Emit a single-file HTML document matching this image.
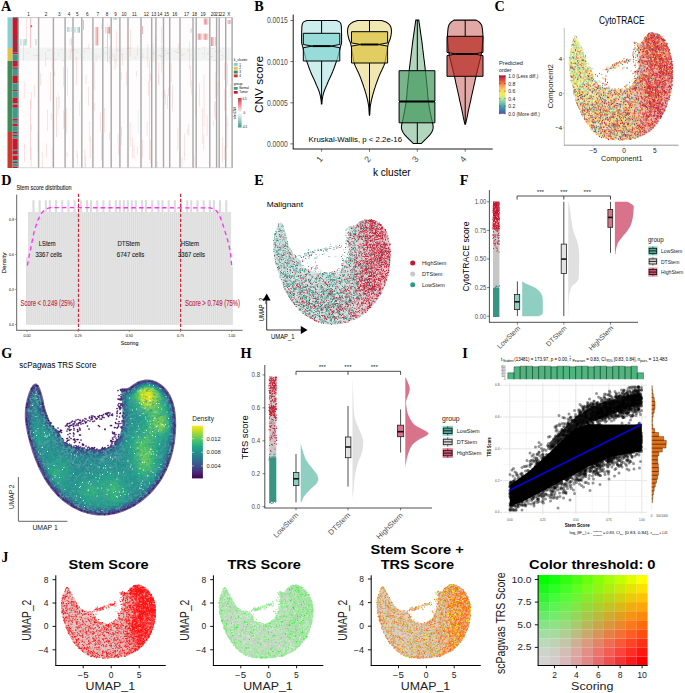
<!DOCTYPE html><html><head><meta charset="utf-8"><style>html,body{margin:0;padding:0;background:#fff;}svg{display:block;}</style></head><body><svg width="685" height="693" viewBox="0 0 685 693" font-family="'Liberation Sans', sans-serif"><text x="1" y="11.3" font-size="14.2" font-weight="bold" font-family="'Liberation Serif', serif">A</text><rect x="7.5" y="17.3" width="5" height="30.7" fill="#86d1d0"/><rect x="7.5" y="48" width="5" height="13" fill="#dcc24e"/><rect x="7.5" y="61" width="5" height="71" fill="#3f8b57"/><rect x="7.5" y="132" width="5" height="36" fill="#c93a2e"/><rect x="12.6" y="17.3" width="5.6" height="1.7" fill="#7a3a5a"/><rect x="12.6" y="19" width="5.6" height="21" fill="#c8182c"/><rect x="12.6" y="40" width="5.6" height="3" fill="#7a3a5a"/><rect x="12.6" y="43" width="5.6" height="4" fill="#c8182c"/><rect x="12.6" y="47" width="5.6" height="2" fill="#7a3a5a"/><rect x="12.6" y="49" width="5.6" height="2" fill="#c8182c"/><rect x="12.6" y="51" width="5.6" height="1.5" fill="#7a3a5a"/><rect x="12.6" y="52.5" width="5.6" height="1.9" fill="#c8182c"/><rect x="12.6" y="54.4" width="5.6" height="6.5" fill="#3a9a8c"/><rect x="12.6" y="60.9" width="5.6" height="2.1" fill="#c8182c"/><rect x="12.6" y="63" width="5.6" height="1" fill="#7a3a5a"/><rect x="12.6" y="64" width="5.6" height="2.5" fill="#c8182c"/><rect x="12.6" y="66.5" width="5.6" height="1" fill="#7a3a5a"/><rect x="12.6" y="67.5" width="5.6" height="1.4" fill="#c8182c"/><rect x="12.6" y="68.9" width="5.6" height="6.5" fill="#3a9a8c"/><rect x="12.6" y="75.4" width="5.6" height="7.9" fill="#c8182c"/><rect x="12.6" y="83.3" width="5.6" height="6.5" fill="#3a9a8c"/><rect x="12.6" y="89.8" width="5.6" height="1.4" fill="#c8182c"/><rect x="12.6" y="91.2" width="5.6" height="6.5" fill="#3a9a8c"/><rect x="12.6" y="97.7" width="5.6" height="5.8" fill="#c8182c"/><rect x="12.6" y="103.5" width="5.6" height="1.1" fill="#3a9a8c"/><rect x="12.6" y="104.6" width="5.6" height="3.2" fill="#c8182c"/><rect x="12.6" y="107.8" width="5.6" height="10.8" fill="#3a9a8c"/><rect x="12.6" y="118.6" width="5.6" height="2.2" fill="#c8182c"/><rect x="12.6" y="120.8" width="5.6" height="2.9" fill="#3a9a8c"/><rect x="12.6" y="123.7" width="5.6" height="2.9" fill="#c8182c"/><rect x="12.6" y="126.6" width="5.6" height="5.1" fill="#3a9a8c"/><rect x="12.6" y="131.7" width="5.6" height="1.3" fill="#c8182c"/><rect x="12.6" y="133" width="5.6" height="1.5" fill="#3a9a8c"/><rect x="12.6" y="134.5" width="5.6" height="1.5" fill="#7a3a5a"/><rect x="12.6" y="136" width="5.6" height="2.7" fill="#3a9a8c"/><rect x="12.6" y="138.7" width="5.6" height="11.1" fill="#c8182c"/><rect x="12.6" y="149.8" width="5.6" height="1.2" fill="#3a9a8c"/><rect x="12.6" y="151" width="5.6" height="3.5" fill="#c8182c"/><rect x="12.6" y="154.5" width="5.6" height="1.2" fill="#3a9a8c"/><rect x="12.6" y="155.7" width="5.6" height="4.6" fill="#c8182c"/><rect x="12.6" y="160.3" width="5.6" height="1.7" fill="#3a9a8c"/><rect x="12.6" y="162" width="5.6" height="1.5" fill="#7a3a5a"/><rect x="12.6" y="163.5" width="5.6" height="3.2" fill="#3a9a8c"/><rect x="12.6" y="166.7" width="5.6" height="1.3" fill="#c8182c"/><rect x="18.2" y="17.3" width="213.8" height="150.7" fill="#fefcfc"/><rect x="18.2" y="47.6" width="213.8" height="13.2" fill="#f1f4f3"/><defs><clipPath id="cA"><rect x="18.2" y="17.3" width="213.8" height="150.7"/></clipPath><pattern id="pR" width="1.2" height="2" patternUnits="userSpaceOnUse"><rect width="0.7" height="2" fill="#e47e7e"/></pattern><pattern id="pT" width="1.2" height="2" patternUnits="userSpaceOnUse"><rect width="0.7" height="2" fill="#7cc4b8"/></pattern></defs><g clip-path="url(#cA)"><rect x="30.8" y="147.1" width="0.5" height="24.2" fill="#f4caca"/><rect x="24.7" y="143.7" width="0.5" height="4.1" fill="#f4caca"/><rect x="34" y="85" width="0.5" height="11.9" fill="#f4caca"/><rect x="23.9" y="81.7" width="0.5" height="17.1" fill="#f4caca"/><rect x="37.7" y="132" width="0.5" height="20.2" fill="#cde8e4"/><rect x="23.1" y="40.5" width="0.5" height="19.9" fill="#f4caca"/><rect x="19.8" y="91.8" width="0.5" height="16.1" fill="#cde8e4"/><rect x="30.9" y="91.7" width="0.5" height="16.9" fill="#f4caca"/><rect x="19.3" y="45.1" width="0.5" height="22" fill="#f4caca"/><rect x="26" y="17.8" width="0.5" height="25.6" fill="#f4caca"/><rect x="24.1" y="144.7" width="0.5" height="17.3" fill="#f4caca"/><rect x="31.1" y="124.6" width="0.5" height="6.4" fill="#f4caca"/><rect x="46.1" y="143.4" width="0.5" height="13.4" fill="#f4caca"/><rect x="40.2" y="73.4" width="0.5" height="12.4" fill="#f4caca"/><rect x="50.2" y="72.2" width="0.5" height="29.4" fill="#f4caca"/><rect x="47.4" y="109.6" width="0.5" height="21.6" fill="#f4caca"/><rect x="45.2" y="52" width="0.5" height="14.5" fill="#f4caca"/><rect x="52.2" y="48.4" width="0.5" height="21.5" fill="#f4caca"/><rect x="50.9" y="113.1" width="0.5" height="7.4" fill="#f4caca"/><rect x="51.9" y="148.1" width="0.5" height="18.8" fill="#f4caca"/><rect x="41.9" y="151.6" width="0.5" height="18.4" fill="#f4caca"/><rect x="63.1" y="110.1" width="0.5" height="18.8" fill="#f4caca"/><rect x="58.4" y="52" width="0.5" height="5" fill="#cde8e4"/><rect x="58.9" y="96.5" width="0.5" height="12.4" fill="#f4caca"/><rect x="54.5" y="71.2" width="0.5" height="4.8" fill="#f4caca"/><rect x="64" y="112.5" width="0.5" height="15.1" fill="#f4caca"/><rect x="63" y="67.1" width="0.5" height="19.3" fill="#f4caca"/><rect x="57.8" y="92.4" width="0.5" height="23.9" fill="#cde8e4"/><rect x="66.9" y="152.4" width="0.5" height="4.1" fill="#f4caca"/><rect x="71" y="37.1" width="0.5" height="14.9" fill="#f4caca"/><rect x="66" y="108.2" width="0.5" height="24.6" fill="#f4caca"/><rect x="70.5" y="50.1" width="0.5" height="9.2" fill="#f4caca"/><rect x="67" y="67.4" width="0.5" height="28.7" fill="#f4caca"/><rect x="76.2" y="56.6" width="0.5" height="28.8" fill="#f4caca"/><rect x="80.9" y="91.9" width="0.5" height="17.6" fill="#cde8e4"/><rect x="79.1" y="101.3" width="0.5" height="15.1" fill="#cde8e4"/><rect x="76.8" y="150.8" width="0.5" height="5.8" fill="#f4caca"/><rect x="77.5" y="154.9" width="0.5" height="10.5" fill="#f4caca"/><rect x="89" y="121.1" width="0.5" height="20.4" fill="#cde8e4"/><rect x="85.8" y="74.9" width="0.5" height="9.3" fill="#f4caca"/><rect x="84.6" y="149.8" width="0.5" height="25.8" fill="#f4caca"/><rect x="88.3" y="86.6" width="0.5" height="19.5" fill="#f4caca"/><rect x="85.5" y="156.4" width="0.5" height="16.1" fill="#f4caca"/><rect x="88.6" y="43.9" width="0.5" height="5.6" fill="#f4caca"/><rect x="89.9" y="135.3" width="0.5" height="23" fill="#f4caca"/><rect x="101.3" y="133.4" width="0.5" height="26.8" fill="#f4caca"/><rect x="101.3" y="24.1" width="0.5" height="4.8" fill="#f4caca"/><rect x="95.8" y="53.3" width="0.5" height="8.9" fill="#f4caca"/><rect x="94" y="102.7" width="0.5" height="8.3" fill="#f4caca"/><rect x="93.9" y="62.2" width="0.5" height="28.4" fill="#f4caca"/><rect x="100.4" y="112.5" width="0.5" height="19.9" fill="#f4caca"/><rect x="107.5" y="23" width="0.5" height="24.8" fill="#cde8e4"/><rect x="109.4" y="24.6" width="0.5" height="12.8" fill="#f4caca"/><rect x="104.4" y="108" width="0.5" height="24.7" fill="#f4caca"/><rect x="109.5" y="132.6" width="0.5" height="7.4" fill="#f4caca"/><rect x="109.6" y="45.8" width="0.5" height="18.9" fill="#f4caca"/><rect x="116.3" y="31.2" width="0.5" height="21.2" fill="#f4caca"/><rect x="117.8" y="133.6" width="0.5" height="12.5" fill="#f4caca"/><rect x="118.2" y="146.5" width="0.5" height="8.2" fill="#f4caca"/><rect x="116.6" y="48.4" width="0.5" height="18.7" fill="#cde8e4"/><rect x="114.7" y="53.9" width="0.5" height="15.9" fill="#f4caca"/><rect x="121.4" y="72.4" width="0.5" height="7.5" fill="#f4caca"/><rect x="126.1" y="71.8" width="0.5" height="13.7" fill="#f4caca"/><rect x="122.1" y="53.1" width="0.5" height="12.6" fill="#f4caca"/><rect x="121.2" y="126.2" width="0.5" height="19.1" fill="#f4caca"/><rect x="121.2" y="127.7" width="0.5" height="7.4" fill="#f4caca"/><rect x="130.3" y="29.1" width="0.5" height="27.6" fill="#f4caca"/><rect x="132.3" y="137.8" width="0.5" height="20.1" fill="#f4caca"/><rect x="133.8" y="145.2" width="0.5" height="13.8" fill="#f4caca"/><rect x="129.9" y="122.5" width="0.5" height="24.2" fill="#f4caca"/><rect x="136.5" y="70.9" width="0.5" height="5.7" fill="#f4caca"/><rect x="137.4" y="44.9" width="0.5" height="10.9" fill="#f4caca"/><rect x="137.3" y="147" width="0.5" height="7.3" fill="#f4caca"/><rect x="137.9" y="110.6" width="0.5" height="22.7" fill="#cde8e4"/><rect x="150.3" y="139.3" width="0.5" height="24.2" fill="#f4caca"/><rect x="147.6" y="44" width="0.5" height="23.7" fill="#f4caca"/><rect x="148.4" y="81.7" width="0.5" height="13.8" fill="#f4caca"/><rect x="142.1" y="139.5" width="0.5" height="18.1" fill="#f4caca"/><rect x="146.8" y="121.7" width="0.5" height="13.9" fill="#f4caca"/><rect x="150.2" y="73.4" width="0.5" height="7.6" fill="#f4caca"/><rect x="155.1" y="38.7" width="0.5" height="22.5" fill="#f4caca"/><rect x="154.9" y="35.2" width="0.5" height="6.4" fill="#cde8e4"/><rect x="152.8" y="42.9" width="0.5" height="18.9" fill="#f4caca"/><rect x="161.2" y="44.9" width="0.5" height="27.8" fill="#f4caca"/><rect x="161.3" y="27.1" width="0.5" height="16.3" fill="#f4caca"/><rect x="158.6" y="62.5" width="0.5" height="22.7" fill="#f4caca"/><rect x="157" y="161.3" width="0.5" height="27.1" fill="#cde8e4"/><rect x="158.2" y="74.3" width="0.5" height="9.9" fill="#f4caca"/><rect x="164.5" y="90.1" width="0.5" height="7.2" fill="#f4caca"/><rect x="168.3" y="87.4" width="0.5" height="8.8" fill="#f4caca"/><rect x="165.5" y="93.5" width="0.5" height="11.4" fill="#f4caca"/><rect x="167.2" y="94.9" width="0.5" height="14.3" fill="#f4caca"/><rect x="178.1" y="43.3" width="0.5" height="7.5" fill="#f4caca"/><rect x="179" y="153.5" width="0.5" height="10" fill="#cde8e4"/><rect x="172.3" y="90.6" width="0.5" height="16.9" fill="#cde8e4"/><rect x="170.9" y="62.9" width="0.5" height="19.6" fill="#f4caca"/><rect x="172.6" y="84.6" width="0.5" height="26.9" fill="#f4caca"/><rect x="177.7" y="127.4" width="0.5" height="22.4" fill="#f4caca"/><rect x="188.6" y="123.8" width="0.5" height="11.8" fill="#f4caca"/><rect x="189.4" y="41.3" width="0.5" height="27.9" fill="#f4caca"/><rect x="184.6" y="152.8" width="0.5" height="8" fill="#f4caca"/><rect x="181.8" y="157" width="0.5" height="19" fill="#f4caca"/><rect x="184" y="133.3" width="0.5" height="22.3" fill="#f4caca"/><rect x="191.6" y="80" width="0.5" height="14.8" fill="#f4caca"/><rect x="190.3" y="65.8" width="0.5" height="21.4" fill="#f4caca"/><rect x="187.1" y="128.6" width="0.5" height="5.7" fill="#f4caca"/><rect x="193.8" y="156" width="0.5" height="16.2" fill="#f4caca"/><rect x="195" y="93" width="0.5" height="23" fill="#f4caca"/><rect x="203.8" y="98.1" width="0.5" height="28.2" fill="#f4caca"/><rect x="202.4" y="108.6" width="0.5" height="18.3" fill="#f4caca"/><rect x="204.1" y="49.5" width="0.5" height="9.1" fill="#cde8e4"/><rect x="199.4" y="83" width="0.5" height="23.5" fill="#f4caca"/><rect x="203.6" y="134.1" width="0.5" height="16.1" fill="#f4caca"/><rect x="206.8" y="115.4" width="0.5" height="20.7" fill="#f4caca"/><rect x="203.7" y="74.6" width="0.5" height="23.4" fill="#f4caca"/><rect x="202.6" y="126.6" width="0.5" height="17.1" fill="#f4caca"/><rect x="214.9" y="72.4" width="0.5" height="26" fill="#f4caca"/><rect x="212.9" y="120.5" width="0.5" height="4.9" fill="#f4caca"/><rect x="215.1" y="101.2" width="0.5" height="18.5" fill="#f4caca"/><rect x="214.1" y="101.7" width="0.5" height="14.9" fill="#f4caca"/><rect x="217.7" y="59.7" width="0.5" height="15.2" fill="#cde8e4"/><rect x="217.8" y="82" width="0.5" height="13.7" fill="#f4caca"/><rect x="224.6" y="145.9" width="0.5" height="13.8" fill="#f4caca"/><rect x="224.3" y="88.8" width="0.5" height="21.8" fill="#f4caca"/><rect x="224.2" y="62.6" width="0.5" height="16.9" fill="#f4caca"/><rect x="222.1" y="137.1" width="0.5" height="25.5" fill="#f4caca"/><rect x="230.2" y="83.6" width="0.5" height="13.7" fill="#f4caca"/><rect x="227.5" y="63.1" width="0.5" height="22.4" fill="#f4caca"/><rect x="226.8" y="123.3" width="0.5" height="25.3" fill="#f4caca"/><rect x="226.8" y="116.1" width="0.5" height="10.4" fill="#f4caca"/><rect x="98.8" y="55.8" width="1.8" height="0.5" fill="#f2c4c4"/><rect x="120" y="54.3" width="2.9" height="0.5" fill="#f2c4c4"/><rect x="62.1" y="60" width="1.9" height="0.5" fill="#f2c4c4"/><rect x="83.9" y="50.8" width="1.2" height="0.5" fill="#f2c4c4"/><rect x="108.7" y="57.5" width="3.1" height="0.5" fill="#f2c4c4"/><rect x="60.5" y="49.3" width="2" height="0.5" fill="#f2c4c4"/><rect x="181.9" y="53.8" width="3.8" height="0.5" fill="#f2c4c4"/><rect x="158.2" y="55.6" width="3.3" height="0.5" fill="#f2c4c4"/><rect x="178.1" y="52" width="1.8" height="0.5" fill="#f2c4c4"/><rect x="111.8" y="53.9" width="1.4" height="0.5" fill="#f2c4c4"/><rect x="112.6" y="55.8" width="1.4" height="0.5" fill="#f2c4c4"/><rect x="48.3" y="49.8" width="1.8" height="0.5" fill="#f2c4c4"/><rect x="222.9" y="47.8" width="1.6" height="0.5" fill="#f2c4c4"/><rect x="54" y="53.7" width="1" height="0.5" fill="#f2c4c4"/><rect x="116.1" y="49.6" width="1.8" height="0.5" fill="#f2c4c4"/><rect x="187" y="49.9" width="2.9" height="0.5" fill="#f2c4c4"/><rect x="105.1" y="52.9" width="3.5" height="0.5" fill="#f2c4c4"/><rect x="53.1" y="59.5" width="3.7" height="0.5" fill="#f2c4c4"/><rect x="160.7" y="48.1" width="3" height="0.5" fill="#f2c4c4"/><rect x="146.3" y="57.5" width="1.6" height="0.5" fill="#f2c4c4"/><rect x="221.1" y="59" width="1.3" height="0.5" fill="#f2c4c4"/><rect x="85.8" y="47.9" width="3.5" height="0.5" fill="#f2c4c4"/><rect x="213" y="60.4" width="2.8" height="0.5" fill="#f2c4c4"/><rect x="160.2" y="56.3" width="2.7" height="0.5" fill="#f2c4c4"/><rect x="220.9" y="55.4" width="2" height="0.5" fill="#f2c4c4"/><rect x="127.7" y="47.7" width="3.2" height="0.5" fill="#f2c4c4"/><rect x="166.1" y="53" width="3.6" height="0.5" fill="#f2c4c4"/><rect x="179.2" y="51.9" width="1.2" height="0.5" fill="#f2c4c4"/><rect x="47" y="49.9" width="1.9" height="0.5" fill="#f2c4c4"/><rect x="113.9" y="59.6" width="1.8" height="0.5" fill="#f2c4c4"/><rect x="209.5" y="56.3" width="3.6" height="0.5" fill="#f2c4c4"/><rect x="104.5" y="47.5" width="3.4" height="0.5" fill="#f2c4c4"/><rect x="71" y="49.4" width="3.4" height="0.5" fill="#f2c4c4"/><rect x="164.5" y="50.3" width="1.8" height="0.5" fill="#f2c4c4"/><rect x="218.1" y="51" width="3.1" height="0.5" fill="#f2c4c4"/><rect x="46.5" y="58.1" width="1.4" height="0.5" fill="#f2c4c4"/><rect x="128.4" y="48" width="2.7" height="0.5" fill="#f2c4c4"/><rect x="198.5" y="48.6" width="1.8" height="0.5" fill="#f2c4c4"/><rect x="181.1" y="55.4" width="1.9" height="0.5" fill="#f2c4c4"/><rect x="152.3" y="53.4" width="3.6" height="0.5" fill="#f2c4c4"/><rect x="81.1" y="57.4" width="2.9" height="0.5" fill="#f2c4c4"/><rect x="176" y="52.4" width="3.2" height="0.5" fill="#f2c4c4"/><rect x="167.1" y="52.5" width="1.1" height="0.5" fill="#f2c4c4"/><rect x="223.1" y="56.8" width="1.6" height="0.5" fill="#f2c4c4"/><rect x="173.9" y="51.1" width="2.4" height="0.5" fill="#f2c4c4"/><rect x="201.3" y="53.3" width="1.9" height="0.5" fill="#f2c4c4"/><rect x="83.8" y="48.5" width="1.7" height="0.5" fill="#f2c4c4"/><rect x="76.5" y="49.7" width="1.2" height="0.5" fill="#f2c4c4"/><rect x="117.7" y="50.3" width="3.2" height="0.5" fill="#f2c4c4"/><rect x="214.6" y="51" width="2.7" height="0.5" fill="#f2c4c4"/><rect x="126.4" y="48.5" width="1.4" height="0.5" fill="#f2c4c4"/><rect x="206.6" y="53.7" width="3.4" height="0.5" fill="#f2c4c4"/><rect x="33.1" y="55.2" width="3.6" height="0.5" fill="#f2c4c4"/><rect x="202.8" y="47.6" width="2.6" height="0.5" fill="#f2c4c4"/><rect x="97.2" y="57.4" width="1.2" height="0.5" fill="#f2c4c4"/><rect x="75.2" y="58.1" width="2.4" height="0.5" fill="#f2c4c4"/><rect x="115.1" y="60.1" width="2" height="0.5" fill="#f2c4c4"/><rect x="27.8" y="52.6" width="1.5" height="0.5" fill="#f2c4c4"/><rect x="36.4" y="54.9" width="3.9" height="0.5" fill="#f2c4c4"/><rect x="141.8" y="55.9" width="2" height="0.5" fill="#f2c4c4"/><rect x="140.1" y="57.3" width="2.8" height="0.5" fill="#f2c4c4"/><rect x="189.2" y="54.7" width="1.6" height="0.5" fill="#f2c4c4"/><rect x="142.5" y="53.9" width="1.5" height="0.5" fill="#f2c4c4"/><rect x="150.3" y="58.1" width="1.4" height="0.5" fill="#f2c4c4"/><rect x="134.5" y="57" width="2.2" height="0.5" fill="#f2c4c4"/><rect x="76.2" y="52.3" width="2.6" height="0.5" fill="#f2c4c4"/><rect x="164.6" y="54.8" width="1.3" height="0.5" fill="#f2c4c4"/><rect x="192.4" y="59.5" width="1.3" height="0.5" fill="#f2c4c4"/><rect x="71.9" y="49.8" width="3.5" height="0.5" fill="#f2c4c4"/><rect x="212" y="48.1" width="2" height="0.5" fill="#f2c4c4"/></g><rect x="30.2" y="25.3" width="1.9" height="1.9" fill="#d83a3a"/><rect x="30.3" y="18" width="0.8" height="30" fill="#f0b4b4"/><rect x="19.8" y="39" width="7" height="6.5" fill="url(#pT)" opacity="0.6"/><rect x="34.3" y="39" width="2.4" height="6.5" fill="url(#pT)" opacity="0.6"/><rect x="67.2" y="27" width="4.8" height="5" fill="url(#pT)" opacity="0.7"/><rect x="69.6" y="39" width="2.4" height="6.5" fill="url(#pT)" opacity="0.6"/><rect x="74.4" y="27" width="5.6" height="5.7" fill="url(#pT)" opacity="0.8"/><rect x="94.5" y="27" width="4" height="18.5" fill="url(#pR)" opacity="0.7"/><rect x="105" y="27" width="5.5" height="6.5" fill="url(#pR)" opacity="0.8"/><rect x="107" y="27" width="0.8" height="35" fill="#f0c0c0"/><rect x="203.5" y="18.4" width="5.7" height="6.2" fill="url(#pR)" opacity="0.8"/><rect x="197.3" y="33.6" width="11.9" height="6.2" fill="url(#pR)" opacity="0.75"/><rect x="211" y="37" width="5.7" height="9" fill="url(#pR)" opacity="0.8"/><rect x="227" y="20" width="4.5" height="4" fill="url(#pR)" opacity="0.6"/><rect x="189.8" y="28.5" width="2.2" height="4.3" fill="url(#pT)" opacity="0.8"/><rect x="142" y="26" width="1" height="8" fill="#f0b8b8"/><rect x="149" y="60" width="0.9" height="100" fill="#f5d4d4"/><rect x="56" y="97" width="0.8" height="40" fill="#f5d4d4"/><rect x="30" y="100" width="0.8" height="60" fill="#f4cccc"/><rect x="83" y="20" width="1" height="10" fill="#f0b8b8"/><rect x="112.5" y="18" width="5" height="1.8" fill="url(#pT)" opacity="0.7"/><rect x="17.6" y="17.3" width="1.4" height="150.7" fill="#a9a9a9"/><rect x="37.9" y="17.3" width="1.4" height="150.7" fill="#a9a9a9"/><rect x="52.7" y="17.3" width="1.4" height="150.7" fill="#a9a9a9"/><rect x="64.4" y="17.3" width="1.4" height="150.7" fill="#a9a9a9"/><rect x="72.3" y="17.3" width="1.4" height="150.7" fill="#a9a9a9"/><rect x="81.1" y="17.3" width="1.4" height="150.7" fill="#a9a9a9"/><rect x="92.2" y="17.3" width="1.4" height="150.7" fill="#a9a9a9"/><rect x="102.1" y="17.3" width="1.4" height="150.7" fill="#a9a9a9"/><rect x="110.5" y="17.3" width="1.4" height="150.7" fill="#a9a9a9"/><rect x="119.2" y="17.3" width="1.4" height="150.7" fill="#a9a9a9"/><rect x="127.3" y="17.3" width="1.4" height="150.7" fill="#a9a9a9"/><rect x="140.3" y="17.3" width="1.4" height="150.7" fill="#a9a9a9"/><rect x="151" y="17.3" width="1.4" height="150.7" fill="#a9a9a9"/><rect x="155.2" y="17.3" width="1.4" height="150.7" fill="#a9a9a9"/><rect x="162.8" y="17.3" width="1.4" height="150.7" fill="#a9a9a9"/><rect x="169" y="17.3" width="1.4" height="150.7" fill="#a9a9a9"/><rect x="179.3" y="17.3" width="1.4" height="150.7" fill="#a9a9a9"/><rect x="192.3" y="17.3" width="1.4" height="150.7" fill="#a9a9a9"/><rect x="195.5" y="17.3" width="1.4" height="150.7" fill="#a9a9a9"/><rect x="209.1" y="17.3" width="1.4" height="150.7" fill="#a9a9a9"/><rect x="215.9" y="17.3" width="1.4" height="150.7" fill="#a9a9a9"/><rect x="218.5" y="17.3" width="1.4" height="150.7" fill="#a9a9a9"/><rect x="225" y="17.3" width="1.4" height="150.7" fill="#a9a9a9"/><rect x="231.4" y="17.3" width="1.4" height="150.7" fill="#a9a9a9"/><line x1="18.2" y1="17.6" x2="232" y2="17.6" stroke="#b0b0b0" stroke-width="0.7"/><line x1="18.2" y1="167.7" x2="232" y2="167.7" stroke="#c8c8c8" stroke-width="0.7"/><text x="28.5" y="15.8" font-size="4.6" text-anchor="middle" fill="#222">1</text><text x="46" y="15.8" font-size="4.6" text-anchor="middle" fill="#222">2</text><text x="59.2" y="15.8" font-size="4.6" text-anchor="middle" fill="#222">3</text><text x="69" y="15.8" font-size="4.6" text-anchor="middle" fill="#222">4</text><text x="77.4" y="15.8" font-size="4.6" text-anchor="middle" fill="#222">5</text><text x="87.3" y="15.8" font-size="4.6" text-anchor="middle" fill="#222">6</text><text x="97.8" y="15.8" font-size="4.6" text-anchor="middle" fill="#222">7</text><text x="107" y="15.8" font-size="4.6" text-anchor="middle" fill="#222">8</text><text x="115.6" y="15.8" font-size="4.6" text-anchor="middle" fill="#222">9</text><text x="124" y="15.8" font-size="4.6" text-anchor="middle" fill="#222">10</text><text x="134.5" y="15.8" font-size="4.6" text-anchor="middle" fill="#222">11</text><text x="146.3" y="15.8" font-size="4.6" text-anchor="middle" fill="#222">12</text><text x="153.8" y="15.8" font-size="4.6" text-anchor="middle" fill="#222">13</text><text x="159.7" y="15.8" font-size="4.6" text-anchor="middle" fill="#222">14</text><text x="166.6" y="15.8" font-size="4.6" text-anchor="middle" fill="#222">15</text><text x="174.8" y="15.8" font-size="4.6" text-anchor="middle" fill="#222">16</text><text x="186.5" y="15.8" font-size="4.6" text-anchor="middle" fill="#222">17</text><text x="194.6" y="15.8" font-size="4.6" text-anchor="middle" fill="#222">18</text><text x="203" y="15.8" font-size="4.6" text-anchor="middle" fill="#222">19</text><text x="213.2" y="15.8" font-size="4.6" text-anchor="middle" fill="#222">20</text><text x="217.9" y="15.8" font-size="4.6" text-anchor="middle" fill="#222">21</text><text x="222.4" y="15.8" font-size="4.6" text-anchor="middle" fill="#222">22</text><text x="228.9" y="15.8" font-size="4.6" text-anchor="middle" fill="#222">X</text><text x="233.8" y="61.2" font-size="3.4">k_cluster</text><rect x="233.8" y="63" width="3.9" height="2.9" fill="#86d1d0"/><text x="239.2" y="65.6" font-size="3.0">1</text><rect x="233.8" y="66.8" width="3.9" height="2.9" fill="#dcc24e"/><text x="239.2" y="69.4" font-size="3.0">2</text><rect x="233.8" y="70.6" width="3.9" height="2.9" fill="#3f8b57"/><text x="239.2" y="73.2" font-size="3.0">3</text><rect x="233.8" y="74.4" width="3.9" height="2.9" fill="#c93a2e"/><text x="239.2" y="77" font-size="3.0">4</text><text x="233.8" y="85" font-size="3.4">group</text><rect x="233.8" y="87" width="3.9" height="2.7" fill="#3a9a8c"/><text x="239.2" y="89.4" font-size="3.0">Normal</text><rect x="233.8" y="91" width="3.9" height="2.7" fill="#c8182c"/><text x="239.2" y="93.4" font-size="3.0">Tumor</text><defs><linearGradient id="gA" x1="0" y1="0" x2="0" y2="1"><stop offset="0" stop-color="#d1343c"/><stop offset="0.5" stop-color="#ffffff"/><stop offset="1" stop-color="#3f9c8c"/></linearGradient></defs><rect x="238" y="98" width="3.6" height="29.5" fill="url(#gA)"/><text x="242.5" y="100.2" font-size="3.0">0.5</text><text x="243.5" y="113.8" font-size="3.0">0</text><text x="242" y="127.6" font-size="3.0">-0.5</text><text x="236.2" y="113" font-size="3.0" text-anchor="middle" transform="rotate(-90 236.2 113)">inferCNV</text><text x="254.2" y="11.3" font-size="14.2" font-weight="bold" font-family="'Liberation Serif', serif">B</text><path d="M336.5 20.4 L339.5 21.8 L340.6 23.2 L341 24.7 L341.3 26.1 L341.4 27.5 L341.4 28.9 L341.5 30.3 L341.5 31.7 L341.5 33.2 L341.6 34.6 L341.6 36 L341.6 37.4 L341.6 38.8 L341.6 40.2 L341.6 41.7 L341.5 43.1 L341.2 44.5 L340.7 45.9 L340.3 47.3 L340 48.7 L339.6 50.2 L339.2 51.6 L338.9 53 L338.5 54.4 L338.1 55.8 L337.7 57.2 L337.3 58.7 L336.8 60.1 L336.4 61.5 L335.9 62.9 L335.4 64.3 L334.9 65.7 L334.4 67.2 L333.9 68.6 L333.3 70 L332.8 71.4 L332.2 72.8 L331.6 74.2 L330.9 75.7 L330.3 77.1 L329.6 78.5 L328.9 79.9 L328.3 81.3 L327.7 82.7 L327.1 84.2 L326.5 85.6 L325.9 87 L325.3 88.4 L324.7 89.8 L324.2 91.2 L323.7 92.7 L323.3 94.1 L322.9 95.5 L322.7 96.9 L322.4 98.3 L322.2 99.7 L322 101.2 L321.9 102.6 L321.8 104 L321.4 104 L321.3 102.6 L321.2 101.2 L321 99.7 L320.8 98.3 L320.5 96.9 L320.3 95.5 L319.9 94.1 L319.5 92.7 L319 91.2 L318.5 89.8 L317.9 88.4 L317.3 87 L316.7 85.6 L316.1 84.2 L315.5 82.7 L314.9 81.3 L314.3 79.9 L313.6 78.5 L312.9 77.1 L312.3 75.7 L311.6 74.2 L311 72.8 L310.4 71.4 L309.9 70 L309.3 68.6 L308.8 67.2 L308.3 65.7 L307.8 64.3 L307.3 62.9 L306.8 61.5 L306.4 60.1 L305.9 58.7 L305.5 57.2 L305.1 55.8 L304.7 54.4 L304.3 53 L304 51.6 L303.6 50.2 L303.2 48.7 L302.9 47.3 L302.5 45.9 L302 44.5 L301.7 43.1 L301.6 41.7 L301.6 40.2 L301.6 38.8 L301.6 37.4 L301.6 36 L301.6 34.6 L301.7 33.2 L301.7 31.7 L301.7 30.3 L301.8 28.9 L301.8 27.5 L301.9 26.1 L302.2 24.7 L302.6 23.2 L303.7 21.8 L306.7 20.4Z" fill="#82d4d2" fill-opacity="0.4" stroke="#000" stroke-width="1.05"/><line x1="321.6" y1="20.4" x2="321.6" y2="33.3" stroke="#000" stroke-width="1.0"/><line x1="321.6" y1="61" x2="321.6" y2="104" stroke="#000" stroke-width="1.0"/><path d="M303.3 33.3 H339.8 V44.5 L330.8 46.1 L339.8 47.7 V61 H303.3 V47.7 L312.3 46.1 L303.3 44.5 Z" fill="#82d4d2" fill-opacity="0.7" stroke="#000" stroke-width="1.0"/><line x1="312.3" y1="46.1" x2="330.8" y2="46.1" stroke="#000" stroke-width="2.0"/><path d="M381.5 20.4 L386 22 L388.4 23.6 L390 25.2 L390.7 26.8 L391.2 28.4 L391.4 30 L391.5 31.6 L391.3 33.3 L391.1 34.9 L390.8 36.5 L390.4 38.1 L389.8 39.7 L389.2 41.3 L388.6 42.9 L388.1 44.5 L387.8 46.1 L387.5 47.7 L387.2 49.3 L387 50.9 L386.7 52.5 L386.5 54.1 L386.2 55.7 L385.9 57.4 L385.7 59 L385.4 60.6 L385 62.2 L384.6 63.8 L384 65.4 L383.3 67 L382.5 68.6 L381.8 70.2 L381 71.8 L380.2 73.4 L379.6 75 L378.9 76.6 L378.3 78.2 L377.7 79.9 L377.1 81.5 L376.5 83.1 L375.9 84.7 L375.4 86.3 L374.9 87.9 L374.3 89.5 L373.9 91.1 L373.4 92.7 L372.9 94.3 L372.5 95.9 L372.1 97.5 L371.7 99.1 L371.3 100.7 L371 102.3 L370.7 104 L370.4 105.6 L370.2 107.2 L370.1 108.8 L370 110.4 L369.9 112 L369.8 113.6 L369.6 115.2 L369.4 115.2 L369.2 113.6 L369.1 112 L369 110.4 L368.9 108.8 L368.8 107.2 L368.6 105.6 L368.3 104 L368 102.3 L367.7 100.7 L367.3 99.1 L366.9 97.5 L366.5 95.9 L366.1 94.3 L365.6 92.7 L365.1 91.1 L364.7 89.5 L364.1 87.9 L363.6 86.3 L363.1 84.7 L362.5 83.1 L361.9 81.5 L361.3 79.9 L360.7 78.2 L360.1 76.6 L359.4 75 L358.8 73.4 L358 71.8 L357.2 70.2 L356.5 68.6 L355.7 67 L355 65.4 L354.4 63.8 L354 62.2 L353.6 60.6 L353.3 59 L353.1 57.4 L352.8 55.7 L352.5 54.1 L352.3 52.5 L352 50.9 L351.8 49.3 L351.5 47.7 L351.2 46.1 L350.9 44.5 L350.4 42.9 L349.8 41.3 L349.2 39.7 L348.6 38.1 L348.2 36.5 L347.9 34.9 L347.7 33.3 L347.5 31.6 L347.6 30 L347.8 28.4 L348.3 26.8 L349 25.2 L350.6 23.6 L353 22 L357.5 20.4Z" fill="#dac240" fill-opacity="0.4" stroke="#000" stroke-width="1.05"/><line x1="369.5" y1="20.4" x2="369.5" y2="31.7" stroke="#000" stroke-width="1.0"/><line x1="369.5" y1="63" x2="369.5" y2="115.2" stroke="#000" stroke-width="1.0"/><path d="M351.5 31.7 H387.6 V42.9 L378.6 44.5 L387.6 46.1 V63 H351.5 V46.1 L360.5 44.5 L351.5 42.9 Z" fill="#dac240" fill-opacity="0.7" stroke="#000" stroke-width="1.0"/><line x1="360.5" y1="44.5" x2="378.6" y2="44.5" stroke="#000" stroke-width="2.0"/><path d="M418.8 20.1 L419.1 22.2 L419.4 24.3 L419.7 26.4 L420 28.5 L420.3 30.6 L420.6 32.6 L420.9 34.7 L421.2 36.8 L421.5 38.9 L421.8 41 L422.1 43.1 L422.3 45.2 L422.6 47.3 L422.8 49.4 L423.1 51.5 L423.3 53.6 L423.6 55.7 L423.8 57.7 L424.1 59.8 L424.4 61.9 L424.6 64 L424.9 66.1 L425.1 68.2 L425.4 70.3 L425.6 72.4 L425.8 74.5 L426 76.6 L426.3 78.7 L426.5 80.8 L426.7 82.8 L426.9 84.9 L427.1 87 L427.3 89.1 L427.5 91.2 L427.6 93.3 L427.8 95.4 L428 97.5 L428.2 99.6 L428.5 101.7 L428.8 103.8 L429.1 105.9 L429.5 107.9 L429.8 110 L430.2 112.1 L430.6 114.2 L431.1 116.3 L431.5 118.4 L432 120.5 L432.5 122.6 L432.9 124.7 L433.2 126.8 L433 128.9 L432.3 131 L431.2 133 L429.6 135.1 L427.7 137.2 L425.5 139.3 L423.4 141.4 L421.3 143.5 L413.3 143.5 L411.2 141.4 L409.1 139.3 L406.9 137.2 L405 135.1 L403.4 133 L402.3 131 L401.6 128.9 L401.4 126.8 L401.7 124.7 L402.1 122.6 L402.6 120.5 L403.1 118.4 L403.5 116.3 L404 114.2 L404.4 112.1 L404.8 110 L405.1 107.9 L405.5 105.9 L405.8 103.8 L406.1 101.7 L406.4 99.6 L406.6 97.5 L406.8 95.4 L407 93.3 L407.1 91.2 L407.3 89.1 L407.5 87 L407.7 84.9 L407.9 82.8 L408.1 80.8 L408.3 78.7 L408.6 76.6 L408.8 74.5 L409 72.4 L409.2 70.3 L409.5 68.2 L409.7 66.1 L410 64 L410.2 61.9 L410.5 59.8 L410.8 57.7 L411 55.7 L411.3 53.6 L411.5 51.5 L411.8 49.4 L412 47.3 L412.3 45.2 L412.5 43.1 L412.8 41 L413.1 38.9 L413.4 36.8 L413.7 34.7 L414 32.6 L414.3 30.6 L414.6 28.5 L414.9 26.4 L415.2 24.3 L415.5 22.2 L415.8 20.1Z" fill="#3e965a" fill-opacity="0.4" stroke="#000" stroke-width="1.05"/><line x1="417.3" y1="20.1" x2="417.3" y2="70.7" stroke="#000" stroke-width="1.0"/><line x1="417.3" y1="122.8" x2="417.3" y2="143.5" stroke="#000" stroke-width="1.0"/><path d="M399.1 70.7 H434.9 V100.8 L434.4 101.4 L434.9 102 V122.8 H399.1 V102 L399.6 101.4 L399.1 100.8 Z" fill="#3e965a" fill-opacity="0.7" stroke="#000" stroke-width="1.0"/><line x1="399.1" y1="101.4" x2="434.9" y2="101.4" stroke="#000" stroke-width="2.0"/><path d="M476.2 20.1 L479.1 21.9 L480.6 23.6 L481.7 25.4 L482.1 27.2 L482.4 28.9 L482.6 30.7 L482.7 32.5 L482.9 34.2 L482.9 36 L482.9 37.8 L482.8 39.5 L482.7 41.3 L482.6 43.1 L482.4 44.8 L482.3 46.6 L482.1 48.4 L481.9 50.1 L481.6 51.9 L481.3 53.7 L481 55.4 L480.7 57.2 L480.2 59 L479.8 60.7 L479.3 62.5 L478.9 64.3 L478.5 66 L478 67.8 L477.6 69.6 L477.2 71.3 L476.8 73.1 L476.3 74.8 L475.9 76.6 L475.5 78.4 L475.1 80.1 L474.8 81.9 L474.4 83.7 L474 85.4 L473.6 87.2 L473.2 89 L472.8 90.7 L472.4 92.5 L472 94.3 L471.6 96 L471.2 97.8 L470.9 99.6 L470.5 101.3 L470.1 103.1 L469.7 104.9 L469.3 106.6 L468.9 108.4 L468.5 110.2 L468.1 111.9 L467.8 113.7 L467.4 115.5 L467.1 117.2 L466.7 119 L466.3 120.8 L465.9 122.5 L465.4 124.3 L465 124.3 L464.5 122.5 L464.1 120.8 L463.7 119 L463.3 117.2 L463 115.5 L462.6 113.7 L462.3 111.9 L461.9 110.2 L461.5 108.4 L461.1 106.6 L460.7 104.9 L460.3 103.1 L459.9 101.3 L459.5 99.6 L459.2 97.8 L458.8 96 L458.4 94.3 L458 92.5 L457.6 90.7 L457.2 89 L456.8 87.2 L456.4 85.4 L456 83.7 L455.6 81.9 L455.3 80.1 L454.9 78.4 L454.5 76.6 L454.1 74.8 L453.6 73.1 L453.2 71.3 L452.8 69.6 L452.4 67.8 L451.9 66 L451.5 64.3 L451.1 62.5 L450.6 60.7 L450.2 59 L449.7 57.2 L449.4 55.4 L449.1 53.7 L448.8 51.9 L448.5 50.1 L448.3 48.4 L448.1 46.6 L448 44.8 L447.8 43.1 L447.7 41.3 L447.6 39.5 L447.5 37.8 L447.5 36 L447.5 34.2 L447.7 32.5 L447.8 30.7 L448 28.9 L448.3 27.2 L448.7 25.4 L449.8 23.6 L451.3 21.9 L454.2 20.1Z" fill="#b62620" fill-opacity="0.4" stroke="#000" stroke-width="1.05"/><line x1="465.2" y1="20.1" x2="465.2" y2="36.3" stroke="#000" stroke-width="1.0"/><line x1="465.2" y1="76.3" x2="465.2" y2="124.3" stroke="#000" stroke-width="1.0"/><path d="M447 36.3 H483 V52.4 L474 54 L483 55.6 V76.3 H447 V55.6 L456 54 L447 52.4 Z" fill="#b62620" fill-opacity="0.7" stroke="#000" stroke-width="1.0"/><line x1="456" y1="54" x2="474" y2="54" stroke="#000" stroke-width="2.0"/><line x1="293.2" y1="14.6" x2="293.2" y2="149" stroke="#000" stroke-width="0.9"/><line x1="292.8" y1="149" x2="492.7" y2="149" stroke="#000" stroke-width="0.9"/><line x1="290.4" y1="20.5" x2="293.2" y2="20.5" stroke="#333" stroke-width="0.7"/><text x="287.7" y="23.4" font-size="8.2" text-anchor="end" fill="#4d4d4d" textLength="20.8" lengthAdjust="spacingAndGlyphs">0.0015</text><line x1="290.4" y1="61.6" x2="293.2" y2="61.6" stroke="#333" stroke-width="0.7"/><text x="287.7" y="64.5" font-size="8.2" text-anchor="end" fill="#4d4d4d" textLength="20.8" lengthAdjust="spacingAndGlyphs">0.0010</text><line x1="290.4" y1="102.8" x2="293.2" y2="102.8" stroke="#333" stroke-width="0.7"/><text x="287.7" y="105.7" font-size="8.2" text-anchor="end" fill="#4d4d4d" textLength="20.8" lengthAdjust="spacingAndGlyphs">0.0005</text><line x1="290.4" y1="143.9" x2="293.2" y2="143.9" stroke="#333" stroke-width="0.7"/><text x="287.7" y="146.8" font-size="8.2" text-anchor="end" fill="#4d4d4d" textLength="20.8" lengthAdjust="spacingAndGlyphs">0.0000</text><line x1="321.6" y1="149" x2="321.6" y2="151.7" stroke="#333" stroke-width="0.7"/><text x="323.4" y="159.2" font-size="8.8" text-anchor="end" fill="#4d4d4d" transform="rotate(-50 323.4 159.2)">1</text><line x1="369.5" y1="149" x2="369.5" y2="151.7" stroke="#333" stroke-width="0.7"/><text x="371.3" y="159.2" font-size="8.8" text-anchor="end" fill="#4d4d4d" transform="rotate(-50 371.3 159.2)">2</text><line x1="417.3" y1="149" x2="417.3" y2="151.7" stroke="#333" stroke-width="0.7"/><text x="419.1" y="159.2" font-size="8.8" text-anchor="end" fill="#4d4d4d" transform="rotate(-50 419.1 159.2)">3</text><line x1="465.2" y1="149" x2="465.2" y2="151.7" stroke="#333" stroke-width="0.7"/><text x="467" y="159.2" font-size="8.8" text-anchor="end" fill="#4d4d4d" transform="rotate(-50 467 159.2)">4</text><text x="263.2" y="84.5" font-size="10.3" text-anchor="middle" transform="rotate(-90 263.2 84.5)" textLength="57.2" lengthAdjust="spacingAndGlyphs">CNV score</text><text x="391.8" y="176.1" font-size="11.2" text-anchor="middle" textLength="37.8" lengthAdjust="spacingAndGlyphs">k cluster</text><text x="308.6" y="142.3" font-size="7.5" textLength="93.5" lengthAdjust="spacingAndGlyphs">Kruskal-Wallis, p &lt; 2.2e-16</text><text x="494.6" y="11.3" font-size="14.2" font-weight="bold" font-family="'Liberation Serif', serif">C</text><defs><linearGradient id="gb1" gradientUnits="userSpaceOnUse" x1="569.3" y1="0" x2="673.2" y2="0"><stop offset="0" stop-color="#e8dc50"/><stop offset="0.2" stop-color="#eac860"/><stop offset="0.5" stop-color="#e6a060"/><stop offset="0.7" stop-color="#c8343e"/><stop offset="1" stop-color="#ae1840"/></linearGradient></defs><path d="M575.5 35.8 L577 37.2 L578.7 40.6 L580.2 44.5 L581.7 48 L583.2 51 L584.5 54 L585.9 57.3 L587.2 60.7 L588.8 63.9 L590.6 66.5 L592.8 68.1 L595.4 68.9 L598.1 69.2 L600.9 69.2 L603.7 69.2 L606 69.9 L607.3 72.3 L607.6 76 L607.8 79.9 L608.5 83.2 L610 85.8 L612.3 87.7 L615.1 88.9 L618.2 89.3 L621.3 89 L624.1 88 L626.3 86.3 L628 83.9 L629.3 81.1 L630.4 77.9 L631.3 74.5 L632.2 71.1 L633.2 67.7 L634.4 64.4 L635.3 61 L635.8 57.5 L635.7 53.7 L634.9 49.7 L634 45.7 L633.7 42.8 L634.9 42.3 L637.3 43.3 L639.9 43.5 L642.2 41.6 L644.1 38.5 L646.2 35.6 L648.4 33.7 L650.8 32.7 L653.4 32.5 L655.9 33.1 L658.4 34.3 L660.8 36.1 L663.1 38.3 L665.1 40.9 L666.9 43.7 L668.4 46.7 L669.7 49.9 L670.7 53.3 L671.5 56.8 L672.1 60.4 L672.6 64.1 L672.9 67.8 L673 71.6 L672.9 75.3 L672.7 79.1 L672.4 82.8 L671.9 86.5 L671.3 90.2 L670.5 93.8 L669.6 97.3 L668.6 100.8 L667.5 104.2 L666.2 107.5 L664.8 110.7 L663.3 113.8 L661.7 116.8 L660 119.6 L658.1 122.2 L656.2 124.8 L654.2 127.1 L652.1 129.2 L649.9 131.2 L647.6 132.9 L645.2 134.4 L642.7 135.7 L640.2 136.9 L637.6 137.8 L635 138.5 L632.4 139.1 L629.7 139.6 L626.9 139.9 L624.2 140.1 L621.4 140.2 L618.7 140.2 L616 140.2 L613.2 140.1 L610.6 139.8 L607.9 139.5 L605.3 138.9 L602.8 138.1 L600.3 137 L597.9 135.6 L595.6 133.8 L593.4 131.8 L591.3 129.6 L589.3 127.1 L587.3 124.4 L585.5 121.6 L583.8 118.7 L582.1 115.6 L580.6 112.5 L579.2 109.3 L577.9 106.1 L576.6 102.8 L575.5 99.5 L574.5 96.1 L573.5 92.6 L572.7 89.1 L571.9 85.6 L571.2 82 L570.6 78.3 L570 74.6 L569.6 70.9 L569.3 67.1 L569.1 63.4 L569.1 59.8 L569.4 56.3 L569.9 52.9 L570.7 49.3 L571.6 45.4 L572.7 41.2 L574 37.5 L575.5 35.8Z" fill="url(#gb1)" fill-opacity="0.35"/><path d="M583.4 52.3 L587.1 64.3 L593.2 72 L595.7 81.5 L601.9 86.2 L611.7 88.8 L620.9 89.2 L629.5 87.1 L635.7 79.8 L638.1 67.8 L638.1 54.9 L636.3 36.9 L627.1 29.2 L590.2 29.2Z" fill="#fff" stroke="#fff" stroke-width="1.0"/><path transform="scale(0.5)" d="M1292 80zm-150 24zm125 15zm17 4zm-30 13zm23 2zm1 4zm11 7zm-14-1zm-101 10zm103 1zm-110 9zm106 0zm-22 8zm3 8zm-29 8zm-56 5zm-13 1zm22 1zm-11 3zm-11 3zm103-1zm-101 7zm37-1zm50 3zm-19 1zm-24 0zm-33 1zm2 3zm50-2zm-49 4zm34 4zm36-2zm14 0zm23 2zm-59 2zm34 2zm-3 3zm-29 3zm23 3zm13 5zm13-1zm-79 2zm-6 2zm2 2zm76-1zm18 0zm-99 4zm56 4zm10 0zm22-2zm-6 3zm-76 3zm85 1zm-15 2zm-14 2zm-22 1zm33 5zm-37-2zm-23 0zm34 3zm-1 6z" stroke="#448db5" stroke-width="2.6" stroke-linecap="round"/><path transform="scale(0.5)" d="M1298 67zm5-1zm3 2zm1 1zm0 2zm-1-1zm-11 0zm3 3zm3-1zm12 2zm2 0zm9 0zm-5 2zm-172 4zm156-2zm9 0zm3 2zm8-1zm3 2zm-7 1zm-1 1zm-3-1zm-5-1zm-27 4zm12-1zm2 1zm9 0zm12 1zm14 2zm-2 0zm-1-1zm-21 2zm-5-1zm-5 1zm-22-2zm-6 0zm12 4zm18 1zm19-2zm5 2zm6 3zm-16-1zm0 0zm-8 0zm-7 1zm-2-1zm-19 3zm24 1zm4 0zm14-2zm16 2zm1 0zm1 1zm-1 0zm-4 2zm-7-2zm-2 1zm-6 1zm-2 0zm-9-1zm-5-1zm-4 0zm-12 2zm-1-2zm-4 2zm5 1zm4 2zm7-2zm4 0zm8 1zm2 0zm8-1zm20 4zm-3 1zm-6 0zm-7 0zm0 0zm-1-2zm-18 0zm-7 1zm-5 0zm-6 2zm12 2zm6-1zm4 1zm14 0zm3-1zm13 1zm-17 1zm-3 0zm-1 2zm-19 0zm-31 1zm4 1zm16-1zm6 2zm10 0zm6-1zm5 0zm4-1zm2 0zm3 0zm7 0zm0 0zm11 0zm1 0zm-11 5zm-17-2zm-5 1zm-8-1zm-17 3zm4 1zm24 0zm1 0zm6-1zm16 2zm-4 3zm-2-2zm-3 2zm-3-1zm-3-1zm-10 2zm-9 0zm-3-2zm-10 1zm-21 0zm-9-1zm-107 3zm144 0zm34 2zm6 0zm8 0zm1 2zm-11 0zm-9-1zm-3 2zm-8 0zm-5-1zm-3 1zm-160 2zm169 1zm22-1zm5 2zm-3 0zm0 2zm-3 0zm-14-2zm-10 1zm-3 0zm0-1zm-3 2zm-2-1zm-8-1zm-16 1zm-53 0zm70 4zm9 0zm10-2zm8 1zm6 0zm6-1zm2 1zm5 3zm-11-1zm-8 2zm-4 0zm-15-1zm-8-1zm-140 0zm140 5zm16-2zm0 0zm5 0zm13 1zm8 0zm7 0zm0 4zm-14 0zm-7-1zm-5-1zm-8 0zm-21 2zm-6 0zm-1 0zm-17-2zm-96 2zm-16-2zm58 5zm82-1zm11 0zm4 1zm19-1zm-1 2zm-6 2zm-6-1zm-4 1zm-8-2zm-2 2zm-3-1zm-18 0zm-100-1zm118 5zm1-2zm8 1zm15 0zm15 1zm6 1zm-8 2zm-3-1zm-5 1zm-54-1zm-119 4zm132-2zm7 1zm25 1zm7 0zm11-2zm3 0zm-38 5zm-8-1zm-103 2zm106 0zm9 1zm6-1zm2 2zm2-2zm12 1zm13 4zm-4 0zm-22-2zm-17 2zm-45-1zm-55-1zm-5 4zm74-1zm5 1zm25 0zm10 1zm3-2zm3 2zm16 0zm13-2zm-1 5zm-15 0zm-16-1zm-7 0zm-3-1zm-9 2zm-17-2zm-19 2zm-2-2zm-46 1zm-57 3zm71 1zm8 0zm22-1zm20-1zm14 0zm7 0zm31 1zm3 1zm3 0zm0-1zm7 4zm-14-2zm-1 2zm-8-1zm-10-1zm-1 0zm-10 0zm-1 2zm-24-1zm-19 0zm-6 0zm-18 1zm-31-1zm-21 0zm75 3zm29 0zm12 1zm2 0zm6-1zm2 0zm0-1zm4 1zm0 0zm7 0zm1 1zm7-2zm1 1zm0 0zm4 0zm1 0zm7 2zm-10 2zm0-2zm-1 0zm-3 0zm-16 2zm-1-1zm-14 0zm-29 0zm-86 2zm30 0zm17 1zm40 1zm19-2zm19 2zm2 0zm4-2zm4 0zm0 0zm1 2zm24 1zm-12 2zm-1 0zm-8 0zm-3-1zm-48-1zm-53 4zm44-1zm41 1zm10 1zm23-2zm7 2zm4 1zm-39 1zm-4-1zm-42 2zm-56 0zm2 3zm23 0zm1-1zm87 1zm9-1zm17 0zm-7 3zm-11-1zm-5 1zm-3 1zm-6-2zm-4 0zm-2 1zm-8 1zm0-1zm-86 0zm-9 0zm-16 1zm-7 1zm1 2zm33 0zm51-2zm13 0zm27 1zm18 0zm2 0zm13-1zm-1 3zm-1 2zm-12-1zm-3 1zm-2-2zm-8 0zm-1 0zm-9 0zm-59 0zm-42 1zm0-1zm-13 0zm-9 1zm42 3zm16 1zm10-2zm20 0zm33 2zm42 2zm-7 0zm-19 0zm-3-1zm-18 1zm-20 0zm-68-1zm-15 1zm-14 1zm6 2zm49 0zm19 1zm87 0zm-7 3zm-21-2zm-7 2zm-12-1zm-9-1zm-5 1zm-21 1zm-4 0zm-33-2zm-35 2zm0 2zm22-1zm24 0zm12 1zm13 0zm6 0zm27 0zm28 1zm19-2zm-5 4zm-9 1zm-27 0zm-27-2zm-5 2zm-44-1zm-20 3zm11-1zm16 1zm9 1zm2 0zm2 0zm15-1zm17 0zm8 1zm11 0zm2 0zm2-1zm7-1zm10 0zm15 4zm-9 0zm-12-1zm-10 2zm-35-1zm-24 0zm-15 1zm-6-2zm-18 5zm5-1zm28 0zm53-1zm1 2zm24-2zm7 0zm-17 4zm-32 1zm-74-2zm-5 1zm3 3zm54 1zm63-2zm6 1zm7 0zm-22 4zm-30-2zm-17 0zm-6 0zm-37 4zm51-1zm30 0zm4 1zm2 1zm15-1zm10 1zm-7 3zm-14 0zm-9 0zm-23-1zm-23 1zm-38 0zm-7 1zm62 2zm1 0zm5-1zm11 0zm39 0zm-11 2zm-37 0zm-6 1zm-11-1zm-14 0zm-19 2zm-8-1zm-5 3zm11 1zm5-2zm27 2zm46 2zm-12 0zm-26 0zm-10 1zm-24 3zm26-2zm19 0zm26 1zm-37 2zm-21 0zm2 4zm13 1zm15-1z" stroke="#e5513e" stroke-width="2.6" stroke-linecap="round"/><path transform="scale(0.5)" d="M1153 74zm146 10zm-152 7zm-4 7zm151 15zm-141-1zm15 10zm135 0zm-60 5zm43 4zm-132-1zm26 5zm-40 3zm0 2zm143-2zm-122 19zm1-1zm103 12zm20 0zm-80 3zm-35 5zm6-1zm141-1zm-20 5zm-30-1zm-66 1zm30 2zm-1 4zm-45 1zm103 4zm-78 4zm34 1zm-43 2zm-6 0zm10 2zm2 7zm0-1zm64 0zm15 3zm-58 7zm-35 1zm55 5zm-65 1zm4 1zm2 0zm71 3zm-13-1zm-11 1zm-8 1zm-23 0zm-9-1zm-19 0zm77 4zm-42 3zm40 5zm-47 0zm-33 1zm84 1zm6 2zm6 1zm-33 0zm33 5zm-44 3zm-31 0zm36 1zm8 5zm-14 0zm-25 1zm3 0zm70 4zm-16-1zm-1 2zm0 6zm-40-2zm52 8zm-1 0zm-32 1z" stroke="#5bafad" stroke-width="2.6" stroke-linecap="round"/><path transform="scale(0.5)" d="M1149 77zm0 5zm119 2zm-124 6zm149 2zm-138 2zm6 7zm6 5zm-13 4zm2 0zm4-1zm151 1zm-171 6zm21 0zm2-2zm1 0zm6 1zm-14 2zm-7 1zm-9 2zm110 2zm8-1zm34 0zm2 1zm-135 1zm-6 2zm-2 3zm5-2zm11 2zm104 0zm-124 6zm5-1zm19 0zm51 2zm-75 5zm8-1zm8 0zm3 1zm-17 3zm11 1zm16 3zm-30 5zm22 0zm3-2zm8 1zm-8 2zm-3 2zm-23-1zm10 3zm-9 6zm52-1zm-23 4zm-10 1zm11 3zm20 6zm8 0zm64 2zm-31-1zm-70 0zm41 6zm-18 0zm7 6zm-37 2zm-5-1zm2 3zm27 0zm34 0zm6 0zm15 0zm28 2zm-93 1zm30 2zm23 1zm39-1zm17 5zm-62-2zm42 6zm-3 1zm-86 1zm0 1zm100 0zm-67 5zm-4-1zm-12 0zm-1 0zm-30-1zm43 5zm14-2zm8 0zm40 4zm-32-1zm-14 0zm-19 2zm-21 3zm7 0zm23 1zm-5 0zm-16 0zm-23 0zm9 5zm97 3zm-14-1zm-74 2zm22 0zm15 0zm61 4zm-87-1zm-21 0zm48 5zm33 0zm2-2zm-15 4zm-6 0zm-39 2zm73 3zm-12 0zm-8 2zm-12-1zm-17 0zm-1 4zm25 0zm26 1zm-88 3zm11 1zm41-1zm22 1zm36 2zm-5 2zm-85-2zm-1 5zm38-1z" stroke="#88cda2" stroke-width="2.6" stroke-linecap="round"/><path transform="scale(0.5)" d="M1305 66zm4 4zm-12-1zm5 4zm0-1zm2 0zm5 1zm0-1zm6 0zm3 0zm5 5zm-7-2zm-12 1zm-5 1zm-2 0zm-4 1zm1 2zm3-1zm1 0zm1 1zm7-2zm6 0zm5 2zm8-1zm3 0zm-9 3zm-2-1zm-21 3zm11 2zm0-1zm6 1zm1-1zm2 1zm2-2zm9 0zm7 4zm-1-1zm-8 0zm-3 2zm-10 0zm-4-2zm-33 5zm20-2zm10 1zm4 1zm2 0zm4-1zm11 1zm2-1zm2 1zm1-1zm4 3zm-15 0zm-5-1zm-5 0zm-1 2zm-7-1zm-7-1zm-9 0zm-4 2zm-5 1zm18 0zm0 1zm4 1zm0 0zm9-2zm2 0zm4 0zm5 2zm15-1zm5 3zm-13 1zm-8 0zm-20-2zm0 2zm-1-1zm-11 1zm-135-1zm142 4zm1-2zm5 0zm1 0zm7 0zm1 2zm21 3zm-1 0zm-30-2zm-1 1zm0 0zm-1 1zm-18-2zm11 5zm17-2zm4 0zm0 0zm11 1zm10 1zm8-2zm-22 5zm-4-2zm0 0zm-1 2zm-21-2zm-16 2zm12 2zm5-1zm9 1zm3-1zm2 0zm7 2zm19-1zm11 3zm-5 0zm-9 0zm-15-1zm-33 1zm-139 0zm14 3zm128 0zm7 1zm0 0zm7-1zm8 1zm19-1zm2 1zm10 1zm0 1zm-20 0zm-3 0zm-1-1zm-4 0zm-16 0zm-43 2zm-104 2zm9 0zm2-1zm138 0zm6 2zm14-1zm18-1zm4 1zm4 0zm-9 3zm-1-1zm-9 1zm-4 1zm-13 0zm-13-2zm-55 3zm45 0zm31 0zm1 0zm5 2zm1-1zm5-1zm4 1zm4 1zm8-1zm4 2zm-10 2zm-6-2zm-8 2zm-161 0zm-17-2zm6 5zm65-2zm2 1zm72 1zm30-1zm5 1zm12-1zm8 0zm0 1zm-4 2zm-5 1zm-41-1zm-121 3zm119 1zm10 0zm16-1zm5-1zm3 1zm2-1zm3 2zm10 0zm0 1zm-4 1zm-3 1zm-21-2zm-133 0zm-32 3zm3 2zm34-2zm11 2zm114-1zm2 0zm0 0zm0 0zm15-1zm11 0zm8 4zm-18 0zm-5-1zm0 0zm-2 0zm-26 0zm-132 1zm-11 1zm5 1zm55 2zm59-1zm11-1zm4 0zm2 0zm8 1zm35 0zm8 1zm1-1zm1-1zm5 1zm-22 3zm-13 0zm-6 1zm-33 0zm-101-1zm14 2zm27 0zm72 0zm15 1zm40 0zm4 1zm-5 2zm-23 0zm-4 1zm0-1zm-15 0zm-15-1zm-10 0zm-2 0zm-2 5zm17-2zm11 1zm3 1zm4 0zm15 0zm13 0zm15-1zm-29 4zm-8 0zm-7 0zm-16 0zm-10-2zm-3 0zm-93 0zm40 5zm42-2zm19 1zm10 0zm3 0zm5 1zm2 0zm5-2zm20 2zm17-1zm-29 2zm-7 0zm-1 1zm-4-1zm-1 1zm0-1zm-2 2zm-1-1zm-6 1zm0 0zm-9-1zm-86-1zm-2 1zm-4 1zm-39 0zm29 1zm3 0zm10 1zm102 1zm17-2zm3 1zm20 3zm-2 0zm-3-1zm-9 1zm-6 1zm-2-2zm-7 2zm-2 0zm-2-2zm-7 1zm-5 1zm-15-1zm-54 0zm-13 1zm-44-2zm-11 0zm48 5zm100-2zm7 0zm1 1zm13-1zm1 0zm7 0zm6 2zm4 3zm-6-2zm-14 1zm-1-1zm-1 2zm-1 0zm-5 0zm-3 0zm-125 0zm-13-1zm-5-1zm3 4zm13-1zm73 0zm1 2zm22 0zm6 0zm8 0zm9-2zm5 0zm6 1zm2-1zm5 0zm17 5zm-2 0zm-43 0zm-31 0zm-44-2zm-43 3zm23 2zm7 0zm8 0zm11-1zm53 0zm12-1zm4 1zm20-1zm7 1zm-10 2zm-2 2zm-53 0zm-22-2zm-25 2zm-3-2zm-2 0zm-22 2zm69 3zm17-2zm18 2zm3 0zm17-2zm4 2zm14-2zm14 4zm-43 1zm-40 0zm0 0zm-16-2zm-4 2zm-4-2zm-25 0zm-5 5zm20-2zm82 2zm2-2zm8 1zm9 1zm14 0zm-9 1zm-13 0zm-2 1zm-2 0zm-15-1zm-3 0zm-7 1zm-18 1zm-70 0zm-5 0zm45 2zm14 0zm67 1zm2-2zm4 4zm-5 1zm-4-2zm-13 2zm-45 0zm-35-1zm-5 0zm-4 0zm-36-1zm-5 1zm46 4zm27-1zm50 0zm9-1zm9 1zm2 0zm1 0zm7 1zm-1 2zm-3 1zm-25 0zm-122 1zm1 2zm35 0zm11 0zm38 0zm46-1zm10-1zm12 4zm-7-1zm-6 1zm-16 1zm-5-1zm-30 0zm-19-1zm-46 1zm-9-1zm45 5zm18-2zm17 2zm20-2zm29 0zm9 1zm-8 4zm-26-2zm-15 1zm-39 1zm-46 0zm-8 0zm49 3zm14 0zm67 1zm-27 0zm-15 0zm-63 1zm-17 0zm23 3zm15 0zm19-1zm12 0zm21 0zm28 4zm-3-1zm-4 2zm-33-1zm-8-1zm-45 0zm-24 3zm84 2zm30 1zm-18 1zm-7-1zm-49 1zm-14-1zm-28 0zm29 3zm44 2zm19 0zm2-2zm16 2zm-29 1zm-18 3zm22 1zm7 0zm4-1zm6 5zm-12 0zm-75-2zm17 5zm3-2zm26 0zm6 1zm18-1zm4 3zm-67 1zm-5 1zm42 2zm3 1zm-31 1z" stroke="#bd2742" stroke-width="2.6" stroke-linecap="round"/><path transform="scale(0.5)" d="M1305 73zm-154 7zm1 3zm0 3zm4 3zm-9-1zm5 3zm0 2zm-5 4zm3-1zm9 1zm120 3zm-137-1zm16 4zm-3 4zm-12 3zm18 2zm-9 1zm-1-2zm-3 0zm16 5zm0 2zm-25 1zm21 3zm114-1zm-118 2zm-8 0zm-4 0zm-1 1zm-3-1zm-2 4zm25 1zm14 0zm58-1zm-8 3zm44 5zm-100 2zm-22 0zm-3 0zm-2-1zm-5 1zm3 1zm0 2zm24 0zm14-2zm36 1zm83 4zm-16-2zm-102 2zm-11-1zm-12-1zm-10 0zm-6 4zm2-1zm1 2zm21 3zm-17-2zm31 7zm-19 1zm-1-1zm-16 3zm17 0zm12 0zm9 0zm0 3zm-3 0zm-1 1zm-16-1zm-15-1zm-4 4zm1 0zm13 0zm11 0zm4-1zm14 0zm83 0zm-86 3zm102 7zm-90-1zm-17 2zm-11 0zm8 2zm2 0zm85 2zm-6 1zm-100 1zm2 3zm19-2zm23 1zm9 0zm64-1zm-105 4zm-7 4zm5 0zm5-2zm100 3zm-66 0zm-24 1zm-29 1zm0 0zm56 1zm9 1zm35 1zm7-2zm26 0zm-113 3zm-12 2zm12 3zm47 0zm47 0zm28 3zm-59 0zm-44-2zm-6 1zm16 3zm-24 4zm-21 2zm92-1zm-28 4zm-12 0zm-16 1zm-13-2zm61 3zm40 3zm-43 2zm-55 0zm3 2zm73 0zm-30 2zm-62 5zm40-1zm5 1zm-9 5zm43 4zm-42 3zm41 0zm11-1zm19 4zm-98-2zm0 5zm85 0zm23 1zm-67 2zm-41-2zm66 3zm34 2zm-15 1zm-24 2zm-43 0zm28 3zm9-2zm19 2zm3 0zm17-1zm11-1zm1 4zm-1-1zm-4 0zm-66 2zm-25-2zm39 3zm4 2zm19-2zm10 5zm-19 0zm-9-2zm-9 0zm30 4zm20 4zm-58-1z" stroke="#f2ec5a" stroke-width="2.6" stroke-linecap="round"/><path transform="scale(0.5)" d="M1318 71zm-14-1zm-10 5zm0 10zm18 0zm0 4zm-37 0zm55 6zm-25 0zm-142 2zm134 0zm9 1zm23 3zm-55-1zm3 10zm-108 6zm136 1zm12 8zm-39 3zm49-2zm-184 5zm-2-1zm81 3zm-7 10zm-48-2zm166 7zm-51 9zm60 15zm-123 2zm58 5zm-89-1zm-30 1zm88 5zm-8 0zm-17 4zm1-2zm65 2zm44 0zm-158 4zm137 3zm-42 2zm-33 0zm-17 0zm82 1zm-8 3zm-36 1zm-13 1zm-45-2zm10 5zm32 0zm-4 3zm-43-2zm-37 0zm19 3zm32 0zm21 1zm4 1zm39-1zm35 2zm-27 2zm-29-2zm-41 1zm-10-1zm3 5zm79 2zm-13-1zm-34 2zm-34 3zm29 0zm5-1zm46 1zm10-2zm-86 6zm14 0zm41 0zm52 4zm-37 0zm-89 1zm51 2zm15 1zm11-2zm14 0zm18 1zm-84 6zm59 0zm-3 2zm-45 1zm70 3zm-29 3zm-25 0zm-4-1zm-52 5zm49-2zm19 0zm15 0zm21 3zm-32 3zm34 0zm-91 4zm34 3zm44 1zm-28 5zm2 4zm-6-1zm-10-1zm-20 1zm-1 2zm19 4z" stroke="#fcd95e" stroke-width="2.6" stroke-linecap="round"/><path transform="scale(0.5)" d="M1308 76zm-12 4zm4 0zm5-1zm14 1zm-30 3zm29 1zm1 1zm-36 2zm-14 4zm17-1zm10 3zm18 5zm-27 6zm13 0zm36 2zm-26 0zm-27 0zm49 6zm-19 0zm-10 2zm21 2zm19-1zm-18 3zm-162 4zm6 0zm142 0zm20 0zm-20 2zm-66-1zm-82 2zm141 1zm5 2zm19 3zm-1-2zm-90 1zm81 3zm11 2zm-47 3zm6 0zm6 1zm42 1zm7 1zm-11 2zm9 2zm-13 2zm-28 5zm26-2zm2 3zm-21 1zm-27-1zm-135 1zm36 2zm96 2zm53 0zm-147 1zm102 3zm9 2zm12 0zm14 0zm9 2zm-17 0zm-102 1zm-33 1zm94 0zm9 0zm10 2zm5 2zm-16 3zm-66 2zm-21 6zm-20 4zm80-1zm13 2zm22-1zm12 0zm22 1zm17 0zm0 3zm-121-1zm-58-1zm59 4zm61-1zm41 0zm1 3zm-16 2zm-69 0zm-18-2zm-32 1zm-30-1zm-2 1zm21 3zm4 0zm52 0zm52 0zm48 3zm-56-1zm-95 5zm-24 5zm88-1zm17 0zm4 2zm21-1zm9-1zm6 1zm-80 3zm-19-1zm-27 1zm71 4zm1 0zm55-1zm-124 2zm75 3zm34 4zm-62 0zm-24 1zm-2-1zm-32-1zm-4 3zm21 2zm81-1zm3 3zm-70-1zm-13 1zm126 3zm-65 2zm-58 1zm-1 3zm1 1zm28-2zm38 1zm46-1zm-58 3zm-29 2zm5 2zm69 1zm-40 6zm35-2zm-38 7zm-8 3zm19 4zm2 1zm-28 0zm29 12z" stroke="#fbb55e" stroke-width="2.6" stroke-linecap="round"/><path transform="scale(0.5)" d="M1292 74zm2 0zm2 43zm-148 22zm133 3zm-106 4zm106 17zm-47 23zm-53 6zm91 3zm-60 6zm62 3zm15 5zm-51-1zm-56 2zm37 3zm20 7zm-53 2zm86 1zm-36 4zm51 10zm-53 2zm8 2zm34-1zm-30 3zm-49 2zm-6 1zm22 3zm17 5zm5 3zm18 1zm39 5zm-32-1zm-2 0zm-16 2zm50 1zm-53 9z" stroke="#4f65ac" stroke-width="2.6" stroke-linecap="round"/><path transform="scale(0.5)" d="M1315 68zm0 3zm6 4zm-7 4zm8 1zm-33 6zm32 8zm-22-1zm-6 2zm8 6zm-12 1zm22 0zm-8 5zm9 1zm18 0zm3 0zm-19 5zm-27-1zm38 4zm-17 3zm-54 0zm0 2zm26 1zm60 2zm-102 1zm65 2zm33 0zm2-1zm-5 4zm-51 0zm-58 3zm5-1zm50 0zm31 3zm-23 1zm-64 0zm92 3zm14 2zm-31 2zm-27 3zm35-1zm17 4zm-154-1zm131 5zm-134 4zm131-1zm8 1zm17 3zm-142 0zm-3-1zm-24 2zm8 1zm130 1zm14 4zm-15 1zm-3 5zm-18-2zm-20 2zm-85 2zm33-1zm75 1zm56 4zm-117 0zm-2-2zm-61 4zm62 0zm68 1zm7 1zm-85 1zm-43 4zm65-2zm12 2zm12-2zm61 3zm-156 1zm10 2zm129 0zm38 4zm-33 1zm-64 0zm0 0zm-38-2zm-14 1zm11 2zm73 0zm36 1zm1 0zm11 0zm-102 3zm77 4zm18 3zm-21-1zm-105 4zm68 0zm34 0zm-9 3zm-10-1zm-13 0zm1 4zm79 1zm-11 2zm-26 0zm-7-1zm-94 1zm-3 2zm10 1zm10 0zm6-1zm70 0zm17 0zm-23 2zm-27 2zm-13 0zm-24-2zm-23 0zm-7 2zm-6 0zm118 6zm-17-1zm-77 0zm21 4zm28-2zm44 4zm-53-1zm-44 3zm47 1zm35 0zm34 2zm-5 2zm-32-1zm-5-1zm-48 2zm-14-1zm67 3zm1 1zm25 0zm-84 1zm-38 3zm4 2zm4 0zm10-1zm8-1zm22 1zm19-1zm30 5zm-30 0zm-9-1zm-31 3zm3 1zm48-2zm-41 5zm-12-2zm8 3zm10 2zm25 1zm-21 2zm-34 0zm38 1zm14 0zm6 0zm0 3zm-8 0zm-22 0zm-9 1zm-6-1zm7 3z" stroke="#f68447" stroke-width="2.6" stroke-linecap="round"/><path transform="scale(0.5)" d="M1145 84zm4 2zm174 6zm-35 1zm-2 3zm8 5zm-17 0zm-136 3zm15-2zm1 2zm115-2zm5 4zm-111 0zm-3 1zm137 2zm-26 3zm-124-1zm6 5zm133-1zm-125 4zm-11-1zm-1-1zm125 7zm-107-1zm-2 2zm-19-2zm-6 3zm126 4zm-110-1zm-20 0zm7 5zm10-2zm73 2zm2-2zm62 0zm-61 3zm-54 1zm-24 1zm-14-2zm5 3zm23 0zm132 0zm-141 5zm-19-2zm7 4zm4 0zm4-1zm141 2zm-136 2zm-4-1zm0 1zm-15-1zm34 5zm-21 1zm-7 3zm11 1zm9 1zm19-1zm116 1zm-19 1zm-130 4zm39 0zm8 1zm64-2zm44 1zm-158 3zm13 3zm24-1zm101 2zm3 0zm-116 2zm-10-1zm-5 2zm21 1zm115 1zm-17 4zm-40 0zm-24-2zm-12 2zm-27-1zm-18 3zm10-1zm15 1zm22 1zm23 0zm58 2zm-23 0zm-114 0zm18 2zm63 4zm-20 1zm-42-1zm9 4zm101 1zm-3 1zm-29 1zm-59 2zm20-1zm31 0zm-21 5zm-33 0zm-17 1zm88 4zm-55 1zm-4-2zm-4 1zm-4 0zm-4-1zm-16 2zm75 2zm9 0zm9-1zm-56 3zm-33 1zm-14 2zm17 0zm64 3zm-33 2zm-20-2zm-5 1zm-9 4zm85-1zm3-1zm-33 4zm-52-1zm59 4zm38 0zm4 0zm-103 4zm11 3zm88-1zm-8 2zm-59 2zm-22 1zm79 3zm-18 2zm-59 0zm60 1zm10 2zm15 2zm-12-1zm-16 0zm-52 3zm67 0zm-62 3zm12 3zm5 0zm16 2zm32 0zm-29 2zm-16 1zm21 3zm13 0zm35 3zm-27-2zm-25 0zm-1 2zm-16 0zm1 1zm21 0zm37 2zm8-1zm-15 2zm-58 2zm51 3z" stroke="#c4e694" stroke-width="2.6" stroke-linecap="round"/><path transform="scale(0.5)" d="M1274 98zm0 2zm-126 14zm132 0zm-4 11zm-37-2zm-6 5zm12 1zm-18 5zm57 4zm-140 5zm131 1zm-76 3zm-38 17zm7-2zm86 8zm18-2zm4 4zm-75 4zm61-1zm52 0zm-44 2zm-88 17zm69 1zm-2 0zm-53 2zm-29 0zm44 5zm4 3zm9 2zm-22 2zm-47-2zm-1 0zm142 4zm-9 6zm-12 2zm-35 1zm-1-1zm-41 0zm9 3zm48 1zm1 0zm-64 3zm35 7zm1 1zm26 3zm-77 0zm16 6zm56 4zm8 1zm-56 4zm44 5zm43 4zm-24 2zm-37-2zm-16 0zm-22 2zm39 2zm20 0zm1 3zm-44 3zm70 2z" stroke="#448db5" stroke-width="2.6" stroke-linecap="round"/><path transform="scale(0.5)" d="M1307 68zm-3 2zm-7 1zm-2 0zm7 1zm13 1zm0-1zm1 0zm3 0zm1 3zm-18 0zm-1 1zm-7 1zm-4-2zm-1 2zm19 1zm2 1zm7 0zm10-1zm-3 3zm-5 2zm-2-2zm-10 0zm-6 0zm-7 1zm-7 2zm4 0zm21 0zm6 0zm8 0zm5 3zm-22 0zm-10 0zm0 1zm-147 3zm123 0zm19-1zm1 2zm6-2zm20 2zm7 0zm2-2zm1 2zm5 3zm-3-2zm-14 1zm-9-1zm-8 1zm-5 1zm0-1zm-3 0zm-2 1zm-15 2zm11 0zm16 0zm1 1zm1 0zm6-2zm5 1zm12 0zm3 1zm1-1zm-6 2zm-22 0zm-2 1zm-29 0zm18 4zm14 0zm8 0zm1 0zm17-1zm1-1zm7 5zm-17-2zm-3 0zm-5 0zm-1 2zm-1-2zm-5 2zm-11-1zm-18-1zm-2 1zm-11 0zm29 3zm9 0zm3 1zm10 0zm6-1zm1 1zm14 0zm3 2zm-24 1zm-3 0zm0-1zm-6 1zm0-2zm-11 0zm-11 0zm-2 0zm-131 3zm144 0zm11 0zm1 1zm4-1zm5 1zm5 1zm1-1zm10 3zm-7 0zm-1-1zm-9 0zm-7 1zm-50 1zm-97 2zm82 1zm12-1zm15 0zm23 1zm13-2zm25 2zm-9 3zm-1-2zm0 0zm-6 2zm-2-2zm-22 1zm-44-1zm-19 4zm60 1zm12-2zm11 0zm10 2zm2-1zm1-1zm2 0zm16 2zm1 2zm-1 1zm-24-1zm-15-1zm-24 1zm-49 0zm-88 4zm144-1zm29-1zm4 1zm23 3zm-4-1zm-13 2zm-10-2zm-17 0zm-5 2zm-2 0zm-13-1zm-50 0zm-71 0zm145 4zm15-2zm8 2zm0-1zm3 1zm10 3zm-15 0zm-4-1zm-4 0zm-27 0zm-16-1zm-93 0zm-6 1zm94 2zm36 1zm3 1zm14-1zm2-1zm2 1zm6 0zm1 1zm4-1zm2 0zm-11 2zm-13 2zm-40-2zm-84 2zm-12 0zm115 3zm0-1zm4 1zm21-1zm10 0zm8 0zm2-1zm4 2zm1 1zm-31 2zm-1 0zm-11 0zm-11-1zm-119 0zm-23 4zm35-2zm125 2zm21-2zm7 0zm6 1zm-4 4zm-4 0zm-4 0zm-13-1zm-2 1zm-26-1zm-9 0zm-11 3zm15-1zm41 1zm1 0zm1 0zm10-1zm0 0zm-7 3zm-8 0zm-8 2zm-4-1zm-16 0zm-1 1zm0-2zm-13 2zm-2-2zm-86 0zm21 4zm78-1zm13 2zm16 3zm-1-1zm-22-1zm-99 1zm-2 0zm-6 1zm-35-1zm123 4zm7-2zm12 0zm4 2zm1 0zm17-1zm0 0zm3 1zm1-2zm-9 3zm-11 0zm-6 0zm-1 0zm-5 2zm-5 0zm-12 0zm-11-1zm-65-1zm-22 1zm78 4zm36-2zm18 1zm9 0zm25 3zm-6 1zm-12 0zm-23-1zm-7 1zm-62-1zm-67 1zm-5-1zm6 2zm28 0zm67 0zm27 0zm4 0zm8 2zm6-2zm3 1zm8-1zm9 0zm14 0zm0 5zm-6 0zm-20-2zm-5 0zm-3 0zm-8 0zm0 2zm-58-2zm-4 2zm-66 0zm10 1zm7 1zm11 1zm89 0zm10 0zm0 0zm15 0zm12-2zm15 2zm-29 1zm-47 1zm-86 1zm-14-1zm-1 1zm109 2zm6 0zm13 1zm4 0zm9-2zm1 0zm13 2zm15 2zm-10 0zm-1 1zm-3 0zm-12 0zm-5-1zm-6-1zm-63 1zm-8 0zm-2-1zm-39 4zm14 1zm20-2zm3 2zm36-1zm0-1zm21 0zm2 2zm6 0zm15-1zm1 0zm9 0zm2 1zm6 1zm-11 2zm-15 0zm-4-1zm-4 1zm-22-2zm-2 1zm-3 0zm-15 0zm-9-1zm-13 1zm-46 1zm-13 0zm4 3zm63-2zm3 1zm28 1zm0-1zm30 0zm2 0zm9 1zm2 0zm2 0zm7-2zm7 2zm4 0zm2 2zm-4-1zm-11 0zm-58 2zm-16 0zm-45 0zm-11-1zm-10 0zm-12 0zm16 2zm12 0zm106 2zm8-1zm8 0zm5-1zm5 1zm0-1zm10 2zm3 3zm-12 0zm0-1zm-7 0zm-1-1zm-5 0zm-4 0zm-7 0zm-20 1zm-5 1zm-30-2zm-34 1zm-35 0zm43 2zm1 0zm2 1zm32-1zm22 0zm23 4zm-23 1zm-2 0zm-67 3zm41-2zm5 1zm5-1zm24 0zm18 2zm29 2zm-7 1zm-2-2zm-10 1zm-3 1zm-1-1zm-1 0zm-29 1zm-1-1zm0 1zm-24-1zm-7-1zm-54 1zm6 3zm4 0zm2 1zm37 0zm5-2zm9 2zm19-1zm29-1zm20 1zm-56 2zm-25 1zm2 3zm56 1zm6 0zm13 0zm-1 3zm-7 0zm-13 0zm-3 0zm-3-2zm-37 1zm-21-1zm-23 1zm1 4zm1-2zm5 2zm12 0zm7 0zm34 0zm0-2zm12 0zm15 0zm5 0zm10 4zm-11 0zm-3-1zm-3 2zm-1-2zm-2 0zm-50 0zm-46 3zm63 1zm6-1zm7 2zm12 0zm27 1zm-15 1zm-52 1zm-38-1zm27 4zm5 0zm21 0zm36 0zm1 0zm6 0zm3 1zm0 2zm-20 0zm-12 0zm-24-2zm-30 2zm0-2zm49 3zm7 0zm8 0zm0 1zm4-1zm5 5zm-8 0zm-63-2zm-6 1zm6 3zm5 1zm53-2zm-31 4zm-25 3zm9 0zm0 0zm45 0zm1-1z" stroke="#e5513e" stroke-width="2.6" stroke-linecap="round"/><path transform="scale(0.5)" d="M1299 80zm-11 1zm14 5zm18-2zm9 5zm-51 2zm13 1zm-8 6zm6 0zm35-2zm-29 5zm32 3zm3-2zm7 1zm-21 4zm-1-1zm-1 1zm-28 2zm40 1zm12-1zm-53 5zm44 2zm2 0zm-17 2zm9 4zm12-1zm4 3zm-43-1zm-5 0zm-5 2zm0 1zm41 2zm-29 5zm37 2zm-80 1zm-41 3zm127-1zm-14 5zm-1 1zm-39 4zm-145 3zm175 4zm-23-1zm-88 2zm74 0zm4 1zm13 2zm-22 0zm-94 1zm-35 1zm38 1zm90 1zm11 1zm-108 2zm102 2zm23 1zm6 1zm-110 5zm85 1zm37 2zm-30 1zm-9-1zm-97-1zm-34 5zm111-2zm75 1zm6-1zm-144 5zm-5 0zm-9-2zm19 5zm87 0zm30 0zm14 1zm-2 0zm-60 2zm-110 2zm38-1zm93 0zm6 5zm-76-2zm-68 1zm40 4zm92-2zm4 0zm35 2zm-52 2zm-14 1zm-105 3zm37-1zm70-1zm34 1zm-49 4zm-71-2zm-16 1zm7 4zm12 0zm86 0zm40-1zm17 4zm-7-2zm-55 2zm-25 0zm-5 0zm-11 0zm-4-2zm-49 5zm50-2zm42 2zm38 0zm23 3zm-18-1zm-2-1zm-38 0zm-1 2zm-71-2zm3 3zm30 2zm32-1zm-3 2zm-13 1zm-7 0zm-41 4zm1 0zm11 0zm56-2zm53 0zm-16 3zm-6 1zm-66 4zm12-1zm6-1zm49 1zm-110 2zm51 5zm12-2zm-49 3zm-4 4zm10 0zm29-1zm4 1zm8-1zm24 2zm12-1zm25-1zm-23 4zm-93 3zm48-1zm52 5zm-36-1zm-6 1zm-3-2zm-9 1zm-49 0zm8 3zm25 1zm52-2zm32 4zm-95-1zm6 5zm-2 1zm24 3zm28 5zm-37 3zm21 2z" stroke="#f68447" stroke-width="2.6" stroke-linecap="round"/><path transform="scale(0.5)" d="M1286 88zm21 8zm-50 25zm-101 14zm-10 19zm126 3zm-95 12zm-18 17zm16 1zm16 16zm57 1zm36 4zm-80 1zm-49 1zm46 9zm33 3zm3 3zm-73 4zm51 1zm32-1zm19 4zm-86-1zm8 2zm63 1zm-24 12zm-3 7zm-17 1zm15 5zm7-1zm28 4zm-17-1zm-15 6zm21 4zm9 2zm-24 1zm30 3z" stroke="#4f65ac" stroke-width="2.6" stroke-linecap="round"/><path transform="scale(0.5)" d="M1290 78zm12 9zm0 38zm-148 3zm140 12zm-18 2zm-120 8zm146 11zm-43 4zm-65 1zm-22 2zm88 10zm-16 0zm-52 3zm67 1zm21-2zm-29 5zm-67 0zm5 3zm85 2zm-38-1zm-25 2zm-50 1zm4 2zm49-2zm51 4zm-13-1zm-53 5zm0 0zm1 0zm89 3zm-80 0zm3 2zm60 0zm18 3zm-128-1zm28 4zm5 1zm93 1zm-30 1zm-74 1zm-13 2zm79 4zm-51-1zm0 0zm-20 3zm56 1zm6-1zm11 2zm-12 2zm-70 0zm30 1zm49 4zm-70 3zm35 0zm42-1zm7 4zm-62 10zm25-1zm1 1zm19-2zm9 1zm10 0zm4 1zm-53 3zm-4-1zm-26 0zm-2 2zm33 0zm30 7zm3-1zm-9 5zm-19 1zm6 3zm-8 2zm-14 2zm61 4z" stroke="#5bafad" stroke-width="2.6" stroke-linecap="round"/><path transform="scale(0.5)" d="M1297 92zm-134 3zm-6 0zm-9 0zm2 1zm8 0zm120 4zm-126 2zm145 0zm-3 4zm-24 1zm-105-1zm-6 1zm-17 2zm6-1zm19 2zm105 0zm-105 3zm-23 2zm111 3zm-89 0zm-2 1zm152 3zm-37 3zm-36-1zm-73 5zm-7 0zm108 6zm-96 1zm-11-1zm-16 2zm-9 3zm16 0zm3-2zm119 0zm-116 5zm-12 3zm0-1zm16-1zm6 0zm103 5zm-122 3zm26 0zm-27 4zm16 0zm6 0zm2 2zm5 0zm105 1zm-105 2zm-7 2zm4-1zm6 4zm-16 7zm-7-2zm-6 0zm-8 1zm10 4zm4-1zm3 0zm1-1zm4 1zm29 0zm63 3zm-103-1zm-2 2zm37 2zm-20 2zm-9 1zm-15 3zm8 1zm32-2zm79 1zm21-1zm-42 4zm-26-1zm-10 0zm-44 3zm39 2zm40 1zm-17 2zm-48-2zm-5 2zm-17 3zm11-2zm1 1zm108 0zm-105 2zm-14 2zm9 2zm7-1zm0 6zm22 1zm4-1zm0 1zm16 4zm-9-1zm-11-1zm-31 4zm18 1zm45 0zm3 0zm69 0zm-135 1zm-5 5zm50-1zm10 2zm-54 2zm77 1zm-23 5zm-36 1zm52 0zm3 1zm-28 3zm-2 1zm-26-1zm-9 2zm25 2zm4 3zm27 1zm34 3zm-34 2zm-11 1zm85 3zm-51 0zm-38 2zm25 9zm34 2zm-14-1zm-37 2zm46 4z" stroke="#88cda2" stroke-width="2.6" stroke-linecap="round"/><path transform="scale(0.5)" d="M1150 72zm152 0zm12 0zm-11 3zm26 6zm-12 0zm-30 2zm13 3zm8 6zm10-2zm3 2zm-18 3zm-13 0zm0-1zm-4 7zm48 8zm-46 2zm11 4zm22 0zm6 1zm-6 3zm-18 3zm10-1zm-2 4zm-19-1zm15 3zm9 2zm-4 4zm14 4zm-50 2zm40-1zm8 3zm-6 5zm-7 3zm27 4zm-159 0zm148 7zm-53 3zm35 0zm28 3zm-32-1zm-36 2zm33 2zm16 2zm-7 2zm-10-2zm-127 2zm134 2zm26-1zm-31 4zm-38 1zm-31 1zm52 0zm11 0zm18 2zm14-2zm6 4zm-49 0zm-11 0zm-26 2zm5 1zm71 4zm-15-2zm-18 2zm-5-2zm-28 0zm-78 3zm54 2zm69-1zm1 0zm9 1zm-145 2zm-3 0zm-10 3zm4-1zm56 1zm73 1zm17-2zm-147 5zm16 1zm19 2zm6-2zm61 1zm5-1zm10 2zm14 3zm-44 0zm-25 3zm-24 3zm8 1zm8 2zm90 2zm-3 0zm-40-1zm-45 2zm-26 2zm125 2zm-50 2zm-16-2zm-23 2zm34 3zm13-2zm5 3zm-39 0zm-32 0zm-14 0zm-11 0zm45 4zm61 2zm-7 2zm-10-2zm-100 0zm15 3zm96 0zm-22 3zm-5 0zm-13 1zm-4 1zm50 3zm19 2zm-51 1zm-53 3zm1-1zm19 1zm40 0zm34 0zm9 2zm-38 0zm-63-1zm30 4zm7 1zm36 3zm-14-2zm-2 0zm-64 1zm37 6zm-35 2zm25 2zm1-1zm9 0zm4 0zm35 3zm-56 2z" stroke="#fbb55e" stroke-width="2.6" stroke-linecap="round"/><path transform="scale(0.5)" d="M1148 84zm3 1zm4 1zm2 0zm1 4zm4 4zm-5 0zm-1-1zm138 5zm-21 2zm-123-1zm-3 4zm12 1zm140-2zm-20 5zm0 0zm-126-2zm11 4zm0-1zm-1 7zm8 1zm111-2zm-136 5zm-4 0zm0-1zm6 2zm14 2zm1 0zm5-2zm2 2zm90-1zm-16 3zm-71-1zm-5 1zm-4-1zm-4 0zm-19 1zm0 4zm21 0zm2 0zm65 0zm6-2zm-89 7zm18-1zm3 0zm50 2zm17-2zm60 2zm-139 3zm-13-2zm20 5zm20-2zm-12 4zm-19 2zm7 2zm12-2zm9 5zm-11 0zm-12-2zm-10 0zm10 3zm5 1zm9 3zm-12 0zm-5 0zm-3-1zm25 4zm0 0zm5 3zm-26 0zm-7 3zm2 0zm7-1zm5 1zm1 0zm-16 3zm15 3zm8-1zm117 1zm-27 3zm-76 1zm79 1zm-50 3zm-6 2zm-19-2zm-3 2zm14 3zm40-1zm26-1zm-96 4zm-4 0zm-3 4zm9 0zm7-1zm117 3zm-29 0zm-72 0zm-20 1zm-21 1zm60 5zm-5 0zm-4-2zm-52 3zm4 0zm3 0zm91 2zm12 0zm1-1zm8-1zm20 2zm-8 1zm-11 0zm-25 0zm-3 0zm-62 0zm-25 3zm0 0zm1 1zm58 0zm34 4zm-24-2zm-16 0zm70 3zm-107 7zm2 1zm40-2zm27 1zm-4 4zm-71 1zm110 1zm-29 5zm10 5zm-26-1zm-9 0zm0 1zm39 2zm3 0zm4 0zm11-1zm-6 4zm-36 0zm-16-1zm-46 0zm46 11zm38 0zm29 1zm-4 1zm-6-1zm-34 0zm28 4zm-65 5zm29 0zm59 2zm4-2zm-70 5zm-27-1zm30 4zm44-2zm-5 3zm-35 9zm8 1zm13 0zm6-1zm8 0z" stroke="#c4e694" stroke-width="2.6" stroke-linecap="round"/><path transform="scale(0.5)" d="M1293 73zm-141 7zm-3 2zm10 9zm-5 3zm-11-1zm14 5zm136-1zm-128 2zm-8 2zm-14 0zm0 1zm5 1zm0 1zm0 0zm5 0zm-12 1zm1 3zm21 4zm-19 4zm15-1zm88 4zm-89-2zm0 5zm95 2zm-99 1zm-12 3zm94 1zm-78 2zm10 3zm68-1zm-12 2zm-84 4zm7 0zm5 0zm9 0zm19 0zm26 0zm40-1zm-74 3zm-21 0zm-7 5zm23-2zm8 0zm120 5zm-4-2zm-114 0zm-3 0zm-2 0zm-12 1zm-10 0zm3 4zm14 0zm19-1zm89 0zm-84 2zm-13 2zm-5 0zm5 1zm-27 8zm20 0zm10-1zm15 1zm86 3zm-98-2zm-3 0zm-19 0zm-6 4zm3 0zm12 0zm130 1zm-9 3zm-122-2zm-12 2zm11 2zm4 0zm7 1zm31 0zm42-2zm10 0zm-2 3zm-9 1zm-96 1zm-2-2zm8 5zm36-1zm11 0zm16-1zm12 0zm-10 4zm-34 0zm-36-1zm19 4zm11-1zm3 1zm79 0zm-86 3zm-9-1zm-10 0zm-5 2zm1 2zm74 0zm59 3zm-102 0zm-25-1zm1 4zm11 1zm135-1zm-23 3zm-16-1zm-102 2zm-4-1zm-4 3zm1 1zm3 0zm15-1zm94-1zm-56 5zm-18-1zm35 3zm55 1zm-49 1zm-54 1zm-1 1zm-29 1zm19 1zm11-1zm91 2zm-24 2zm-27 0zm-43-1zm-22 5zm11-2zm0 2zm21-2zm43 2zm9 2zm-26 1zm-15 0zm1 2zm9-1zm30 2zm35 1zm-104 3zm4 0zm38 1zm75 2zm-111 2zm16 3zm75 2zm-59 4zm58 3zm-8-1zm-43 3zm29-1zm41 3zm-52 2zm-3-1zm-57 1zm46 2zm0-1zm40 3zm-45 1zm17 2zm-30 4zm-16 0zm32 3zm42 1zm-25 2zm2 4z" stroke="#f2ec5a" stroke-width="2.6" stroke-linecap="round"/><path transform="scale(0.5)" d="M1297 71zm4 9zm6-1zm-156 2zm175 4zm0 2zm-19 9zm-26 7zm17 0zm23 4zm-22-2zm7 7zm23 7zm-50-1zm17 4zm21 1zm-157 3zm111 0zm67 4zm-191 3zm167 0zm-84 2zm-7 2zm-8 0zm72 2zm46 0zm-54 4zm-97 0zm2 3zm152 4zm-152 4zm82 4zm14 2zm-66-1zm71 8zm-133 2zm113 0zm27 0zm-29 4zm-62-2zm43 8zm-41 1zm94 0zm4 1zm5 2zm-103 0zm16 4zm47 0zm53 1zm21-2zm-44 5zm-61-1zm-28-1zm-17 2zm0-2zm96 5zm0-1zm-76 4zm-14-2zm-18 4zm48 0zm-25 2zm67 7zm-49 0zm-60-1zm125 4zm-76 3zm-27 3zm53 1zm53 2zm-8 0zm-45-1zm30 5zm60 0zm-129 3zm-28 2zm108 0zm27 4zm-47-1zm-82 0zm3 4zm62-1zm0 0zm-31 2zm-24 0zm-4 3zm12 1zm5 1zm36-2zm29 2zm-23 1zm52 5zm-7 1zm-93 2zm47 3zm-12 2zm-33-1zm5 5zm5 0zm14-2zm29 1zm50 2zm-33 8zm-1-1zm-2 3zm-22 4zm21 3zm-16 2z" stroke="#fcd95e" stroke-width="2.6" stroke-linecap="round"/><path transform="scale(0.5)" d="M1298 67zm3 0zm15 2zm-19 5zm0-2zm8 2zm8-2zm1 2zm8 3zm-11-1zm-9-1zm-9 1zm5 3zm4 1zm6-2zm19 2zm0 0zm3 1zm-25 2zm-2 0zm-11-1zm-23 4zm26 0zm2-2zm5 2zm8-1zm24 2zm-11 0zm-8 0zm-4 0zm-165 2zm142 3zm10 0zm1-2zm6 2zm3-2zm3 2zm4-1zm3 1zm11-2zm-7 3zm-1 1zm-5-1zm-4 2zm-6 0zm-6 0zm-11 2zm7 0zm8 0zm8 0zm4 1zm1-1zm6-1zm-2 4zm-8-1zm-2 2zm-7-1zm-3 0zm-8 1zm-12-2zm-130 1zm141 3zm3-1zm18 0zm1 1zm13 3zm-21 0zm-10 1zm-150-2zm120 5zm9 0zm34-1zm5 0zm0 0zm1 1zm4 3zm-12-2zm-2 2zm-18 0zm-116-1zm-24 4zm153-1zm2-1zm9 1zm1 0zm11 1zm14 0zm1-2zm4 4zm-8 1zm-1-1zm-9 0zm-3 0zm0-1zm-3 0zm-1 0zm-7 0zm-9 2zm-135 1zm5 2zm82-2zm45 0zm5 2zm2 0zm15-2zm2 0zm13 2zm9 1zm-1 0zm-11 1zm-12 0zm-8 1zm-9-2zm-10 0zm-1 0zm3 5zm17 0zm7-1zm4 0zm20 1zm1 3zm-1 0zm-9-1zm0 1zm-23-2zm-21 0zm-61 1zm-4 0zm-65-1zm-4 2zm-6 3zm147-2zm2 0zm2 1zm1 1zm7-2zm8 0zm1 1zm6-1zm3 0zm6 2zm9 3zm0-2zm-9 2zm-2 0zm-6 0zm-3-2zm-27 1zm-150 0zm-3 0zm5 2zm131 0zm11 2zm7-1zm7 0zm11-1zm8 1zm6 1zm0 0zm6-2zm11 5zm-9-2zm0 0zm-4 0zm-9 1zm-6 1zm-13-1zm-3-1zm-13 1zm-17 1zm-99-1zm-11 4zm121 0zm2-2zm23 0zm14 0zm22 0zm-1 3zm-5 0zm-1 1zm-3 0zm-6 1zm-1-1zm0 0zm-1 0zm-4-1zm-162 3zm17 1zm108 0zm14 1zm16-2zm1 0zm7 1zm8 1zm8-1zm4-1zm-23 5zm-26-2zm-150 1zm136 3zm10 0zm8 1zm6-1zm40-1zm-18 4zm-28 0zm-12 0zm12 4zm1-1zm3 1zm9 0zm4-2zm6 1zm4 1zm2-1zm17-1zm-13 4zm-5 1zm-4-2zm-2 1zm-19 0zm-16 1zm-9-1zm-106 4zm5-2zm108 2zm36-1zm2-1zm4 1zm7 1zm1-2zm8 5zm-1-2zm-15 2zm-20-1zm-5 1zm-1-2zm0 2zm-117-1zm-17 1zm32 1zm81 2zm18-2zm2 2zm1-2zm3 0zm3 1zm3 1zm4-2zm4 1zm28 2zm-4 2zm-14-1zm-14 1zm-17 0zm-10-1zm-13 0zm-5-1zm0 2zm-7 1zm33 1zm9-1zm3 2zm1-2zm12 2zm9-1zm1 1zm11 0zm-7 2zm-32-1zm-38 0zm-27 2zm-1 0zm-48-1zm-25 2zm95 2zm26-2zm0 1zm14-1zm1 1zm2 1zm2-1zm0-1zm5 1zm7 0zm19-1zm1 0zm-8 3zm-18 0zm-4 0zm-5 2zm-53-2zm-13 0zm-5 0zm-19 2zm-44-2zm137 3zm21 2zm2 0zm15 0zm-6 3zm-48 0zm-7 0zm-4 0zm-40 0zm-32-2zm-17 2zm-27 2zm51 0zm29 0zm11 0zm20 1zm19 0zm2-2zm16 1zm2 0zm16 0zm-8 2zm-8 2zm-7-1zm-18 0zm-85 1zm-28-1zm24 4zm4-2zm96 0zm15 0zm18 2zm0 2zm-2 1zm-3-1zm-4-1zm-2 0zm-3 1zm-10-1zm-62 2zm-17 0zm-14-2zm-47 3zm9 0zm13 0zm86 0zm14 1zm4 0zm9 0zm5-1zm0 2zm6 0zm15-2zm5 1zm4 2zm-16 0zm-14 1zm0 0zm-2 0zm-6 1zm-1-1zm-19 1zm-34-2zm-13 2zm-16-1zm-31 4zm17-2zm63 0zm10 2zm25-2zm7 2zm2-2zm10 0zm3 1zm12 3zm-5-1zm-3 0zm-36 1zm-28 1zm0 0zm-56-1zm-7 0zm-6-1zm-12 2zm-3-2zm-7 2zm35 3zm10-2zm83 2zm6-1zm2 1zm0-2zm15 0zm3 1zm2 1zm4 2zm-2 0zm-19-1zm-4 1zm-10-1zm-5 1zm-26 0zm0 1zm-3-1zm-2 0zm-5-1zm-52 1zm-6 0zm3 3zm14 1zm4-2zm13 2zm14-2zm15 0zm3 1zm27-1zm8 0zm32 0zm-4 4zm-6 0zm-5-1zm-12 2zm-2-2zm-3 2zm-94 3zm7-2zm9 1zm7 1zm2-2zm3 0zm41 2zm28-2zm18 2zm8-2zm-11 3zm-46 2zm0 0zm-25-1zm-18-1zm-4 1zm-4 0zm-3 0zm-25 1zm-17-1zm30 4zm6-1zm11-1zm0 0zm23 1zm12 0zm10-1zm32 0zm23 3zm-11 0zm-39 0zm-25 4zm5 0zm3-1zm8 2zm40-1zm8 1zm-4 2zm-11 1zm-21-2zm-9 2zm-5-2zm-27 2zm-42 0zm22 3zm20-1zm20 0zm24 0zm7-1zm4 0zm2 3zm-67 4zm12 0zm32-1zm38 0zm-11 3zm-4 2zm-49-1zm-8 1zm17 2zm9 0zm10 0zm25 0zm-59 4zm-12-1zm-11 3zm44-1zm10 1zm3-1zm-4 8z" stroke="#bd2742" stroke-width="2.6" stroke-linecap="round"/><path transform="scale(0.5)" d="M1312 68zm7 3zm-1 0zm-4 0zm-11 0zm-8 3zm11-2zm14 2zm1-1zm-4 2zm-2 2zm-8-2zm-3 0zm-2 2zm-11 3zm26-1zm1 0zm8 1zm3 1zm-20 2zm-3-2zm-5 4zm7 0zm2 1zm1-1zm4 0zm-6 4zm-2 0zm-6-1zm-5 3zm9 1zm4-2zm5 2zm9 0zm10-1zm-9 4zm-5 0zm-3 0zm-4-1zm-7 1zm-10-1zm-1 0zm-16 1zm14 2zm8 0zm6 1zm18-1zm3-1zm4 3zm-14 0zm-5 1zm-3 1zm-1-2zm-3 0zm0 1zm-37-1zm-108 5zm125-1zm2 0zm8-1zm11 2zm5-1zm1 1zm25-2zm1 4zm-12-1zm-31 1zm-1 1zm-15-2zm13 4zm8 0zm1 0zm5 1zm14-1zm11 3zm-2 1zm-8 0zm-11 0zm-4-1zm-13 1zm-132 2zm106-1zm15 0zm14 2zm11-2zm7 1zm18 0zm0 1zm4-1zm1-1zm4 1zm-1 4zm-8-2zm-7 1zm-1 0zm-5 0zm-7 1zm-9-1zm-137 3zm113-1zm17 2zm13-2zm10 1zm0-1zm9 0zm-3 4zm-13-1zm-12 1zm-16 1zm-1-1zm-4 0zm-2-1zm0 0zm-127 4zm14 0zm72-1zm50 1zm10 1zm4 0zm19-2zm1 1zm4 0zm10 1zm8-1zm1-1zm-8 4zm-4 1zm-1-2zm-1 2zm-8 0zm-11-1zm-40 1zm20 3zm13-2zm7 0zm29 2zm6 2zm-12 0zm-4-1zm-4 1zm-2 0zm-22 0zm-135-1zm46 4zm81 0zm7 1zm18-2zm2 0zm17 0zm8 4zm-11 1zm-1-1zm-1-1zm-6 2zm-27 0zm-16-2zm-6 2zm-3 1zm11 2zm21-2zm13 1zm3-1zm5 1zm2 1zm3-2zm4 1zm7 1zm-10 3zm-7-1zm-2 1zm-9-1zm-1-1zm-1 1zm-5-1zm-1 2zm-2 0zm-7-1zm-16 2zm2 2zm3-2zm4 2zm2-1zm9 0zm3-1zm9 1zm0 1zm4-2zm1 1zm12 0zm5 1zm5 0zm-49 3zm-14-2zm-101 0zm-16 1zm18 4zm8 0zm97-1zm12-1zm15 2zm14-1zm1 1zm9-1zm-4 4zm-13 0zm-7 0zm-13-2zm-1 1zm-3-1zm-6 0zm-7 5zm12-1zm19 0zm14 0zm3-1zm15 0zm-18 5zm-8 0zm-4-2zm-15 2zm-84-2zm-9 2zm-54 1zm36 1zm89-1zm7 1zm10 1zm8-1zm1 1zm41 1zm-3 2zm-1 0zm-12 0zm-3 0zm-9-1zm-17-1zm-11 1zm-115 1zm97 2zm3 0zm24-1zm5 1zm6 1zm1 0zm0 0zm3-2zm11 0zm5 2zm9-2zm-3 5zm-28 0zm0 0zm-5-1zm-6-1zm-26 0zm-59 0zm-24 0zm-26 2zm-2 0zm0 3zm28 0zm37-1zm18 1zm30-1zm41 0zm1-1zm2 0zm14 1zm10 4zm-23-1zm-1 1zm-4-1zm-8 0zm-6 0zm-68 1zm-68 0zm-13-1zm68 3zm14 1zm8-1zm13 0zm40-1zm8 1zm12 0zm6 1zm6-1zm5 4zm-11-1zm-13 1zm-101-1zm-10-1zm-18 0zm-13 1zm-3 1zm-3 2zm69-1zm34 0zm23 1zm31 0zm0-1zm4 0zm5 2zm12 2zm-16-1zm-5 0zm-15 2zm-14-2zm-67 0zm-37 2zm-15 1zm112 2zm28-1zm4 1zm11-1zm3 1zm15-1zm-8 3zm-1-1zm-19 1zm0-1zm-1 1zm-8 0zm-2 0zm-9-1zm-1 1zm-47 1zm-80 3zm47 0zm19-1zm28-1zm29 2zm14-1zm20 1zm1 0zm11 0zm-11 2zm-2 0zm-16 0zm-1-1zm-2 1zm-18 0zm-56-1zm-6 2zm-24-2zm-25 0zm15 3zm20 2zm4 0zm19 0zm6 0zm27-2zm3 2zm21-1zm2-1zm3 1zm19-1zm5 1zm11-1zm-5 4zm-7 1zm-3 0zm-3-2zm-1 0zm-13 0zm-68 2zm-35 0zm-11 1zm23 0zm18 0zm82 0zm10 1zm4-1zm2 1zm7 1zm-9 1zm-21 0zm-44 1zm-15 0zm-60-1zm-2 1zm-5 1zm-4 3zm104-2zm13 0zm1 0zm19 2zm7-2zm0 1zm10 0zm2 4zm-12-1zm-63-1zm-36 2zm-36-2zm38 5zm14-2zm4 1zm21 1zm37-1zm14 0zm16-1zm5 5zm-1-1zm-6 0zm0 1zm-9-2zm-14 0zm-15 1zm-12 1zm-31-2zm-33 1zm-21 0zm-12 2zm12 0zm14 0zm24 1zm20-1zm59 1zm-4 2zm-36 0zm-4 1zm-21-1zm-42 0zm43 3zm9 1zm32-1zm6 0zm7 0zm15 0zm9 4zm-67 1zm-11-1zm-25 1zm-19 0zm-5-1zm88 3zm11 0zm5 0zm15 1zm10-1zm-6 4zm0 0zm-22-2zm-6 1zm-3 0zm-2 1zm-27-2zm-13 1zm-2 0zm-5-1zm-2 1zm-7 3zm19 0zm13 0zm36 1zm3-2zm9 0zm7 3zm0 0zm0 1zm-25-1zm-7 2zm-72-2zm-13 0zm76 3zm3 0zm16 0zm-3 4zm-7 1zm-9-2zm-32 1zm-13 0zm-2 1zm-9 0zm12 3zm3-2zm51 5zm-5-2zm-5 2zm-15 0zm-41 1zm41 2zm2-1zm7 1zm18-1zm-37 3zm-18 0zm-23-1zm42 4zm3 2z" stroke="#bd2742" stroke-width="2.6" stroke-linecap="round"/><path transform="scale(0.5)" d="M1300 66zm-155 48zm151 1zm-14 7zm-30 1zm34 8zm0 0zm-145 2zm81 4zm-2 0zm-44 1zm39 6zm85 13zm-115 4zm-30-2zm35 3zm94 5zm-79 8zm63-1zm10 5zm-48-1zm-80 1zm22 1zm9 0zm8 0zm-39 5zm70 2zm24 3zm-46 2zm97 1zm-90 4zm-9 1zm78 1zm3 3zm-19 6zm-18 1zm-52 0zm-17 7zm12 2zm7 0zm37 0zm51 3zm-85-1zm-12 0zm-6 3zm76 7zm-67 1zm38 3zm36 6zm-69 4zm66 3zm-23 6zm7 0zm-18 2zm-38 0zm26 6zm79 4zm-11 2zm-24 5zm9-1zm-20 3z" stroke="#448db5" stroke-width="2.6" stroke-linecap="round"/><path transform="scale(0.5)" d="M1311 76zm-12 11zm-146 9zm149 2zm-25 4zm-138 13zm114 7zm25-2zm2 13zm-134 3zm70 6zm-64 7zm8 1zm109 3zm-113 0zm22 3zm127 2zm-163 3zm158 5zm-22 4zm5 3zm-1-2zm-122 2zm-13 2zm109 3zm31 4zm-67 1zm-3 0zm16 14zm-48 3zm25 0zm34-2zm16 0zm-96 7zm46-1zm49 2zm-92 2zm-6-1zm37 6zm-33 0zm-6 5zm15-1zm31 3zm-16-1zm36 5zm42 3zm-28 0zm-28-1zm-17 2zm20 0zm12 2zm43-2zm-58 5zm-8 0zm-28 9zm58-2zm33 2zm-17 1zm-50 4zm60 3zm-62 3zm30 1zm3-2zm1 4zm-41-1zm24 4zm78-1zm-65 3zm-35 4zm51-1zm19 4zm-29 3zm31 1zm2 0zm10 3zm-32-1z" stroke="#5bafad" stroke-width="2.6" stroke-linecap="round"/><path transform="scale(0.5)" d="M1301 67zm12 4zm-161 18zm-1-2zm-7 3zm4 0zm2 1zm130 4zm-125 4zm112 4zm-118 3zm132 9zm-5 2zm-118 4zm-16 4zm14 2zm16 0zm-5 3zm-4 1zm-21-1zm1 2zm19 2zm86 1zm-64 2zm-25 2zm2-1zm5 0zm8 1zm88 3zm-108 3zm2-1zm8 2zm4 0zm-4 1zm-18 1zm134 3zm-95 3zm-12 1zm-16 4zm111 7zm-78 1zm-14-1zm-9-1zm-3 3zm1 0zm15 1zm15 0zm77 2zm-126 0zm113 5zm-41 1zm-33 2zm-24-1zm-14 4zm13-2zm64 0zm8 5zm-18 2zm16 1zm5-1zm8-1zm7 0zm42 5zm-3-1zm-116-1zm-25 0zm84 5zm31-1zm16-1zm-33 5zm14 6zm-1-1zm-92-1zm-1 4zm18 1zm0-2zm37 0zm3 1zm35 1zm17 1zm-31 2zm-14-1zm-34-1zm-19 2zm0 1zm41 0zm49 4zm-29-1zm-19 1zm-50-1zm25 5zm26 0zm56 0zm-21 1zm-9 2zm-21-1zm-53-1zm23 4zm18 1zm28 0zm36 0zm-44 9zm-19-1zm-46 0zm-4 0zm18 2zm19 0zm61 5zm-42 0zm-1 0zm8 1zm41 0zm-5 4zm-15 0zm-55-1zm29 5zm39 1zm-25 3zm-53 8zm19-2zm16 1zm30 0zm-26 2zm-32 4zm11 0zm25-1zm45 5zm-30 2zm35 0zm-31 5z" stroke="#88cda2" stroke-width="2.6" stroke-linecap="round"/><path transform="scale(0.5)" d="M1321 72zm-1 3zm-4 5zm-44 5zm30-1zm10 1zm-9 4zm-16-2zm18 4zm14 1zm3 2zm-4 0zm-9-1zm-13 1zm-3 1zm1 1zm31 0zm-18 7zm19-1zm-36 8zm7 0zm3 0zm-52 7zm58 5zm4 0zm22-2zm4 5zm-1-1zm-87 0zm33 4zm8-2zm8 2zm19 0zm9 0zm-29 4zm3 0zm44 2zm-7 3zm-5-1zm-23 1zm13 2zm10-1zm10 1zm-71 6zm35 1zm1-1zm30-1zm-33 4zm-2 0zm-98 1zm124 4zm-18 2zm-24-2zm-110 3zm9 1zm104-1zm18 3zm6 4zm4 4zm-13 3zm18 0zm-20 1zm-9 2zm-11-1zm59 5zm-45 2zm-34-2zm-37 1zm-18 3zm102-1zm15 2zm-37 2zm-117-1zm38 4zm62 1zm17 0zm15-2zm7 2zm14 2zm-18 1zm20 6zm-4-1zm-4 1zm-2 0zm-19-1zm-18-1zm-95 3zm119 1zm3 4zm-3-2zm-6 2zm-22 0zm-3-2zm-3 0zm-114 4zm37-1zm56 0zm28 1zm32 2zm-107 1zm-31 4zm23-2zm10 1zm79 1zm44 1zm-4 0zm-160 5zm48 0zm76 2zm-32 0zm-15 0zm-41 0zm-19 2zm45 2zm5 0zm65 3zm-7-2zm-48 1zm-41 1zm-1 0zm-29-1zm38 3zm18-1zm1 0zm42 4zm-34 1zm-9-1zm52 4zm18-2zm-50 4zm-65 4zm20 0zm4-2zm20 1zm37-1zm15 2zm37 0zm4 0zm-101 6zm14-1zm33 0zm49 2zm-75 2zm-11-1zm-43 0zm5 4zm17-2zm17 0zm75 0zm1 4zm-85 4zm50-2zm18 2zm-34 2zm-31 1zm14 2zm50 3zm-19 1zm-28-2zm-32 3zm21 0zm35 1zm-1 3zm17 3zm-45 2z" stroke="#f68447" stroke-width="2.6" stroke-linecap="round"/><path transform="scale(0.5)" d="M1295 75zm-142 9zm-2 5zm-1-1zm128 3zm-135 7zm7-2zm4 2zm118-2zm-125 5zm19 1zm-13 4zm130 2zm-122 8zm0 0zm131 0zm-142 2zm-3 2zm113 1zm-105 3zm-10 1zm0 3zm13 0zm6-2zm1 4zm-1-1zm-24 0zm14 3zm10 0zm13 2zm1 0zm60-1zm73 2zm-149 1zm9 3zm123 1zm-113 2zm-20 0zm-2-1zm-4 1zm-12 0zm11 3zm26-1zm103 4zm-125 0zm-1-1zm-8 1zm-3 1zm25 2zm99 0zm14 0zm-8 2zm-89 0zm-32 0zm-6 1zm14 4zm7-2zm16 1zm114 2zm-24 1zm-108 1zm-5-2zm-14 2zm-3 2zm12-1zm-4 4zm-7 3zm1-1zm1 1zm1-1zm28 0zm87 1zm3 0zm0 1zm10-1zm9 4zm-93-1zm-42 1zm-3 3zm29-1zm98 3zm-93 1zm-5-2zm-14 3zm39 2zm55 0zm-87 2zm-18 2zm8 0zm37 2zm19 0zm19 1zm-79 0zm0 2zm82 2zm13-1zm-30 5zm-52-1zm-15 0zm17 3zm67 0zm49-1zm-15 5zm-77 0zm-12-2zm-2 2zm-20 1zm26 2zm15-2zm42 3zm-13 2zm-42-2zm-31 4zm42 0zm56 1zm7 0zm10 1zm-27 0zm-74 0zm88 3zm7 1zm19 0zm5 2zm-11 0zm-61 3zm25 2zm38 0zm-50 1zm-24 0zm-12 0zm-3 0zm-22 3zm11 1zm8 0zm0 1zm69 3zm-1-2zm-54 2zm-25 0zm15 2zm23-1zm18 1zm18 1zm17-2zm-40 4zm-7-1zm4 5zm4-2zm15 1zm15 0zm-32 3zm-5-1zm-27 3zm65 0zm20 4zm-24 0zm-6 0zm-48 2zm59 0zm3 8zm7-1zm18 0zm-25 3zm-41 1zm-11-2zm3 7zm-9-1zm-12 2zm3 2zm39 5z" stroke="#f2ec5a" stroke-width="2.6" stroke-linecap="round"/><path transform="scale(0.5)" d="M1320 71zm-22 3zm22-2zm-18 10zm-17 1zm16 1zm31 2zm-3 2zm-27 2zm3 2zm-9 8zm0 1zm12 3zm0 2zm-6 1zm21 2zm7 1zm6-2zm-45 4zm23 3zm2 1zm-32 1zm35 8zm-42 1zm30 2zm28 1zm-49 1zm-146 2zm74 2zm121 1zm-10 2zm-80 0zm71 5zm-1 0zm-139 0zm108 4zm47-2zm-34 5zm0 0zm-115 2zm89-1zm29 0zm30 2zm-22 2zm-22 0zm-78 4zm85 0zm1-2zm31 5zm-48 1zm29 8zm-42 3zm-101 1zm145 3zm-90 1zm-64-1zm134 8zm-26 0zm-20-2zm-65 4zm51 1zm28-1zm33 1zm16 0zm8-2zm-17 3zm-10 1zm-14 0zm-36 1zm-28-2zm107 7zm-8 1zm-88-1zm-36 1zm38 2zm81 1zm18-2zm8 3zm-41 0zm-6 0zm-88 0zm73 5zm13 2zm-30 0zm-77-1zm37 5zm102 0zm10-2zm-11 3zm-123 3zm1 1zm7 0zm10 1zm6-2zm0 1zm93-1zm8 4zm-16 0zm-44-1zm-9 2zm11 1zm6 1zm25-1zm7 2zm13 1zm-57 2zm-6-1zm-57-1zm-9 1zm10 3zm3 1zm45 0zm17-2zm20 2zm-26 6zm36-2zm18 1zm-77 2zm-23 1zm-23 3zm3 1zm2 0zm29-1zm91 1zm0 2zm-35-1zm-87 2zm55 3zm26-2zm-18 8zm14-2zm-21 4zm31 7zm4 1zm13 0zm3 3zm-21 2zm-5 0zm-29 0zm-1 5zm-3-1zm10 4zm25-1z" stroke="#fbb55e" stroke-width="2.6" stroke-linecap="round"/><path transform="scale(0.5)" d="M1302 84zm-19 4zm-6-1zm-123 2zm-2 1zm162 11zm-41-1zm-110 1zm-20 0zm0 0zm174 1zm-155 3zm-2 5zm5-2zm-13 3zm-5 1zm-6 0zm0 3zm9 0zm16 0zm133 4zm-139-1zm-10 3zm20-1zm0 5zm-21 0zm-1-2zm-6 5zm13-2zm14 0zm4 1zm3 0zm114 3zm-131 1zm-1-1zm0 0zm125 5zm-122 1zm-7 0zm-6 0zm3 2zm11 1zm9 0zm39 1zm72 1zm-126 2zm-12 3zm7-1zm2 1zm0 0zm2-1zm21 1zm28 3zm-35-1zm-18 3zm0-1zm4 2zm13 0zm12 1zm-7 2zm-9-2zm-5 2zm-5 0zm-3 2zm29 0zm-27 4zm-10 3zm39-1zm-22 5zm14 0zm109 0zm-8 5zm-57-1zm-17 1zm-21-1zm-18 4zm9-2zm4 1zm14 1zm25 1zm-21 0zm-22 2zm-17-1zm-1 1zm3 1zm0 1zm12 0zm10 1zm38-2zm16 5zm-29-1zm-33-1zm-8 2zm-1-1zm57 3zm16-1zm9 3zm-85 0zm-7 5zm32 0zm10-2zm38 0zm10 1zm1 2zm0 0zm-2 1zm-43 1zm-27-1zm7 3zm12-1zm28 2zm50 1zm-40 0zm-38 5zm88-2zm7 3zm-1 1zm-64 0zm-24 0zm32 2zm60 5zm-49-1zm-55-1zm-11 2zm55 1zm45 5zm-12-1zm-87 0zm36 4zm12-1zm9-1zm18 5zm-18-1zm-17 0zm-2-1zm-16 0zm-9 0zm-7 2zm44 1zm44 5zm-79 0zm-12 2zm35-1zm33 1zm5 4zm-5-2zm-5 1zm-7 1zm-3 0zm-1-1zm-4 1zm0-2zm-1 1zm-2 1zm26 5zm-57 3zm87 1zm-12 3zm6 7zm-75 6zm11 7zm8 1zm7 5zm32 2z" stroke="#c4e694" stroke-width="2.6" stroke-linecap="round"/><path transform="scale(0.5)" d="M1293 89zm-23 7zm-115 26zm148 7zm-28 26zm-91 1zm30 20zm28 6zm7 1zm-53 3zm67 2zm7 3zm-105 2zm74 1zm54 0zm-29 2zm-59 1zm-44-2zm63 9zm-48 4zm57 3zm8-1zm0 4zm-57 21zm17-1zm34 9zm-31 3zm35 5zm-37 5zm-9-1zm4 8zm-6 0zm-3 0zm0 0zm58 7zm-9 8z" stroke="#4f65ac" stroke-width="2.6" stroke-linecap="round"/><path transform="scale(0.5)" d="M1306 68zm1-1zm12 3zm-17-1zm-1 0zm0 2zm-6 3zm11-2zm1 2zm1 0zm12 1zm0 1zm-9-1zm-11 2zm-7 3zm2-1zm1-1zm9 2zm4 0zm0-2zm1 1zm7 4zm0-1zm-13 0zm-1 1zm-1-2zm-5 0zm-4 2zm-2-1zm-142 1zm136 2zm8-1zm6 1zm0 0zm13-1zm1 0zm3 1zm10-1zm3 2zm-2 3zm0-1zm-13-1zm-3 2zm-1-1zm0 1zm-2-1zm-1 0zm-6 1zm-1-1zm-4 0zm-3 0zm-6 1zm-1-2zm0 5zm10-1zm1 0zm0-1zm2 0zm6 2zm6-1zm7 0zm11 1zm5 3zm-3-2zm-9 0zm-11 2zm-2 0zm0-1zm-20 1zm-2 1zm1 2zm5-2zm6 1zm31 3zm-3 1zm-5-2zm-9 1zm-1-1zm-3 2zm-14 0zm-1 0zm-7-2zm-131 4zm115 0zm14 1zm8-1zm7-1zm1 1zm11 0zm27 4zm-11-1zm-20 0zm-4 0zm-151 2zm163 2zm1-2zm6 2zm11 0zm3 3zm-17 0zm-9-2zm-10 0zm-4 1zm-3 1zm0-1zm-138 4zm125 0zm4-1zm4 0zm26-1zm19 1zm7 1zm-3 3zm-6-1zm-2 0zm-3 0zm-1 1zm-1-1zm-5 1zm-17-2zm-151 1zm149 2zm2 0zm0 0zm8 1zm9 0zm7 0zm16 4zm-16 0zm-6-1zm-3-1zm-16 0zm-3 2zm-2-2zm-3 1zm-5-1zm-3 0zm-6 1zm-137 2zm90 0zm8 0zm14 0zm45 1zm1 1zm4-2zm2 1zm6-1zm2 1zm7 0zm10 1zm4 0zm6 0zm1 3zm-4-2zm-4 0zm-1 2zm-11-1zm-3-1zm-5 1zm-1-1zm-5 0zm-3 0zm-5 2zm-20 0zm-118 0zm139 2zm2 0zm36 4zm-5-2zm-25 1zm-2 1zm-7 0zm-159-2zm26 3zm135 2zm3-1zm10 0zm12-1zm12 0zm5 5zm-14-2zm0 1zm-10-1zm-14 2zm-8 0zm-117-1zm-23 2zm148 0zm14 0zm22 5zm-13-2zm-16 2zm-12-2zm-4 0zm-14 3zm5 1zm7 1zm2-2zm5 1zm9-1zm3 2zm11-2zm6 0zm5 0zm7 0zm0 3zm-4 2zm-14-1zm-11-1zm-2 2zm-20-2zm-6 1zm-145-1zm134 3zm4 0zm19 1zm22-1zm14 0zm-1 4zm-14 1zm-7-1zm-15 0zm-7 1zm0-2zm-2 1zm-8 1zm-1-1zm4 2zm1 0zm9 0zm15 1zm1-1zm1 2zm29-1zm1 1zm2 0zm0-2zm1 0zm-4 4zm-15 1zm-15-2zm-6 0zm-154 2zm60 3zm87 0zm4 0zm5-1zm6-1zm2 1zm5 1zm6 0zm3 0zm1-1zm3 0zm0 0zm-15 2zm-14 2zm-9 0zm-24 0zm-84-2zm-38 3zm29 2zm16-1zm98-1zm9 1zm5 0zm3-1zm19 1zm3-1zm4 1zm-41 3zm-28 1zm-24 0zm-43 2zm30 0zm51-1zm0 0zm11 2zm3-2zm1 0zm1 2zm3 0zm10-2zm5 1zm2 0zm1 0zm4 1zm3-2zm2 1zm14 3zm-15 0zm-2-1zm-47 2zm-20-2zm-79 1zm-11 0zm-10 2zm55 0zm7 1zm15 1zm49-2zm1 2zm0-1zm20 0zm3 1zm8 0zm10-1zm-10 4zm-2-2zm-9 0zm0 1zm-44 0zm-22-1zm-14 1zm-70 0zm31 4zm106-1zm14 0zm0 1zm1-2zm3 1zm5 0zm0-1zm11 1zm16 1zm-1 2zm-29-1zm-7 2zm-9-2zm-1 0zm-40 0zm-97 5zm73-1zm1 0zm18-1zm4 0zm9 2zm29 0zm0-1zm36-1zm13 1zm-3 3zm-3-1zm-12 1zm-38 1zm-28-1zm-3-1zm-23 2zm-76-2zm52 4zm62-1zm4 0zm26 1zm1-1zm8 1zm9-1zm3 2zm1-1zm3 1zm-22 3zm-9-1zm-11-1zm-66 0zm0 1zm-20 0zm-7-1zm-20 1zm32 4zm22-2zm16 1zm26 0zm19-1zm6 2zm12 0zm1-1zm4 0zm19 1zm9 2zm-74 1zm-93 3zm89 0zm29 0zm1-2zm46 0zm-3 3zm-46 2zm-1-1zm-26 0zm-40 0zm-8 1zm-44 3zm68 0zm7-2zm13 0zm52 2zm2-2zm4 1zm9-1zm11 1zm-9 4zm-4-2zm-15 0zm-4 0zm-15 1zm-12 1zm-17 0zm-6-1zm-18 0zm-26-1zm-12 2zm-24 2zm13-1zm18 2zm7-1zm84 0zm35-1zm-4 5zm-15 0zm-3-2zm-41 2zm-15-2zm-20 2zm-48-2zm66 4zm30 1zm3-1zm10 1zm8 0zm1 0zm22 0zm4 1zm-13 1zm-17 0zm-31-1zm-25 2zm-14-1zm-47 1zm-2 0zm-3-2zm2 4zm14 1zm10-2zm37 2zm51 0zm9-1zm4-1zm7 0zm12 2zm-5 1zm-4 1zm-87-1zm-18 5zm18-1zm9 0zm7 0zm9 0zm41 1zm3-1zm21 4zm-12-2zm-12 2zm-7 0zm-41-1zm-6 0zm-14 1zm-5 0zm-29 0zm35 2zm0-1zm6 0zm11 2zm65-1zm10-1zm-26 5zm-1 0zm-85 1zm7 1zm75 1zm-39 1zm-8 0zm-33 1zm-9-1zm12 4zm7 1zm25 0zm46-1zm9-1zm3 1zm-92 2zm16 5zm40-2zm24 1zm-59 6zm5 1zm32-2zm1 0zm2 2zm-22 2z" stroke="#e5513e" stroke-width="2.6" stroke-linecap="round"/><path transform="scale(0.5)" d="M1315 79zm-16 10zm-25 1zm31 5zm-25 1zm4 5zm33 6zm-19 1zm11 5zm-4-1zm25 3zm6-1zm-13 10zm-41 0zm-41-1zm2 3zm88 2zm0-1zm-36 5zm-69 8zm50-1zm15 1zm26-2zm20 3zm-35 1zm-125 1zm-19 2zm8 0zm124 1zm-119 4zm163 6zm6 6zm-188 7zm99 8zm-66 1zm52 4zm86 0zm-85 3zm-9 6zm-79-2zm40 5zm34-1zm45 4zm-30 0zm-6-2zm-41 2zm-24-1zm37 3zm-11 3zm-23 2zm27 2zm27-2zm2 4zm-39-1zm-16 4zm7 1zm119-1zm-64 2zm-8 2zm-65-2zm43 8zm-12-2zm-21 2zm85 2zm27-1zm-22 5zm-47 6zm-18-1zm-17 1zm54 2zm12-1zm31 2zm4-2zm-5 4zm-77 1zm-3-1zm-2 1zm-22 2zm69 0zm6 1zm3-1zm27 4zm-12-1zm-16 0zm-24 0zm-48 3zm5 1zm108-2zm-80 3zm61 4zm2-1zm14 0zm-23 5zm-2 0zm-5-2zm-61 2zm54 2zm-34 3zm-2 2zm41 0zm8 3zm-31 1zm-30 3zm40 0zm24 1zm-36 5zm37 0z" stroke="#fcd95e" stroke-width="2.6" stroke-linecap="round"/><line x1="564.3" y1="27.8" x2="564.3" y2="145.2" stroke="#a8a8a8" stroke-width="0.7"/><line x1="563.9" y1="145.2" x2="678.6" y2="145.2" stroke="#8c8c8c" stroke-width="0.9"/><line x1="563" y1="59.2" x2="564.3" y2="59.2" stroke="#999" stroke-width="0.6"/><text x="562.2" y="61.4" font-size="6.2" text-anchor="end" fill="#222">4</text><line x1="563" y1="93.5" x2="564.3" y2="93.5" stroke="#999" stroke-width="0.6"/><text x="562.2" y="95.7" font-size="6.2" text-anchor="end" fill="#222">0</text><line x1="563" y1="127.8" x2="564.3" y2="127.8" stroke="#999" stroke-width="0.6"/><text x="562.2" y="130" font-size="6.2" text-anchor="end" fill="#222" textLength="7" lengthAdjust="spacingAndGlyphs">−4</text><line x1="593.2" y1="145.2" x2="593.2" y2="146.5" stroke="#999" stroke-width="0.6"/><text x="593.2" y="153.2" font-size="6.5" text-anchor="middle" fill="#222" textLength="7.6" lengthAdjust="spacingAndGlyphs">−5</text><line x1="624" y1="145.2" x2="624" y2="146.5" stroke="#999" stroke-width="0.6"/><text x="624" y="153.2" font-size="6.5" text-anchor="middle" fill="#222">0</text><line x1="654.8" y1="145.2" x2="654.8" y2="146.5" stroke="#999" stroke-width="0.6"/><text x="654.8" y="153.2" font-size="6.5" text-anchor="middle" fill="#222">5</text><text x="621.8" y="23.8" font-size="10.2" text-anchor="middle" textLength="45.5" lengthAdjust="spacingAndGlyphs">CytoTRACE</text><text x="621.8" y="160.6" font-size="8.0" text-anchor="middle" fill="#222" textLength="41.5" lengthAdjust="spacingAndGlyphs">Component1</text><text x="552.7" y="86.3" font-size="8.0" text-anchor="middle" fill="#222" transform="rotate(-90 552.7 86.3)" textLength="44.5" lengthAdjust="spacingAndGlyphs">Component2</text><text x="499" y="65" font-size="5.4" fill="#222" textLength="24" lengthAdjust="spacingAndGlyphs">Predicted</text><text x="499" y="71.6" font-size="5.4" fill="#222" textLength="12.5" lengthAdjust="spacingAndGlyphs">order</text><defs><linearGradient id="gC" x1="0" y1="0" x2="0" y2="1"><stop offset="0.0" stop-color="#a31445"/><stop offset="0.1" stop-color="#dc3d3e"/><stop offset="0.2" stop-color="#f4743f"/><stop offset="0.3" stop-color="#fbae5e"/><stop offset="0.4" stop-color="#fdd75e"/><stop offset="0.5" stop-color="#f2ec5a"/><stop offset="0.6" stop-color="#bfe59a"/><stop offset="0.7" stop-color="#7cc8a4"/><stop offset="0.8" stop-color="#4fa6b0"/><stop offset="0.9" stop-color="#3d7fb8"/><stop offset="1.0" stop-color="#5e4fa2"/></linearGradient></defs><rect x="499" y="75.4" width="6.6" height="38.4" fill="url(#gC)"/><line x1="499" y1="75.9" x2="500.3" y2="75.9" stroke="#222" stroke-width="0.5"/><line x1="504.3" y1="75.9" x2="505.6" y2="75.9" stroke="#222" stroke-width="0.5"/><text x="508.3" y="77.9" font-size="5.2" fill="#222" textLength="30" lengthAdjust="spacingAndGlyphs">1.0 (Less diff.)</text><line x1="499" y1="83.5" x2="500.3" y2="83.5" stroke="#222" stroke-width="0.5"/><line x1="504.3" y1="83.5" x2="505.6" y2="83.5" stroke="#222" stroke-width="0.5"/><text x="508.3" y="85.5" font-size="5.2" fill="#222" textLength="7" lengthAdjust="spacingAndGlyphs">0.8</text><line x1="499" y1="91.1" x2="500.3" y2="91.1" stroke="#222" stroke-width="0.5"/><line x1="504.3" y1="91.1" x2="505.6" y2="91.1" stroke="#222" stroke-width="0.5"/><text x="508.3" y="93.1" font-size="5.2" fill="#222" textLength="7" lengthAdjust="spacingAndGlyphs">0.6</text><line x1="499" y1="98.6" x2="500.3" y2="98.6" stroke="#222" stroke-width="0.5"/><line x1="504.3" y1="98.6" x2="505.6" y2="98.6" stroke="#222" stroke-width="0.5"/><text x="508.3" y="100.6" font-size="5.2" fill="#222" textLength="7" lengthAdjust="spacingAndGlyphs">0.4</text><line x1="499" y1="106.2" x2="500.3" y2="106.2" stroke="#222" stroke-width="0.5"/><line x1="504.3" y1="106.2" x2="505.6" y2="106.2" stroke="#222" stroke-width="0.5"/><text x="508.3" y="108.2" font-size="5.2" fill="#222" textLength="7" lengthAdjust="spacingAndGlyphs">0.2</text><line x1="499" y1="113.8" x2="500.3" y2="113.8" stroke="#222" stroke-width="0.5"/><line x1="504.3" y1="113.8" x2="505.6" y2="113.8" stroke="#222" stroke-width="0.5"/><text x="508.3" y="115.8" font-size="5.2" fill="#222" textLength="31.5" lengthAdjust="spacingAndGlyphs">0.0 (More diff.)</text><text x="254.2" y="184.5" font-size="14.2" font-weight="bold" font-family="'Liberation Serif', serif">E</text><defs><linearGradient id="gb2" gradientUnits="userSpaceOnUse" x1="273.2" y1="0" x2="390.9" y2="0"><stop offset="0" stop-color="#7fb0a8"/><stop offset="0.6" stop-color="#8aa8a4"/><stop offset="0.8" stop-color="#c85868"/><stop offset="1" stop-color="#c83048"/></linearGradient></defs><path d="M280.7 222.3 L282.2 223.4 L283.6 226.3 L284.9 230.2 L286 234.4 L286.9 238.4 L287.8 242 L288.8 245.3 L290.1 248.4 L291.9 251.3 L294.1 253.6 L296.8 255 L299.8 255.4 L303.1 255.1 L306.4 254.5 L309.6 254.1 L312.4 254.4 L314.8 255.6 L316.3 258.1 L316.6 261.7 L316.8 265.4 L317.8 268.3 L319.8 270.3 L322.5 271.4 L325.5 271.9 L328.8 272 L332.1 271.7 L335.2 270.9 L337.8 269.4 L339.7 267.3 L340.8 264.2 L341.1 260.4 L341.4 256.6 L342.2 253.1 L343.2 249.8 L344.3 246.6 L345.1 243.2 L345.5 239.5 L345.6 235.6 L345.6 231.7 L346 228.3 L347.2 226.3 L349.6 226.1 L352.5 226.2 L355.3 225 L358.1 223.1 L360.9 221.2 L363.8 219.9 L366.7 219.3 L369.6 219.2 L372.5 219.6 L375.3 220.6 L377.9 222 L380.4 223.8 L382.7 226 L384.7 228.5 L386.4 231.4 L387.8 234.5 L388.8 237.8 L389.6 241.4 L390.2 245 L390.5 248.7 L390.7 252.5 L390.6 256.3 L390.4 260.1 L390.1 263.7 L389.7 267.4 L389.1 270.9 L388.4 274.4 L387.5 277.8 L386.5 281.2 L385.4 284.4 L384.1 287.6 L382.8 290.6 L381.2 293.6 L379.6 296.5 L377.8 299.2 L375.9 301.9 L373.8 304.4 L371.6 306.9 L369.3 309.2 L366.8 311.4 L364.3 313.4 L361.7 315.3 L358.9 317 L356.1 318.6 L353.3 320 L350.4 321.3 L347.4 322.4 L344.4 323.3 L341.4 323.9 L338.4 324.4 L335.4 324.7 L332.4 324.8 L329.5 324.7 L326.5 324.3 L323.6 323.8 L320.8 323.1 L317.9 322.1 L315.1 321 L312.4 319.8 L309.7 318.3 L307.1 316.7 L304.6 314.9 L302.1 312.9 L299.8 310.8 L297.5 308.5 L295.3 306.1 L293.2 303.5 L291.2 300.8 L289.3 297.9 L287.5 294.9 L285.9 291.8 L284.3 288.7 L282.8 285.4 L281.4 282.1 L280.2 278.7 L279 275.3 L277.9 271.9 L276.9 268.5 L276 265.1 L275.2 261.7 L274.4 258.3 L273.8 255 L273.4 251.6 L273.2 248.2 L273.1 244.7 L273.4 241.1 L273.9 237.4 L274.8 233.6 L276 229.6 L277.4 225.9 L279.1 223.3 L280.7 222.3Z" fill="url(#gb2)" fill-opacity="0.32"/><path d="M288.2 237.9 L293.1 253 L299.7 259.3 L303.2 266.9 L310.1 270.6 L321.3 272.5 L331.7 273 L340.8 270.6 L346.3 263.1 L348.8 253 L348.4 240.4 L347.4 222.8 L338.7 215.2 L296.9 215.2Z" fill="#fff" stroke="#fff" stroke-width="1.2"/><path transform="scale(0.5)" d="M729 440zm14 0zm0-1zm9 4zm-5-1zm-4 1zm-19 2zm2 1zm3 0zm5-1zm8 0zm7 1zm2 0zm-5 2zm-4 0zm-1 0zm-184 0zm157 2zm1 0zm6 1zm2-1zm18 1zm2 0zm2 1zm1 0zm1-2zm2 1zm13 0zm1 3zm-9 1zm-10 0zm-2-2zm-1 0zm-4 2zm-4-1zm0 1zm-3-1zm-3 1zm-4 0zm-2-2zm0 1zm-3 0zm-12 2zm17 2zm0-2zm5 1zm2-1zm7 2zm5 0zm2-1zm1-1zm3 2zm8 0zm5 0zm-1 1zm-7 1zm0 0zm-2 0zm-7 0zm-10 0zm-1 1zm-1-1zm-1 0zm-4-1zm-17 1zm12 3zm1 1zm3-2zm2 0zm4 2zm0 0zm9 0zm0-2zm4 0zm11 1zm6-1zm4 2zm1-1zm6 1zm-18 3zm-6-1zm-2 1zm-3-2zm0 2zm-4-2zm-1 2zm-6-2zm-4 1zm-8 0zm-14 2zm26 1zm1-1zm3 2zm11-1zm4-1zm10 0zm8 1zm0 0zm1-1zm4 4zm-3-1zm-7 1zm-6 1zm-1-2zm-2 0zm-1 0zm-3 2zm-7-2zm-6 0zm-4 0zm-4 0zm-12 2zm-15-2zm-143 3zm133 1zm22-1zm18 2zm2-1zm1 1zm12 0zm1-2zm14 0zm0 0zm1 1zm5-1zm6 3zm-18 0zm-13 1zm-6-1zm-2 0zm-1 0zm-5 0zm-7 1zm-1 0zm-12 1zm-6-2zm-7 1zm29 4zm13-1zm20 1zm9 3zm-11-1zm0 0zm-3 0zm-1 0zm-2 1zm-17 0zm-1-2zm-27 1zm-7 1zm1 3zm32-1zm2 0zm13 1zm3 0zm5-1zm1-1zm1 0zm2 1zm0-1zm0 1zm14 4zm0-2zm-5 1zm-2 0zm-1 0zm-10 0zm-2-1zm-5 1zm-11 0zm-1 0zm-8-1zm-2 2zm-177-2zm25 4zm147-1zm3 0zm10 1zm1 1zm1 0zm13 0zm15 0zm6-2zm6 3zm-5 2zm-12-1zm0 1zm-5-1zm-5-1zm-1 1zm-2 0zm-1 0zm-3 0zm-11-1zm-59 1zm-13 1zm-17 3zm84-1zm2-1zm19 2zm0 0zm4 0zm5 0zm2-2zm0 2zm15 0zm3 0zm2-1zm-4 4zm-4 0zm-2-1zm-2-1zm-1 2zm0-2zm-3 1zm-7 0zm-1 0zm-7 1zm-6-2zm-2 1zm-10 1zm-2-2zm-81 1zm-66 4zm149 0zm12-2zm7 1zm4 0zm4 1zm2-2zm2 0zm5 1zm1-1zm2 1zm0 0zm4 1zm5-1zm1 2zm-12 1zm-3 1zm-11-2zm-3 0zm-5 2zm-6-1zm-1-1zm-2 1zm-37 0zm-150 3zm14-1zm142 2zm12-2zm7 2zm10-2zm7 0zm8 1zm5 0zm4-1zm5 0zm1 0zm0 1zm1 0zm12-1zm3 0zm-1 4zm-5-1zm-10 2zm-3 0zm-2 0zm-6 0zm-3-1zm-14-1zm-1 0zm-6 1zm-3-1zm-14 1zm-105 0zm-29 2zm137 0zm16 1zm10-1zm2 0zm5 2zm3-1zm4 0zm3-1zm2 0zm1 0zm13 1zm4-1zm1 1zm0-1zm1 4zm-1-1zm0 1zm-17-1zm-7 0zm-3 1zm-3 0zm-19 0zm-7 1zm-143 0zm5 1zm20 1zm111 0zm10 0zm5 1zm1-2zm2 0zm6 0zm2 1zm3-1zm1 2zm3-1zm7 1zm3-2zm0 1zm1-1zm2 2zm0-2zm0 2zm2 0zm2-2zm2 0zm5 0zm1 0zm4 1zm1 2zm-1 1zm-5 0zm-3 1zm-17-2zm-5 1zm-2-1zm-1 0zm-9 2zm-7-2zm-21 2zm-112-2zm-17 1zm-8-1zm147 5zm2-1zm7-1zm5 2zm7-2zm2 2zm4 0zm3-1zm4-1zm1 2zm13-2zm3 2zm2-2zm4 1zm3 0zm1 1zm-1 2zm-8 1zm-7 0zm-1-1zm0 1zm-6-1zm-19-1zm-3 1zm-2 1zm-3 0zm-1-1zm-6 0zm-2 1zm-21 0zm-9-1zm-107 1zm-20 1zm69 0zm89 1zm1-1zm5 0zm5 1zm10 0zm1-1zm5 2zm4-2zm4 1zm3 0zm3 0zm-2 4zm-3 0zm-2 0zm-4-1zm-8-1zm-4 2zm-2-2zm-2 0zm0 2zm-1 0zm-3-2zm-2 1zm-3 0zm-17 0zm-77 0zm-40 3zm91-1zm22 2zm5-1zm15 1zm0-1zm5 0zm8 1zm5-2zm20 0zm10 1zm2 4zm-4-2zm-24 1zm-3 1zm-1 0zm-3-2zm-5 0zm-13 2zm-1-2zm-9 0zm-10 1zm-84 0zm-55 1zm-1 1zm28 0zm69 0zm4 2zm55-1zm9 1zm8 0zm1-2zm7 2zm4 0zm9 0zm12-2zm4 1zm2 0zm1 1zm-22 2zm-4 1zm-3 0zm-3 0zm-18-1zm-1 0zm-4-1zm-6 0zm-5 1zm-28 1zm-60-1zm-10 3zm101 0zm12 0zm1 0zm0 1zm14-1zm10-1zm0 1zm1-1zm19 2zm2 0zm-4 2zm-25 1zm-5-1zm0 0zm-2 1zm0-2zm-1 1zm0 1zm-9 0zm-12 0zm-13-2zm-59 0zm-33 2zm-27 0zm14 3zm0-1zm9-1zm8 0zm5 1zm93 1zm22-2zm2 0zm2 1zm2-1zm1 0zm9 1zm1 0zm1-1zm3 1zm17 3zm-9 1zm-10-1zm-4 0zm-12-1zm0 0zm-7 2zm-1-1zm-11 1zm-8-1zm-30 1zm0-1zm-12 0zm-6 0zm-39-1zm-2 2zm-32 0zm-5 0zm-11 0zm109 3zm11-2zm25 2zm0-2zm14 0zm4 2zm2-2zm0 0zm4 0zm9 0zm20 0zm1 2zm-21 2zm-5-1zm-36 2zm-30-2zm-6 2zm-21-1zm-59 0zm-18 3zm27 0zm33-1zm1 0zm55 0zm25 0zm11 1zm1 1zm1-2zm0 2zm1-2zm13 2zm3-2zm1 2zm4-1zm8 0zm2 1zm-5 2zm-2 0zm-6 0zm-17 0zm-2 1zm-2-1zm-7 1zm-1 0zm-3-2zm-9 0zm-2 0zm-2 2zm-4-1zm-13-1zm-9 1zm-17-1zm-37 1zm-10-1zm-1 0zm-25 2zm-14-2zm16 3zm14 1zm3-1zm13 1zm12-1zm60 2zm1 0zm20-2zm6 0zm1 1zm9 1zm1-2zm2 0zm1 1zm3 1zm3 0zm3 0zm5 0zm3 0zm5 0zm8-1zm0 1zm-3 1zm-7 1zm0 1zm-2-1zm-5 0zm-3-1zm-23 2zm-4 0zm-1-2zm-1 1zm-21-1zm-10 2zm-12 0zm-4-2zm-5 1zm-55 1zm-3 0zm-32-2zm12 4zm6-1zm59 2zm38 0zm3-2zm44 1zm0-1zm4 2zm9-2zm2 2zm8 0zm1 0zm3 1zm-7 2zm-20 0zm-33-2zm-11 1zm-13-1zm-11 2zm-6-1zm-11 1zm-37-1zm-15 0zm-7 1zm-13-1zm12 4zm71-1zm44-1zm12 0zm6 1zm0 0zm7 1zm2-2zm9 2zm5-1zm6 0zm5 4zm-16-1zm-17 0zm-1 0zm-21 1zm-20-1zm-24 0zm-29-1zm-39 0zm-4 3zm3 1zm49-1zm33 0zm4 1zm1 1zm8-2zm26 1zm16-1zm9 0zm3 3zm-2 1zm-2-1zm-62 1zm-2-1zm-2 2zm-13-1zm-17 1zm-54-1zm14 4zm10 0zm28-1zm66 0zm3-1zm12 1zm4 1zm10 0zm8-2zm1 2zm9 0zm4 2zm-2-1zm-9 1zm-13 1zm-3-1zm-82 0zm-7-1zm-8 0zm-7 1zm-2 0zm-5-1zm-7 0zm-13 1zm8 2zm13 2zm10 0zm1-1zm6 1zm34 0zm15-1zm15 1zm11-1zm2 1zm16-1zm1-1zm0 0zm6 1zm4 1zm4-2zm1 1zm5-1zm-2 5zm-3-1zm-17 1zm0 0zm-8-2zm-7 2zm-7-2zm-5 0zm-18 0zm-7 0zm-9 2zm-10 0zm-14 0zm-45-2zm9 4zm1 0zm28 0zm19-1zm3 1zm3-1zm5 0zm4 1zm0 0zm30 1zm2-2zm40 0zm4 0zm-3 5zm-1 0zm-11-1zm-16-1zm-9 1zm-22 1zm-16-2zm-4 0zm-2 1zm-8-1zm-8 1zm-25 1zm-15 3zm19 0zm25-1zm16-1zm0 2zm1-1zm1 1zm14 0zm9 0zm9-2zm6 2zm13-1zm22 2zm-5 0zm-16 2zm-7-1zm0 0zm-28 1zm-11 0zm-32-2zm-22 1zm-5 0zm1 3zm9 1zm48-1zm3 1zm7 0zm32 0zm5-1zm-14 3zm-2 0zm-16 1zm-51 0zm-12-1zm-7-1zm16 3zm15 1zm5 0zm8-1zm2 0zm19 1zm28 0zm1 1zm2-2zm3 0zm9 2zm-8 2zm-23 0zm-1-1zm-20 2zm-13-2zm-16 0zm-8 2zm-9-1zm3 3zm4 0zm11 1zm8-2zm34 0zm20 0zm-70 6zm2 0zm16 0zm41 2zm-10 1zm-1 1zm-16 0zm-1 3z" stroke="#c8162e" stroke-width="2.4" stroke-linecap="round"/><path transform="scale(0.5)" d="M749 441zm-15 3zm7 4zm-1 0zm-10 1zm-12-2zm18 3zm12 2zm11 2zm-8 0zm-2 1zm-7 0zm-3-1zm0-1zm-1 1zm-9-1zm-9 2zm-11 0zm-143-1zm-6 0zm-4 4zm140-2zm7 0zm31 1zm2-1zm2 4zm-8-1zm-12 2zm-166 2zm10 1zm7-2zm133 0zm24 1zm3 0zm6 0zm32-1zm-1 3zm-36 2zm-10 0zm-19 0zm-9-1zm-1 0zm-124 1zm-15 0zm-1 2zm18 0zm130 0zm4 0zm16 0zm12 0zm3 1zm42 1zm-5 1zm-23 0zm-15 1zm-2-1zm-176 4zm13 0zm126-1zm7-1zm2 1zm11 1zm43 0zm16-1zm-44 2zm-9 2zm-4 0zm-149 0zm-3-2zm-13 2zm-2-1zm2 3zm6 0zm11 1zm156 0zm5-1zm38 2zm-10 1zm-9-1zm-3 1zm-16 1zm-8-1zm-12-1zm-12 1zm-148 1zm180 3zm1-1zm20 0zm2-1zm4 4zm-19-1zm-4 2zm-5 0zm-22 0zm0-1zm0 0zm-1 1zm-26-1zm-113 0zm-10 3zm4-1zm99 2zm46-1zm15 1zm26-2zm23 0zm-37 5zm-24 0zm-133-1zm-14-1zm-13 3zm7 2zm2-2zm6 2zm1 0zm9-1zm4-1zm78 0zm32 2zm11-1zm16-1zm4 4zm-4-1zm-151 0zm-2 0zm-1 1zm-1 1zm-3-2zm-3 1zm-5 0zm3 3zm25 1zm9 0zm160-1zm8 0zm15 1zm-22 2zm-2 1zm-11-2zm-27 2zm-4 0zm-17 0zm-71 0zm-25 0zm-40-1zm18 3zm9 1zm15 0zm21-2zm74 1zm36 0zm22 0zm29 0zm-14 4zm-4-2zm-13 2zm-27-2zm-5 1zm-6 0zm-74 1zm-50 0zm-2 0zm-2 0zm-12-2zm0 1zm-14-1zm-1 3zm4 0zm21 2zm11-2zm3 0zm5 0zm110 1zm8-1zm61 0zm9 3zm-10 2zm-7-1zm-1 0zm-6 0zm-1 1zm-8 0zm-3 0zm-2 0zm-6-2zm-140 0zm-10 0zm-10 2zm-13 0zm-6 0zm0-1zm1 3zm0 0zm4 0zm15-1zm2 0zm13 0zm7 1zm112 1zm3-1zm12 0zm4 1zm4 0zm13-2zm6 2zm7 0zm11-2zm-17 4zm-20 1zm-8 0zm-3 0zm-21-1zm-11 0zm-4 1zm-73-1zm-13-1zm-9 1zm-9-1zm-7 2zm-1-2zm-2 1zm-7 1zm0 0zm0-1zm-12 1zm-2-2zm-1 1zm14 4zm16-2zm22 2zm86 0zm14-1zm19-1zm16 0zm3 2zm19 0zm15 2zm-46 1zm-12 0zm-3-1zm-2 0zm-11 0zm-3 0zm-73 1zm-29-2zm-16 0zm-14 1zm-4-1zm-8 5zm8-1zm6 1zm9-2zm1 1zm12-1zm4 2zm140 0zm6 1zm-1 2zm-2-1zm-6 1zm-12-2zm-111 1zm-54 2zm3 2zm22-2zm7 2zm42-1zm12 0zm65 1zm12-2zm13 1zm1 0zm9 2zm-24 0zm-16 0zm-21 0zm-5 1zm-10-1zm-14 2zm-4 0zm-10-2zm-54 1zm-10 3zm3 0zm42 0zm37 1zm8 0zm2-1zm3-1zm12 2zm12-2zm3 0zm26 1zm20 1zm8-1zm7 0zm-2 2zm-10 1zm-12 1zm-6 0zm-4 0zm-7 0zm-18-2zm-32 1zm0 0zm-41-1zm-3 1zm-20-1zm-7 0zm18 3zm1 2zm7-2zm7 0zm26 2zm2-2zm15 2zm12 0zm7-1zm13 1zm35-1zm4 0zm26 1zm-13 1zm-24 2zm-7-2zm-1 1zm-7 1zm-26 0zm-55 0zm-32-2zm-2 2zm-9-1zm-3 1zm-11 0zm-10-2zm-2 0zm3 4zm15 1zm9 0zm3-1zm6-1zm47 1zm36 1zm26 0zm2-1zm2-1zm2 1zm45 0zm11 3zm-17 1zm-4 0zm-6 0zm-3-1zm-24 0zm-10-1zm0 1zm-10-1zm-4 2zm-8-2zm-18 0zm-28 1zm-14-1zm-32 0zm-3 2zm-5-1zm-9 1zm-10 3zm32-1zm6 0zm16 1zm5-2zm25 2zm15-2zm2 0zm18 1zm5-1zm46 0zm4 0zm17 2zm-2 3zm-3 0zm-40 0zm-4 0zm-7 0zm-27-1zm-20 0zm-4 1zm-1 0zm-2 0zm-9-1zm-47 1zm-1-1zm-9 1zm-10 2zm33 0zm6-1zm5 1zm7 1zm17-2zm79 0zm15 2zm30-2zm-4 4zm-11-1zm-30 0zm-71 2zm-58-2zm-21 1zm11 3zm3-1zm3 1zm44 0zm10-1zm8 0zm13 0zm10 2zm16-2zm4 0zm10 1zm8 1zm7-1zm17 0zm5 3zm-5-1zm-30 1zm-4 1zm-28 0zm-1 0zm-38-1zm-23-1zm-2 1zm-5 0zm-2-1zm-7 5zm1 0zm9-2zm1 2zm5-2zm8 1zm23 0zm30 0zm1-1zm1 0zm6 0zm6 1zm68 0zm-110 2zm-28 0zm-24 4zm13 0zm1-1zm31 0zm11 0zm1 1zm3-1zm20 2zm29-1zm40 0zm7 1zm5-2zm-26 5zm-5 0zm-16-1zm-12 1zm-3-1zm-5-1zm-4 1zm-14-1zm-21 2zm-60 0zm-4-2zm65 4zm8 1zm9 0zm26-1zm4-1zm35 0zm-5 4zm-21 0zm-22-1zm-10 2zm-12-1zm-7 0zm-11 1zm-19-1zm-3 0zm-33 1zm-1-1zm14 4zm33 0zm58-1zm7-1zm1 2zm17-2zm10 2zm18 3zm-125-1zm20 2zm13 0zm57 0zm4 0zm4 0zm26 2zm-37 3zm-21 0zm-4-1zm-11 0zm-3 1zm-3 0zm-18-1zm-27 0zm0-1zm-11 1zm49 4zm30-1zm1-1zm18 0zm22 3zm-31 0zm-22 0zm-25 1zm-24 0zm-5 0zm-14 0zm0 0zm-2 0zm21 3zm13-1zm10 2zm37-2zm36 0zm10 1zm-21 2zm-14 2zm-4-2zm-4 0zm-12 2zm-16-1zm-42 1zm-6 0zm59 1zm16 1zm20 1zm12-1zm-2 4zm-20-1zm-5 1zm-28-1zm-8 0zm-12-1zm-5 1zm-17 0zm2 2zm35 1zm39 0zm0 1zm15 0zm-24 1zm-27 1zm6 3zm11-1zm-15 5zm-17 0zm-6-2zm-5 1zm1 3zm43 2z" stroke="#c8c8c8" stroke-width="2.4" stroke-linecap="round"/><path transform="scale(0.5)" d="M733 441zm-15 5zm14 0zm23 0zm-34 3zm-164 3zm166 1zm-11 2zm-149-2zm146 5zm3-2zm26 1zm33 3zm-32 1zm-22-1zm-25 0zm-135 3zm2 0zm5 1zm0 0zm162-1zm1 0zm4-1zm12 0zm2 2zm-17 3zm-16 0zm-4 0zm-7-2zm0 0zm-4 0zm-2 1zm-142 0zm-3 4zm1-2zm148 2zm12 0zm8-2zm24 4zm-3 0zm-24-1zm-3 1zm-160 1zm-4 2zm18-1zm134 1zm37-1zm28 3zm-20 0zm-26 1zm-24-1zm-142 0zm-7 4zm6 1zm2-1zm10-1zm5 2zm124-2zm1 1zm17 0zm24-1zm4 1zm-10 2zm-168 0zm-12 2zm10 1zm14 0zm126 2zm26-1zm42 0zm3 2zm-31 1zm-6-1zm-11 1zm-13 0zm-4 1zm-6 0zm-2-2zm-19 2zm-128-1zm9 4zm11-2zm101 0zm4 2zm43 0zm52-2zm-3 5zm-1-1zm-41-1zm-21 1zm-53 0zm-81 1zm-1 0zm-5-1zm15 2zm37 2zm37-1zm45-1zm10 2zm10 0zm44-1zm7 1zm-41 1zm-75 1zm-17-1zm-7 0zm-47 1zm-19-1zm-11 2zm14 3zm3-2zm47 2zm80-2zm34 0zm0 1zm26 4zm-25-1zm-22 1zm-5 0zm-73 0zm-22-2zm-28 2zm-11-1zm-15 1zm-2 0zm-2 1zm3 1zm7 1zm16 0zm129-1zm11-1zm20 2zm1-2zm1 0zm4 0zm-26 3zm-84 1zm-42-1zm-26 2zm-2-1zm-7-1zm3 4zm12-1zm15 1zm43 0zm55 0zm21 0zm46 2zm-39 2zm-4 0zm-8-2zm-14 1zm-2 1zm-101 0zm-9-1zm-4 1zm-4-2zm-9 1zm-2 0zm33 4zm4-1zm7-1zm88 0zm13 1zm3-1zm11 1zm16-1zm7 0zm14 1zm-11 4zm-14-2zm-11 0zm-5 0zm0 0zm-3 0zm-112 1zm-23 1zm-7 0zm-7-2zm-6 2zm-1 1zm16 1zm21 0zm94 1zm15-1zm1 0zm17-1zm44 1zm-23 3zm-9 1zm-6-1zm-23 0zm-14-1zm-1 0zm-67 2zm-11-2zm-15 2zm-4 0zm-1 0zm-1-1zm-1 0zm-10-1zm-6 1zm-11 1zm2 3zm11 0zm8-2zm8 0zm38 1zm64 1zm35 0zm2-1zm8-1zm0 2zm21 0zm-13 3zm-25-2zm-9 1zm-2 1zm-94-1zm-19-1zm-11 2zm-1 0zm-6-2zm-13 0zm41 4zm3 0zm4 0zm1 1zm3-2zm1 0zm6 2zm71 0zm4 0zm9 0zm6 0zm1-1zm14 0zm34 1zm4-2zm-36 3zm-19 1zm0 0zm-12-1zm-10 1zm-55-1zm-13 2zm-57-2zm0 3zm10 2zm45 0zm38-2zm43 2zm24-2zm1 2zm34-1zm-11 2zm-30 0zm-14 0zm-5 0zm-10 2zm-18-2zm-6 1zm-2 1zm-1 0zm-14-2zm-37 1zm-24 1zm-10-1zm-1 0zm-2 0zm0-1zm-10 0zm7 5zm11 0zm9-2zm1 2zm4-1zm8 0zm23-1zm2 1zm19 0zm10 1zm6 0zm13 0zm36 0zm17-2zm30 5zm-50-2zm-25 1zm-5 1zm-17-1zm-8 0zm-8 1zm-14 0zm-42 0zm-5-2zm0 0zm-17 0zm10 5zm3 0zm15-1zm27 1zm1-1zm10 0zm14 0zm38 0zm14-1zm6 2zm8-1zm14 1zm3-2zm22 0zm17 5zm-36-2zm-5 1zm-48 0zm-1 0zm-8-1zm-1 0zm-22 0zm-9 2zm0-2zm-20 1zm-6 1zm-1-2zm-8 2zm-5-2zm-6 2zm-20-1zm-2 0zm0-1zm32 5zm17-2zm14 0zm17 1zm13 0zm88-1zm-2 4zm-47-1zm-21 1zm-10 0zm-3 0zm-26-1zm-8 2zm-48-2zm-2 0zm-2 2zm0-2zm-5 2zm-5-1zm-5 0zm19 2zm16 0zm13 0zm6 1zm9-1zm12 2zm13-1zm10 1zm9-1zm25 0zm21 1zm17-2zm-28 5zm-19-2zm-15 0zm-20 1zm-11 1zm-14-2zm-2 2zm-17-1zm-3 1zm-2-2zm-27 0zm-1 5zm11-1zm1-1zm30 2zm32-1zm9 0zm17-1zm10 2zm12 0zm2 0zm1-1zm21 1zm27-2zm13 2zm-30 2zm-6-1zm-17 1zm-16-1zm-26 1zm-5-1zm0 2zm-1-1zm-5-1zm-1 2zm-34 0zm0 0zm-3-1zm-7-1zm-7 1zm-8 1zm16 1zm11 0zm11 2zm9-2zm2 2zm2-2zm18 0zm23 0zm1 0zm2 1zm17-1zm29 2zm-12 2zm-18 1zm-21-1zm-6 0zm0 1zm0 0zm-1-2zm-3 1zm-30 1zm-41-1zm-2 0zm-9-1zm0 0zm-19 2zm-3-2zm15 4zm9 0zm4 1zm2-1zm15 1zm8 0zm0-2zm35 1zm6-1zm26 2zm1-2zm1 0zm19 0zm7 0zm4 0zm9 4zm-13-1zm-8 1zm-4-1zm-16 2zm-14-1zm-1 1zm-22 0zm-2-1zm-2 0zm-9 0zm-26 0zm-5 0zm-5 1zm-2 0zm-7 0zm-10-1zm-5-1zm-6 1zm4 4zm1-1zm14-1zm4 0zm4 1zm1 1zm7-1zm5 1zm19-2zm12 0zm4 1zm11 1zm19-2zm8 1zm4 0zm1 0zm11 1zm6-1zm4 0zm5 1zm7 3zm-11-2zm-25 2zm-1-1zm-11 1zm-12-2zm-7 2zm-25-1zm-5 1zm-19-2zm-4 1zm-4 0zm-3 1zm-2-1zm-6 0zm-3 1zm1 3zm7 0zm13 0zm1-2zm1 2zm0-2zm19 0zm4 0zm9 1zm7 1zm19-2zm1 2zm13 0zm17-1zm11 2zm-10 2zm-3-2zm-11 2zm-27-2zm-1 0zm-1 2zm-11-1zm-3-1zm-4 1zm-10-1zm-5 1zm-12 0zm-4-1zm-2 1zm-21 1zm-3-1zm28 3zm20 0zm4 0zm9-1zm14 2zm7-2zm20 1zm4-1zm2 1zm0 0zm0-1zm3 2zm5-2zm1 0zm-23 5zm-3-1zm-1-1zm-19 0zm-1 0zm-11 0zm-4 0zm-16 1zm-12 1zm-20-2zm12 5zm37 0zm6 0zm2-2zm6 2zm14-2zm5 0zm2 2zm6-1zm6 1zm2-1zm32 4zm-7-1zm-26 1zm-1 0zm-12-1zm-20-1zm-1 0zm-10 2zm-2-2zm-10 1zm-12 0zm-5-1zm0 1zm-9 1zm-6-1zm18 4zm12-2zm10 0zm13 1zm11-1zm9 1zm8 1zm20 0zm1-1zm18 3zm-16 0zm-23-1zm-8 2zm-12 0zm-5 0zm-4 0zm-16-1zm-14 0zm-1 0zm-8 0zm5 4zm12-2zm7 0zm5 2zm4-1zm3 1zm14 0zm7-1zm2 0zm29 0zm7 1zm1 2zm-58 0zm-18-1zm-3 2zm-13-1zm-7 0zm20 2zm3 1zm4 0zm28 1zm26-1zm10 1zm8 3zm-10-2zm-7 1zm-27 1zm-1-1zm-4-1zm-1 2zm0 0zm-21 0zm-11 0zm-10-1zm32 2zm1 1zm20 0zm10-1zm5 2zm2 0zm8 0zm-28 2zm-6-1zm-1 0zm-22 0zm4 4zm2 1zm17-2zm5 1zm19 0zm-3 3zm-7-1zm-6 1zm-10 1zm-7-2zm9 4z" stroke="#2f9a8b" stroke-width="2.4" stroke-linecap="round"/><path transform="scale(0.5)" d="M736 441zm-10 0zm-4 2zm-4 3zm5-2zm4 0zm13 1zm4 1zm2-1zm-2 3zm-10 0zm-14-1zm-2 1zm-155-1zm150 4zm30 3zm-8 0zm-8 0zm-18 0zm-143-1zm-1 0zm-1 2zm-8-2zm11 4zm142 0zm1 0zm12 0zm25 3zm-1 0zm-14-1zm-11 2zm-156 2zm148-1zm59 3zm-12 2zm-18-2zm-2 1zm-190 2zm6 0zm5 2zm9-2zm139 2zm12-1zm7 1zm0-1zm9 1zm22-1zm13 2zm-215 1zm-8 0zm0 2zm18 0zm136 1zm15 0zm18 0zm16-1zm0 2zm-12 3zm-8-1zm-1 1zm-5-2zm-3 0zm-21 1zm-3 0zm-137 0zm-8 1zm-5 1zm8 0zm147 0zm7 2zm1-2zm18 2zm20-1zm-13 2zm-4 0zm-6 2zm-22 0zm-139 0zm-4-2zm-13 5zm0-1zm6 0zm4 1zm2-1zm5 0zm0 1zm133 0zm11 0zm31-1zm21-1zm10 1zm-43 3zm-32 0zm-4-1zm-32 0zm-108 2zm0 3zm2 0zm17-2zm2 2zm119-2zm15 1zm17 0zm6-1zm6 1zm20 0zm1 1zm4-1zm5-1zm-3 4zm-36 1zm-13 0zm-41 0zm-18 0zm-8 0zm-74 0zm-7 0zm-5-2zm-12 1zm1 2zm1 1zm8 1zm3-2zm5 0zm61 2zm23-1zm58 1zm19-2zm1 1zm26 0zm18-1zm-10 4zm-9 0zm-48-1zm-80 2zm-64-2zm-7 2zm-9 0zm7 2zm23 0zm2 1zm4-2zm2 1zm26 1zm4-1zm7 0zm2 1zm100 0zm7 0zm38 2zm-50 0zm-2-1zm-13 0zm-55 0zm-25 1zm-11-1zm0 2zm-30-1zm-20 1zm-5-1zm-4 3zm5 1zm12-2zm41 2zm27-2zm50 2zm8-1zm6 0zm2 1zm22-2zm52 1zm-24 4zm-12-2zm-32 1zm-39-1zm-2 1zm-86 0zm-17 1zm-13 0zm-2 1zm150 0zm15 2zm1-2zm39 1zm10 1zm6 0zm5-2zm-1 3zm-1 1zm-27-1zm-15 1zm-22-1zm-13 0zm-100 1zm-19 0zm-12 0zm-5-1zm-5 2zm19 2zm3 1zm140-1zm38-1zm4 1zm9 2zm-8 1zm-16 1zm-19-1zm-10-1zm-7 1zm-23-1zm-1 1zm-110 1zm-1-2zm-1 0zm-9 1zm-11 2zm14 1zm11 1zm7-1zm0-1zm6 0zm104 2zm4-2zm44 1zm13 1zm20 1zm-25 2zm-31 0zm-39-2zm-91 1zm-6 0zm-21-1zm-7 0zm28 5zm45 0zm3-1zm50 1zm6 0zm6 0zm17-1zm7 1zm8-2zm21 2zm18-2zm3 2zm-48 1zm-8 1zm-9 0zm-5 1zm0-2zm-130 2zm0-2zm-9 0zm-2 4zm4-1zm5 1zm2 0zm29-1zm3 0zm11 0zm2 1zm7 1zm4 0zm52-1zm30-1zm8 2zm14 0zm30-1zm0 3zm-2-1zm-9 1zm-20 0zm-1 0zm-21-1zm-26 0zm-11 2zm-11 0zm-65-1zm-18 1zm12 3zm5-2zm2 2zm9 0zm45-1zm5 1zm68-1zm1 0zm21 0zm32 0zm-17 2zm-11 2zm-12-2zm-5 0zm-37 0zm-6 0zm-29 0zm-7 1zm-19-1zm0 2zm-23-2zm-7 0zm-20 2zm-3 0zm-14-2zm-5 0zm2 4zm18-1zm1 0zm1 0zm4 2zm38-1zm2 1zm27 0zm46-2zm8 0zm10 0zm12 0zm37 3zm-16 2zm-15-2zm-20 0zm-7 0zm-29 1zm-70 1zm-1-1zm-43 4zm15 0zm24-2zm46 0zm2 2zm17-2zm4 0zm4 2zm6-1zm8 1zm20 0zm2-2zm3 0zm3 1zm42-1zm2 4zm-37 1zm-6-2zm-2 0zm-7 2zm-15-2zm-3 1zm-32 1zm-56-2zm-10 2zm-7-2zm-10 4zm8 0zm34 1zm18-1zm2 0zm17 0zm37 1zm10-2zm19 2zm10 0zm21 0zm-4 3zm-8 0zm-13-1zm-11 0zm-42-1zm-14 0zm-3 0zm-8 2zm-4 0zm-8 0zm-8 0zm-7-2zm-29 1zm-13-1zm-2 1zm4 4zm4-2zm5 1zm7 1zm19 0zm1 0zm0-1zm54 0zm2 1zm23 0zm39-2zm11 2zm16 2zm-35 0zm-10-1zm-7 1zm-3 0zm-19 1zm-24-2zm-5 0zm-70 2zm-10-2zm-6 0zm4 4zm14-1zm4 1zm5-1zm2 0zm45 1zm6 0zm70-1zm4 0zm35 3zm-6 2zm-3 0zm-3-2zm-8 2zm-9-1zm-30 0zm-52 1zm-7-1zm-2 0zm-18 1zm-10-2zm-2 1zm-29-1zm-16 3zm67 0zm0 1zm12 1zm65 0zm20-1zm2 0zm7-1zm2 0zm0 1zm9 4zm-26-1zm-11 0zm-2-1zm-16 0zm-17 2zm-7-1zm-15-1zm-26 2zm-4-1zm-45 1zm-11-1zm10 3zm0 1zm12 0zm47 0zm12-2zm3 1zm19-1zm20 0zm15 0zm15 1zm13-1zm18 3zm-21 1zm-15 1zm-29-1zm-19-1zm-9 2zm-17-2zm-19 0zm-10 1zm-8-1zm-16 0zm-2 5zm8-2zm3 2zm8-2zm28 1zm11-1zm9 0zm7 0zm25 0zm52 2zm-20 3zm-3-1zm-51 0zm-31 0zm-24 1zm11 1zm4 1zm6 0zm10-1zm5 1zm4-1zm21 1zm3 1zm6-2zm7 0zm3 0zm19 2zm7-1zm9 0zm20 2zm-32 0zm-23 1zm-7 0zm-46 0zm-19 0zm-13-1zm11 5zm52-2zm12 0zm2 1zm16 1zm32 2zm-14 1zm-3-2zm-37 0zm-7 1zm-49 0zm-9 0zm-8 0zm24 2zm2 1zm4 0zm12 1zm13-2zm4 1zm4 1zm25-1zm16-1zm14 1zm-18 3zm-25-1zm-42 1zm24 3zm24-1zm2 0zm12 1zm21 0zm-21 3zm-30-1zm-39 2zm-10-2zm-16 4zm47 0zm0-1zm4 0zm12 1zm36 1zm3-1zm14 0zm2 1zm-17 2zm-1 1zm-89 1zm17 0zm39 2zm10-2zm18 1zm5 0zm7 1zm-64 3zm-17 0zm18 2zm27-1zm27 1zm-65 3zm7 4zm27-1zm-18 2zm-7 1z" stroke="#c8c8c8" stroke-width="2.4" stroke-linecap="round"/><path transform="scale(0.5)" d="M730 440zm8 3zm-5-1zm-6 2zm10 0zm-17 8zm15-2zm18 3zm-27 0zm-3 2zm-6-2zm-159 5zm2 0zm0 0zm134 0zm9-1zm0-1zm8 0zm11 1zm3 0zm3-1zm5 1zm6 0zm5 0zm3 1zm16-2zm-19 4zm-4 0zm-15 0zm-165 0zm2 2zm6 0zm143 0zm60 1zm-44 2zm-22 1zm0 1zm-6 0zm-150 1zm198 2zm1-2zm16 4zm-20 1zm-24-1zm-160 1zm-1-1zm10 4zm3 0zm0-1zm126 0zm10-1zm21 0zm2 0zm11 4zm-19-1zm-163 2zm-11-1zm8 4zm135 0zm5-2zm12 0zm6 2zm30-1zm32 2zm-11 0zm-12 0zm-57 1zm-2-1zm-124 3zm3 1zm123 1zm10-1zm2-1zm10 2zm34-1zm-7 4zm-8-2zm-168 0zm-2 2zm-11 3zm15-2zm2 0zm150 2zm1 1zm-14 2zm-3-2zm-40 0zm-92 0zm-14 1zm-3-1zm-4 0zm1 5zm4-2zm15 1zm66 0zm1 1zm61-1zm2 0zm2-1zm5 2zm38-1zm5-1zm-46 3zm-67 0zm-17 2zm-55-2zm-3 0zm-15 0zm1 3zm2 0zm15 1zm4 1zm43-1zm4-1zm5 1zm63 0zm9-1zm31 2zm16-1zm30 1zm-42 1zm-20 1zm-14 1zm-82-1zm-8 0zm-31 0zm-3-1zm-12 1zm-1 1zm-3-1zm6 3zm7 1zm40-1zm11-1zm109 0zm10 1zm29 0zm-14 3zm-14 0zm-33-1zm-52 0zm-85 0zm-19 3zm14 1zm12-1zm2 2zm36-2zm75 0zm4 0zm1 1zm3-1zm9 0zm52 5zm-3-1zm-53 0zm-14 0zm-141-1zm25 5zm55 0zm60 0zm7-2zm2 2zm5-2zm25 1zm17 3zm-2-1zm-15 2zm-22-2zm-7 2zm-101-1zm-24 0zm-8 4zm8-2zm0 0zm25 2zm85-2zm40 1zm0-1zm12 2zm28 0zm12 0zm-53 2zm-16 0zm-8 1zm-10 0zm-1-1zm-1 1zm-96-2zm-2 0zm-6 2zm-5-1zm-18-1zm6 4zm1-1zm12 1zm5 1zm7 0zm92 0zm4-2zm7 0zm13 2zm6-2zm20 2zm20-2zm-71 4zm-74 0zm-5 1zm-10-1zm-7 0zm-31 1zm6 1zm24 0zm21 2zm97-1zm8 0zm6 1zm5-1zm8-1zm5 0zm3 3zm-4 1zm-31 0zm-22 1zm-34 0zm-30 0zm-10-1zm-15-1zm-26 0zm-1 2zm3 3zm6-1zm65-1zm24 0zm2 1zm43 0zm16-1zm5 1zm2 2zm-28 0zm-16 0zm0 2zm-2-1zm-2-1zm-5 1zm-11 1zm-34-1zm-15-1zm-17 2zm-5 0zm-18 0zm-9-1zm-1 3zm4-1zm9 1zm1-1zm13 0zm11 1zm16 0zm34 0zm4 0zm25-1zm5 2zm11 0zm3-2zm1 0zm2 0zm2 2zm43-1zm-22 3zm-22-1zm-9 2zm-48-2zm-19 2zm-1-2zm-1 1zm-1 1zm-6-2zm-2 1zm-44-1zm-4 0zm-2 0zm34 3zm27 0zm26 0zm9 1zm25-1zm14 0zm1 2zm10 0zm13 0zm6-2zm6 0zm-14 4zm-30-1zm-39 0zm-73 2zm-1 0zm-7-2zm-6 5zm12 0zm2-1zm20 0zm10-1zm3 0zm1 0zm10 1zm40 1zm3-2zm6 1zm0 1zm2-2zm1 0zm26 2zm0-1zm3 1zm0 0zm1 0zm17-1zm39 3zm-26 0zm-38-1zm-34 1zm-5 1zm-5-1zm-6 1zm-2 0zm-8-1zm-40 1zm-11 0zm0-2zm-18 0zm-10 3zm9 1zm18 0zm21 1zm50-1zm19-1zm18 2zm11-2zm3 2zm7-1zm32 0zm-21 4zm-1-2zm-1 0zm-9 0zm-19 1zm-2 0zm-7-1zm-5 0zm-3 2zm-45-1zm0-1zm-1 1zm-1 0zm-14 0zm-1-1zm-3 0zm-9 1zm-5 0zm-9 0zm-4-1zm-17 0zm-1 0zm-1 0zm-7 0zm23 5zm5-2zm3 2zm6 0zm25-2zm11 1zm5 1zm1-2zm10 0zm32 2zm14 0zm5-2zm29 1zm-6 4zm-4 0zm-6 0zm-2-1zm-40 0zm-7 0zm-15-1zm-18 0zm-6 0zm-3 0zm-5 2zm-26-2zm-10 0zm-2 0zm-8 2zm-2 3zm6 0zm16-1zm4 0zm2-1zm20 0zm6 2zm14-2zm4 0zm4 1zm4 1zm3-2zm51 2zm15-2zm-1 4zm-16-1zm-3 2zm-8-1zm-11 1zm-13 0zm-2-1zm-9 1zm0-2zm-19 1zm-5-1zm-17 0zm-4 2zm-3 0zm0-1zm0 1zm-9-1zm-5-1zm-23 5zm7-2zm30 0zm4 1zm5-1zm6 0zm6 2zm1-2zm9 1zm8 1zm2-1zm0 1zm9-2zm2 2zm0-1zm2-1zm1 0zm6 1zm17-1zm8 0zm1 1zm6 1zm3-1zm16 0zm23 1zm-28 2zm-38-1zm-3 1zm-15 1zm-1 0zm-10-2zm-7 2zm-5 0zm-13 0zm-37-2zm-13 1zm-4 0zm2 3zm25-1zm15 1zm1 1zm8-2zm7 2zm6-1zm21 1zm12 0zm5-1zm6 0zm9 1zm5-1zm7 0zm1 0zm7 0zm2 0zm0 1zm7-1zm8 1zm-12 3zm-3-1zm-14-1zm-3 0zm-32 0zm-6 1zm0-1zm-11 1zm-7 1zm-13-2zm-10 2zm-8-2zm-2 2zm-9-2zm-19 1zm35 4zm9 0zm18-2zm5 0zm16 1zm8 0zm19-1zm5 2zm1 0zm1 0zm4 0zm6-1zm32-1zm4 3zm-35 2zm-10 0zm-9-1zm-7 0zm-2 1zm-12-2zm-1 1zm-10 0zm-14-1zm0 1zm-1 1zm-8 0zm-1 0zm-40 0zm-1 0zm7 2zm18 1zm5-1zm1 1zm10-1zm19 1zm3-2zm1 1zm7 1zm1-1zm5 0zm5 0zm15 1zm47-2zm-13 5zm-30-1zm-13-1zm-7 2zm-8-1zm-14-1zm-19 2zm-5-1zm-11 0zm-5 1zm-5 0zm-4-2zm0 1zm-4-1zm10 3zm7 0zm11 0zm12 2zm1-2zm3 0zm12 2zm2 0zm9-1zm12-1zm3 1zm2 1zm6 0zm45 0zm-30 1zm-22 0zm-2 2zm-18-2zm-4 0zm-3 2zm-2-2zm-18 1zm-1 0zm-8 1zm-27 0zm-2 3zm33-2zm10 0zm12 1zm10 1zm23-1zm5 0zm8 0zm6 1zm18 0zm-30 1zm-6 1zm-19-1zm-4 1zm-11 0zm0-1zm-11 0zm-4 2zm-21-2zm-2 1zm-4 0zm-5 1zm13 3zm5-2zm3 2zm31-2zm2 2zm30-2zm7 2zm10-2zm0 2zm12-1zm-20 3zm-13-1zm0 2zm-8-1zm-19 1zm-29 0zm0 0zm-13-1zm-6 1zm-4-2zm3 3zm38 1zm4-1zm10 0zm32 0zm0 4zm-17 0zm-3-1zm-5 1zm-4 1zm-9-1zm-15 1zm-1-2zm-20 0zm19 5zm17-2zm6 1zm13 1zm16-1zm3 1zm7-1zm5 0zm1 0zm-9 2zm-23 0zm-6 2zm-15-2zm-8 2zm-4 0zm-4 2zm4 1zm29 0zm1 0zm8-2zm-11 4zm-1 0zm-13 0z" stroke="#2f9a8b" stroke-width="2.4" stroke-linecap="round"/><path transform="scale(0.5)" d="M740 440zm3-1zm6 3zm-1-1zm-3 2zm-2-1zm-2 1zm0-2zm-7 0zm-2 1zm-12 2zm6 0zm4 2zm1 0zm15-2zm1 1zm3 1zm1-2zm8 2zm-2 2zm-1 0zm-12-1zm-3 1zm-3-1zm-14 5zm0 0zm1-1zm5 0zm1-1zm9 2zm0-2zm4 0zm1 1zm3 0zm8-1zm0 0zm4 0zm1 1zm4 3zm-2 1zm-9-2zm-6 2zm-5 0zm-2-1zm-5 1zm-4-1zm-5 0zm6 4zm0-1zm8 1zm1-1zm0 0zm5-1zm1 0zm4 1zm2 1zm0-1zm8 0zm2 0zm1-1zm5 3zm-6 0zm-6 0zm-4 1zm-4-1zm-10 0zm-3 0zm-8 2zm-167 0zm156 1zm6 1zm11 0zm6 1zm2-2zm4 0zm4 0zm1 2zm4-1zm8 0zm0 2zm0 0zm-4 0zm-1 2zm-8-1zm0 0zm-1 1zm-1 0zm-1 0zm-14-2zm-25 4zm19-1zm24 1zm5 0zm10 1zm2 2zm-4-1zm-3 0zm-2 0zm-4 2zm-9-2zm-1 1zm0 0zm-4 0zm-2 0zm0 1zm-5 0zm-4 0zm0 0zm-3-1zm-7 1zm-1-1zm-6 0zm-6 0zm-8 3zm10 1zm8 0zm14 0zm8 0zm2-2zm24 5zm-3-2zm-6 1zm-2 1zm-2 0zm-3 0zm-1-1zm-13 1zm0-2zm-5 0zm-1 0zm-5 2zm-3-2zm-5 2zm-8-2zm-141 1zm148 2zm15 1zm1-1zm4 0zm5 1zm1 0zm2-1zm5 2zm3-2zm-1 5zm-5-2zm-5 0zm-4 1zm-5 0zm-19-1zm-9 0zm-5 4zm22 1zm5-1zm17 1zm10-2zm2 1zm3 1zm8 0zm3-1zm11 1zm0 1zm-1 1zm-7-1zm-2 1zm-3-1zm-6 1zm-6 1zm-2 0zm-7-1zm-5 0zm-7-1zm-1 2zm-3 0zm-2-1zm-11 1zm-7-1zm-139 0zm147 3zm0 1zm36-1zm8 0zm1 1zm1 0zm0 0zm1 0zm8 3zm-3-1zm-1-1zm-10 2zm-1-2zm-1 0zm-10 1zm-1 1zm0-2zm-11 0zm-15 1zm-10-1zm-3 2zm-16-2zm-130 1zm-3 3zm170 0zm5 1zm17-2zm0 0zm6 1zm5 0zm1-1zm3 2zm0-1zm7 1zm8 0zm-2 3zm-1 0zm-6-1zm-1-1zm-3 1zm-4-1zm-1 2zm-1-2zm-27 1zm-13 1zm-20-1zm-123 2zm1 2zm49-1zm74 1zm3-1zm23 0zm19 1zm3-1zm2 1zm3-2zm6 1zm2 1zm2-1zm8-1zm4 0zm2 0zm-1 4zm-5 0zm-4 0zm-1 1zm-2-2zm-1 1zm-5-1zm-6 1zm-1 0zm-5 1zm-4-1zm-2 0zm-9 0zm-4 1zm-4-2zm-6 0zm-151 1zm11 4zm32-1zm9-1zm89 1zm4-1zm6 1zm12 1zm10 0zm8-2zm0 2zm4 0zm3-1zm5 1zm2 0zm17 2zm-2 0zm-3 0zm-5 0zm-1 0zm-5 0zm-5 1zm-2-2zm-20 1zm-9-1zm-14 2zm-4 0zm-148 3zm24-2zm117 2zm10-1zm18 1zm3-1zm22 0zm3 0zm0 1zm2-1zm2-1zm5 2zm11 3zm-3-2zm-9 2zm-16-1zm-3 0zm-6 0zm-1-1zm-1 0zm-13 2zm-3 0zm-4 0zm-11-2zm-8 2zm-3-1zm-128 4zm123 0zm9-2zm7 2zm5 0zm7-1zm12 0zm14-1zm7 0zm1 1zm12-1zm4 0zm1 0zm2 4zm-3 0zm-2-1zm-3 0zm-3 2zm-3-2zm-5 1zm-12-1zm-4 0zm-3 2zm-6 0zm-4-1zm-5 1zm-1-1zm-7-1zm-139 0zm146 4zm1 0zm14-1zm0 2zm1 0zm6-1zm1-1zm9 2zm6-2zm6 1zm3 0zm5-1zm6 4zm-1 1zm-3-2zm-1 2zm-10-1zm-2-1zm-12 0zm-2 0zm-4 1zm-3 0zm-4 1zm-19-1zm-6 1zm-12-2zm-65 0zm-39 0zm-40 4zm3 0zm5-1zm130 0zm31 2zm20 0zm0 0zm1-2zm3 0zm21 0zm9 0zm-15 4zm-19 0zm-3-1zm-7 2zm-3-1zm-5 0zm-4-1zm-16 0zm-148 0zm23 4zm36-1zm58 0zm38 2zm13-1zm7 0zm12-1zm4 0zm5 1zm11 1zm2-1zm10 0zm0 4zm-27 0zm0 0zm-12-1zm-4 1zm-2 0zm-2-1zm-68 1zm-87-2zm-8 5zm72 0zm6-1zm65-1zm5 0zm1 2zm13 0zm3-1zm7 1zm0-2zm8 1zm2-1zm2 0zm4 0zm6 0zm1 2zm3-1zm6 2zm-7 0zm-4 0zm-7 0zm-15 2zm-25-1zm-11 0zm-1 1zm-5 0zm-59-1zm-58 4zm7-2zm10 0zm1 1zm39 0zm34 1zm29-1zm17 0zm7 0zm15 0zm2-1zm25 0zm6 1zm2 1zm0 0zm-4 1zm-3 0zm0 1zm-9 0zm-6-1zm-9 2zm-3 0zm-25 0zm-7 0zm-3 0zm-6 0zm-19-2zm-41 1zm-34 0zm13 4zm45-1zm21 1zm6-1zm18 0zm3 0zm8-1zm1 2zm3 0zm7 0zm3-2zm2 1zm7 0zm7-1zm6 0zm6 1zm3-1zm7 2zm3-1zm0 1zm-4 2zm-8-1zm-4 0zm-6 2zm-6-1zm-1 0zm-20-1zm-3 1zm-4 1zm-86 0zm-22-1zm-35 0zm-1 1zm17 3zm19-2zm23 1zm18 1zm2-2zm21 0zm43 0zm7 0zm11 2zm2 0zm5-1zm7 1zm2-2zm8 2zm2 3zm-3 0zm-4 0zm-1 0zm-3 0zm-28 0zm-5 0zm-63 0zm-28-1zm-4-1zm-23 1zm-27 3zm23 0zm21 0zm28 0zm12 0zm66 0zm5-1zm3 2zm4 0zm1-2zm2 0zm2 2zm0-1zm2 0zm4-1zm11 0zm3 2zm11-1zm-3 4zm-6-1zm-9-1zm-2 0zm-1 0zm-1 1zm-26-1zm-29 1zm-20-1zm-37 0zm-8 1zm-5 0zm-16 0zm-5-1zm-4 0zm-11 0zm-1 1zm-10 1zm2 3zm10-2zm44 2zm53-1zm5 1zm6 0zm21-1zm2 0zm11 1zm0-1zm9 0zm0 1zm2 0zm0 0zm0 0zm3-1zm0 1zm1-2zm1 0zm1 1zm2 0zm3 1zm14-1zm-4 3zm-2 0zm-1 1zm-2 0zm-9-2zm-9 0zm-1 1zm-4-1zm0 2zm-9-2zm-1 0zm-3 1zm-9-1zm-14 2zm-3-1zm-12 0zm-3-1zm-64 5zm12 0zm16-1zm7-1zm8 1zm7 0zm28-1zm6 0zm2 2zm6 0zm0 0zm0 0zm5-1zm18 0zm1-1zm11 1zm3-1zm16 4zm-2 1zm-12-2zm0 1zm-18 1zm-1 0zm-32-1zm-13-1zm-21 0zm-30 0zm-4 0zm-14 1zm-12-1zm-1 1zm-3-1zm-17 2zm0-1zm-1-1zm-4 0zm45 5zm3 0zm14-1zm5 0zm5 0zm10-1zm74 1zm4 1zm3 0zm15-2zm3 3zm-9 1zm-32 1zm-24-1zm-8 1zm-22-1zm-20-1zm-15 2zm-13 0zm-7-2zm-22 4zm4 1zm13 0zm9-2zm1 1zm19 1zm2 0zm11-2zm8 0zm17 0zm4 1zm6 1zm0-1zm39 1zm21 0zm15 1zm-4 0zm-12 2zm-6-2zm-7 1zm-7 0zm-4 0zm-2-1zm-25 0zm-9 2zm-41-1zm-7-1zm-4 0zm-21 0zm-19 2zm-1 2zm10 1zm9 0zm39-2zm28 1zm28 0zm29-1zm19 0zm-14 3zm-24 1zm-3-1zm-10 1zm-24-1zm-16 2zm-7 0zm-1-1zm-17-1zm-1 1zm-12 1zm-5-1zm-5 0zm-4 0zm-6 1zm4 1zm4 0zm10 1zm28 1zm29-1zm6-1zm14 1zm12 0zm11 0zm0 1zm7-1zm1 0zm3-1zm13 2zm3-2zm-3 5zm-16-2zm-27 1zm-16 0zm-31 0zm-7 1zm-16-1zm-8-1zm-7 1zm-9-1zm-6 2zm-8-2zm18 5zm14-2zm0 2zm8-2zm3 1zm8 0zm36 1zm4-1zm4-1zm11 1zm25 0zm17 0zm2 0zm2 2zm-6 2zm-17 0zm-8 0zm-8-1zm-17 1zm-9-2zm-2 2zm-7-2zm-31 2zm-7-1zm-5-1zm48 3zm12 0zm41 1zm3 0zm2-1zm0 4zm-4 0zm-15 1zm0 0zm-7-2zm-6 2zm0-2zm-20 1zm-2-1zm-9 1zm-23-1zm-12 2zm-19-2zm26 5zm61-2zm1 2zm23 1zm-16 0zm-5 1zm-18 1zm-3-1zm-17-1zm-6 1zm-44 0zm12 4zm11 0zm7-1zm15 1zm20-2zm21 2zm6-1zm2 0zm3 0zm0 3zm-27 1zm-16-2zm-3 0zm-10 2zm-6-2zm-27 1zm-2 2zm31 1zm1 0zm17 0zm17-1zm3 0zm-28 5zm-30 0zm-3-1zm-1-1zm50 4zm11 1zm7 0zm-21 2zm-28 0zm-4 0z" stroke="#c8162e" stroke-width="2.4" stroke-linecap="round"/><path transform="scale(0.5)" d="M724 442zm1 3zm24 1zm1-1zm2 4zm-27 0zm-3-2zm-1 0zm-1 2zm-163 3zm8-2zm1 2zm141 0zm19-2zm15 2zm18 3zm-7-2zm-21 1zm-14 0zm-15 0zm2 3zm32-1zm20 0zm-10 5zm0 0zm-15 0zm-14 0zm-151 0zm-14 2zm145 1zm8-1zm5 1zm0-2zm1 2zm2-2zm10 2zm4-1zm34 1zm-7 1zm-11 1zm-24-1zm-9 2zm-12-1zm-147 1zm-1 2zm14 0zm6-1zm131 1zm22-1zm12 0zm-9 4zm-2 0zm-14 0zm-5-1zm-13 0zm-122 0zm-8 0zm160 3zm0 2zm2 0zm28-2zm23 4zm-59-1zm-8 0zm-5 1zm-150 2zm160 2zm16-2zm40 4zm-23 1zm-51-2zm-120 0zm-4 2zm-23 3zm3-2zm8 2zm16 0zm133-2zm66 2zm-14 1zm-14 0zm-6 0zm-25 2zm-12-2zm-137 0zm-14 1zm-1-1zm4 3zm8 0zm3 0zm96 1zm21-1zm13 2zm29 0zm2 0zm41-2zm-6 3zm-45 1zm-150-1zm-17 0zm-2 4zm12 1zm1-2zm0 0zm74 2zm15-2zm2 2zm16-1zm31 0zm13 0zm16 1zm45 2zm-34-1zm-24 0zm-63 0zm-75 0zm-3 2zm-17-2zm-9 2zm8 3zm10-2zm50 2zm102-2zm2 2zm1-1zm23 0zm35 1zm-14 1zm-17 1zm-7 0zm-39 1zm0-1zm-57 1zm-62 0zm-15 0zm-11-2zm-1 2zm-7 3zm35-2zm7 1zm7 0zm3 1zm100-2zm1 1zm11 1zm0-1zm31 0zm12 3zm-36 0zm-21 0zm-4 1zm-12-2zm-65 0zm-11 0zm-43 1zm-4 1zm-2-2zm1 5zm18 0zm5-2zm29 1zm113 1zm38 3zm-51-2zm0 1zm-106 0zm-17-1zm-13 1zm-11 0zm-13 4zm0-1zm8-1zm19 0zm4 0zm5 1zm104-1zm14 0zm23 0zm27 0zm17 1zm-14 4zm-19 0zm-42-2zm-4 1zm-9 1zm-106 0zm-8-2zm-6 2zm-3-2zm-6 3zm2 0zm5 2zm22-2zm3 0zm11 0zm98 0zm16 0zm9 2zm0-1zm11 0zm-7 2zm-12 2zm-2-2zm-4 2zm-21-1zm-111 0zm19 4zm41 0zm72-1zm29 3zm-33 1zm-25-2zm-48 0zm-7 1zm-12 0zm-10-1zm-1 2zm-8-1zm-12 4zm8-2zm2 2zm8 0zm2 0zm1 0zm89-1zm30-1zm23 2zm3 0zm16 3zm-3-1zm-25-1zm-16 1zm-14 1zm-55 0zm-52 0zm-5-1zm-7 1zm-14-1zm-6 3zm16-1zm19 0zm14 1zm32 0zm0 0zm5-1zm2 0zm12 2zm1-1zm36 1zm11-1zm8 0zm1 4zm-10-2zm-5 1zm-40 0zm-11 1zm-8-2zm-1 0zm-5 1zm-23 0zm-6 1zm-12 0zm-12-1zm-19 0zm-4-1zm-4 2zm-2 3zm12-2zm2 0zm1 1zm2-1zm3 2zm26 0zm31-2zm8 0zm22 2zm46-2zm12 1zm2 0zm20 1zm-27 2zm-25 0zm-15 1zm-2 0zm-4 0zm-17-2zm-14 2zm-9-1zm0 0zm-27 0zm-3-1zm-6 1zm-17 1zm-6-1zm-2 0zm-10 3zm8-1zm41 0zm6 2zm0-2zm15 2zm21 0zm3-1zm5 0zm3-1zm2 1zm5 0zm16 1zm2 0zm15 0zm3-1zm14 0zm11-1zm-33 5zm-4 0zm-6 0zm-6-1zm-4 1zm-6-2zm-8 0zm-1 1zm-8 1zm-9 0zm-8-2zm-11 1zm-16-1zm-2 2zm-8 0zm0-1zm0-1zm-13 2zm-21 2zm15 0zm15-1zm7 0zm21 1zm24-1zm18 1zm25 1zm0-1zm4-1zm7 2zm8 0zm10-2zm15 3zm-20 0zm-6 1zm-19-1zm-29 1zm-4 1zm-1-1zm-22-1zm-25 2zm-13 0zm-1-2zm-12 2zm-7-2zm-4 2zm-1-2zm-5 1zm5 3zm1-1zm4 2zm1-2zm1 0zm4 1zm3-1zm11 0zm2 2zm3-2zm4 2zm26-2zm16 1zm10 0zm8 1zm40 0zm29-1zm4 0zm13 0zm-13 3zm-31 1zm-21 0zm-4-2zm-20 0zm-9 0zm-11 1zm-20-1zm-7 0zm-4 0zm-18 1zm-29 0zm3 3zm13 1zm8 0zm10-2zm3 0zm9 1zm31-1zm19 1zm8 0zm44 0zm23 0zm1 1zm7-2zm3 0zm-4 5zm-7 0zm-20-2zm0 1zm-10 1zm-20 0zm-4-1zm-22 1zm-10-2zm-5 0zm-3 0zm-23 1zm-11 0zm-6 1zm-10-2zm-15 1zm6 4zm5-2zm8 2zm5-2zm2 1zm11-1zm3 2zm1-1zm4 1zm7 0zm12 0zm5-1zm10 1zm4-1zm6 0zm1 0zm5 1zm9 0zm1 0zm3-1zm23 1zm1 0zm4-2zm42 5zm-8 0zm-51 0zm-6-1zm-10 0zm-21 1zm-4 0zm-3 0zm0-1zm-2 0zm-27 0zm-1 0zm-29 1zm-8 0zm-1 0zm-5-2zm-3 3zm5 1zm16-1zm2 0zm8 2zm20-2zm5 0zm14 0zm7 2zm4 0zm3 0zm2 0zm0-2zm5 2zm23-2zm12 2zm17-1zm9 0zm-23 2zm-7 2zm-10 0zm-11-2zm-14 1zm-17 0zm-25 1zm-14 0zm-1 2zm2 0zm14-1zm13 0zm7 0zm0 0zm1 2zm11-1zm11 1zm9-1zm4 0zm26 1zm1 0zm21 0zm-27 3zm-2 0zm-16-1zm-5 1zm-1-2zm-7 0zm-14 0zm-8 0zm-8 1zm-8 0zm11 2zm2 1zm29 0zm28 1zm25 0zm-10 3zm-5-2zm-12 0zm-1 2zm-6-1zm0-1zm-2 1zm-7-1zm-5 0zm-9 0zm-6 0zm-16 2zm-11-2zm-4 0zm-1 2zm-20 0zm-24 2zm1 0zm17-1zm15 1zm2 0zm8-1zm37 1zm10 1zm2 0zm3 0zm24 3zm-6 0zm-10-1zm-17 1zm-6-2zm-4 0zm-4 2zm-1-1zm-6 0zm-1 0zm-23-1zm-12 0zm-2 1zm-17 1zm-2-2zm-3 4zm15-1zm8 2zm8-1zm4 0zm9-1zm27 1zm5 1zm5-2zm4 2zm30 2zm-29 1zm-26 0zm-10 0zm-5-1zm-7-1zm-4 2zm-5 0zm-9-2zm0 1zm-12 3zm1 1zm18 0zm14-1zm1 1zm8 0zm1 0zm7-2zm2 0zm0 0zm21 2zm8-2zm16 0zm27 0zm-21 3zm-28 2zm-8-1zm-11-1zm-5 2zm-16 0zm-4 0zm-3-2zm0 0zm-7 1zm-7 1zm-10 3zm3-2zm19 1zm1 0zm16-1zm31 2zm2 0zm3-2zm17 2zm13 0zm16 2zm-23 1zm-21 0zm-18 0zm-5-1zm-23 0zm-16 1zm-3-1zm31 2zm18 0zm1 0zm21 1zm17 0zm13 3zm-27-1zm-11 1zm-3-1zm-6 1zm-12 1zm-8-1zm-2 0zm-18-1zm-6 0zm4 4zm15 1zm14-2zm4 2zm2-1zm5-1zm1 0zm20 0zm3 1zm0 1zm6-1zm1-1zm14 0zm-15 5zm-38 0zm-8-2zm-9 0zm2 4zm4-1zm10 0zm12 0zm20 3zm-35 1zm-10 0z" stroke="#2f9a8b" stroke-width="2.4" stroke-linecap="round"/><path transform="scale(0.5)" d="M739 440zm11 3zm-4-2zm-1 0zm0 0zm-4 0zm-2 2zm-2-2zm-6 1zm-9 2zm3 0zm7 0zm2 0zm2 2zm5-2zm5 1zm3 1zm1-1zm12 4zm-1 0zm-2 0zm-9 0zm-1-2zm-4 2zm0-1zm-1-1zm-14 0zm-1 1zm0 0zm-14 3zm1 0zm9 0zm6-1zm11 0zm6 1zm7 0zm-5 2zm-7 0zm-3 0zm-8 0zm0 2zm-12 0zm0-1zm-4-1zm-3 1zm-10 3zm18 1zm1-1zm1 0zm12 0zm4-1zm6 1zm2-1zm10 2zm5-1zm9 4zm0-1zm-20 0zm0 0zm-6 1zm-1-1zm-6 1zm0 0zm-6-2zm-7 2zm-18 0zm14 2zm3-1zm4 1zm4 1zm4-1zm6-1zm9 1zm1-1zm11 0zm3 1zm1 1zm3 0zm-5 3zm-3 0zm-1-1zm-8-1zm-2 0zm0 2zm-3-2zm-3 0zm-5 0zm-1 1zm-8-1zm-6 0zm-7 1zm-17 1zm-142 2zm138 1zm5-2zm9 0zm0 1zm6 0zm15 1zm18 0zm16-1zm4 2zm-9 2zm-4-2zm-4 0zm-1 2zm-7-2zm-12 2zm-2 0zm-4 0zm-1-2zm-3 2zm-5-1zm-11 1zm-6-2zm-138 1zm3 2zm150 0zm3 1zm6-1zm11 1zm5 0zm9 0zm4 0zm1-1zm6 2zm3 0zm8-2zm-1 4zm-6-1zm-3 1zm-4 0zm-6 1zm-7-2zm-13 1zm-177 2zm178 1zm1 1zm8 0zm0-1zm6-1zm17 2zm6-2zm-4 5zm-5-1zm-21-1zm-8 1zm-36 0zm0-1zm-5 4zm39 1zm8 0zm8 0zm6-1zm2-1zm0 1zm13 1zm4-1zm1 1zm7 0zm-9 2zm0-1zm-8 0zm-2 2zm-5-2zm-7 1zm-4 1zm-4-2zm-1 1zm-4-1zm-1 1zm-2-1zm-5 2zm-1-1zm-176 2zm18 1zm129-1zm40 2zm3 0zm0-1zm4 0zm8 1zm0-1zm5-1zm3 0zm2 1zm3 1zm3-2zm8 5zm-1 0zm-5-1zm-3 0zm0 0zm-14 0zm-4 1zm-8-2zm-2 1zm-2-1zm-3 1zm-3-1zm-4 2zm-4-1zm-21-1zm-23 0zm50 4zm1 0zm4-1zm4 2zm4-1zm2 1zm3 0zm8 0zm3 0zm0 0zm1-2zm1 1zm1 1zm3-1zm1 0zm15 4zm-19 0zm-3-1zm-6 0zm-7 1zm-1-1zm-35 1zm-8-1zm8 2zm2 1zm6-1zm5 0zm7 0zm8 1zm0 1zm8-2zm6 1zm5 0zm2-1zm3 0zm2 0zm8 0zm8 0zm0 0zm-5 3zm-10 2zm-1 0zm0-1zm-1 1zm-4-2zm-9 2zm-2 0zm-3-1zm-2 0zm-5-1zm-15 1zm-28 0zm-115 1zm-14 2zm2-1zm51 1zm4-1zm100 0zm8 0zm18 2zm4-2zm6 0zm5 1zm1 0zm5-1zm5 2zm2 0zm4-2zm-3 5zm-2-2zm-12 1zm-4 0zm-10-1zm-2 2zm-14-2zm-2 0zm-129 2zm-12-1zm-11 0zm-23-1zm166 3zm10 2zm11 0zm2-2zm2 2zm4 0zm10 0zm3 0zm2-1zm3 0zm2 0zm2-1zm-5 5zm0-1zm-6 0zm-2 1zm0 0zm-1 0zm-1-1zm-3 0zm-7 1zm-5-2zm-1 1zm-2 0zm0 0zm-1 1zm-2-2zm-1 1zm-174-1zm131 3zm20 1zm20 1zm1-2zm0 2zm1 0zm6-1zm16 0zm12 1zm1-2zm-6 3zm0 0zm-2 0zm-5 1zm-11 1zm-5 0zm-3-2zm-5 2zm-1 0zm-14-2zm-5 2zm-125-2zm-15 3zm20 0zm118 1zm5-1zm5 0zm22 0zm6 2zm7-2zm6 1zm16 0zm-6 2zm-4 2zm-10-2zm-3 0zm-14 1zm-11 1zm-1-2zm-12 0zm-1 0zm-7 1zm-25-1zm-125 1zm8 4zm4-2zm51 2zm71-1zm17 0zm11 1zm1-2zm10 2zm3 0zm1-2zm1 2zm0-2zm0 1zm8 1zm3-2zm1 2zm10-2zm13 1zm4 3zm-10 1zm-3-2zm-8 2zm-3-1zm-13-1zm-8 1zm-127 0zm-30 1zm111 1zm15 1zm7-1zm20 2zm2-2zm2 1zm1 1zm1-2zm11 2zm8-2zm4 2zm21 0zm-9 1zm-8 1zm-10-1zm-10 2zm-1-2zm-15 1zm0-1zm0 0zm-35 1zm-7 0zm-14-1zm-52 0zm-16 2zm-16 0zm6 3zm79-1zm50 1zm2 0zm2-2zm7 0zm12 1zm5-1zm11 0zm17 5zm-3 0zm-2-1zm-17-1zm-2 1zm-3 1zm-1 0zm-5-2zm-1 2zm-1 0zm-15-1zm-14-1zm-2 0zm-97 0zm-2 0zm-32 1zm0 0zm-10 2zm117 1zm26 1zm8 0zm2 0zm2-1zm13 0zm4 0zm2 0zm2 1zm2-2zm0 2zm13-1zm3 1zm0-2zm1 0zm1 1zm0 1zm0-1zm2 0zm0-1zm4 4zm-4 1zm-7 0zm-2 0zm-5-1zm-23 0zm-7-1zm-5 1zm-39 0zm0 0zm-40 1zm-6-1zm-24-1zm-8 1zm-33 4zm23 0zm49-2zm24 2zm28-2zm2 0zm25 0zm4 0zm2 0zm5 0zm7 1zm2-1zm4 1zm0 0zm1 0zm4 1zm9-1zm7 0zm6-1zm-11 3zm-10 0zm0 0zm-1 1zm-9-1zm-3 2zm-7-2zm-4 1zm-1-1zm-2 2zm-9-1zm-18-1zm-15 2zm-34 0zm-79 2zm37 0zm46 1zm7-1zm41 1zm32 0zm1-1zm1 1zm2 0zm1-2zm1 1zm2 0zm0 0zm0-1zm3 0zm0 1zm1 0zm1 0zm11 1zm2-1zm5 1zm2 2zm-24-1zm0 2zm-5-2zm-1 0zm0 1zm-2 0zm0 0zm-2 0zm-2-1zm-3 0zm-10 0zm-10 0zm-52 0zm-29 1zm-19-1zm-11 3zm22 0zm112 1zm5 0zm3-1zm6 2zm5 0zm3-2zm20 0zm-8 4zm-4 0zm-7-1zm-1 1zm-4 1zm0-2zm-9 2zm-1-2zm-3 0zm-2 2zm-4-1zm-8 0zm-1 0zm-73 0zm-8 0zm-26 1zm-10 0zm-8-1zm-7-1zm-3 4zm10-1zm79 0zm3 0zm23 0zm4 0zm27 2zm6-2zm4 0zm1 1zm2 1zm1 0zm1-2zm6 2zm9 0zm0 0zm1 0zm0-1zm0 2zm-2 2zm-4-2zm-3 2zm-7-1zm-1 0zm-1-1zm-5 0zm-11 2zm-11 0zm-16 0zm-8 0zm-10 0zm0 0zm-25-2zm-2 2zm-7-1zm-28-1zm-4 2zm-4-1zm-36 3zm0-1zm13 0zm32 0zm12 0zm30 1zm4 1zm16-2zm37 0zm3 0zm10 0zm5 0zm1 2zm2-1zm7-1zm14 2zm2 2zm-16 1zm-2-1zm-1 1zm-5-2zm-2 0zm-1 1zm-4 1zm-3 0zm0-2zm-9 2zm-6-1zm-27 0zm-8 1zm-19 0zm-24 0zm-27-2zm-20 2zm-8 0zm20 1zm60 1zm1-1zm33 1zm37-1zm8 0zm14 1zm3 1zm5-2zm-5 4zm0 0zm-1 0zm-2-1zm-16 1zm-4-1zm-12 1zm-3-1zm-20 0zm-2 2zm-4-1zm-37-1zm-15 1zm-30-1zm-31 3zm18 1zm34 1zm50 0zm4 0zm7-1zm11-1zm24 2zm4-1zm4 1zm6-2zm2 2zm2-2zm9 2zm-1 2zm-2-1zm0 0zm-6 0zm-8 1zm-1-1zm-13 1zm-9-1zm-6 1zm-33 0zm-8 0zm-15-1zm-24 0zm-27 0zm-18 4zm11 1zm13 0zm12-2zm0 1zm34 0zm5 0zm14 1zm9-1zm3 0zm4 1zm12-2zm1 1zm29 0zm4 1zm0-2zm8 1zm-4 4zm-75-1zm-74 1zm-2 0zm22 1zm10 1zm18-1zm3 0zm1 0zm29 2zm5-1zm19-1zm16 0zm7 0zm9 0zm5 0zm0 1zm12 2zm-3 1zm-1 1zm-19-1zm-5 0zm-21-1zm-9 0zm-14 1zm-5 0zm-29 0zm-8 1zm-11-2zm-11 2zm-8-1zm-7 3zm16 0zm8-1zm14 1zm27-1zm21 2zm3 0zm16-2zm17 2zm18 0zm4 0zm5 1zm-2 0zm-21 0zm-24 1zm-7 0zm-36-1zm-51 4zm5 0zm6 0zm9 1zm23-1zm3-1zm16 1zm11 0zm6 0zm1 1zm1-1zm4 1zm5-2zm44 0zm-15 3zm-2 2zm-30-1zm-22 1zm-11-2zm-10 4zm20 0zm10-1zm5 2zm25-1zm21 0zm6 0zm1-1zm-53 5zm-16 0zm-5-2zm-45 4zm3 1zm9-1zm20 1zm38-1zm22 1zm7-2zm4 1zm-2 3zm-6-1zm-21 2zm-15 0zm-23-2zm-25 4zm25 1zm2-2zm1 1zm21-1zm5 0zm14 0zm10 2zm6 1zm-9 2zm-2 0zm-28-2zm-16 0zm-24 2zm8 3zm15-1zm30-1z" stroke="#c8162e" stroke-width="2.4" stroke-linecap="round"/><path transform="scale(0.5)" d="M732 439zm17 4zm-21-2zm-4 3zm4 2zm1-2zm17 5zm-14 0zm-4-1zm-166 1zm160 2zm1 0zm11 1zm7 0zm7-2zm6 0zm3 2zm-33 2zm-4-1zm-1 2zm-20-1zm0 0zm-137-1zm-6 3zm2 0zm141 2zm35 0zm3-2zm10 4zm-10 0zm0-1zm-12 0zm-18 1zm-3 2zm12 1zm8-1zm7 2zm3-2zm4 0zm4 1zm0-1zm5 1zm1-1zm19 0zm5 1zm2 4zm-38-2zm-2 1zm0 0zm-3 1zm-5-2zm-21 2zm-1 0zm-4-1zm-139 2zm1 0zm0 2zm161 0zm1 0zm21-1zm2 0zm26 2zm-6 0zm-17 2zm-25-1zm-12 1zm-7-2zm-138 2zm-11 3zm154-1zm2 1zm14-1zm9 1zm0 0zm36 0zm-28 1zm-11 2zm-4-1zm-8 0zm0-1zm-6 1zm-11 1zm-3 0zm-128-1zm-2 1zm-2-2zm-6 1zm-7 1zm-4 0zm-1-1zm-2 0zm204 3zm13 4zm-49-1zm-23 1zm-130-2zm-11 1zm8 3zm1 0zm135-1zm9 2zm29 0zm2 0zm17-2zm-37 4zm-143 0zm-5-1zm-7 2zm-4 0zm-9 3zm8-2zm1 0zm2 1zm116 1zm28-2zm22 0zm30 2zm3 0zm-21 2zm-6 0zm-64 0zm-15 1zm-7 0zm-81 0zm-3 0zm-11 3zm6-2zm18 0zm61 1zm1-1zm54 1zm17 0zm5 1zm8 0zm10-2zm27 0zm2 1zm7 2zm-7 0zm-31 1zm-13-1zm-14 1zm-4 0zm-130 1zm-4-2zm-5 3zm5 1zm1 1zm2-1zm63 0zm75 1zm17-2zm9 0zm14 0zm14 0zm22 1zm-20 3zm-8 1zm-1-1zm-13-1zm-160 2zm-16-2zm-3 0zm-8 0zm0 4zm10-1zm23 1zm24 1zm2-1zm81 1zm16 0zm7-2zm5 1zm60 0zm-56 3zm-3 0zm-11 0zm-94-1zm-31 1zm-13-1zm-1 2zm0-1zm-9 3zm10 1zm6-2zm5 0zm3 2zm4-1zm23 1zm20-1zm70 1zm13 0zm64-1zm-6 4zm-8-1zm-19 1zm-6 0zm-4-1zm-7 0zm-122 1zm-10-1zm-5 0zm0 0zm-1 0zm-37-1zm15 3zm3 2zm10 0zm7-2zm110 1zm7-1zm15 0zm29 2zm16-2zm2 0zm7 1zm1-1zm-13 5zm-34 0zm-22-1zm-1-1zm-130 0zm-8 2zm-11-1zm15 3zm6-1zm128 1zm18 0zm14 0zm0 1zm5-1zm13 1zm22 3zm-31-2zm-12 2zm-1-2zm-5 1zm-27-1zm0 1zm-1-1zm-4 2zm-10-2zm-85 0zm-3 1zm-15-1zm-12 2zm-9 0zm-3-1zm-1 2zm1 2zm2 0zm1 0zm39 0zm88-2zm8 1zm21-1zm2 2zm5-1zm8 0zm3-1zm13 0zm11 2zm4 2zm-21 1zm-5-1zm-14 1zm-15 0zm0-1zm-5-1zm-7 0zm-77 2zm-15-1zm-3 0zm-9 0zm-27 0zm-5 1zm-5 2zm14-1zm10 2zm2 0zm11-2zm36 2zm42 0zm7-2zm15 0zm10 2zm7-2zm23 2zm37 1zm-54 2zm-1-2zm-1 0zm-2 1zm-33 1zm0-1zm-9 0zm-4 1zm-4-2zm-21 0zm-33 2zm-26-2zm-24 2zm29 2zm5-1zm34 2zm6-1zm49-1zm12 0zm10 2zm6-1zm26 1zm32 1zm-38 2zm0-2zm-4 0zm-4 0zm-3 1zm-10 1zm-7 0zm-2 0zm-63-2zm-9 1zm-11 0zm-26-1zm-4 1zm0-1zm-23 5zm16-2zm27 2zm0-2zm15 0zm11 0zm16 0zm15 2zm3-2zm1 0zm20 2zm0-2zm16 1zm26 1zm40-2zm1 3zm-19 0zm-18 2zm-5-1zm-18 0zm-7-1zm-23 0zm-7 0zm-16 1zm-25 0zm-24-1zm-24 0zm-18 3zm8 2zm2-1zm24 0zm54-1zm40 2zm20-1zm1 0zm25 0zm4 0zm-21 4zm-24 0zm-23-2zm-1 1zm-41 1zm-5 0zm-22 0zm-6 0zm-21-1zm-13 3zm5-1zm4 2zm25-1zm25-1zm17 2zm11 0zm73-1zm15 1zm1-1zm20 0zm-29 2zm-5 0zm-58 2zm-11-2zm-13 1zm-7-1zm-4 0zm-19 0zm-22 1zm-19-1zm-7 4zm5 0zm62-1zm19 1zm16 0zm6 1zm28-2zm57 5zm-29-2zm-30 1zm-14 1zm-37-2zm-14 1zm-2 1zm-14-2zm-5 2zm-14-2zm-15 2zm-1-2zm-1 1zm-2 0zm-2 0zm30 2zm12 2zm20 0zm47-2zm43 0zm16 2zm5 0zm0 2zm-3 1zm-21-2zm-21 0zm-5 0zm-5 0zm-13 0zm0 0zm-9 2zm-2 0zm-12 0zm-9 0zm-18-1zm-1 0zm-6 1zm-4 0zm-32-2zm-18 2zm11 3zm7 0zm37-2zm5 0zm19 1zm37 1zm5-2zm40 1zm17 2zm-3 1zm-3 1zm-27-1zm-9 0zm-4 0zm-19-1zm-37 2zm0-1zm-47 1zm-2 0zm-11-1zm-9 1zm-6 0zm-2-1zm-2 3zm1-1zm20 1zm27 0zm10 0zm5-1zm18 2zm39-2zm11 1zm9 1zm11-2zm11 2zm15 1zm-28 2zm-2 0zm-11-2zm-12 1zm-18 1zm-30-2zm-2 2zm-14-1zm-2-1zm-9 1zm-14 0zm-12-1zm-13 4zm11-1zm12 0zm23 0zm56 2zm43-1zm4 1zm-30 3zm0-2zm-15 1zm-11 0zm-26-1zm-14 1zm-15-1zm-16 2zm-10-1zm-14 4zm2 0zm10-1zm42 0zm9 0zm34 0zm66-1zm-32 3zm-31 2zm-22 0zm-16-2zm-1 0zm-55 2zm10 3zm2-2zm7 2zm29-2zm42 0zm30 0zm-14 5zm-19-2zm-26 1zm-30-1zm-4 2zm-9-2zm-5 4zm82 0zm17 0zm24 1zm8-1zm-1 3zm-17-1zm-6 0zm-7 0zm-9 0zm-13 2zm-75 1zm9 2zm10-1zm7-1zm18 2zm14-2zm11 0zm11 3zm-4 2zm-19-1zm21 7zm-68 0zm5 1zm43 2zm14-1zm16 0zm-66 3zm27 3zm5 1zm37 2zm-5 1zm-8 0zm-42 1zm2 0zm11 0zm4 4z" stroke="#c8c8c8" stroke-width="2.4" stroke-linecap="round"/><text x="266.7" y="206.6" font-size="8.0" textLength="36.3" lengthAdjust="spacingAndGlyphs">Malignant</text><circle cx="412.7" cy="263" r="2.5" fill="#c8162e"/><text x="422.1" y="265.2" font-size="6.2" fill="#222" textLength="24.3" lengthAdjust="spacingAndGlyphs">HighStem</text><circle cx="412.7" cy="273.9" r="2.5" fill="#c8c8c8"/><text x="422.1" y="276.1" font-size="6.2" fill="#222" textLength="20.4" lengthAdjust="spacingAndGlyphs">DTStem</text><circle cx="412.7" cy="284.8" r="2.5" fill="#2f9a8b"/><text x="422.1" y="287" font-size="6.2" fill="#222" textLength="22.6" lengthAdjust="spacingAndGlyphs">LowStem</text><path d="M266.7 330 V299" stroke="#000" stroke-width="0.8"/><path d="M266.7 293.6 L262.8 300.4 L270.6 300.4 Z" fill="#000"/><path d="M266.7 330 H302" stroke="#000" stroke-width="0.8"/><path d="M307.6 330 L300.8 326.1 L300.8 333.9 Z" fill="#000"/><text x="263.6" y="309.5" font-size="6.6" text-anchor="middle" transform="rotate(-90 263.6 309.5)" textLength="23.5" lengthAdjust="spacingAndGlyphs">UMAP_2</text><text x="271" y="338.5" font-size="6.6" textLength="23.5" lengthAdjust="spacingAndGlyphs">UMAP_1</text><text x="1.2" y="358.3" font-size="14.2" font-weight="bold" font-family="'Liberation Serif', serif">G</text><path d="M35.6 384.6 L37.6 386 L39.3 389.7 L40.9 394.6 L42.3 400 L43.4 405 L44.6 409.6 L45.8 413.8 L47.5 417.7 L49.7 421.3 L52.6 424.2 L56 426.1 L59.9 426.5 L64 426.1 L68.2 425.4 L72.2 424.9 L75.8 425.2 L78.8 426.8 L80.7 429.9 L81.1 434.5 L81.4 439.2 L82.7 442.9 L85.2 445.4 L88.5 446.8 L92.5 447.5 L96.6 447.5 L100.8 447.1 L104.7 446.1 L107.9 444.3 L110.4 441.5 L111.8 437.7 L112.2 432.9 L112.6 428 L113.5 423.6 L114.9 419.5 L116.2 415.4 L117.3 411.1 L117.7 406.4 L117.9 401.5 L117.9 396.5 L118.4 392.2 L119.9 389.7 L122.9 389.5 L126.6 389.5 L130.2 388.1 L133.7 385.6 L137.3 383.2 L140.9 381.6 L144.6 380.8 L148.3 380.6 L152 381.2 L155.5 382.4 L158.9 384.2 L162 386.5 L164.9 389.3 L167.4 392.5 L169.6 396.1 L171.3 400.1 L172.7 404.3 L173.7 408.7 L174.4 413.3 L174.8 418.1 L175 422.9 L175 427.7 L174.7 432.4 L174.3 437.1 L173.8 441.7 L173 446.2 L172.1 450.6 L171 454.9 L169.8 459.2 L168.3 463.3 L166.7 467.3 L165 471.2 L163 474.9 L160.9 478.6 L158.7 482.1 L156.2 485.4 L153.6 488.6 L150.9 491.7 L147.9 494.6 L144.8 497.4 L141.6 500 L138.2 502.4 L134.8 504.6 L131.2 506.6 L127.6 508.4 L123.9 510 L120.2 511.3 L116.4 512.5 L112.6 513.3 L108.8 514 L105 514.3 L101.2 514.4 L97.4 514.2 L93.7 513.8 L90 513.1 L86.4 512.2 L82.8 511.1 L79.3 509.7 L75.8 508 L72.4 506.2 L69.1 504.1 L65.9 501.8 L62.8 499.4 L59.8 496.7 L56.9 493.8 L54.1 490.7 L51.4 487.4 L48.9 484 L46.5 480.4 L44.3 476.6 L42.2 472.7 L40.2 468.7 L38.3 464.5 L36.6 460.3 L34.9 456.1 L33.4 451.8 L32.1 447.4 L30.8 443.1 L29.6 438.8 L28.6 434.5 L27.7 430.2 L26.9 426 L26.3 421.7 L26 417.4 L26 412.9 L26.3 408.4 L27 403.7 L28.1 398.9 L29.6 393.8 L31.5 389.2 L33.5 385.8 L35.6 384.6Z" fill="#25888c" stroke="#44307c" stroke-width="2.4" stroke-linejoin="round" fill-opacity="0.85" stroke-opacity="0.75"/><path d="M45.1 404.3 L51.3 423.5 L59.7 431.5 L64.1 441 L72.9 445.8 L87 448.2 L100.3 448.8 L111.8 445.8 L118.8 436.2 L121.9 423.5 L121.5 407.5 L120.2 385.2 L109.1 375.6 L56.1 375.6Z" fill="#fff" stroke="#fff" stroke-width="1.5"/><path transform="scale(0.5)" d="M277 765zm-202 7zm188 3zm2-1zm-202 4zm186 2zm-169 6zm162 7zm0 4zm-4 1zm2 1zm102 4zm-100 4zm0 2zm-4-2zm-183 0zm-1 3zm182 0zm6 1zm-1 4zm-1-1zm-1-1zm-1 0zm-185 2zm181 2zm6-1zm1 10zm-1 1zm-26 0zm-3 0zm-4 2zm7-1zm5 2zm4 0zm2-2zm9 4zm0 0zm-17 1zm-12-1zm-2-1zm-4 0zm-3 2zm-10-1zm-3 0zm-4 4zm5 0zm1 0zm5-2zm7 0zm11 1zm25 3zm-30 0zm-9-1zm-2 0zm-20 1zm-16 1zm-103-1zm44 3zm63 0zm5 1zm1-2zm72 3zm-7 2zm-45-2zm-15 2zm0-1zm-21 0zm-48 2zm33 1zm13 0zm0 0zm8 1zm1-2zm5 2zm4-1zm5-1zm0 0zm61 1zm8 0zm-17 4zm-26 0zm-41 0zm-4 0zm-8-1zm-3 1zm-1 0zm-6 0zm-80-2zm77 3zm6 1zm10 0zm28-1zm60 3zm-1 1zm-4-1zm-109 5zm17-2zm4 1zm6 1zm7-1zm5 1zm0-2zm18 0zm32 1zm-54 3zm-17-1zm-16 0zm-2 0zm26 5zm79 0zm12 3zm-9-1zm-1-1zm-80 1zm-8-1zm0 0zm19 3zm71 2zm-91 2zm-79 4zm65-1zm9 0zm8 0zm7 1zm76-2zm-3 5zm-60-1zm-6-1zm-2 0zm-4 1zm-1 0zm-2-1zm-9 1zm-3 1zm87 2zm2 1zm2-1zm121 3zm-123 1zm-65-2zm-17 5zm23 0zm0-2zm2 1zm0 1zm55 0zm-50 2zm-24 0zm16 4zm15 0zm5 0zm4 0zm1-1zm16 0zm5 0zm-24 2zm-12 3zm170 1zm-8 25zm-258 6zm245 23zm-232 2zm216 19zm-194 10zm186 0zm-183 3zm1 2zm151 19zm-119 4zm111 0zm0 0zm-97 7zm12 4zm42 3zm11-2zm-19 3z" stroke="#450c5e" stroke-width="3.4" stroke-linecap="round"/><path transform="scale(0.5)" d="M299 762zm13 4zm-6-1zm-31 3zm45 3zm-1 0zm-51 0zm-193 1zm0 0zm-2-1zm-1 1zm-7 3zm2 0zm0 1zm198-2zm0 0zm59 0zm0 1zm3 1zm-74 3zm-8 0zm-4 0zm-5 2zm6 0zm0 0zm6 1zm2-1zm80 2zm-251 1zm255 2zm-96 5zm5 3zm97 2zm0 1zm-283 2zm179-1zm3 1zm3 1zm2-2zm98 2zm0 0zm-258 6zm1 0zm259-1zm0 1zm-259 2zm0 1zm-30-2zm0 1zm190 3zm-7 2zm0 0zm-151 2zm152 1zm3 0zm104 1zm-106 2zm-152 1zm-1 0zm-1 1zm148 3zm1-2zm112 1zm-113 4zm-14-1zm-3-1zm-1 1zm-2 0zm-2 2zm2 1zm134 1zm-103 1zm-20 0zm-9 0zm-27 2zm-96-2zm-1 0zm87 3zm4 1zm15-1zm7 1zm34-1zm110 1zm-149 3zm-7 0zm-9 1zm-14-2zm-76 0zm-41 5zm1-2zm91 2zm7-2zm8 0zm9 2zm7-1zm4 1zm9 0zm-16 2zm-11 0zm-3 1zm-10-2zm-6 1zm-42 1zm-47-2zm47 4zm37 0zm2-1zm6 2zm7 0zm7-2zm76 1zm8-1zm0 0zm104 2zm2 2zm-1 1zm-112-1zm-16 1zm-73-1zm-14-1zm-28 3zm0 1zm1 0zm32 1zm60-1zm38 0zm5 1zm1 0zm105-2zm-119 3zm-70 1zm-11 1zm-32-1zm19 2zm5 2zm70-2zm138 4zm-192 1zm-1 0zm-21-1zm-13 1zm-3 0zm-61 3zm0-2zm62 0zm4 1zm102-1zm4 1zm119 1zm1 0zm0 1zm-117 2zm-6-2zm-90 2zm-79-2zm90 5zm14-2zm76 2zm0 2zm-9 0zm-170-1zm2 4zm75 0zm97-1zm3 3zm-2 1zm-7-1zm-4 2zm-74-2zm-21 1zm-67-1zm1 3zm73 1zm17 0zm79 0zm1 0zm-1 3zm-81-1zm-15 2zm-2-1zm-2-1zm9 3zm206 2zm-121 1zm-1 2zm-2 0zm-5-2zm-64 0zm-9 3zm9 1zm1-1zm6 1zm2-1zm5 2zm3 0zm6 0zm2-2zm7 1zm32 1zm1-1zm-7 3zm-2-1zm-3 0zm-2 1zm-9 0zm-1 1zm-5-1zm-5 0zm-3-1zm-23 0zm-5 0zm189 11zm-270 6zm2 5zm3 5zm2 5zm-1-2zm256 5zm1-1zm1 0zm-3 8zm-4 4zm-239 6zm237-1zm-1 3zm-4 4zm1 2zm-228 2zm-2-2zm227 4zm-3 2zm0 1zm0 1zm-218 0zm-3-2zm3 4zm215 1zm3-2zm-213 8zm206-2zm-203 4zm198 3zm-193 3zm6 7zm166 9zm-3 3zm-152-1zm-2-1zm5 3zm4 1zm145-1zm-138 5zm-6-2zm7 3zm120 1zm7 0zm-3 2zm-118 2zm-2 0zm-1-2zm-3 0zm10 4zm0 1zm102 0zm1-2zm-4 4zm-2 1zm-1 0zm-3 0zm-88-1zm3 2zm8 2zm67 0zm8-2zm-6 3zm-5 1zm-58-1zm21 5zm3 0zm3-1zm17 0zm6-1zm3 0z" stroke="#482273" stroke-width="3.4" stroke-linecap="round"/><path transform="scale(0.5)" d="M287 764zm3-1zm0 0zm7 1zm0 0zm5-1zm3 1zm9 3zm-4 0zm-3-2zm-3 0zm-21 0zm-3 2zm-9 3zm49 3zm-1-2zm-52 2zm-199 2zm254-1zm3 0zm-63 4zm-2 1zm-1 0zm-185 0zm-6-2zm-4 5zm1-2zm0 0zm12 2zm1 0zm168 0zm7 0zm0 1zm-9 0zm-181 4zm14 0zm1 1zm256-1zm0 1zm-92 1zm-180 2zm-3 2zm281 10zm-281-1zm-1 0zm1 4zm186 2zm0 0zm-163 1zm-24 1zm26 2zm2 0zm157-2zm101 2zm1 3zm-99-2zm-161 1zm-29-1zm0 1zm30 3zm261-1zm-259 5zm-1-1zm0 2zm2 1zm0 1zm257-2zm-99 5zm0-2zm-157 0zm-35 1zm292 2zm0 1zm1 4zm-103 0zm-189-2zm0 4zm35 0zm156 0zm100 0zm-99 2zm-66 2zm62 3zm2-1zm2 1zm99 3zm-100-2zm-193 2zm46 3zm246-1zm1 0zm-99 3zm-148 1zm143 3zm2 0zm105-1zm-2 3zm-102-1zm-3 1zm-136 1zm-49 0zm-2-2zm56 4zm235 0zm0 3zm-231 0zm0 1zm-58 0zm58 2zm0 0zm231 0zm1 1zm0-2zm-1 3zm-230 0zm-57 5zm59-2zm119 8zm-2 2zm-2 0zm-171 1zm1 3zm170-1zm0 3zm-4 1zm-102-2zm-63 3zm70 2zm1 0zm96-1zm110 0zm2 4zm-121 0zm-66-1zm-3 1zm-11-1zm-3-1zm-4 0zm-70 5zm2 0zm80-1zm7 1zm1 0zm2-1zm62-1zm7 1zm118 1zm-133 2zm-6 1zm-2 0zm-19 0zm-6 0zm-15-1zm-96 0zm96 3zm1-1zm10 1zm1-1zm11 2zm3-2zm7 1zm2-1zm3 1zm-4 2zm-128 5zm270 0zm-267 4zm266 3zm-266 3zm264 0zm-1 3zm-1 2zm-257 0zm-1 0zm3 7zm1 4zm1 2zm2 2zm245 2zm-1-1zm-241 5zm0 2zm235 6zm-1 1zm-231 3zm3 0zm3 3zm1 2zm218 1zm1 2zm-3 1zm-216-1zm2 3zm1 1zm209 3zm-205-1zm201 7zm-195 1zm0 2zm190 1zm-2 2zm-1-1zm-185-1zm2 3zm183 1zm-7 7zm-163 4zm4 2zm150-1zm3 0zm-6 3zm-145 1zm-1-1zm5 3zm1 1zm138-2zm-131 6zm1 0zm117 3zm-4 2zm-107 0zm97 2zm-3 3zm-4 1zm-78-1zm6 3zm9 0zm50 0zm5 0zm-5 3zm-4-1zm-4 1zm-1 1zm-2 0zm-27-1zm-1 1zm-7 0zm-6-1zm17 2zm2 1zm4-1zm1 1zm3 0zm2-1z" stroke="#44367f" stroke-width="3.4" stroke-linecap="round"/><path transform="scale(0.5)" d="M292 764zm15 2zm0 1zm0 0zm-18-2zm-4 0zm-1 0zm-4 2zm-3 1zm2 1zm33-1zm4 4zm-43 0zm53 7zm-1 0zm-252-2zm-6 4zm179 1zm15-1zm66 1zm2 1zm-76 1zm-8-1zm-170 0zm-7 2zm-4-2zm4 3zm9 2zm177-2zm77 0zm1 1zm1 3zm-87 0zm2 2zm87 0zm-88 4zm-1 1zm-169-2zm-2 3zm170 1zm94 2zm-280 5zm20-1zm0-1zm261 3zm-95 0zm-185 1zm20 2zm167 0zm1 0zm-189 3zm-2 2zm23 2zm4-1zm164 0zm0 0zm97 4zm-2 0zm-262 0zm4 3zm164 4zm-193 0zm-1 3zm32 0zm258 3zm-287 0zm191 1zm97 1zm-254 2zm-34 0zm-2 4zm37 1zm153 0zm3 3zm-2-1zm-189-1zm0 3zm1 1zm38 0zm151 0zm99-1zm0 4zm-100 0zm-189 1zm-1 1zm2 0zm287 5zm-1-2zm-101 2zm-137-1zm-47 1zm-2 2zm2 0zm46-1zm138 5zm-131-1zm-3-1zm2 3zm1 1zm0 0zm1-1zm232 0zm-230 5zm-1 3zm1-2zm2 2zm126 0zm100 0zm-101 2zm-2-1zm-124 0zm-2 1zm124 3zm2-1zm0 1zm3-1zm100 2zm2 0zm-280 2zm60 4zm218 2zm-1 1zm-1 0zm-108-1zm-104 4zm101 0zm109-2zm2 1zm1 0zm-210 2zm-68 0zm3 4zm75 1zm83 0zm-3 3zm-65 0zm-4 0zm-84 0zm0 2zm79 1zm2-1zm4 1zm4-2zm2 1zm3 0zm9 1zm11 0zm8 0zm9-1zm2-1zm7 0zm10 0zm-15 4zm0 1zm-5-1zm-7-1zm-1 0zm-1 0zm-3 1zm0 1zm-15-2zm-1 2zm-5-2zm-4 0zm-6 0zm-85 2zm-1 0zm1 2zm96-1zm20 0zm14 0zm136 3zm-2 0zm0 7zm0 0zm-260 2zm260 1zm-3 2zm1 3zm-1 4zm-1 0zm-2 0zm-250-1zm2 4zm0 0zm2 0zm244 3zm0 1zm-243 1zm2 2zm241-2zm-2 4zm-239 0zm-1 1zm0-2zm0 0zm1 3zm237 2zm1-1zm0 0zm-234 2zm-1 1zm0 0zm-2-1zm7 9zm217 8zm-213 1zm3 5zm207 2zm-3 1zm-200 1zm198 1zm-3 3zm-1 0zm-191-1zm2 3zm1 2zm0 0zm2-2zm184 1zm4-1zm-4 4zm-2 0zm-180 0zm-3-1zm0 0zm4 4zm7 5zm165 1zm1-1zm-7 5zm-153-1zm2 3zm2 1zm145 0zm1-2zm1 0zm1 1zm-3 2zm-7 2zm-136 0zm3 2zm132 2zm-4 1zm-2-1zm-4 0zm-114 4zm110 1zm1-2zm4 1zm2-1zm-8 3zm-1 1zm-8 0zm-95 1zm9 3zm85-2zm3 2zm-7 3zm-1-2zm-4 2zm-62 0zm-3-1zm9 3zm3 1zm17 0zm17 0zm2 0zm6-1zm0 1zm6 0zm-11 1zm-4 1zm-6 0zm-7-1zm-1 1zm-13-1zm-2 0zm-6 0zm-1 0z" stroke="#3f4988" stroke-width="3.4" stroke-linecap="round"/><path transform="scale(0.5)" d="M304 767zm-12-2zm-1 1zm-6 1zm-1 0zm-6 3zm5-2zm26 2zm4 0zm-40 2zm-1 3zm-204 5zm4 1zm189 1zm0 0zm64-2zm0 1zm2 1zm1 3zm-68 0zm-6 0zm-179-1zm-2 1zm-4-1zm-1-1zm182 4zm1 1zm5-2zm-183 5zm-8-1zm2 2zm9 1zm260 3zm-1-1zm-84 1zm-3 1zm-172-2zm-13 0zm1 4zm0 0zm13 0zm261 3zm-89 1zm-190 2zm2-1zm1 2zm187-1zm1 0zm0 1zm88 0zm1 0zm1 1zm-90 1zm-171 0zm170 2zm1 4zm-174-1zm-16 3zm1 2zm18 0zm172 0zm90 0zm-91 3zm0-2zm-167 1zm-2 1zm-1 0zm-2-2zm3 4zm171 4zm-172-2zm-22 1zm2 4zm22-1zm3 0zm167 1zm92-1zm-92 2zm-1 2zm-166-2zm-24 0zm188 5zm2-1zm0-1zm94 4zm-285 1zm0-2zm-1 4zm193 1zm94 0zm-254 3zm-31 0zm0 2zm32-1zm2 0zm251 4zm-287-1zm42 3zm148 3zm-3 5zm3-1zm96 0zm-237 6zm236 0zm-98 2zm-182 2zm0 0zm0-2zm49 5zm131-2zm97 4zm-225-1zm-52 0zm54 5zm126 0zm0 1zm-3 1zm0 1zm-1-1zm-121 0zm-53 4zm171 0zm3-2zm1 2zm101-1zm-1 3zm-1 0zm0 0zm-101 0zm-174-1zm56 3zm4 2zm4-1zm105 1zm2-1zm103 1zm3-2zm-211 4zm-61 1zm-1 0zm0 0zm1 2zm1 0zm60-1zm3 0zm94 1zm5 0zm-161 7zm67-2zm13 2zm14-1zm58 0zm2-1zm110 3zm-114 0zm-32 0zm-2 0zm-1 2zm-4-2zm-2 1zm-11 1zm-6 0zm0-2zm-1 1zm-1 0zm-6 1zm-1-2zm-4 2zm-76-1zm-3 1zm87 1zm5 0zm9 2zm1-1zm1 0zm15-1zm8 1zm1 0zm135 1zm-133 2zm-1 0zm-26-1zm-1 0zm-97 0zm-1 2zm0 3zm260-1zm-2 4zm-254 2zm2 4zm1 2zm248 3zm-2 1zm-246-1zm2 4zm242 2zm-242 1zm6 6zm232 2zm2-1zm-2 4zm-4 1zm-228-2zm2 5zm228-1zm0 0zm-2 2zm-222 2zm0 3zm218-2zm1 3zm-4 4zm1-1zm1 2zm-211 2zm1 4zm3 0zm201 0zm-1 2zm-7 6zm-1 1zm-184 0zm-3-2zm-1 0zm0 2zm184 2zm5-1zm-2 3zm-3 1zm-175 1zm2 1zm167 2zm0 0zm-1 1zm-1 1zm-161 2zm7 2zm153-1zm-154 4zm0-2zm143 3zm-4 5zm-129 0zm-2-2zm3 3zm5 0zm117 1zm5-1zm1 1zm-9 3zm-111 1zm-6-2zm-2 0zm111 4zm-1 2zm-1 1zm-2 1zm-89-1zm10 3zm1 0zm72-1zm-14 5zm-1 0zm-4 0zm-23 0zm-29-2zm18 3zm3 0zm6 1zm4 1zm7 0zm7-1zm3-1zm1 1zm2-1zm2 0zm6 0z" stroke="#375a8c" stroke-width="3.4" stroke-linecap="round"/><path transform="scale(0.5)" d="M302 767zm-9 0zm-3 0zm-1 0zm-6 2zm4-1zm1 0zm4 0zm7 0zm8 1zm2 1zm-30 2zm-2 0zm0 1zm0-1zm-5 3zm3-1zm-2 3zm-7 2zm57 3zm-64 3zm-5 1zm0 2zm75-2zm-78 3zm0 3zm80 0zm0 1zm0-1zm-79 3zm-2 2zm-175 0zm-9 3zm9-2zm176 1zm0 4zm0-1zm-183-1zm-1 0zm-2 3zm185 0zm0 1zm86 0zm2 1zm-86 2zm-179 2zm3 3zm0 2zm-1-1zm0 0zm0-1zm-11 1zm0-1zm0 1zm-1 4zm0-2zm12 0zm2 0zm0 1zm1-1zm263 1zm1 3zm-1 0zm-264 1zm176 2zm1 1zm85-2zm-87 4zm0 1zm-171-1zm-19 1zm-1-2zm0 4zm21 0zm171-1zm2 3zm-1 0zm-192 1zm0 1zm-1 1zm25 1zm165 0zm91-1zm0 2zm-89 3zm-168 0zm-23 0zm-1-1zm0-1zm-2 1zm194 2zm89 2zm-252 5zm254-1zm-90 3zm0 0zm0 1zm-1 1zm-159 0zm-2 0zm-30-2zm1 5zm32-1zm248 4zm-92 0zm0-1zm-1-1zm-187 2zm1 1zm33 1zm2 0zm151 1zm93 0zm1-2zm-1 3zm-93 2zm-186 3zm0 0zm44-1zm0 1zm-41 5zm180-1zm95 2zm-3 1zm-92 0zm-1 0zm-134 1zm-1 0zm0-1zm229 6zm-95 1zm-2-1zm-129 2zm-46 0zm0 1zm49 0zm222 3zm-220 1zm-49 0zm0 3zm2 1zm165 0zm1-2zm-115 5zm-50 2zm160 0zm104 1zm1 0zm0-2zm-2 5zm-99-2zm-5 1zm-3 1zm-92 0zm-7 0zm-56 1zm64 2zm1-2zm0 1zm76 1zm10-1zm2 1zm2-1zm106 3zm-2-1zm-106 0zm-10 1zm-2 0zm-2 0zm-57-1zm-6 2zm0-1zm-3 1zm-4 0zm-5-2zm-63 4zm1 1zm0-2zm67 0zm3 0zm4 1zm0-1zm6 2zm0-1zm42 1zm4-1zm8 0zm0-1zm1 0zm2 1zm3 0zm118 4zm-128-1zm-1-1zm-1 1zm-6 1zm-3 0zm-1-1zm-8 0zm-2 0zm-1-1zm-1 0zm-4 0zm-2 2zm0-2zm-6 2zm-4-2zm5 3zm8 1zm9-1zm8 0zm138 2zm-1 2zm-5-1zm-247 1zm-2 0zm252 2zm-2 4zm-245 1zm-1-2zm-1 2zm-1-1zm5 7zm238 2zm0 4zm-235 0zm2 5zm1 3zm1 0zm226 3zm-225-1zm-2 3zm4 2zm223-1zm-221 7zm214 2zm-213-1zm211 5zm-4 1zm-202 1zm4 4zm196 1zm-2 1zm-190 3zm187 1zm1-2zm-6 5zm-1 0zm-178 0zm2 2zm0-1zm1 1zm2 0zm174-1zm-3 3zm-6 2zm-165-1zm0 0zm-1-1zm165 5zm-159 1zm4 5zm2-2zm0 2zm2-1zm144 1zm3-2zm-4 5zm-1-2zm0 2zm-141 1zm4 1zm1-1zm132 0zm0 4zm-3-1zm-1 0zm0 0zm-123 1zm0 1zm114 3zm9-2zm-10 3zm-3 1zm-2 1zm-96 0zm-2 0zm8 2zm87 0zm3 0zm-6 2zm-78 1zm-5 1zm4 1zm12 2zm45 0zm0 0zm6-1zm-2 3zm0-1zm-23 2zm-4-2zm-3 2zm-3-1zm-7 0zm-2 0zm12 3zm15-1zm0 0z" stroke="#306a8d" stroke-width="3.4" stroke-linecap="round"/><path transform="scale(0.5)" d="M283 770zm6-1zm9 0zm1-1zm0 1zm0-1zm0 0zm1 1zm4 1zm8 3zm-3-1zm-29 0zm-5 3zm37-1zm6 2zm2 3zm0-1zm-4-1zm-50 5zm4 0zm51 0zm2 1zm-59 2zm-9 3zm1 0zm6-1zm2-1zm61 1zm0-1zm3 4zm-1 1zm-1-1zm-67 1zm-4-2zm-1 0zm2 3zm74 2zm1 0zm-81 2zm2 3zm1-1zm1 5zm0-2zm-1 2zm-182-2zm-2 2zm0 2zm2 0zm181 0zm-180 2zm-2 2zm-4 3zm3-1zm1 1zm183-1zm1-1zm0 1zm82-1zm1 2zm0 2zm-83-1zm-183 1zm-6 2zm9 2zm181 0zm1-1zm-2 3zm-185-1zm-3 1zm0 4zm9-1zm3 1zm176 0zm2-2zm3 5zm-3-1zm-2 1zm-175-2zm-2 1zm-2 0zm-7-1zm-2 2zm0-1zm0 1zm6 2zm1 1zm5 0zm263 2zm-261 1zm-9-1zm-6 1zm7 3zm5 0zm3 0zm0-1zm4 0zm0-1zm171 2zm2-1zm85 0zm0 4zm-1-1zm-85 0zm-185 0zm-6 0zm0 2zm18 0zm172 2zm87 0zm-86 2zm-170-1zm-23 3zm1 2zm26 0zm253-2zm-87 3zm-180 3zm18 2zm247-1zm0-1zm1 1zm-89 3zm0 1zm-160 0zm-29-1zm0 2zm31 0zm158 0zm89 5zm-88-1zm-2-1zm-187 2zm-1 0zm38 1zm151 0zm0 2zm-145 3zm-42-2zm-1 0zm1 4zm39-1zm2 1zm232 4zm-227 3zm226-1zm0 4zm-1-2zm0 2zm-266 3zm174-2zm2 1zm91 1zm-1 1zm-2 1zm-87-1zm-176 5zm0 0zm45-2zm218 5zm-93 0zm-6 0zm-114-1zm-3-1zm0 0zm-16 0zm135 3zm2 1zm92 1zm1-1zm-4 3zm-94 0zm-113-1zm-11 0zm-34 1zm43 2zm216 0zm-106 3zm0 0zm-4 1zm-88 0zm-60 0zm0-1zm3 5zm74 0zm64-2zm2 0zm111 1zm0 4zm-98 0zm-7-2zm-1 0zm-9 0zm-9 2zm-1-2zm-6 2zm-1 0zm-5-1zm-8 1zm-28 0zm0-1zm-3 0zm-8-1zm0 1zm-3-1zm-5 0zm-59 2zm-1-1zm58 2zm8 1zm6-1zm2 1zm5 1zm1 0zm0-1zm4 0zm1 1zm10 0zm10-1zm2 1zm1 0zm2-2zm2 0zm2 2zm2-2zm1 1zm2 0zm3 1zm5-2zm16 0zm107 1zm-136 2zm-4 1zm-1-1zm-10 1zm-7-1zm-2 0zm-1 1zm-1-1zm-6 2zm-3 0zm-13 0zm-10-1zm-53 2zm69 2zm5 0zm1-1zm10 0zm0-1zm2 0zm15 2zm9 0zm19-2zm115 0zm-2 5zm-131 0zm-1-1zm-7-1zm-2 1zm-10 1zm-6-2zm-5 0zm0 1zm-81 2zm68 1zm2-1zm0 1zm3-1zm3 2zm5-1zm1-1zm10 1zm13-1zm62 1zm77 1zm-1 1zm-133 0zm-12 2zm-2 0zm-5 0zm-11 1zm40 1zm120 0zm0 1zm-135 3zm-7-1zm-13 0zm-78 0zm-1 0zm72 2zm5 1zm156 4zm-155-2zm-75 0zm0 0zm0 1zm227 3zm-146 2zm-80 2zm3 1zm219 0zm1 1zm-2 2zm-1 0zm-213 2zm-1-2zm-1 0zm1 3zm1 2zm211 0zm1-1zm0 2zm-3 0zm-205 2zm4 6zm0 0zm2 1zm3 6zm0 1zm1-1zm1 0zm185 0zm-10 5zm-173 1zm171 2zm-164 3zm5 2zm2 1zm154-1zm-7 2zm-150 0zm8 3zm133 3zm-2 2zm-126 0zm1 1zm2 1zm0-1zm123 1zm6-1zm-13 5zm-109-1zm-12-1zm11 4zm3-1zm0 2zm0-2zm103 3zm-2 0zm-101 0zm11 4zm3-1zm73 1zm7-1zm2 0zm-10 4zm-7 1zm-1 0zm-60-1zm-2-1zm13 5zm5-2zm10 2zm1-1zm21 1zm2 0zm5 0zm1-2zm1 0zm7 0zm-21 3zm-3 1zm0-1zm-2 2zm-4-1zm-11-1z" stroke="#297a8e" stroke-width="3.4" stroke-linecap="round"/><path transform="scale(0.5)" d="M287 770zm0 0zm1 0zm5-2zm4 2zm5 0zm8 3zm-4-2zm-24 2zm-1 0zm-2 2zm-7 6zm-7 5zm57 0zm2 1zm-62 2zm-5 1zm1 2zm-3 8zm76-2zm-74 3zm-188 5zm186 1zm-1 1zm-182-1zm262 3zm1 0zm1 1zm0 2zm-79 0zm0 5zm79-1zm1 1zm0 2zm-80 1zm-190 3zm191-1zm4 1zm0-2zm3 1zm2-1zm69 1zm4 3zm-3 0zm-78 0zm-183 0zm-7 3zm5-1zm266 4zm-66 0zm-9 1zm-6 0zm-179-2zm-7 0zm-5 4zm2 1zm4 0zm4-1zm185 1zm0-1zm0 1zm76 1zm-68 1zm-6 1zm-185-1zm-10-1zm-2 2zm-4 1zm3 1zm2 1zm1-2zm0 2zm0-1zm1 0zm6 0zm0 1zm5 0zm177-2zm11 2zm6-1zm3 1zm61 0zm0 1zm-64 1zm-5 0zm-2 1zm-2 0zm-5 0zm-3-2zm-175 2zm-2 0zm-9-2zm-4 1zm-1-1zm-5 0zm2 5zm2 0zm4-1zm3 0zm5-1zm5 1zm1-1zm1 1zm173 0zm2 1zm8 0zm73-2zm-72 5zm-189-2zm-6 2zm-3-1zm0-1zm-4 1zm-3 0zm1 4zm1-1zm9 1zm3-1zm3 0zm1-1zm6 0zm167 0zm15 2zm69-2zm1 5zm-80 0zm-170 0zm-1 0zm-17-2zm-1 1zm-6 0zm0 4zm1 0zm13-1zm12-1zm162 0zm4 2zm4-2zm78 0zm-241 4zm-2 1zm0-2zm-1 2zm-6-2zm-21 0zm-2 2zm34 2zm153 1zm85-2zm-86 5zm-159-2zm-26 1zm34 2zm2 1zm235 1zm-1 3zm-89 0zm-140-1zm0 0zm-7 1zm-2-1zm-7 1zm-1-1zm-2 1zm-20 3zm1-1zm17-1zm10 0zm10 2zm0-1zm143 1zm85 0zm0 0zm2-2zm-3 5zm-7 0zm-74-2zm-5 0zm-1 1zm-146-1zm-10 0zm-6 1zm15 4zm2-2zm148 1zm81 0zm2 1zm2-1zm-2 3zm0 1zm-88-1zm-131 0zm-8-1zm-1 0zm-3 1zm-1 0zm-2-1zm-26 2zm-1-2zm1 4zm20 0zm6-1zm7 2zm3-1zm3-1zm132 1zm1 0zm3 0zm2-1zm76 1zm6-1zm1 1zm0 3zm-84-1zm-132 1zm-9 1zm-4-2zm-2 0zm-11 2zm-6-1zm-3-1zm-8 1zm-1 0zm11 4zm2-2zm3 1zm7 0zm5-1zm0 1zm11 0zm2-1zm1 1zm2 0zm1 1zm131-2zm1 0zm76 2zm6-1zm-1 2zm0 1zm-79 1zm-127 0zm-5 0zm-5-1zm-4 1zm-6-2zm-1 1zm-1 1zm-1-2zm-6 1zm-4 1zm-2 0zm-1 0zm-1 0zm-8-2zm-2 0zm-2 0zm4 4zm1 0zm1 1zm2-2zm13 0zm1 1zm2 0zm4 1zm5-1zm0 0zm10 1zm115-2zm1 2zm3-1zm2 0zm2 0zm2 1zm8 0zm73 0zm2-2zm3 2zm0 0zm-3 3zm-6-1zm-67 0zm-2 0zm-7-1zm-5 1zm0 1zm-3 0zm-105-1zm-2-1zm0 2zm-17 0zm-4-2zm-4 1zm-9 0zm0 1zm-1-1zm-1 1zm-1-2zm-2 2zm-3-2zm-4 2zm-3-2zm0 4zm10 1zm3-2zm5 0zm0 2zm6-1zm2 1zm2 0zm2-2zm5 0zm6 1zm2 1zm0 0zm1-2zm0 1zm1 0zm99 0zm22 0zm7 0zm76 2zm-2 0zm-2 2zm-70 0zm-6-1zm-6 1zm0 0zm0 0zm-2-1zm-5 1zm-5-1zm-4 1zm-4 0zm-82-2zm-3 1zm-1 0zm-5 0zm-3 1zm-6-2zm-5 0zm-6 2zm-1-2zm-4 2zm-7 0zm-7 0zm-4-1zm-3 1zm-1 0zm-5 1zm4 1zm5-1zm3 2zm3-2zm1 1zm1 1zm2-1zm10-1zm0 2zm18-2zm9 0zm0 2zm2-2zm5 0zm2 0zm1 0zm1 1zm2 0zm50 1zm7 0zm9-1zm4 1zm1 0zm6-1zm1 0zm17 0zm7 1zm75-2zm0 0zm-75 5zm-3-2zm0 0zm-10 1zm-10-1zm-5 2zm-8-2zm-5 2zm-3-1zm-2-1zm-6 1zm-4-1zm-1 1zm0-1zm-13 2zm-2 0zm-9 0zm-4-2zm-8 1zm-6 0zm-8-1zm-7 0zm-6 2zm-4-1zm-26 1zm-3-1zm-5-1zm-2 1zm-1-1zm-3 2zm-4 0zm5 2zm6-1zm14 1zm16 1zm4 0zm10 0zm5-1zm7 0zm1 0zm1-1zm5 0zm3 1zm7 0zm0-1zm9 2zm4-2zm3 0zm7 0zm12 0zm7 1zm1 0zm5 0zm11 1zm2-1zm0 1zm5 0zm6 0zm3-1zm1-1zm0 1zm1-1zm2 0zm6 0zm73 0zm-3 4zm-2 1zm-86 0zm-9-2zm-1 2zm-5-2zm-1 2zm-5-1zm-5 1zm-11 0zm-2-2zm-7 1zm-2 0zm-1 1zm-5-2zm-14 0zm-6 2zm-9 0zm-3 0zm-21-1zm-3-1zm-27 2zm-2-1zm-6 1zm-2 1zm3 1zm52 0zm1 1zm1 0zm1 0zm3 0zm1-1zm0 1zm4 0zm1-1zm13-1zm8 0zm4 0zm6 0zm1 1zm4 1zm2 0zm10 0zm20-1zm1 1zm0-1zm4-1zm6 1zm2 1zm6-2zm1 2zm12-2zm69 5zm-74-2zm-4 2zm-1 0zm-5 0zm-2-1zm0 0zm0-1zm-3 2zm-1-2zm-10 0zm0 2zm-4-2zm-1 1zm0 0zm0 0zm-1-1zm-3 0zm-4 0zm-1 1zm-5 0zm-1-1zm-1 0zm-7 2zm-1 0zm0-1zm-1 0zm0-1zm-4 0zm-6 1zm-6-1zm-4 2zm-1-1zm-7-1zm-2 0zm-18 0zm-1 0zm-3 1zm0-1zm0 2zm-6-2zm0 1zm-45 4zm53 0zm0-2zm2 1zm1-1zm2 2zm3 0zm11 0zm5 0zm2-1zm2-1zm2 2zm4-1zm4-1zm3 2zm2 0zm11-1zm1 0zm1 1zm0-1zm8 0zm1 1zm3-1zm16-1zm6 2zm2-2zm5 2zm1 0zm2-2zm2 2zm4-2zm70 0zm0 2zm1-2zm-3 5zm-68-2zm-2 0zm0 1zm-33-1zm-11 0zm-2 1zm-3 1zm0-1zm-2-1zm-2 1zm-2-1zm-4 2zm0 0zm-22-1zm-5-1zm-13 2zm-57 2zm5 0zm46-1zm4 1zm6 0zm2 1zm5-2zm3 0zm5 2zm2 0zm0-1zm0 1zm8 0zm8-1zm1 1zm0-2zm6 0zm3 0zm5 0zm0 1zm0-1zm2 1zm11 1zm3-2zm11 2zm0-2zm1 2zm1-2zm7 1zm8 1zm72-1zm0 4zm-67-1zm-8 1zm-3-2zm-4 2zm-14-1zm-15 0zm-7 0zm-7 1zm-1-1zm-6 0zm-5-1zm-1 0zm-8 2zm-7-2zm0 2zm-2-1zm-1 1zm-1 0zm-3-2zm-5 2zm-2-2zm0 2zm-2 0zm-2 0zm-52 2zm0-1zm51 0zm8 1zm0 1zm2-2zm0 0zm2 2zm1 0zm1 0zm2 0zm2-1zm2-1zm7 2zm1-2zm3 1zm1 1zm0 0zm4-1zm6 1zm4-2zm35 2zm3 0zm9 0zm16 0zm60-1zm2 0zm0-1zm-2 3zm0 0zm-2 2zm-58-2zm-8 1zm-11-1zm-34 0zm-5 1zm-1 1zm-3-2zm-6 0zm-10 2zm-6 0zm-14 0zm-3-1zm-2 0zm0-1zm-2 1zm-3 1zm-3-1zm-44 2zm49 1zm3 0zm0-1zm2 2zm3-2zm6 2zm1-1zm9 0zm5 0zm10-1zm0 0zm8 1zm116-1zm1 1zm0-1zm-3 5zm0-1zm-124 0zm-20-1zm-19 0zm-44 2zm-2-1zm-1-1zm43 5zm3-1zm0-1zm4 2zm7-1zm3-1zm1 0zm91 2zm14-2zm0 5zm-7-2zm-103 2zm-15-2zm-36 2zm40 2zm117 1zm39 0zm5 0zm-2 1zm0 1zm-2 1zm-18-1zm-6 1zm-3 0zm-2-2zm-12 0zm-101 2zm-4-2zm-3 0zm-19 0zm-22 2zm-5-2zm1 4zm7 0zm15 0zm13 1zm4-1zm2 1zm5-1zm124-1zm18 2zm3-2zm0 0zm1 2zm-5 3zm-1-1zm-10 1zm-8 0zm-5-1zm-2-1zm-1 2zm-3 0zm-111 0zm-12-1zm-27 0zm2 4zm1-2zm22 1zm5-1zm118 1zm6 1zm15 0zm0-2zm3 0zm0 0zm3 2zm1 0zm1 2zm-1-1zm0 1zm-6-1zm-1 0zm-1 2zm-5-2zm-3 2zm-2-1zm-8 0zm-3-1zm-4 2zm-113 0zm-4 0zm-1-2zm-5 1zm0 0zm-2-1zm-2 2zm-2-2zm0 0zm-2 2zm2 3zm3-1zm7 0zm3 0zm8-1zm111 2zm21-1zm2-1zm2 1zm2 0zm0-1zm-2 4zm-4 0zm0 0zm-1-1zm-1 0zm-1 0zm0 1zm-4-1zm-1 1zm-5-1zm-130 0zm-5 2zm-1-2zm-2 4zm4 1zm10 0zm126-2zm1 1zm1 1zm3-2zm2 2zm-2 1zm-2 0zm-3 1zm-2-1zm-3 0zm-3 2zm0-2zm-4 2zm-104-1zm-3-1zm-3 1zm-2-1zm-10 0zm0 3zm2 2zm6 0zm0-2zm119 2zm2-2zm-11 5zm-106 3zm0-1zm13 1zm96 2zm-98 0zm-3 0zm-4-1zm-3 0zm6 4zm2 0zm27 1zm62 2zm-3 1zm0-1zm-3 1zm-1 0zm-1 0zm-35-1zm-32 0zm-4 0zm-2-1zm-2 2zm0 0zm1 2zm2-1zm4 2zm1 0zm19-1zm45 3zm-11 0zm-2-1zm-5 0zm-2 2zm-2 0zm-12 0zm-10-2zm-2 1zm-5 0zm0 1zm0 0zm-2 0zm-2-1zm-4-1zm-4 0zm19 3zm2 0zm0 0zm9 0zm4 0zm12 0zm5 0z" stroke="#24898d" stroke-width="3.4" stroke-linecap="round"/><path transform="scale(0.5)" d="M301 772zm-1-1zm-2 0zm-6 0zm-2 1zm-3 0zm0-1zm-8 4zm1 0zm3 0zm30 3zm-36 0zm-2 1zm41 2zm0-1zm1 1zm3 2zm-1 1zm-48-1zm-2 2zm-2 3zm1-1zm0-1zm55 0zm-60 5zm-1-1zm-5 3zm68 1zm-68 2zm3 3zm69 1zm0 1zm-1 0zm-70 3zm5 5zm-1-1zm-4 1zm0-1zm-1-1zm2 5zm0 0zm0-2zm1 0zm5 0zm1 2zm67-2zm1 3zm-1 0zm-68 1zm-2 1zm-3 0zm-1 0zm6 2zm72 0zm-2 4zm-66-1zm0 1zm-1-1zm-2-1zm-6 5zm3 0zm2-1zm2 1zm2 0zm3-1zm63 0zm1 0zm0 2zm-53 2zm-14-2zm-7 2zm1 1zm10 0zm64 4zm-50-1zm-9 0zm-7 1zm-1-1zm-1 2zm-1-2zm-2 0zm-1 2zm-2-1zm-1 3zm0 0zm5-1zm7 1zm1 1zm3 0zm2-2zm7 1zm52 2zm-48 1zm-4-1zm-2 1zm-4 0zm-2 1zm-1-2zm-1 0zm-3 2zm-1-1zm-13-1zm4 3zm13 2zm4-2zm1 0zm1 0zm0 0zm3 0zm53 0zm1 3zm-50 2zm-3 0zm-12-2zm-1 2zm-3-1zm-2 1zm-1-2zm-3 2zm0-2zm-2 2zm0-1zm-182 1zm-5-2zm-4 5zm191 0zm1-2zm1 1zm18 1zm56-1zm0 2zm-55 1zm-4 0zm-1-1zm-4 1zm-1-1zm-14 0zm-174 2zm-2 0zm-5-1zm-1 0zm-9 0zm0 3zm1-1zm3 2zm1-1zm0-1zm0 0zm1 1zm2 0zm10-1zm1 2zm171 0zm3 0zm6-2zm2 0zm7 2zm3-2zm59 0zm0 2zm-65 1zm-1 0zm-1 2zm-1-2zm0 0zm-1 0zm-1 1zm-5-1zm0 1zm-181-1zm-2 2zm-3 0zm-2 0zm-4-2zm-2 3zm4 1zm2 1zm6-1zm5 0zm0 0zm4 1zm166 0zm5-1zm3 0zm3-1zm3 2zm6-2zm62 5zm-73-1zm-1-1zm-3 0zm-1 2zm-177 0zm0-2zm-4 1zm0 1zm-7 0zm9 2zm7 1zm2-1zm1 0zm1 0zm1 0zm166 0zm1 0zm5 1zm12-1zm58 3zm-1 0zm-67 1zm-3-2zm-1 2zm-2-1zm-3-1zm-2 0zm0 0zm-2 0zm-162 0zm-3 0zm-6 1zm-1-1zm-2 2zm0-1zm-10 3zm2-1zm1 2zm1 0zm1-2zm3 1zm4-1zm4 0zm2 0zm1 0zm0 2zm1 0zm1 0zm1 0zm4 0zm238-1zm1-1zm0 5zm-1 0zm-1 0zm-1 0zm-73-1zm-1 0zm-2-1zm-4 2zm-149-2zm-1 2zm-7-2zm-2 1zm-5-1zm-5 2zm-1 0zm0-1zm-3-1zm-6 1zm-1-1zm-1 1zm2 3zm2-1zm0 1zm5 0zm0 1zm4-1zm0 1zm1-1zm1 0zm6-1zm1 0zm3 2zm4-2zm1 2zm151-1zm1-1zm1 1zm0-1zm2 2zm1-2zm2 1zm1-1zm68 0zm4 0zm-5 3zm-2 2zm-63-2zm-1 0zm0 2zm-5-1zm-2 0zm0 0zm0 0zm-160-1zm-5 1zm-2-1zm-2 1zm-5 0zm-6-1zm-2 2zm0 2zm2-1zm10 1zm0-1zm0 2zm15-2zm154 1zm2-1zm1 2zm5-2zm57 0zm7 1zm1 0zm2 0zm5 0zm-1 3zm-7-1zm-2 0zm0 1zm-63-1zm0 1zm-1-1zm-6 0zm-2 1zm-3 1zm-152-1zm-12 0zm-9 0zm16 3zm7 0zm0 0zm4-1zm146 1zm6-1zm69 0zm1 2zm2 1zm-4 1zm-64 0zm0 1zm-2-2zm0 1zm-2 0zm-4-1zm-1 2zm0 0zm0 0zm-158-2zm-8 1zm0 0zm0-1zm-3 0zm-2 1zm0 2zm2 1zm3 0zm1-1zm4 0zm1 0zm7 1zm145 1zm1-1zm5-1zm0 1zm1-1zm1 1zm2-1zm0 2zm5-2zm1 1zm1-1zm0 0zm0 1zm58 0zm0 0zm4 0zm1 0zm8 2zm-2 1zm-1 1zm-7-1zm-1-1zm-3 1zm-57-1zm-3 0zm-1 1zm0 1zm-1-1zm-1 0zm-135 1zm-18-1zm-7 1zm-2 0zm-2-1zm-6 2zm20 2zm5-2zm7 0zm124 0zm13 1zm9 1zm50-1zm4 0zm1 1zm3-2zm8 1zm3 1zm-5 2zm0 0zm-7-1zm-2 1zm0 0zm-55 1zm-9-2zm-3 1zm-5 0zm-8 0zm-115 1zm-9-2zm-5 1zm-15 1zm-7 0zm7 2zm9 0zm1 0zm0 0zm2 0zm10 1zm1 0zm2 0zm5-2zm129 0zm9 2zm56 0zm1 0zm3-1zm2-1zm2 0zm3 2zm1-2zm0 1zm0 2zm-1 2zm-8-2zm-2 0zm-55 2zm-8 0zm0 0zm-9-1zm-121 1zm-15 0zm-2 0zm0 0zm0-2zm-11 0zm-6 1zm7 3zm0-1zm1 2zm1 0zm1 0zm3-2zm14 2zm103-2zm38 1zm3 1zm63 3zm-60-1zm-1 0zm-7-1zm0 2zm-37-1zm-82 1zm-8-2zm-3 0zm-1 1zm-6 0zm-2 0zm-1-1zm-1 0zm0 0zm-2 1zm-1 0zm-2 1zm-5-2zm-7 2zm-7 1zm1 0zm1 0zm2 2zm0-1zm3-1zm2 2zm1 0zm4-2zm0 2zm2 0zm1-2zm3 2zm12 0zm4-1zm1 1zm14-2zm82 1zm0-1zm19 2zm8-2zm5 1zm1-1zm3 1zm1-1zm0 1zm3-1zm53 1zm3 0zm0 1zm0-1zm1 1zm2-1zm3 0zm-3 3zm-7 0zm-3-1zm-53 0zm0 1zm-1 0zm-3 1zm-2 0zm-4-2zm-6 2zm-14 0zm-21 0zm-75-1zm-6 0zm-1 0zm0 0zm-3-1zm-7 1zm-12 0zm-3-1zm-2 2zm-1 0zm0-2zm-2 0zm-8 0zm11 5zm3-2zm7 0zm0 1zm5 1zm9-2zm1 1zm1-1zm4 1zm2-1zm0 1zm1 0zm2 1zm1 0zm4-1zm46-1zm2 1zm24 1zm3-2zm1 2zm10-1zm6-1zm5 0zm3 1zm11 0zm0 1zm1-1zm2 0zm2-1zm1 1zm1-1zm2 0zm55 2zm3-2zm1 1zm1-1zm1 1zm1 0zm1 0zm-4 4zm-60 0zm-2 0zm-2 0zm-32-1zm-4 1zm-16-1zm-68 0zm0 1zm-1-2zm-12 2zm-5-2zm-1 1zm-3-1zm-8 2zm-13 3zm9 0zm30 0zm3-1zm4 1zm52-1zm14 0zm1 1zm2-1zm19 0zm9 1zm14-2zm9 0zm2 0zm2 2zm4-1zm48 1zm5-2zm1 4zm-2 0zm-53-1zm-6 2zm-4 0zm-6-2zm-5 1zm-1-1zm-1 1zm0 0zm-1 1zm0-2zm-2 1zm-2 1zm0-1zm-9 1zm-7-1zm-2 0zm0 0zm-8 1zm-13-2zm-10 1zm-5-1zm-38 0zm-4 2zm-1 0zm0-2zm-9 1zm-1 0zm-3 0zm0-1zm-1 1zm-11 1zm-8-1zm-1-1zm-7 0zm-2 5zm26 0zm5-2zm3 2zm6-1zm3 0zm5 0zm39 1zm21 0zm0-2zm5 0zm1 1zm8 1zm6 0zm2 0zm1 0zm10-2zm4 0zm12 2zm6-1zm0 1zm1 0zm0-1zm3 0zm6-1zm4 2zm42 1zm-56 1zm-8 1zm-1-2zm-4 0zm-2 2zm-6-2zm-1 2zm-1-1zm-1 1zm0-2zm-6 2zm-2-2zm-2 1zm-8 0zm0 0zm-2-1zm0 0zm0 1zm-7-1zm-6 0zm-7 2zm-2-2zm-6 0zm-6 2zm-35-1zm-4 0zm-2-1zm-13 1zm-29 1zm-1 2zm4-1zm1 2zm27-1zm7 1zm1-1zm2 1zm0-2zm4 2zm1-1zm2 1zm5-2zm9 0zm9 2zm1-2zm1 2zm7 0zm3-2zm9 0zm7 0zm1 0zm1 1zm0-1zm6 2zm0-1zm4 1zm2 0zm2-1zm4-1zm11 1zm0 1zm1-1zm0-1zm2 1zm1 0zm10 1zm3-1zm0 0zm5 1zm3-2zm3 1zm3-1zm0 0zm2 2zm0-1zm1 1zm3 0zm2-2zm47 1zm-43 4zm-3 0zm-7-1zm-3 0zm0-1zm-1 2zm-2-2zm-1 0zm0 2zm-1 0zm-6 0zm-1-2zm0 2zm-4-2zm-5 1zm-3 0zm-1 1zm-6-2zm-4 1zm0 0zm-3 1zm-4-1zm-1 1zm-2-2zm-1 2zm0-1zm-1 1zm-6-2zm-2 0zm-10 0zm-1 1zm-12-1zm-2 0zm-3 1zm-8-1zm-2 2zm-1 0zm-6-1zm-9 1zm-7 0zm-1 0zm0-2zm-1 2zm0-1zm-1-1zm-12 1zm-24 0zm-4 0zm33 2zm2 0zm4 1zm7 1zm17-1zm2 1zm1 0zm1-1zm11 1zm4-1zm2-1zm1 0zm1 2zm2 0zm1-2zm8 0zm0 0zm2 2zm3-1zm0 1zm1-1zm6 1zm2 0zm2-2zm0 1zm8 0zm3 1zm7-1zm6-1zm5 2zm7-2zm12 0zm0 2zm15-2zm6 2zm4 0zm18-1zm6 1zm1-2zm-27 4zm-9 1zm-3 0zm-2-2zm-2 0zm0 1zm-3 1zm-2-1zm-4 0zm-2 0zm-2-1zm-12 2zm-3-2zm-1 1zm-2 0zm0-1zm-6 1zm0 1zm-3 0zm-15-2zm-6 0zm-7 1zm-2 1zm-2 0zm0-2zm-1 1zm-1 1zm-1 0zm-2 0zm0 0zm-1-2zm0 2zm0-1zm-3-1zm0 0zm-3 1zm-1 1zm-3-2zm-4 2zm-1-1zm-4-1zm-6 1zm-2-1zm0 0zm-1 2zm-9-2zm-8 1zm-40-1zm-1 2zm1 3zm1-1zm26 0zm2 0zm2 0zm0 1zm4 0zm9-1zm9-1zm16 1zm0 0zm0-1zm0 0zm3 2zm2-2zm3 1zm4 1zm0-2zm0 0zm2 0zm1 1zm3 0zm2 1zm2 0zm1 0zm4 0zm2-1zm2 0zm8 0zm0-1zm17 2zm11 0zm4-2zm4 0zm4 0zm6 2zm2-2zm4 0zm1 1zm3-1zm3 1zm1-1zm3 0zm6 1zm0 1zm1 0zm19-2zm3 3zm-1 2zm0-2zm-2 1zm-1 0zm-4-1zm-11 1zm-16-1zm0 2zm-1-2zm-4 1zm-1 1zm-1-2zm-2 2zm0-1zm-1 0zm-7 1zm-1-2zm0 0zm-2 0zm-6 0zm0 1zm0 1zm-18-1zm-3 0zm-2 0zm-12 0zm-1-1zm-7 0zm-1 1zm-5 0zm0 1zm-2-2zm-5 0zm-5 0zm-3 0zm0 0zm-1 0zm-1 2zm-1-2zm-3 0zm-3 1zm-5-1zm-4 0zm-1 2zm-2-2zm-2 0zm0 1zm-6 1zm-4-2zm-2 1zm0 0zm-2 1zm-1 0zm-12-1zm-6-1zm-14 2zm-1 2zm5-1zm11 2zm2-2zm4 1zm4 1zm1 0zm1-1zm1 0zm3 0zm1 1zm1-1zm5 0zm0 1zm5 0zm3-2zm1 2zm4-1zm0 0zm5-1zm1 0zm0 0zm4 0zm3 1zm0 0zm22 0zm2 1zm1-1zm1-1zm3 0zm7 1zm1 1zm37 0zm1-1zm1 1zm1-1zm1 1zm0 0zm2 0zm0 0zm1 0zm2-2zm6 1zm3 0zm1-1zm3 0zm1 1zm0-1zm2 1zm3-1zm6 2zm1-2zm16 0zm1 0zm2 0zm-5 5zm-2-2zm-1 0zm-1 0zm-2 2zm-1-1zm0-1zm-2 1zm0-1zm-1 0zm0 2zm-2-1zm-1 0zm-3 1zm-1-1zm-7 0zm-2 1zm-1-2zm0 0zm-1 1zm-1 1zm0-2zm-5 0zm-3 2zm-4 0zm-3-1zm-2 1zm0-1zm0 1zm-7-1zm-43 1zm-2-1zm-11-1zm-7 0zm-13 2zm-1 0zm-2-1zm0 0zm-1-1zm-2 2zm-2 0zm-3-2zm-1 0zm-3 2zm-2 0zm-6-1zm-5-1zm-4 1zm-2-1zm-1 0zm-3 1zm-1 1zm-5-1zm0 1zm-12 1zm4 2zm9-1zm7 0zm3-1zm3 1zm1 1zm10-2zm2 0zm0 0zm6 2zm12-2zm84 2zm1-2zm7 0zm3 1zm2 1zm3 0zm4 0zm1-1zm3 1zm3-2zm6 2zm7-2zm1 2zm-10 2zm-1 1zm-13-2zm-2 0zm-3 2zm-1 0zm0-1zm-1 0zm-14 0zm0-1zm-6 1zm-80 0zm-7-1zm0 0zm0 1zm-2 1zm0-1zm-2 1zm-4 0zm-1-1zm-11-1zm-2 1zm-5 0zm-3 0zm-12 0zm4 2zm4 2zm1-1zm10 0zm1-1zm3 0zm3 1zm6-1zm9 0zm5 0zm0 0zm5 2zm0-2zm81 0zm7 2zm3 0zm6 0zm14 0zm2-2zm6 5zm-5 0zm-4-2zm-2 2zm-4-2zm-5 1zm-4-1zm-3 1zm-2 1zm-3-1zm-3 1zm-6-2zm-82 1zm-3-1zm-3 2zm-1 0zm-1 0zm-2-2zm-5 2zm-1-1zm-3 1zm-4 0zm-3 0zm-3-1zm-1 0zm-3 0zm-3 2zm4 0zm1 0zm0 0zm4 0zm1 1zm1 1zm2 0zm6-2zm3 0zm3 0zm0 1zm1 0zm1-1zm1 2zm1-2zm5 1zm2-1zm4 2zm24 0zm69-1zm5-1zm3 2zm6-2zm0 0zm2 2zm1-1zm-2 3zm-4 1zm-2-1zm0 0zm-3 0zm-7 1zm-13-1zm-92 1zm0 0zm-10 0zm-3-2zm-3 2zm-2-2zm-2 0zm6 5zm11 0zm6-2zm0 1zm14-1zm4 0zm22 0zm43 2zm7-2zm3 1zm11 1zm5 0zm7 2zm-8-1zm-4 2zm-3-1zm-2-1zm0 1zm-2-1zm-87 2zm-7 0zm-6-2zm-4 1zm-5 1zm-1 0zm4 1zm0 1zm6 1zm0 0zm1 0zm3 0zm0-2zm3 1zm1 0zm30 1zm59-1zm2 0zm0 1zm2-1zm6-1zm3 2zm3 1zm-1 0zm-10 0zm-2 2zm-1-1zm-85 0zm-1-1zm-2 2zm-4 0zm-4-2zm-1 0zm-1 1zm-1 1zm-4 2zm8-1zm3 1zm8 1zm29 0zm8-1zm0-1zm42 2zm1 0zm5-2zm0 2zm7-2zm2 3zm-6 0zm-4 1zm-3 0zm-33 0zm-14 1zm-10 0zm-8-2zm-3 1zm-8-1zm-1 0zm0 1zm-3 1zm-3-1zm-1 0zm-6-1zm-3 0zm-3 1zm5 2zm5 1zm6 0zm2-1zm5 1zm5 0zm0-1zm10 2zm6-1zm3-1zm11 2zm4-2zm3 0zm0 1zm24 0zm3 1zm4 0zm-1 1zm-12 0zm-1 1zm-2 1zm-6 0zm-7-2zm-3 1zm-13 0zm-1 1zm-3 0zm-4-2zm-8 2zm-4-1zm-6 1zm-4-2zm-2 1zm-2 0zm-1-1zm-6 1zm10 2zm2 0zm11 0zm4 0zm0 1zm2-1zm0 2zm9-1zm4 1zm0-1zm2 1zm4-1zm8 1zm1-2zm1 0zm4 0zm6 3zm-10 0zm-8 2zm-3-2zm0 1zm-7 1zm-1-2zm-4 2zm-6-2zm-1 2zm-4-2z" stroke="#21988a" stroke-width="3.4" stroke-linecap="round"/><path transform="scale(0.5)" d="M297 771zm-9 2zm-6 2zm29 1zm2 2zm-2-1zm-34 1zm-1 1zm-3 2zm42 1zm-42 1zm-4 5zm55 2zm-1 1zm-55-2zm-6 5zm1-2zm61 4zm-56 0zm-2 1zm-6 0zm3 3zm64 2zm-1-1zm0 0zm-64 4zm2 0zm4 0zm57-1zm-3 5zm-49-2zm-1 2zm-1-2zm-2 1zm-5 1zm-5 0zm7 2zm6 1zm54 0zm1-1zm0-1zm1 1zm4 0zm0 4zm-2 0zm0-2zm0 1zm-1-1zm0 1zm-54 1zm-3-1zm-1 0zm-4-1zm2 3zm1 0zm3 1zm52 0zm7 0zm1 2zm-63 1zm-2 3zm14 0zm50-1zm1 0zm1 2zm-48 2zm-5 1zm-4-1zm-9 0zm11 3zm4-1zm3 2zm0-1zm9 1zm40-2zm-42 4zm-2 1zm0-2zm-6 2zm-1-1zm2 3zm4-1zm6 2zm39-1zm2 3zm-2-1zm-42 1zm-1-1zm0 2zm-2-2zm-6 0zm-5 3zm8 0zm1 0zm0 2zm3-2zm0 1zm2 1zm1-2zm42 1zm1-1zm-43 4zm-2 0zm0 1zm-19-2zm2 4zm9 1zm1-2zm0 0zm3 2zm1 0zm6 0zm2-1zm40 4zm-37-1zm-7-1zm-3 0zm0 0zm-7 0zm-209 3zm203 0zm3 1zm0 1zm3-1zm0 1zm2-2zm7 2zm2 0zm43-1zm0 2zm-48 0zm0 0zm-1 2zm-4-1zm-4 1zm-2 0zm-5-2zm-4 2zm-3-2zm-178 2zm190 1zm6 0zm2 1zm44-1zm6 1zm1 0zm-44 2zm-5 2zm-3-2zm-4 0zm-3 1zm0-1zm-3 1zm-1 0zm0 1zm-191 0zm-10 2zm3 0zm13 0zm186 1zm1 0zm2-1zm5-1zm51 0zm1 1zm2 0zm-3 4zm-2-2zm-1 1zm-1 1zm0-2zm-6 0zm-45 2zm-2-2zm-1 1zm-2-1zm-1 1zm-4 1zm-2-2zm-180 2zm-12-1zm-1 0zm-1 1zm-1 2zm3 0zm3 1zm5-1zm6-1zm8 1zm167 1zm7-2zm21 0zm29 1zm6 1zm3 0zm1 0zm4-1zm-3 4zm-7 0zm-1-2zm-1 2zm-2-2zm0 2zm-4-1zm-9-1zm-6 2zm-3-1zm-5 0zm-14 1zm-4 0zm-6 0zm-2 0zm0-2zm-8 2zm-171-1zm-8 1zm-3-2zm-1 2zm-4 0zm2 2zm4-1zm10 0zm176 1zm6 0zm48 0zm0-1zm7 1zm7 0zm-8 2zm-2 2zm-2 0zm-1 0zm-6-1zm-2-1zm-42 0zm-2 0zm-4 2zm-181-1zm-4 0zm-5 0zm7 2zm1 2zm173-2zm4 2zm2-2zm4 2zm0-2zm42 2zm4-2zm4 1zm2 0zm2 1zm5-2zm6 2zm-15 1zm-2 2zm-1-1zm-4-1zm0 2zm-31-2zm-11 0zm0 1zm-1 1zm0-1zm0 0zm-1-1zm-1 1zm-1 0zm-3 4zm6 0zm3 0zm3-2zm38 1zm1-1zm2 0zm0 2zm0-2zm1 1zm3 0zm3 0zm1 0zm0 2zm-7 2zm-1-1zm-3 1zm-4-2zm-34 1zm-2-1zm-1 0zm-4 2zm-7 1zm6 1zm0-1zm1 0zm0 1zm0 0zm0-1zm1 2zm1-1zm2-1zm2 2zm2-2zm1 0zm31 0zm4 0zm4 2zm1 0zm0-2zm6 0zm5 3zm-11 1zm0-1zm-6 1zm-43-1zm-2 1zm-3 0zm-3 0zm2 3zm6 0zm6 0zm0-1zm34 0zm2 2zm4-2zm1 0zm0 1zm1 0zm2 1zm4-1zm1 0zm-1 4zm0 0zm-5-1zm0-1zm-1 2zm0-1zm-5 0zm-1 0zm-35 0zm-3-1zm-2 1zm-5 1zm1 1zm3 0zm1 1zm4 0zm36-1zm1 2zm8-2zm2 1zm-4 2zm-2 0zm-1 1zm-44-1zm-1 2zm-3-2zm-2 0zm-7 5zm13-1zm1-1zm40 1zm1-1zm4 5zm-1-1zm0 0zm-43 0zm-1 1zm-5-2zm-4 0zm-146 3zm10 2zm141-2zm9 0zm32 0zm4 2zm3-1zm3-1zm1 0zm1 4zm-2-1zm-2 1zm-2-1zm0 1zm-3-1zm-42 2zm-1-1zm-1 1zm-150-2zm-7 1zm1 3zm1-1zm2 0zm1 1zm5 0zm0 1zm5 0zm11 0zm129-1zm1-1zm4 1zm1-1zm2 2zm1-2zm1 0zm3 1zm37-1zm2 2zm0 0zm2 0zm1-1zm4 4zm-6 0zm-3-1zm-2-1zm-1 0zm-43 0zm0 0zm0 0zm-2 1zm-130-1zm-8 0zm0 2zm-5-1zm0-1zm-24 4zm10 0zm11-1zm0 1zm14 1zm131 0zm3-1zm0 0zm1 0zm2 1zm1 0zm39 0zm6 2zm-3 0zm-9 0zm-24 0zm-9-1zm-2 0zm0 1zm-134 0zm-3 1zm-3 0zm-2 0zm-2-1zm-1-1zm-1 1zm-1-1zm-5 0zm-8 1zm-2 1zm-5-1zm-3 3zm3 0zm3-1zm3 0zm2 2zm1 0zm2-2zm2 0zm2 1zm1 0zm1 1zm1-1zm2-1zm7 0zm3 0zm5 1zm129 0zm4-1zm1 0zm3 1zm1 0zm33-1zm2 0zm7 2zm-36 2zm-2 1zm-3 0zm-6-1zm-129 1zm-3-1zm0-1zm-2 0zm-6 1zm-1 0zm-1 0zm-4 0zm-1 1zm-6-2zm-6 2zm-2 0zm-1-2zm0 2zm-1-1zm-1 1zm-4-2zm-2 3zm2 2zm1-1zm4 0zm1 0zm1-1zm7 2zm0 0zm1-1zm10 0zm1 0zm2 1zm0-2zm1 1zm6 0zm7-1zm73 2zm56 0zm4-1zm2 0zm0 1zm5 0zm21 0zm5-2zm0 0zm1 2zm0 0zm0-2zm0 1zm1 0zm1 0zm-2 2zm-2 0zm-2 0zm-7 1zm-13 0zm-2-1zm-1 1zm-2 1zm-2 0zm0 0zm-3 0zm-2-1zm-36-1zm-1 2zm-6-1zm-100-1zm-1 2zm-16 0zm-1 0zm-8-1zm-1 4zm1 0zm3-2zm0 1zm3-1zm1 2zm9-2zm3 0zm2 1zm0-1zm8 1zm2 0zm79 1zm5-2zm9 0zm1 2zm8-2zm7 2zm6-1zm13 1zm1 0zm5-2zm4 2zm4-1zm0-1zm4 1zm15 0zm6-1zm0 3zm-1 0zm-2 0zm-2 0zm-1 1zm0 0zm-12-1zm-1 0zm-2 2zm-1-2zm-1 0zm-10 2zm-27-2zm-5 2zm-4 0zm-13 0zm-2-1zm-1 1zm-2-2zm-1 1zm-6 0zm-12-1zm-4 0zm-17 1zm-39 0zm-2 0zm-4 0zm-1-1zm-4 1zm-4 0zm0-1zm-5 1zm-7 1zm0-2zm-4 0zm13 5zm0-1zm0 1zm1 0zm2-1zm1 1zm67-2zm7 1zm6-1zm9 0zm1 2zm1 0zm2-2zm2 1zm0-1zm4 1zm1 0zm2 1zm2 0zm19-1zm2 0zm17-1zm16 2zm1 0zm4-2zm5 1zm6-1zm9 0zm-6 3zm-2 2zm-5 0zm-9-1zm-4 0zm-41 1zm-2 0zm-1-1zm-5 0zm-4 1zm-2 0zm-1-2zm-6 2zm0-1zm-4-1zm0 1zm-1 0zm-2 1zm-76-2zm-9 1zm-3 0zm-4-1zm-1 1zm-2 0zm-1 1zm-2-2zm-1 3zm3 1zm2-1zm2 2zm12-2zm35 1zm6 0zm14-1zm1 1zm7-1zm4 1zm0 0zm3 1zm2-1zm3-1zm1 2zm2-1zm3 0zm3 1zm2-2zm11 0zm7 2zm2 0zm39 0zm21-1zm2-1zm-15 3zm-33 1zm-7 0zm0 1zm-1 0zm-4-1zm-13-1zm-9 0zm-2 1zm-2-1zm-3 1zm-4 1zm-1 0zm-5-1zm-4-1zm-3 1zm-2 0zm-12-1zm-1 2zm-5-2zm-4 2zm-6 0zm-35-2zm-6 2zm-1 0zm-4-2zm-2 0zm48 4zm0 1zm11-1zm1 1zm3 0zm2-2zm2 1zm6 1zm5-2zm1 0zm1 1zm0 0zm0-1zm8 1zm0-1zm1 2zm5-1zm1-1zm2 1zm0 1zm1-1zm26 1zm1 0zm1-1zm2 0zm0 0zm1-1zm3 0zm4 1zm6 1zm-10 3zm-2 0zm-1 0zm-2-2zm-21 0zm-3 2zm-2-2zm-1 1zm-12-1zm-3 0zm0 2zm-4 0zm-1-2zm-7 2zm-1-1zm-5-1zm-6 0zm-2 0zm-2 1zm-7 1zm-1 0zm-4 0zm-22-1zm-5 1zm-15-2zm42 5zm12-2zm9 2zm4-2zm2 1zm1 0zm0 0zm4-1zm2 0zm5 0zm1 1zm1 0zm3 0zm4 0zm0 0zm1 0zm3 1zm9 0zm23-1zm1 1zm2-1zm17-1zm-5 3zm-6 1zm-1-1zm-1 0zm0 1zm-2 0zm-6-1zm-4 1zm-32-1zm0 2zm0 0zm-5-2zm-2 1zm-2 1zm-6 0zm-3-2zm0 1zm-5 0zm-2 1zm-9-2zm0 2zm-1 0zm-3 0zm0-2zm-3 0zm-3 1zm-3-1zm-30 1zm37 4zm9 0zm0-2zm1 0zm11 1zm1-1zm1 0zm3 2zm1-2zm4 0zm1 2zm1-1zm2-1zm0 0zm6 0zm14 2zm5-1zm0 0zm17 0zm4 0zm1 1zm2 0zm3 0zm1-1zm0 4zm-4 0zm-2 0zm-3-1zm-6 0zm-26 0zm-7 1zm-11-2zm-20 1zm-7 0zm-1 0zm-2 1zm-1-2zm0 1zm-3 1zm-4 3zm8-2zm3 0zm0 2zm2-1zm2 1zm1 0zm6 0zm1 0zm4-2zm1 1zm1 0zm3-1zm1 1zm2 0zm1 1zm7-2zm1 2zm2-1zm6 1zm7-1zm6 1zm7-1zm16 0zm2 0zm2 1zm1 0zm4 0zm-4 3zm-2 0zm-5 0zm0-2zm-4 2zm-19-1zm-13 0zm-5 0zm-4-1zm0 0zm-2 2zm-2-1zm-3 1zm-8-1zm-1 1zm0 0zm-1-2zm-3 2zm-4-2zm-14 5zm7 0zm1-1zm1-1zm1 0zm3 0zm4 0zm1 2zm2-2zm6 0zm4 0zm4 2zm2 0zm1-2zm5 0zm5 2zm1-2zm5 0zm3 1zm0 0zm3 1zm3 0zm10-1zm1 1zm5 0zm1-1zm1-1zm5 1zm1 0zm3 0zm-9 4zm0 0zm-4-1zm-1 0zm-4 0zm-2 0zm-1 0zm-10 1zm-7-1zm-8 0zm-1 0zm0 1zm-3-1zm-5-1zm-1 0zm-1 0zm-6 1zm-1 1zm-1 0zm0 0zm0-2zm0 0zm-5 1zm-2 1zm-1-1zm-4-1zm-3 1zm-1 1zm-1-1zm-3 1zm4 1zm1 0zm4 0zm1 0zm3 0zm7 2zm2 0zm1 0zm0-2zm1 2zm6 0zm2-1zm1 0zm1-1zm1 2zm15-1zm6 1zm3-2zm2 1zm0 1zm0 0zm9 0zm0 0zm1-1zm2-1zm0 1zm3 1zm3-1zm5 0zm0 2zm-10 0zm-8 0zm-1 0zm-9 1zm-1-1zm-1 1zm-4-1zm-5 0zm-5 0zm-2 0zm-4 0zm-7 2zm-8-1zm-3-1zm-2 0zm-11 0zm-1 2zm6 1zm4 0zm1 2zm2-1zm1 1zm0 0zm2 0zm6-1zm3-1zm8 1zm3-1zm11 0zm3 0zm1 0zm3 0zm3 1zm2-1zm2 2zm4 0zm3-2zm2 1zm5-1zm1 0zm-12 3zm-10 2zm-1 0zm-12-2zm-2 1zm-4 1zm-3-1zm-5 0zm-17 0zm35 2zm8 0zm1 1zm4 0zm3 0zm0 0zm6 0zm3-1zm-13 3zm-1 0z" stroke="#22a784" stroke-width="3.4" stroke-linecap="round"/><path transform="scale(0.5)" d="M298 773zm-7 0zm-8 3zm6-2zm1 1zm1-1zm2 0zm0 2zm1-1zm1-1zm9 2zm0-1zm2 1zm4 3zm-2 0zm-1-2zm-26 1zm-5 1zm38 3zm-41 1zm-3 5zm3-2zm48 2zm-44 3zm-8-2zm-4 3zm0 0zm5 1zm54 3zm0 1zm-2 0zm-49-2zm-4 1zm-3 1zm2 2zm1 0zm4-1zm49 1zm5 4zm-4 0zm-1 0zm-5 0zm-45-2zm0 0zm0 0zm-2 5zm50-2zm2 0zm1 3zm-3 2zm-46 0zm-1 2zm43 1zm6-2zm1 0zm1 2zm3 0zm-1 3zm0-1zm-3 0zm-1-1zm-3 0zm-36 0zm-5 0zm-4 4zm0-1zm0 2zm4 0zm1-2zm0 1zm42 1zm0-1zm7 1zm-1 2zm-3-1zm0 0zm-2 1zm0-1zm-2 0zm-2 0zm-1 2zm-38 0zm-1-1zm0 0zm4 3zm0-1zm14 1zm22-1zm2 0zm5 0zm1 0zm1 1zm1-1zm2 0zm1 5zm-3 0zm-1 0zm-3-1zm-1 0zm-4-1zm-8 2zm-5 0zm-7-2zm-8 2zm-1 0zm-1 0zm0-1zm-6 2zm1 0zm3 1zm0-1zm1 2zm10-2zm25 1zm1-1zm4 2zm4 0zm0 0zm2 2zm-4-1zm-2 0zm-3 0zm-26 1zm-2 1zm0-1zm-1 3zm1 0zm3 1zm0-2zm3 1zm28-1zm3 0zm0 0zm2 0zm-6 5zm-22-2zm-3 2zm-5-1zm0 1zm-13 1zm8 1zm1 0zm1-1zm35 0zm3 2zm1 2zm-35 1zm0-1zm-2 1zm-3 0zm-3-1zm-1 2zm1 1zm3 1zm0-1zm0 0zm1 0zm0 0zm3-1zm0 0zm2 0zm2 1zm0-1zm28 1zm3 0zm0-1zm0 2zm1-2zm-3 5zm-3 0zm-26 0zm-4-1zm-4 0zm-3 0zm-6 4zm10 0zm1-1zm0 1zm3-1zm0-1zm0 1zm35 1zm1-1zm-7 3zm-23 0zm-5-1zm-5 2zm-2 0zm0-1zm-8-1zm2 5zm2 0zm2-1zm1-1zm2 0zm0 0zm1 2zm2 0zm1-1zm1-1zm1 1zm12 0zm17 0zm1-1zm3 0zm-2 4zm-3 0zm-5-1zm0 2zm-6 0zm-16-1zm-1-1zm-2 2zm-2-1zm-1 0zm-1 0zm-1 1zm-2-1zm-2 1zm0-1zm-7 1zm-1 0zm-11 3zm13 0zm2 0zm1 0zm3-2zm1 1zm6-1zm2 2zm5-2zm5 1zm14 1zm2-1zm2 1zm-5 3zm-2-1zm-2-1zm-8 0zm-9 1zm-3-1zm-4 0zm-2 1zm-22 4zm4-2zm4 2zm7 0zm2 0zm4-1zm1 0zm0 0zm1 0zm5 0zm1-1zm3 0zm2 0zm0 0zm2 2zm1-1zm2-1zm0 0zm0 2zm4-2zm4 0zm3 1zm-11 3zm-5-1zm-1 1zm-2 0zm-3 0zm-1 1zm-2-2zm-2 2zm-1 0zm0-2zm-3 0zm0 2zm-2-2zm-1 1zm0 0zm-1 0zm-4 0zm-5-1zm-4 1zm-10 4zm9 0zm3-1zm4-1zm2 0zm2 1zm2 1zm5-1zm2-1zm11 2zm2-1zm7-1zm8 0zm0 5zm-9-2zm-2 0zm-4 0zm-2 0zm-2 1zm-1 0zm-9-1zm-11 0zm-4 0zm-2 0zm-1 1zm-1 1zm-1-1zm-1 2zm7 2zm8-1zm1 1zm8-1zm4 1zm1-2zm1 0zm0 0zm5 2zm1-1zm0 0zm7-1zm0 3zm0 0zm-2 0zm-1 0zm-5 1zm-2-1zm-12 0zm-7 1zm-4 0zm-5 0zm-3 1zm-1-2zm-4 2zm1 2zm1 1zm1-2zm12 1zm19 1zm9 0zm-1 3zm-2-1zm-1-1zm0 1zm-1-1zm-21 1zm-3-1zm-1 2zm-1 0zm-1-2zm-1 2zm-2-2zm-2 1zm0 0zm-1-1zm-2 0zm-1 0zm-4 3zm2 1zm3 0zm3 0zm2 1zm0-1zm19 0zm14 1zm2-2zm0 5zm-1 0zm0-1zm-4 1zm-3-1zm0-1zm-2 2zm-13 0zm-15 0zm-2-2zm-2 4zm1 0zm0 0zm7-1zm28 0zm0 1zm1 1zm1-2zm0 2zm0-1zm3 3zm-1 1zm-4-1zm-1 1zm0 0zm0 0zm-5 0zm-29-1zm-1-1zm2 4zm4 1zm1-2zm1 2zm3 0zm23-1zm2 1zm1-1zm0 0zm1-1zm1 2zm1-2zm3 3zm-3 0zm-1 2zm0-2zm-1 0zm0 1zm-4-1zm-2 1zm-26 1zm0 0zm-3-2zm-2 1zm2 3zm0 1zm3-2zm2 0zm26 1zm3 1zm0-2zm2 0zm1 2zm4 2zm-3 0zm-5-1zm-3 2zm-29-1zm0 1zm-2-2zm-1 1zm4 2zm0 0zm0 2zm3-1zm19 0zm6 1zm3 0zm3 0zm1 3zm0-1zm-4 1zm-4 0zm0-1zm-24 0zm-1 0zm-6 4zm1-2zm5 2zm2 0zm3-1zm19 1zm5-2zm1 1zm-3 4zm-4 0zm0 0zm-4-1zm-14 0zm-3 1zm-2-2zm2 3zm1 1zm3 0zm21-1zm1 0zm1 1zm0-1zm1 2zm1 0zm3-1zm0 0zm-2 3zm-4-1zm-5 1zm-13-1zm-3 0zm-2 2zm-1 0zm-4-2zm0 1zm-1-1zm-4 2zm-146-1zm153 2zm1 2zm1 0zm1-2zm5 0zm5 2zm2-1zm6-1zm3 0zm2 2zm4-2zm1 1zm-6 4zm-4-2zm0 0zm-2 0zm-2 0zm-4 1zm-4 0zm0 1zm-1-1zm-3-1zm-5 2zm0 0zm-154 0zm-5-1zm-3 1zm-1-2zm-3 2zm-1-2zm-7 1zm6 4zm8-2zm1 0zm154 1zm8 0zm4 1zm16-1zm1-1zm5 0zm4 2zm-9 1zm-7 0zm-4 2zm-4-1zm-1 0zm-1-1zm-1 1zm-169-1zm-5 0zm-1 0zm0 2zm-2 2zm3-1zm4 0zm6 1zm0 0zm166-1zm4 1zm4 0zm2 1zm1 2zm-8-1zm-9 1zm-160 0zm0 0zm109 6zm-15 4zm9-1zm11-1zm3 0zm-4 5zm-2-1zm-1 0zm-1 1zm-3-1zm-12 0zm-39 2zm29 2zm5-1zm14-1zm4 1zm2 0zm3 1zm1-1zm1 0zm2-1zm-1 5zm-1-1zm-6 1zm-2-1zm0-1zm0 0zm-1 0zm0 2zm-2-1zm-3 0zm-2 1zm-8 0zm-5-1zm-23 0zm-1 0zm0 4zm4 0zm1 0zm2-1zm6 0zm25-1zm8 0zm2 0zm2 1zm0 1zm13 0zm0-1zm-6 3zm-2 1zm-2-2zm-8 0zm0 2zm-2 0zm0-2zm-10 0zm-1 2zm0-2zm-1 1zm0 0zm-7 0zm-9 1zm-5 0zm-1 0zm-2 0zm-2-1zm-5 0zm0-1zm-3 1zm-15 1zm13 1zm1 0zm0 1zm0 1zm5-1zm3 1zm0-1zm1 0zm8-1zm0 2zm7-1zm7 1zm4 0zm3-1zm1 1zm2-2zm0 0zm1 1zm5-1zm2 2zm1-2zm3 2zm1 0zm0-2zm2 2zm1 0zm6-1zm2 1zm-1 3zm-8-2zm-1 0zm-10 1zm-3 0zm-3 0zm-1 1zm0-1zm-6 1zm-5-1zm-12 1zm-3-1zm-1 0zm-2 1zm-1-1zm-8-1zm-11 2zm5 1zm4 2zm2 0zm3-2zm6 2zm2-2zm1 2zm2-1zm5 1zm15-2zm3 0zm2 2zm7 0zm1-1zm8 0zm1 0zm1 1zm3-2zm3 2zm3-1zm2 1zm8-2zm-16 3zm-1 0zm-4 1zm-4 1zm-1-2zm0 2zm0-2zm-2 0zm-4 0zm-4 0zm-4 0zm-2 1zm-16-1zm-3 0zm-7 2zm-7-1zm-5 1zm-2 0zm-3-1zm12 2zm2 0zm6 1zm1 1zm8 0zm7 0zm5-2zm7 1zm6 1zm3 0zm3-2zm2 2zm4-2zm5 2zm-1 1zm-2 1zm0 1zm-4 0zm-1-1zm-4 1zm-2 0zm-3-2zm-11 1zm-26 3zm33 0zm7-1zm1 0zm4 2zm7-2zm0 5zm-3-1zm-8-1zm-7 0zm12 3z" stroke="#35b579" stroke-width="3.4" stroke-linecap="round"/><path transform="scale(0.5)" d="M290 776zm4 0zm4-1zm3 1zm2 0zm1 0zm0 1zm-18 1zm0-1zm-3 1zm-1 1zm-5 3zm2-2zm0 1zm2-1zm2 0zm24 0zm2 0zm3 2zm1 0zm3 2zm-3-1zm-42 5zm4-2zm40 2zm1-2zm2 1zm0 0zm0 2zm0 2zm-2-2zm-43 0zm-2 5zm1 0zm1-2zm4 1zm39-1zm0 1zm1 0zm1-1zm0 1zm0-1zm1 2zm1-1zm1 1zm0 0zm-1 3zm-2 0zm-1-1zm0 0zm-40-1zm-3 1zm0-1zm-1 2zm-1-2zm41 4zm7 0zm0-1zm1 0zm0 1zm-4 2zm-41 2zm-3 2zm6 0zm39-1zm0 5zm-1-2zm-1 1zm-1-1zm0 1zm0 0zm-2 0zm-31 0zm-1 0zm1 4zm7 0zm27-2zm1 2zm3 0zm1 3zm-5-2zm-2 2zm0-1zm-1 1zm0-2zm-1 2zm-8 0zm-12-1zm-7-1zm-3 2zm4 2zm1-1zm1 2zm1-1zm0 1zm20-2zm2 1zm3 1zm1 0zm3-1zm0 1zm7-2zm-8 4zm0 1zm-5 0zm0 0zm-2 0zm-2-2zm-2 2zm-8-1zm-4-1zm-3 0zm-8 0zm5 4zm0 1zm4 0zm2-1zm13 0zm3 0zm1 0zm0 1zm1-2zm1 1zm0-1zm1 0zm4 1zm2 1zm1 0zm2-2zm-3 3zm-1 1zm-3 1zm0 0zm-1-2zm0 1zm-2 0zm-1 1zm-1-2zm-4 1zm0 0zm-2-1zm-2 0zm-1 0zm-3 0zm-1 2zm0-2zm-6 1zm6 3zm5 1zm0-1zm2 1zm4-2zm5 0zm0 0zm3 1zm2 0zm12 2zm-4 2zm-14-2zm-3 2zm0-2zm-1 0zm-2 0zm-1 1zm-2 0zm0 0zm-5-1zm-2 1zm4 2zm7 1zm0 1zm1 0zm1-2zm2 0zm12 0zm1 0zm0 1zm3 0zm0-1zm2 1zm1-1zm0 3zm-3 0zm-6 0zm-2 0zm-9 2zm-1-1zm-2-1zm-2 2zm-2 0zm-1-2zm-3 5zm2 0zm2 0zm2-2zm0 1zm3 1zm0-1zm2-1zm15 1zm0 0zm3-1zm3 2zm0 0zm2 2zm-4 1zm-15-1zm-7-1zm-6 0zm-4 5zm6-2zm1 2zm1-1zm0-1zm1 2zm1-1zm21-1zm7 0zm-6 4zm0 0zm0-1zm-1 0zm0 2zm-1 0zm0 0zm-2 0zm0-1zm-20-1zm-2 2zm-5 0zm6 2zm6 1zm8 0zm17 2zm-3-1zm-7 1zm-1-1zm0 2zm-6-1zm-3-1zm-3 1zm-2 1zm-1-2zm-1 0zm0 1zm-1 1zm-2 0zm-2 0zm-1-2zm-1 0zm-5 2zm4 3zm1 0zm1-2zm6 0zm2 1zm0-1zm3 0zm1 1zm2 1zm0-1zm1 1zm9-1zm3 4zm-5-2zm-2 0zm-1 1zm-2 0zm-2 0zm-1 0zm-5 0zm-2-1zm-2 1zm-1 0zm-17-1zm10 5zm5 0zm1-1zm4 0zm2 1zm1-2zm6 2zm1 0zm3-2zm1 0zm-13 3zm-7 1zm-3-1zm-7 5zm1-1zm0-1zm5 2zm4-1zm6 4zm-13 0zm-1 0zm-5 0zm-2 1zm3 0zm1 2zm1 0zm1 0zm1 0zm9-2zm-4 4zm-1-1zm0 1zm-4-1zm-3 0zm-2 1zm0 0zm-3 1zm-2 0zm0-2zm-6 0zm-1 0zm-2 1zm-1 1zm0 2zm0 0zm2 1zm4 0zm5-2zm1 2zm2 0zm0-2zm1 1zm0 1zm1 0zm3-2zm0 0zm2 0zm0 0zm2 1zm7 1zm-4 1zm-2 0zm-1 0zm-3 1zm-3-1zm-2 1zm-1 0zm-1 1zm-1-2zm-2 2zm-4-2zm-1 1zm-1-1zm-2 2zm4 2zm1 1zm1-2zm0 1zm3 0zm0-1zm1 1zm0 1zm5 0zm1-1zm7 3zm-6-1zm-6 0zm-7 0zm-8 4zm3 0zm0 1zm3-1zm1 0zm3 1zm1-2zm0 0zm0 0zm1 0zm3 0zm5 0zm3 0zm0 1zm0 1zm5-2zm1 3zm-1 1zm-4 0zm-2 0zm-1 0zm-3 1zm-1-1zm-2-1zm-1 0zm0 0zm-1 0zm-5 2zm-1-1zm-1-1zm0 1zm0 0zm-1-1zm-4 0zm-1 0zm-2 1zm9 4zm9 0zm1 0zm0-1zm3 1zm3-1zm2-1zm1 2zm1 0zm0 0zm0 1zm-2 2zm0-2zm-1 2zm-1-2zm0 2zm-1 0zm0 0zm-3-2zm-1 1zm-2-1zm-1 2zm-5-1zm-3-1zm-2 1zm-1 1zm-4 1zm1 1zm1 1zm2-1zm3 0zm3 0zm1-1zm5 1zm0 0zm8-1zm1 0zm1 1zm0 1zm1-2zm0 1zm1 1zm-1 1zm0 0zm-2 0zm-5 2zm-10-1zm-2 1zm-1-1zm0-1zm-1 1zm0-1zm-3 1zm-1-1zm-1 1zm-1 1zm5 3zm0-2zm3 1zm1 1zm5-2zm2 0zm4 2zm1-2zm3 1zm7 4zm-7-1zm-2-1zm-2 2zm-4-2zm-2 2zm-3 0zm-2 0zm-4-1zm-4 4zm4-1zm3 0zm1 1zm0 0zm2 0zm2-2zm1 1zm4-1zm4 1zm1-1zm1 0zm3 0zm0 2zm1-1zm1 4zm-2 0zm-1-2zm-1 2zm-1 0zm-4 0zm-3-2zm-4 2zm-1-2zm-1 0zm-1 0zm-6 5zm3 0zm3-2zm1 1zm1 0zm1-1zm0 0zm1 0zm2 0zm2 0zm1 1zm2 0zm1 1zm0 0zm1-1zm1 1zm1 0zm1-1zm2 2zm-2 0zm-1 0zm0 2zm-3-2zm-2 0zm-1 1zm-4 0zm-1 1zm-1-2zm-2 2zm-1-2zm-1 2zm0-2zm-3 4zm8 1zm0 0zm3-2zm1 2zm1-2zm0 1zm0 1zm2-1zm3-1zm2 4zm-1-1zm-3 0zm-4 1zm-4 1zm-2-2zm-1 2zm-4 0zm0-1zm-4 2zm4 2zm5-2zm3 0zm1 1zm7-1zm4 0zm-4 3zm-2 1zm-2 0zm-1 1zm-4-1zm-1 1zm-1-2zm-1 0zm5 3zm-68 28zm-1 2zm6 1zm10-1zm-8 5zm0-1zm-7 1zm-7 1zm4 2zm8-1zm1-1zm8 4zm-11-1zm6 10z" stroke="#4ec26a" stroke-width="3.4" stroke-linecap="round"/><path transform="scale(0.5)" d="M290 776zm4 0zm3 0zm8 2zm-1 0zm-5-1zm-4 0zm-5 0zm-1 1zm-7 4zm26-2zm2 2zm1 0zm-27 2zm-3-1zm-2 2zm-1 0zm-1-1zm-1 2zm1 0zm1 0zm1 2zm1-1zm33 0zm0-1zm1 2zm2 0zm-2 1zm-3 2zm-32 0zm-1-1zm0 1zm-5-1zm4 4zm1 0zm1 0zm32 0zm2 0zm1 0zm4-1zm-4 2zm-3 1zm-31-1zm-2 1zm-1 0zm0 1zm-1 3zm2-1zm0 1zm2-2zm2 2zm0-1zm28 1zm1-2zm2 2zm3 0zm-1 1zm-3 2zm-1-1zm-28 0zm-1 0zm-3 4zm1-1zm2 1zm2-1zm1-1zm4 0zm22 3zm-4 0zm-20 2zm-2-1zm-2 1zm1 1zm0 0zm3 1zm2 0zm2 0zm2-1zm2 0zm0 2zm11 0zm3-1zm1-1zm3 0zm1 0zm1 2zm-5 1zm-2 2zm-2 0zm-2-1zm-2 0zm-1-1zm-1 0zm-6 1zm-2 1zm-5 0zm-2 0zm-2-1zm8 2zm4 2zm0-1zm1 0zm0-1zm2 1zm1-1zm1 0zm1 1zm0-1zm1 0zm2 1zm0 0zm0 0zm0-1zm4 1zm3 4zm-4-2zm0 2zm-10-1zm-3 0zm19 4zm1-2zm1 4zm-7-1zm-4 0zm20 8zm-1 0zm-16-2zm-3 1zm13 2zm3 2zm1-2zm0 1zm1-1zm3 3zm-4 1zm0-1zm-1 0zm-1 0zm0 2zm-1-1zm-2-1zm-4 0zm0 1zm-1 0zm-3-1zm2 3zm3 0zm7 2zm0-1zm2 0zm0 0zm1-1zm1 1zm2-1zm0 1zm0 1zm2-2zm-3 5zm-1-1zm-5 0zm-1 0zm-1-1zm0 0zm-1 2zm-1 0zm0 0zm-1-2zm0 0zm-3 0zm-3 5zm0-2zm1 0zm5 2zm0-2zm7 1zm2 1zm7 0zm-1 3zm-1-2zm-2 2zm-1-1zm0-1zm-1 1zm-1 0zm-1 1zm-1 0zm-2 0zm-2-1zm-3 0zm0-1zm-1 0zm0 1zm-2-1zm-1 0zm-1 1zm1 2zm1 0zm1 1zm0 0zm0 0zm1 1zm1-2zm0 1zm0 0zm5 0zm4-1zm1 2zm5-2zm0 4zm-5-1zm-2 1zm-1 1zm-11-2zm7 5zm2-1zm0 0zm3 1zm2-1zm-1 2zm-40 26zm0 1zm0 4zm-3-1zm9 4zm2 1zm-1 3zm-5 0zm-3 1zm3 1zm14 2zm-1 0zm-3 1zm-4-1zm-4 0zm-3 5zm1-2zm8 1zm0 0zm2 0zm2 1zm2 1zm-2 1zm-7 0zm-1 0zm-1 0zm-2 1zm1 1zm4 1zm1-1zm5 1zm-5 4zm0-1zm-4-1zm-1 0zm-2 2zm-1 1zm1 0zm3 2zm3-1zm3-1zm0 1zm1 0zm4-1zm-8 4zm-4 0zm-3 1zm3 2zm1 1zm1-1zm0 0zm5 0zm1 4zm-1-2zm-12 2z" stroke="#70ce57" stroke-width="3.4" stroke-linecap="round"/><path transform="scale(0.5)" d="M302 778zm-8-1zm0 1zm-1-1zm0 1zm0-1zm0 0zm-3 1zm-6 4zm0 0zm1-1zm0 1zm1-2zm3 1zm0-1zm15 0zm0 0zm1 1zm0 0zm2-1zm0 4zm-1 1zm-19 0zm0-2zm-1 2zm-4 0zm-1-2zm-1 2zm0 2zm0 1zm1 0zm1 0zm1 0zm0-1zm1 0zm23-1zm5 2zm-31 3zm-1-2zm2 5zm1 0zm1-1zm3-1zm15 2zm6-1zm2-1zm0 2zm2 1zm-1 0zm-2 1zm-24-1zm0 1zm-2 1zm-1 0zm-1 0zm1 1zm1 1zm2 1zm0-2zm0 0zm21 2zm4 0zm2 2zm-3 0zm0 1zm-1-2zm-4 1zm-20 1zm-2-1zm3 2zm1 1zm1 0zm9 0zm8 1zm4-1zm4 1zm-9 3zm-2-2zm-1 1zm0-1zm-3 2zm-1-1zm0-1zm-2 1zm-2 1zm-4-2zm0 0zm0 1zm2 2zm1 2zm1-2zm0 0zm1 0zm1 0zm2 0zm1 1zm3 0zm1 0zm0-1zm1 2zm7-1zm-10 3zm-9 2zm30 32zm1-2zm2 2zm1 0zm-1 3zm-3 1zm-1 4z" stroke="#97d73e" stroke-width="3.4" stroke-linecap="round"/><path transform="scale(0.5)" d="M302 779zm-1 0zm-12 0zm0 3zm2-1zm0 1zm0-1zm6 0zm7 4zm-1-2zm-2 1zm-4 0zm-1-1zm0 2zm-3 0zm-1 0zm-3-1zm-1 1zm-1-1zm-2 2zm4 1zm3 1zm4-2zm1 0zm2 0zm2 0zm3 1zm6-1zm-4 4zm-1 0zm-1 1zm0-2zm-1 0zm-1 2zm0-2zm0 0zm-1 0zm-2 2zm-3-2zm-1 1zm-2 0zm-2 0zm-3-1zm-3 0zm0 2zm-2-2zm0 4zm0-1zm2 1zm2 1zm1-1zm0 0zm1 0zm0 0zm1 1zm0 0zm4-2zm3 2zm3-1zm2-1zm2 0zm1 0zm2 0zm-1 3zm-3 2zm-1 0zm-1-2zm0 0zm-4 0zm-5 2zm0-1zm-1 1zm-1 0zm-1-1zm-4-1zm0 0zm-2 3zm4 0zm1 2zm7-1zm0 0zm2-1zm1 1zm1 1zm1 0zm3-2zm0 0zm1 2zm1-1zm-3 3zm0-1zm-1 0zm-2 2zm-2 0zm0-1zm-2 0zm-5-1zm-1 0zm-2 2zm-1-2zm1 5zm4 0zm3 0zm3-1zm0-1zm6 0zm0 0zm-8 3zm-4 3z" stroke="#c1e026" stroke-width="3.4" stroke-linecap="round"/><path transform="scale(0.5)" d="M299 781zm0 4zm-6 2zm2-1zm0 0zm2 0zm2 0zm1 0zm2 5zm-4-2zm-3 0zm-1 2zm-2-2zm-2 1zm6 2zm1 2zm0-1zm2 1zm0-2zm2 2zm0-2zm1 3zm-4 2zm-1-1zm0 0zm-3 0zm-1 1zm0 1zm4 0zm1 0zm1 4zm-4 7z" stroke="#e9e425" stroke-width="3.4" stroke-linecap="round"/><path transform="scale(0.5)" d="M299 770zm8 1zm-1 5zm14 1zm-38 1zm-6 4zm4-1zm2 1zm-209 2zm211 5zm-212 0zm227 5zm15-2zm18 1zm-73 3zm-185 1zm210 3zm15 0zm2 1zm-22 5zm8-1zm31 2zm-5 0zm-13 2zm-17 0zm0-1zm-218 3zm17 0zm248-1zm-13 5zm-44 3zm17-2zm33 2zm-58 2zm45 4zm24 0zm-48 3zm-6 4zm-208 2zm219 1zm18 2zm1 0zm27 1zm-45 1zm-30-1zm33 5zm5 0zm7-1zm-43 6zm37 1zm30 1zm-5 1zm-2-1zm-236 2zm189 1zm23 2zm13-1zm2-1zm13 1zm10-1zm-262 5zm202 1zm39 4zm-12 1zm-12-2zm-19 2zm-202-1zm-5 3zm22 0zm199 0zm12-1zm-227 7zm18-1zm4 2zm4-2zm13 2zm193-1zm6 2zm-21 2zm-13-1zm-11 1zm-173-1zm-3-1zm163 9zm30 2zm-9 1zm45 3zm-235 7zm1-1zm0 0zm176 0zm15 2zm26 3zm-1-1zm13 4zm-8 1zm-6 1zm-145 0zm-60-1zm-18 1zm4 4zm62 0zm69-2zm57 1zm23 1zm11 0zm4 0zm6 2zm-31 0zm-133 0zm4 2zm55 2zm13 0zm9 0zm-9 1zm-17 3zm21 0zm31 2zm0 3zm-110 3zm139-1zm4-1zm33 5zm-14-2zm-126 2zm-74 2zm103 0zm51-1zm56 5zm-57-1zm-41 1zm-21-1zm-3 0zm-68 1zm-31 2zm110-1zm4 0zm54 2zm15-1zm7 3zm-162-1zm90 5zm32 0zm55-2zm4 3zm-28 2zm-41-2zm-16 2zm-42-1zm-7 0zm-25 1zm38 1zm15 2zm5-1zm32-1zm74 2zm-15 1zm-1 1zm-185-1zm0 3zm9 1zm73 0zm7 1zm35 2zm-129 0zm91 4zm89 0zm-106 1zm-14 2zm-49 1zm61 0zm5 2zm82-2zm18 0zm17 0zm-16 5zm-61-2zm-71 0zm10 4zm121 4zm-3-1zm-33 1zm-43-1zm-7 0zm-37-1zm-29 4zm47 1zm39 0zm70-1zm-39 3zm-16 1zm-55-2zm51 4zm12-1zm7 0zm11 4zm-7 1zm-36 0zm-82 3zm21 0zm41 0zm47-1zm-6 3zm-2-1zm-72 2zm6 6zm-15-1zm18 6zm-1 7zm35 8z" stroke="#fff" stroke-width="2.2" stroke-linecap="round"/><text x="19.3" y="368.2" font-size="8.3" textLength="77" lengthAdjust="spacingAndGlyphs">scPagwas TRS Score</text><text x="192.3" y="421.4" font-size="6.6" fill="#222" textLength="21.6" lengthAdjust="spacingAndGlyphs">Density</text><defs><linearGradient id="gG" x1="0" y1="0" x2="0" y2="1"><stop offset="0.0" stop-color="#fde725"/><stop offset="0.1" stop-color="#bddf26"/><stop offset="0.2" stop-color="#7ad151"/><stop offset="0.3" stop-color="#44bf70"/><stop offset="0.4" stop-color="#22a884"/><stop offset="0.5" stop-color="#21918c"/><stop offset="0.6" stop-color="#2a788e"/><stop offset="0.7" stop-color="#355f8d"/><stop offset="0.8" stop-color="#414487"/><stop offset="0.9" stop-color="#482475"/><stop offset="1.0" stop-color="#440154"/></linearGradient></defs><rect x="192" y="425.7" width="10.9" height="52.7" fill="url(#gG)"/><line x1="192" y1="438.7" x2="194" y2="438.7" stroke="#fff" stroke-width="0.5"/><line x1="201" y1="438.7" x2="203" y2="438.7" stroke="#fff" stroke-width="0.5"/><text x="206.4" y="440.6" font-size="5.0" fill="#222" textLength="14.2" lengthAdjust="spacingAndGlyphs">0.012</text><line x1="192" y1="452.3" x2="194" y2="452.3" stroke="#fff" stroke-width="0.5"/><line x1="201" y1="452.3" x2="203" y2="452.3" stroke="#fff" stroke-width="0.5"/><text x="206.4" y="454.2" font-size="5.0" fill="#222" textLength="14.2" lengthAdjust="spacingAndGlyphs">0.008</text><line x1="192" y1="465.9" x2="194" y2="465.9" stroke="#fff" stroke-width="0.5"/><line x1="201" y1="465.9" x2="203" y2="465.9" stroke="#fff" stroke-width="0.5"/><text x="206.4" y="467.8" font-size="5.0" fill="#222" textLength="14.2" lengthAdjust="spacingAndGlyphs">0.004</text><line x1="18.4" y1="477" x2="18.4" y2="521.3" stroke="#555" stroke-width="0.9"/><line x1="18.4" y1="521.3" x2="67.4" y2="521.3" stroke="#555" stroke-width="0.9"/><text x="14.4" y="496.8" font-size="7.0" text-anchor="middle" fill="#222" transform="rotate(-90 14.4 496.8)" textLength="24.5" lengthAdjust="spacingAndGlyphs">UMAP 2</text><text x="45.1" y="530.2" font-size="7.0" text-anchor="middle" fill="#222" textLength="25.4" lengthAdjust="spacingAndGlyphs">UMAP 1</text><text x="1.6" y="562.2" font-size="13.8" font-weight="bold" font-family="'Liberation Serif', serif">J</text><defs><linearGradient id="gb3" gradientUnits="userSpaceOnUse" x1="61.4" y1="0" x2="156" y2="0"><stop offset="0" stop-color="#e0a8a8"/><stop offset="0.6" stop-color="#e0a0a0"/><stop offset="0.8" stop-color="#f43030"/><stop offset="1" stop-color="#ff2020"/></linearGradient></defs><path d="M67 587.1 L68.4 588.1 L69.9 590.4 L71.4 593.1 L72.7 595.4 L74 597.5 L75.3 599.5 L76.5 601.7 L77.7 604.1 L79.1 606.3 L80.8 608 L82.8 609.1 L85.1 609.7 L87.6 609.8 L90.2 609.8 L92.7 609.9 L94.9 610.4 L96 612 L96.2 614.5 L96.4 617.1 L97.1 619.4 L98.4 621.2 L100.5 622.5 L103.1 623.3 L105.9 623.6 L108.7 623.4 L111.3 622.7 L113.3 621.5 L114.9 619.9 L116.1 618 L117 615.8 L117.8 613.5 L118.7 611.1 L119.6 608.8 L120.6 606.6 L121.5 604.3 L122 601.9 L121.8 599.3 L121.2 596.6 L120.3 593.8 L120.1 591.9 L121.1 591.5 L123.3 592.2 L125.7 592.4 L127.7 591.1 L129.5 589 L131.4 587 L133.4 585.7 L135.6 585 L137.9 584.9 L140.2 585.3 L142.5 586.1 L144.7 587.3 L146.8 588.8 L148.6 590.6 L150.3 592.5 L151.6 594.6 L152.8 596.7 L153.7 599 L154.5 601.4 L155 603.9 L155.4 606.4 L155.7 608.9 L155.8 611.5 L155.8 614 L155.6 616.6 L155.3 619.1 L154.8 621.6 L154.3 624.1 L153.6 626.6 L152.8 629 L151.8 631.4 L150.8 633.7 L149.6 635.9 L148.4 638.1 L147 640.2 L145.5 642.2 L144 644.2 L142.3 646 L140.5 647.7 L138.7 649.3 L136.8 650.7 L134.8 652 L132.7 653.2 L130.5 654.3 L128.3 655.2 L126 655.9 L123.6 656.5 L121.2 657.1 L118.8 657.5 L116.3 657.8 L113.9 658 L111.4 658.1 L108.9 658.2 L106.4 658.2 L103.9 658.2 L101.4 658.1 L99 657.9 L96.5 657.7 L94.2 657.3 L91.9 656.8 L89.6 656 L87.5 655 L85.4 653.9 L83.4 652.5 L81.4 650.9 L79.6 649.3 L77.8 647.5 L76.1 645.5 L74.6 643.5 L73.1 641.5 L71.7 639.3 L70.4 637.2 L69.2 635 L68.1 632.8 L67 630.5 L66.1 628.2 L65.2 625.8 L64.5 623.4 L63.7 621 L63.1 618.6 L62.6 616.1 L62.1 613.5 L61.6 611 L61.4 608.5 L61.2 605.9 L61.2 603.5 L61.5 601.1 L62 598.7 L62.6 596.3 L63.5 593.7 L64.5 590.8 L65.7 588.3 L67 587.1Z" fill="url(#gb3)" fill-opacity="0.6"/><path d="M75.9 599.5 L79.8 607.1 L84.3 610.3 L91 611.2 L95 614.7 L96.6 620.9 L102.8 622.9 L111.2 622.6 L116.2 619.4 L119.6 613.6 L121.8 607.1 L123 599.5 L121.8 587.9 L114 582.6 L80.4 582.6Z" fill="#fff" stroke="#fff" stroke-width="0.6"/><path transform="scale(0.5)" d="M277 1173zm-14 5zm18-1zm6 0zm-13 3zm0 1zm-3-1zm-1-1zm-24 5zm38 0zm11 2zm-25 1zm-9-2zm-21 0zm-96 4zm127 1zm4-1zm3 0zm4-1zm7 0zm-4 4zm-17 0zm-1-1zm-138 1zm16 3zm102 0zm4 1zm30-1zm19 4zm-10-1zm-7-1zm-20 1zm-8 1zm-116-2zm-9 5zm6-2zm135 0zm25 1zm-50 2zm-111 1zm-8 1zm-1 1zm100 1zm42 1zm25 0zm10 0zm1 0zm-20 2zm-28 1zm-8 0zm-27 0zm-82 0zm-5 3zm158-1zm1 1zm11-1zm-4 4zm-45-1zm-3 0zm-97 0zm-12 3zm0 0zm10 0zm11 1zm30-1zm2 1zm49 0zm29 0zm6 0zm4-1zm-1 2zm-6 1zm-92 1zm-43-1zm-15-1zm-3 1zm16 3zm19 0zm17 1zm60 0zm18-1zm51 2zm-23 1zm-27-1zm-7 2zm-67-1zm-32 0zm0 4zm99-1zm10 1zm3-1zm49-1zm0 2zm-12 1zm0 2zm-25 0zm-23-1zm-62 1zm-4 0zm-8 0zm-14-1zm-17-1zm-9 3zm10 0zm18 0zm26 2zm48-2zm8 2zm8 0zm27-2zm2 1zm13-1zm-2 5zm-14-2zm-2 2zm-2-2zm-10 0zm-4 0zm-6 2zm-15-1zm-101 2zm1 1zm1 1zm3 0zm9 0zm26-1zm79 0zm5-1zm20 2zm4-2zm5 3zm-15 0zm-14 1zm-2 1zm-37 0zm-24-2zm-65 2zm-4 0zm33 1zm11 0zm7 2zm1-2zm9 2zm29 0zm36-2zm2 2zm6-2zm0 0zm0 1zm20-1zm5 1zm-1 2zm-8 2zm-45-2zm-41 0zm-39 2zm1 2zm5 0zm1 1zm8-2zm7 1zm31 0zm0-1zm4 2zm28-1zm28 1zm12-2zm21 5zm-36 0zm-4-1zm-7 1zm-52 0zm-16 0zm-34 0zm-11 0zm-7 0zm74 3zm1-1zm45 1zm9-2zm13 1zm7-1zm11 3zm-18 0zm0 0zm-19 0zm-123 1zm10 4zm2-2zm30 2zm27-2zm15 2zm6-2zm59 2zm1-1zm3-1zm-20 4zm-19-1zm-16 2zm-93 1zm3 0zm77 1zm3 0zm1-1zm14 0zm9 0zm4 0zm1 0zm0 0zm15 1zm20 1zm9 0zm-12 2zm-29-1zm-48 1zm-29 0zm-18-1zm0 1zm-4 3zm14 1zm11-1zm12-1zm10 1zm10 0zm15 1zm4-1zm4-1zm53 5zm-16 0zm-7-2zm-48 0zm-19 2zm-12-2zm-23 1zm-9 0zm1 4zm44-1zm21 0zm4-1zm2 0zm7 0zm12 0zm9 1zm2 0zm19-1zm7 5zm-3-1zm-1 0zm-4 1zm-12-1zm-23-1zm-12 0zm-24 1zm-4 0zm-31 0zm-14 3zm12-1zm19 0zm3 1zm33 0zm6 1zm2 0zm50 0zm-48 1zm-10 2zm-21-1zm-9 0zm7 3zm32 0zm24 1zm13 1zm-29 0zm-2 1zm-8-1zm-45 5zm33-2zm27 1zm3 1zm-6 2zm-16 1zm-43-2zm1 3zm24 0zm5 1zm16 2zm-21 4zm3 1zm4-1zm2 1z" stroke="#f45050" stroke-width="2.5" stroke-linecap="round"/><path transform="scale(0.5)" d="M286 1175zm-8-1zm-143 1zm132 3zm10-1zm9 0zm3 1zm-20 2zm-5 1zm-2 0zm-1-2zm0 2zm-129 3zm4-2zm3 0zm1 2zm117 0zm2-2zm30 2zm-3 2zm-7-1zm-4 2zm-5-2zm-7 0zm-17 1zm-109 1zm-9 1zm7 1zm124-1zm8 2zm22 0zm10-1zm-1 2zm-25 0zm-9 2zm0-2zm-5 2zm-3-2zm-7 2zm-1 0zm-119 0zm-2-2zm-1 0zm-1 4zm4 0zm1 1zm1-2zm8 1zm0 1zm1 0zm9 0zm101-2zm5 2zm20 0zm-5 2zm-4 1zm-4 0zm-2-1zm-4 0zm-3-1zm-3 2zm-1-2zm-1 0zm-101 1zm-4-1zm-2 1zm-2 0zm-5 1zm-6-1zm0 0zm-1 1zm1 1zm5 2zm13 0zm2-2zm99 2zm9 0zm2 0zm19-1zm27-1zm3 4zm-42-1zm-6 1zm-10-1zm-1 1zm-4-1zm-108 2zm0-1zm-2-1zm-1 3zm4 2zm6 0zm1 0zm105-1zm2-1zm14 0zm38 0zm5 0zm-28 4zm-16 0zm-3 1zm-5-1zm-32-1zm-69 2zm-9 0zm-2-2zm-2 1zm-2 1zm-7 0zm0 0zm0 0zm-7 0zm5 1zm0 2zm2-2zm0 0zm2 0zm1 0zm11 1zm0 1zm1-1zm1 0zm7 1zm51-2zm6 2zm30-1zm4 0zm6 0zm9-1zm9 2zm10-1zm18 3zm-24-1zm-75 1zm-39 1zm-5 0zm-9-1zm-7 0zm0-1zm-8 2zm-2-1zm-3-1zm-2 3zm6 2zm7 0zm2-2zm5 2zm1-1zm1-1zm1 2zm1 0zm0-2zm3 2zm7-1zm34 1zm3 0zm3-1zm2 0zm1-1zm14 1zm32 0zm18 1zm3-1zm1-1zm16 0zm22 3zm-17 0zm-2 1zm0-1zm-16 2zm-10 0zm-1 0zm-6 0zm-1-2zm-3 2zm-4-1zm-3-1zm-13 2zm-55-1zm-12-1zm-4 0zm-4 0zm-6 2zm-3 0zm-1-2zm0 2zm-7-2zm-1 0zm-5 2zm-3-2zm-1 2zm-2-1zm8 4zm0-1zm3 0zm3 0zm1-1zm2 0zm6 1zm0 1zm98-1zm3-1zm1 0zm4 2zm8 0zm7-2zm8 3zm-22 2zm-1 0zm-1-2zm-2 0zm-2 1zm-2 1zm-80-2zm-7 0zm-2 0zm-4 1zm-7 0zm-2 0zm-8 0zm-3 0zm-3-1zm-2 1zm-3-1zm0 1zm-4 1zm18 3zm2-1zm1 0zm3 1zm1 0zm1 0zm4-1zm0 1zm1-1zm4 1zm6-2zm11 0zm1 0zm5 2zm62-2zm1 2zm6 0zm0-1zm2 0zm0 1zm2-2zm4 1zm1-1zm0 0zm22 0zm-7 5zm-3-1zm-4-1zm-9 1zm-1 1zm-3-2zm-3 0zm-4 0zm-6 1zm-3 1zm-66-2zm-12 2zm-1-2zm-1 1zm-12 1zm-2-1zm-4 0zm0-1zm-3 2zm-2 0zm-11-2zm15 5zm2-2zm9 1zm5-1zm10 1zm6 0zm3 1zm1 0zm59 0zm9-2zm6 2zm1-1zm1 1zm4-2zm47 5zm-6 0zm-43 0zm-2-2zm-5 0zm-5 1zm-5-1zm-47 1zm-2 0zm-1-1zm0 1zm-3-1zm-7 1zm0-1zm-1 0zm-6 0zm0 1zm-1 0zm-5 0zm-3 1zm-4-2zm-1 1zm-3-1zm-5 2zm-2-1zm-2 1zm-1-1zm-6 1zm0 0zm-6-2zm-2 1zm0 1zm-3-1zm4 2zm3 0zm0 2zm1-2zm0 2zm2 0zm1-1zm1 0zm2 1zm3-2zm3 1zm11 0zm3 1zm1-2zm5 0zm1 2zm6 0zm1-2zm4 2zm5 0zm0 0zm43 0zm2 0zm6-2zm7 2zm1 0zm7 0zm0-1zm1 1zm1 0zm4-1zm1 0zm5 1zm9 2zm-13 1zm0-1zm-1 0zm0 0zm-7 0zm-4 0zm-4 0zm-2 1zm-29 0zm-2 0zm-6-1zm-6 0zm-13-1zm-2 1zm-6-1zm-5 0zm-1 0zm-2 0zm-25 1zm-1 0zm-2 1zm-1 0zm-1-2zm-4 1zm-1 1zm2 1zm7 0zm5 2zm4 0zm4 0zm0-2zm5 2zm3-1zm5-1zm4 0zm3 1zm5 0zm4 0zm1 0zm2 1zm11-2zm6 2zm8-1zm21-1zm2 0zm14 1zm3 0zm9 1zm2 0zm7-1zm36 1zm-7 2zm-30 1zm-9-1zm-4 1zm-3-2zm-4 0zm-2 1zm-9 1zm0-2zm-2 1zm-1 0zm-8 1zm-1-1zm-2-1zm-1 1zm-31 1zm-6-2zm0 2zm-9 0zm-2-1zm-7 0zm-5-1zm-2 1zm0 1zm-6 0zm0-1zm-1-1zm-4 2zm-2 0zm-8 0zm-2-1zm-2 0zm-2 0zm7 3zm3 0zm3-1zm3 1zm4 0zm2-1zm8 1zm1 0zm3-1zm1 2zm3-1zm3-1zm11 1zm1-1zm2 2zm9-2zm6 0zm8 2zm4-1zm6 1zm10-2zm4 2zm10-1zm1 0zm6-1zm7 0zm4 2zm4-1zm7 2zm-1 1zm-3-1zm-5 0zm-40 0zm-6 1zm-12-1zm-3 2zm-7-2zm-4 2zm-1-1zm-2-1zm-1 2zm-1-1zm-4 1zm-1-1zm0 0zm-1 1zm-2 0zm-5-2zm-7 1zm-2-1zm0 2zm0-2zm-2 1zm-9 1zm-5-2zm-1 1zm-3 1zm-2-2zm-6 0zm-3 1zm-1-1zm0 1zm-1-1zm0 1zm4 2zm0 2zm9-2zm3 1zm1-1zm5 2zm3-1zm1-1zm3 1zm1 1zm1-2zm0 2zm4-2zm1 2zm1-1zm3-1zm9 2zm5-1zm20 1zm3 0zm1-2zm2 2zm1 0zm1-2zm2 2zm1 0zm7-1zm3 1zm2 0zm5-1zm4 1zm5-1zm1 1zm4-1zm13 0zm24 2zm-30 0zm-4 1zm-15 1zm0-1zm-10 0zm-7-1zm-4 1zm-1 1zm-1-2zm-8 2zm-2 0zm-16 0zm-8-1zm-3-1zm-4 2zm-9-2zm-4 1zm-1 1zm-3-2zm-3 2zm-2 0zm-6-2zm-8 1zm8 3zm5-1zm1 2zm14 0zm7-1zm8 0zm1-1zm3 1zm2-1zm1 1zm1 0zm3 0zm14 1zm0-1zm2 1zm1-1zm1 1zm1-2zm1 1zm1 0zm4 0zm8-1zm2 2zm4-2zm3 1zm6-1zm1 0zm2 0zm3 2zm3 0zm2-1zm4-1zm0 1zm0 0zm8-1zm13 2zm5-1zm-14 4zm-2-1zm-4 1zm-1-2zm-4 2zm0-2zm-1 1zm-4 0zm-2-1zm-3 2zm-1 0zm-2-1zm-1 1zm-2 0zm-1-1zm-1 0zm-2-1zm-4 0zm-1 1zm-1 0zm0-1zm-7 2zm-1-1zm-6 0zm0-1zm-5 0zm-6 0zm-2 2zm-4-2zm0 1zm-2 1zm-2-1zm-5 1zm-6-1zm-18-1zm-2 1zm-1 1zm-4-2zm-19 2zm7 2zm1-1zm3 2zm2-1zm3-1zm6 0zm2 2zm1-2zm1 1zm0 0zm10 1zm12-1zm3 1zm4-2zm2 2zm1 0zm3 0zm0 0zm7-2zm7 1zm0-1zm1 1zm5 0zm2-1zm2 0zm2 1zm2 0zm4 0zm17-1zm7 1zm1 0zm2-1zm2 1zm10-1zm10 5zm-9 0zm-11-1zm-5-1zm-4 1zm-1 1zm-4-2zm-4 2zm-1 0zm-3-1zm-7 0zm-5 1zm-2-1zm-8-1zm0 0zm-10 2zm-1-1zm-4 0zm-1-1zm0 1zm-1 0zm0 1zm-27 0zm-5-1zm-8-1zm-3 1zm-2 0zm0 0zm-1 1zm-7-2zm-5 0zm2 3zm8 0zm8 0zm2 2zm1 0zm3 0zm11-1zm4 0zm1 1zm1-1zm11-1zm0 0zm2 0zm0 0zm3 2zm5-2zm3 0zm4 2zm1-1zm1-1zm4 1zm15 1zm2-1zm2 0zm2 0zm2 1zm4-1zm2-1zm1 2zm3-1zm5 0zm1 0zm5 0zm1 0zm2-1zm11 2zm-1 2zm-14 0zm-6 0zm-2-1zm-2 1zm-2 1zm-15-2zm-2 2zm-3-1zm-11 0zm-3 1zm-9 0zm-3 0zm-2-1zm-1 0zm-4 1zm-1 0zm0-2zm-5 2zm0-2zm-17 0zm-4 2zm-1 0zm0-1zm-1 1zm-1-1zm-1 1zm-17-2zm3 4zm3-1zm1 1zm0 1zm4-2zm0 0zm2 2zm0 0zm7-2zm13 1zm1-1zm0 2zm2 0zm7-2zm2 2zm4-1zm2 0zm4-1zm3 2zm2 0zm1-1zm7 0zm1 0zm2 0zm2 0zm2 0zm1-1zm1 1zm4 0zm4 0zm1 0zm0 0zm2-1zm3 1zm1 0zm6 0zm2 0zm1 1zm1 0zm1-1zm4 1zm2-2zm6 0zm7 2zm7 0zm-23 3zm-1-1zm-7 1zm-1-1zm-1-1zm-1 1zm-1 0zm-1 0zm-8 1zm-2 0zm-2 0zm-2-1zm-2-1zm-2 0zm-2 0zm-3 0zm0 0zm-2 0zm-2 0zm-4 1zm-1-1zm-6 0zm-1 0zm-7 0zm-2 0zm-1 2zm-5 0zm0 0zm-8-2zm0 2zm-1 0zm-1-2zm-3 2zm-7 0zm0-1zm-3 1zm-5-2zm-3 1zm-2 0zm-2 2zm10 0zm9 2zm24-1zm3 0zm13 0zm7 0zm1 1zm5-1zm4 0zm8 0zm0-1zm1 0zm1 2zm1-2zm1 2zm3-1zm6 1zm2-2zm8 2zm13-1zm11 0zm-21 4zm-1 0zm-2-1zm-3-1zm-9 0zm-10 2zm-6 0zm-1-1zm-3-1zm-1 2zm0 0zm-2 0zm-7-1zm-5-1zm-4 0zm-12 2zm0-1zm-4 0zm-9 1zm-1 0zm-3-1zm-1-1zm-6 0zm-7 2zm-1-1zm-3 4zm4-2zm6 1zm6 1zm2-1zm1-1zm1 2zm3-2zm17 1zm1-1zm0 1zm1 0zm0-1zm0 1zm4 1zm1 0zm3-1zm1-1zm0 1zm1 1zm0-1zm3-1zm2 2zm1-2zm0 0zm2 0zm0 1zm2-1zm3 0zm1 1zm4 0zm0 1zm0-1zm1-1zm3 1zm2 1zm2-2zm6 1zm1 1zm13 1zm-6 1zm-5 0zm-2 1zm-4-2zm-3 0zm-1 0zm-1 1zm0 0zm-3-1zm-2 0zm-5 2zm-6 0zm-5-1zm0 1zm-1 0zm-5 0zm-2-1zm-2 1zm-2-1zm-3 0zm-3 0zm0 0zm-1 0zm-3 1zm0 0zm-2 0zm-1-1zm-8 0zm-12 0zm-4 0zm-5 1zm5 1zm1 1zm2 1zm13-2zm0 2zm3 0zm3-2zm6 1zm1 1zm0 0zm1-2zm1 2zm10 0zm1 0zm0-2zm7 0zm0 0zm3 0zm1 0zm11 1zm1-1zm6 0zm4 1zm3 0zm18 2zm-9 2zm-4-1zm-1 1zm-10-1zm0-1zm-2 0zm-1 0zm0 1zm-4 0zm-4-1zm-2 1zm-4-1zm-4 1zm-2-1zm-1 0zm-2 2zm-4 0zm-1 0zm-3-2zm-10 0zm-6 0zm-2 1zm-2 1zm-5-2zm-10 0zm2 3zm4 0zm1 2zm1-1zm1 0zm9-1zm4 0zm16 0zm0 2zm1-1zm14 0zm4 0zm6 1zm14 0zm0-2zm3 1zm0 1zm4 0zm-6 1zm-19 1zm-11 1zm-13-2zm-1 2zm-4 0zm-4 0zm-2-2zm-1 0zm0 4zm13-1zm5 1zm8 0zm1-1zm1 1z" stroke="#d6c4c4" stroke-width="2.5" stroke-linecap="round"/><path transform="scale(0.5)" d="M267 1172zm1 0zm2-1zm2-1zm1 1zm2 0zm3-1zm1 2zm3-1zm6 4zm-6-1zm0 1zm-3-2zm-3 2zm0 0zm0 0zm-1-1zm0 1zm0 0zm-1 0zm0-2zm0 0zm-3 0zm-134 4zm122 1zm1 0zm8 0zm1-1zm2-1zm1 0zm1 1zm1 0zm1 1zm1 0zm1-2zm3 0zm2 2zm0-2zm3 1zm0 0zm1-1zm1 0zm1 2zm8 3zm-5-2zm-2 1zm0-1zm-1 0zm-1 2zm-2 0zm-1 0zm-1-2zm0 2zm-1-2zm-1 2zm-1-2zm-3 0zm0 2zm-1 0zm-1-1zm0-1zm-1 0zm-1 0zm-3 0zm-1 1zm-1-1zm-2 2zm0-1zm-1 0zm-1 0zm-1 0zm-1 1zm-5 0zm-120-1zm-6 0zm-1 3zm5-1zm3 2zm1 0zm106-1zm14 1zm2 0zm1 0zm1-1zm1-1zm3 1zm1 0zm1 1zm1 0zm1-2zm1 1zm3-1zm0 0zm0 0zm3 2zm2-1zm0-1zm1 2zm4-2zm1 2zm0-2zm4 0zm2 2zm2-2zm3 1zm1 2zm-2 1zm-2 0zm0-1zm-5 2zm-1-1zm0 0zm-1 0zm0 0zm-3-1zm-1 1zm0 0zm-3 0zm-6 1zm-1-1zm-2-1zm-1 2zm-1 0zm-1 0zm-1 0zm-2-1zm0 0zm-2 1zm-2 0zm0-2zm-1 2zm-1-2zm-1 2zm-6 0zm-1 0zm-2-2zm-3 2zm-3 0zm-105-2zm-1 0zm-1 0zm-10 5zm13-2zm103 1zm6-1zm1 0zm1 1zm3-1zm4 2zm4-1zm0-1zm1 0zm3 1zm1 1zm1-2zm4 2zm0-2zm2 1zm1 0zm2-1zm0 2zm0-2zm1 2zm1 0zm0-1zm2 0zm0-1zm1 1zm1 1zm1-1zm0 1zm1-1zm1 0zm3-1zm1 2zm0 0zm9-1zm2 0zm3 1zm-2 1zm-7 2zm-2-2zm-5 2zm-1-1zm-1-1zm-1 1zm0-1zm-1 0zm-1 2zm-4-1zm0 0zm-6 1zm-2 0zm-4-1zm0 0zm-1-1zm-1 2zm-1-2zm-2 0zm-4 1zm-2-1zm-2 1zm-113 0zm-5 0zm-3 0zm-1 1zm-3-2zm-2 3zm2 2zm3-1zm6 1zm105-1zm6 0zm14 1zm1 0zm5 0zm4-2zm1 2zm6-1zm3 0zm2 1zm1-1zm0 0zm0 1zm1-1zm1 0zm2 0zm0 1zm3-1zm0-1zm5 2zm3-2zm0 2zm6-1zm1 3zm-1 0zm-1 1zm-3-1zm-2 0zm-2 0zm-1 0zm-2-1zm-2 0zm-2 1zm-1-1zm-3 2zm0 0zm-1-1zm-3 0zm0-1zm-2 0zm-2 0zm0 2zm-1-1zm-5 0zm-1 1zm-1 0zm-6 0zm-1 0zm-4-2zm-5 2zm-9 0zm-102-1zm-15 1zm14 1zm112 2zm8-2zm2 0zm2 1zm5-1zm1 0zm6 0zm0 2zm3-1zm1 0zm2 1zm2 0zm1-1zm0 1zm0 0zm1-2zm4 0zm0 0zm1 1zm0 1zm1-1zm1 0zm1-1zm3 2zm0-1zm2 0zm1-1zm3 0zm0 1zm2 0zm1 4zm0-1zm0 0zm-3 0zm-2-1zm-1 2zm-1-1zm-4-1zm-6 0zm0 2zm-1-2zm-3 2zm-1-2zm-2 1zm0 0zm-4-1zm-1 1zm-2 1zm-3-2zm-1 2zm-1-1zm-5-1zm-1 2zm0-1zm-1 0zm-8 1zm-5 0zm-6-1zm-99 1zm-2-2zm-2 0zm-7 0zm-10 1zm-4 2zm4 1zm4 0zm2 1zm4-1zm81 1zm11-2zm26 1zm4-1zm7 0zm4 0zm1 2zm1 0zm0 0zm1-1zm1-1zm0 0zm2 0zm3 0zm0 0zm7 1zm1-1zm4 0zm1 2zm1 0zm1-2zm2 2zm3-2zm0 1zm3 1zm1-1zm3 1zm4 1zm0 0zm0 1zm-2-1zm-2 2zm0 0zm-1 0zm-2-1zm0 0zm-2-1zm0 2zm-6-1zm-1-1zm-5 1zm-1-1zm-1 2zm-2-2zm-1 1zm0 1zm-1-1zm0-1zm0 1zm-2 0zm0 1zm0-2zm-5 1zm-2-1zm-1 1zm0 0zm-1-1zm0 1zm-3 1zm-5-1zm-1 0zm-14 0zm-21-1zm-3 1zm0-1zm-71 2zm-5-2zm-5 2zm-16 1zm3 2zm1 0zm1-2zm16 0zm1 0zm4 1zm41 1zm11 0zm1 0zm3 0zm20-2zm25 1zm0 1zm3-2zm1 0zm9 2zm5 0zm1-2zm0 1zm2-1zm0 1zm2 1zm1-1zm2 0zm0 0zm3 0zm1 0zm4 0zm1-1zm4 1zm4 1zm1 0zm8 0zm2 0zm0 0zm-1 2zm0-1zm-3 0zm-2 1zm-1-1zm-1 2zm-4-2zm0 2zm-2-1zm0-1zm-2 1zm-1-1zm0 1zm0 0zm-3 0zm-1-1zm0 0zm-4 1zm0 1zm-2 0zm-4-1zm0 0zm0 1zm-4-2zm-1 1zm-1 1zm-4 0zm-5-1zm-1-1zm-1 2zm-2-2zm-5 0zm-36 0zm-5 1zm-7 1zm-2 0zm-3-1zm-2 1zm-7-1zm-36-1zm0 0zm-12 0zm-2 0zm-11 1zm-7 1zm8 3zm18-2zm0 0zm40 1zm5 0zm1 1zm1-1zm1 1zm8-2zm39 0zm2 2zm4 0zm0 0zm11-2zm4 1zm3-1zm1 2zm3-1zm1 0zm1 0zm2 0zm7 1zm0 0zm2-1zm1 1zm1 0zm5-2zm0 1zm1-1zm2 0zm5 1zm1 1zm1-1zm0-1zm1 2zm1-2zm2 2zm0-2zm0 1zm1 0zm2 0zm1 1zm0 0zm-6 2zm-3-1zm-2 0zm-1 2zm-3-1zm0-1zm0 0zm-2 2zm-5 0zm0-1zm0 1zm-1-1zm-3 1zm-2 0zm-2-1zm-1 1zm0-1zm-1-1zm-1 2zm-1-1zm-3-1zm-1 1zm-9 0zm-15-1zm-2 0zm-5 2zm0 0zm-43-2zm-11 1zm-19 1zm-10-1zm-5 0zm-4-1zm0 1zm-16 0zm-8 1zm-1 0zm0-2zm0 0zm-1 1zm2 4zm26-1zm8-1zm16 1zm8 1zm58-1zm0 0zm12 0zm4 1zm5-1zm2-1zm4 1zm0 0zm3 0zm0-1zm9 0zm1 2zm1-1zm0 1zm4-2zm1 0zm1 1zm1 1zm1-2zm0 1zm1-1zm4 2zm6-2zm1 0zm3 1zm1 1zm3 2zm-2 0zm-2 1zm-2-2zm-4 2zm0-1zm0 0zm-2-1zm-4 1zm-1 0zm-2 0zm-2 1zm-4-1zm-2-1zm-2 2zm-1 0zm-1-2zm-1 0zm0 1zm-1 1zm-7-1zm-2 1zm-6 0zm-3 0zm-1-1zm-2 1zm-3 0zm-5-1zm-2-1zm-6 0zm-3 0zm-55 2zm-8-2zm-4 0zm0 2zm-2-1zm0 0zm-10 0zm-8 0zm-6 1zm-14-2zm22 4zm2 1zm83-2zm2 1zm9 1zm0 0zm13 0zm5 0zm3-2zm2 2zm2 0zm2-2zm1 0zm0 2zm0 0zm2-1zm0-1zm3 2zm4-1zm5-1zm1 2zm4-1zm8 1zm0 0zm1-2zm1 0zm0 2zm3-1zm1 0zm1 1zm1 0zm-3 2zm-5 0zm-10 0zm-5 1zm-1-1zm-2-1zm-4 1zm-2-1zm0 2zm-1-2zm-1 0zm0 2zm-3 0zm0-2zm-2 0zm0 2zm-5 0zm-2 0zm-4 0zm-5-1zm-65 0zm-28 1zm-4-1zm-8 1zm-18-2zm0 1zm0 1zm3 1zm10 1zm24 0zm68 0zm7 1zm6 0zm1 0zm5-2zm0 1zm8 0zm4-1zm1 2zm5 0zm1 0zm4 0zm1-1zm0-1zm0 1zm2-1zm2 0zm0 0zm0 2zm1 0zm1-1zm5 0zm5 0zm1-1zm1 1zm2-1zm0 0zm3 2zm5 2zm-4 0zm-1-1zm0 1zm-5-1zm0 0zm-4 2zm0-1zm-1-1zm0 2zm-3-2zm0 0zm-6 0zm0 1zm-3-1zm-1 2zm-4 0zm-1-1zm0-1zm-2 2zm0-2zm-2 0zm0 0zm-1 0zm-2 1zm-9 0zm-3 0zm-4-1zm-11 0zm-8 2zm-3-2zm-34 0zm-8 0zm-7 0zm-3 2zm-1 0zm-13-1zm-4-1zm-11 0zm-1 0zm-11 1zm-9-1zm-1 2zm0-1zm1 2zm1 2zm7-1zm0-1zm15 0zm0 2zm19-2zm8 2zm3-2zm7 1zm3-1zm3 1zm3 1zm28 0zm2-2zm1 0zm0 0zm23 1zm4 0zm8 1zm2-2zm1 0zm2 1zm3 1zm2-1zm1 1zm3 0zm3 0zm1-2zm8 0zm16 2zm2-1zm1 0zm-5 2zm0 1zm-4 1zm0-2zm-4 2zm0-2zm-2 0zm-1 2zm-4-1zm-1 0zm-1-1zm0 2zm-2 0zm-2-2zm-2 1zm0 1zm-6 0zm-1 0zm-1 0zm-1 0zm0-1zm-1 1zm-1-1zm-1-1zm-1 0zm0 0zm-3 0zm0 2zm-1-1zm-2 0zm-1 0zm0 1zm-1 0zm-1-2zm0 0zm-5 1zm-2-1zm-3 1zm-1 1zm-5 0zm-13-1zm-3 1zm-2 0zm-2-2zm-19 2zm-6-2zm-9 0zm-6 2zm-15 0zm-5-2zm-5 2zm-5-1zm-16 1zm0 2zm7-1zm9 0zm12 1zm5 1zm1-1zm13 1zm2 0zm2-1zm7-1zm6 0zm11 2zm1 0zm4 0zm3-2zm6 0zm3 0zm2 0zm2 1zm9 1zm1 0zm1-2zm9 1zm3 1zm1-2zm4 1zm1 1zm3-2zm0 1zm5-1zm0 0zm0 1zm1 0zm5 0zm2 0zm1-1zm0 2zm3 0zm3-1zm2 0zm3-1zm8 1zm9-1zm-5 4zm-1 1zm-11-2zm-2 0zm-1 1zm0 1zm-1-2zm-4 1zm-1-1zm-1 1zm0-1zm0 2zm-5 0zm0-1zm-1 0zm0-1zm-1 0zm-1 0zm-1 1zm-1 0zm0 0zm-3 0zm-11 0zm-5 1zm-7-2zm-8 2zm-7-1zm-2 0zm-6 1zm-4-1zm0-1zm-4 1zm-1-1zm-4 2zm-2-2zm-25 0zm-2 2zm-43-1zm-1 0zm-1-1zm3 5zm3-2zm4 0zm15 1zm0 1zm21 0zm17 0zm15-1zm8 0zm3 0zm9 1zm2-1zm17 0zm0-1zm5 2zm8-1zm2-1zm0 2zm1 0zm0-2zm1 2zm1-1zm1-1zm1 0zm0 2zm1 0zm0 0zm1-1zm0 1zm1-1zm0-1zm3 2zm0-1zm0-1zm1 0zm1 0zm2 0zm3 1zm0-1zm2 0zm5 2zm3-1zm0-1zm4 0zm2 2zm1 0zm0-2zm4 4zm-8-1zm0 1zm0 1zm-1-1zm-3-1zm-3 1zm-3-1zm-1 0zm-1 1zm0-1zm0 2zm-2-1zm0 0zm-3-1zm0 1zm0 0zm-1-1zm0 2zm0-2zm-1 1zm-1-1zm-4 0zm-4 1zm-3-1zm-9 2zm-2-1zm-1 1zm-9-1zm-7-1zm-3 0zm-14 2zm-10 0zm-1-1zm0 0zm-1 0zm0 1zm-5-1zm0-1zm-37 0zm-27 1zm-1 1zm0-2zm-3 4zm3-1zm22 2zm3-2zm43 1zm6-1zm9 1zm4 0zm5 1zm6 0zm10 0zm10-2zm5 2zm3 0zm5 0zm0-2zm3 1zm3 1zm2-2zm0 2zm2 0zm1-2zm0 0zm1 1zm1 0zm3-1zm5 0zm0 0zm2 1zm1 0zm1 0zm0-1zm5 2zm3-2zm0 0zm-1 3zm-4 2zm-5-2zm0 1zm-3 1zm0-1zm-5-1zm-3 1zm-2 1zm-2 0zm-1-2zm-1 0zm-2 1zm0 1zm-3-1zm0-1zm-3 1zm-1 1zm-1-2zm-1 2zm-2 0zm-4-1zm-4 1zm-1-1zm-1 0zm-2-1zm-4 2zm-4-2zm-26 2zm-32-2zm-9 0zm-15 1zm-6 1zm-4 0zm-7 0zm-1-1zm-3-1zm17 4zm1 0zm0 0zm16-1zm0 0zm10 2zm23-1zm10 0zm31 0zm5-1zm1 0zm1 1zm0 0zm1 0zm3-1zm4 1zm2 1zm2-2zm1 2zm2-1zm3 1zm1-1zm1-1zm0 0zm3 2zm4-1zm5 1zm3-1zm3-1zm2 2zm0 0zm0 0zm1-2zm2 0zm2 1zm1-1zm0 2zm-2 2zm-2 0zm0 1zm-4 0zm0 0zm-2-2zm-2 1zm-3-1zm-2 2zm-4-2zm-3 1zm0-1zm-1 0zm-7 0zm-1 0zm0 0zm-2 0zm-2 1zm-8 1zm0-2zm-1 1zm-28 0zm-1-1zm-18 1zm-2-1zm-3 2zm-2-1zm-5-1zm-31 1zm-3 1zm-8 0zm-9 3zm4-1zm0 0zm6 1zm7-1zm4 1zm13 0zm6-1zm1 1zm5-2zm32 1zm2 0zm12 1zm4 0zm2-2zm5 2zm4-2zm3 1zm2-1zm12 1zm2 0zm2-1zm2 2zm2-2zm1 2zm1 0zm11-2zm6 1zm2 0zm-4 4zm-2-2zm-2 0zm-8 1zm0 0zm-1 0zm0 1zm0-1zm-1-1zm0 0zm-15 1zm-1-1zm-6 1zm-3-1zm-19 0zm-16 1zm-9 1zm-25 0zm-9-2zm-12 0zm-9 2zm-5-2zm-6 0zm-1 2zm-1 0zm3 2zm0-1zm7 2zm1 0zm4-1zm49-1zm15 0zm13 0zm7 1zm10 1zm7 0zm2-1zm3-1zm3 1zm1-1zm3 0zm1 0zm2 1zm1 1zm1-1zm1-1zm2 0zm3 2zm11-1zm-8 4zm-4-2zm-1 2zm-3-1zm-2 0zm-1 1zm-2-2zm0 1zm-2 1zm-4-1zm-11 1zm-23-2zm-14 0zm-1 1zm-4 1zm-1 0zm-14-1zm-1-1zm-10 1zm-2 1zm-8-2zm0 2zm-15-2zm-9 1zm0 1zm-5 1zm5 0zm11 0zm40 2zm4 0zm1-2zm9 2zm2-1zm5-1zm1 0zm9 2zm5-2zm2 1zm9-1zm2 0zm4 2zm1 0zm12-1zm4 1zm4-1zm0 1zm5 0zm1 0zm1 0zm3-1zm-2 3zm0-1zm-1 0zm-1 1zm-1 1zm-1-1zm-5 0zm-7 0zm0 0zm-8 0zm-1 1zm-2 0zm-4-1zm-21 1zm-1-1zm0-1zm-15 0zm-5 2zm0 0zm-7 0zm-7 0zm-2-1zm-3 0zm-1-1zm-2 0zm-9 0zm6 3zm15 1zm9-1zm9 2zm0-1zm6 1zm3 0zm0-1zm2 1zm6-1zm3 1zm8 0zm2-1zm2 1zm2 0zm12 0zm3 0zm0-1zm10-1zm6 0zm-3 3zm-4 0zm-2 1zm0-1zm-3 0zm-22 0zm-1 1zm0-1zm-8 2zm-32 0zm-8 0zm-19-2zm-8 2zm-1-2zm-1 1zm-5 1zm-10-1zm-1 0zm0 2zm1 0zm5 0zm5 1zm19 1zm12 0zm27 0zm9-2zm19 1zm7 1zm7 0zm1-1zm1 0zm3 1zm4-2zm-3 4zm-4-1zm-1 2zm-8 0zm-3-2zm-10 2zm-4-1zm-4 0zm-13 1zm-9-2zm-4 2zm0-1zm-28 1zm-10-1zm-3-1zm-1 0zm-8 3zm3 2zm13-2zm2 1zm17-1zm10 1zm20-1zm1 2zm3-2zm5 1zm4 1zm3-2zm19 3zm-3 0zm-3 1zm-3-1zm-3 2zm-9-1zm-19-1zm0 0zm-8 0zm-2 2zm-10-1zm-6-1zm-4 0zm-10 0zm-5 1zm-1-1zm-1 1zm6 2zm4 0zm7 0zm9 2zm12-2zm9 2zm14-1zm11-1zm2 0zm1 2zm3-1zm1-1zm-6 4zm-2 0zm-12 1zm0-1zm-2 0zm-4-1zm-2 2zm-7-2zm-4 2zm-5-1zm0 1zm-5-1zm-3-1zm-10 2zm-4-2zm-8 2zm-2-1zm17 3zm9 1zm16-2zm6 1zm7-1z" stroke="#ff1010" stroke-width="2.5" stroke-linecap="round"/><path transform="scale(0.5)" d="M280 1171zm-20 6zm24-1zm12 4zm-4 0zm-13 0zm-19-1zm6 4zm8 0zm14 1zm-148 2zm0 1zm-7 1zm9 1zm111-1zm5 1zm18-1zm21 4zm-17-1zm-6 2zm-29-1zm19 4zm9-2zm5 0zm15 1zm6 4zm-54 3zm7-2zm16 2zm27 2zm-18 0zm-16 0zm0-1zm-126 5zm5-1zm0-1zm1 1zm7 1zm1 0zm3-2zm96 1zm23 1zm4-1zm31 1zm-6 2zm-3 1zm-31 0zm-21-2zm-98 1zm-17-1zm-1 5zm12-2zm115 0zm-11 4zm-100 1zm-20-1zm30 3zm98 2zm-4 0zm-2 0zm-87 2zm-17-1zm-15-1zm4 5zm28-2zm82 2zm18-1zm9 3zm-13 0zm-3-1zm-75 1zm-19-1zm-5 1zm-4 0zm97 4zm2-1zm6 0zm19 0zm4 0zm10 0zm21 0zm-22 4zm-20-1zm-18 0zm-59 0zm-19 0zm-20 1zm-4 0zm9 1zm25 1zm76 1zm1-2zm20 2zm30-1zm0 4zm-16-1zm-16-1zm-2 1zm-14-1zm-6 2zm-1-2zm-14 2zm-68-2zm-37 3zm4 2zm1 0zm0-2zm15 2zm14-1zm19 1zm42 0zm8-1zm14 1zm18 0zm6-1zm-52 3zm-25 0zm-27 1zm-13-1zm-4 3zm5 0zm45 0zm37 0zm3-1zm13 2zm0 1zm0 2zm-6-1zm-20 1zm-71 0zm-21-1zm-4 2zm54 2zm100-1zm-18 3zm-10-1zm-2 0zm-2 2zm-4 0zm-2 0zm-40 0zm-20-1zm-32-1zm-13 5zm27-1zm4-1zm2 0zm61 2zm26-1zm9 0zm-17 4zm-4-1zm-29 1zm-16-1zm-42-1zm-28 3zm17 1zm0 1zm24-2zm1 2zm2-1zm9-1zm9 1zm41 0zm4 0zm17 0zm15 0zm10 1zm8-2zm-31 5zm-8-1zm-56 1zm-15 0zm-12-1zm-27 1zm19 1zm18 1zm7 1zm22-1zm41-1zm2 0zm41 0zm-54 4zm-28 1zm-10 0zm-17-2zm-10 2zm-22 2zm1-1zm9 2zm2-1zm7 0zm6-1zm13 2zm3-1zm5 1zm86-1zm-18 4zm-2 0zm-24-1zm-16 0zm-6-1zm-4 1zm-6 0zm-2 0zm-11-1zm-18 1zm-1 2zm21 1zm2 0zm26-1zm32 2zm-7 3zm-15-1zm-18 0zm-1 0zm-1-1zm-21 2zm-3-1zm-10 1zm-6-2zm-22 0zm1 4zm9 0zm40 0zm5 0zm8 0zm25 1zm2-1zm0-1zm16 2zm-33 3zm-6-1zm-17 0zm-17 1zm-16 0zm-5-2zm12 3zm8 1zm3 0zm2-1zm0 1zm30 0zm2 4zm-21-1zm-7 0zm-33-1zm6 5zm26-1zm2 1zm8-1zm14 0zm9-1zm2 1zm12 0zm5 0zm8-1zm14 1zm-13 4zm-9-2zm-54 2zm-16 0zm-2-1zm-3-1zm31 4zm12-1zm13 2zm-21 6zm3-1zm2-1zm1 1z" stroke="#e89090" stroke-width="2.5" stroke-linecap="round"/><path transform="scale(0.5)" d="M272 1172zm10 1zm-3 2zm0-2zm-11 2zm-2-1zm-132 3zm2-1zm125 0zm3 2zm4-1zm4 0zm2 1zm10 2zm-10 0zm-11 1zm-126 3zm109 0zm10 0zm11 0zm21-2zm-2 3zm-3 2zm-7-1zm-5-1zm-13 0zm-7 0zm-109 2zm-6 0zm-3-2zm0 1zm-3 2zm8 1zm2-1zm111 1zm1-1zm3 1zm1 1zm1 0zm2-1zm6 0zm1 1zm15 0zm4-2zm1 1zm3-1zm-22 4zm-5-1zm-4 1zm-1-1zm0 0zm-5 1zm-3 0zm-113 1zm-3-2zm-1 2zm118 2zm13 1zm2-1zm2-1zm1 0zm4 0zm4 4zm-1 0zm-7 0zm-1-1zm-9 1zm-3 1zm-108-1zm-7-1zm-5 2zm-1 0zm-7 0zm-2-2zm3 3zm2 0zm11 2zm2-2zm104 2zm2-1zm3-1zm4 2zm3 0zm0-1zm8-1zm3 2zm0-2zm13 2zm11 0zm-23 3zm-9 0zm-3 0zm-1 0zm-8-1zm-4 0zm-96-1zm-9 2zm-1-1zm0-1zm-1 1zm-4 1zm-1-1zm-5 4zm0 0zm0-2zm2 1zm1 1zm1 0zm99-2zm14 2zm1-2zm2 1zm7-1zm3 2zm38 1zm-21 0zm-12 2zm-10 0zm-21-1zm-5-1zm-13 2zm-2 0zm-69 0zm-3 0zm-2-1zm-1 0zm-3 0zm-2 1zm-10 3zm7-2zm1 2zm9-1zm2 1zm1 0zm1 0zm0-1zm1-1zm1 1zm1 0zm2 1zm1-2zm52 2zm13-2zm28 2zm6 0zm20-1zm5-1zm12 0zm1 0zm8 3zm-25 1zm-4 0zm0 0zm-2-1zm-12 1zm-3-1zm-35 1zm-20 0zm-1 1zm-37-2zm-7 1zm0 0zm-1-1zm-2 0zm-7 0zm-4 1zm-5 1zm4 3zm2-1zm11 0zm4 1zm5-2zm40 2zm1-1zm2-1zm40 1zm12 0zm8 0zm3-1zm1 0zm4 0zm2 5zm-2-2zm-8 0zm-3 2zm-5-1zm-6-1zm-10 2zm-37-2zm-9 0zm-1 0zm-15 1zm-11 0zm-4 0zm-3-1zm-8 0zm0 0zm-3 1zm-2 0zm-3 1zm-1 0zm-14 1zm3 1zm10 1zm7-2zm2 0zm2 0zm11 1zm3-1zm6 1zm74-1zm2 0zm13 1zm3-1zm13 4zm-6 0zm-2 0zm-1 0zm0 0zm-2 0zm-4-1zm-2 2zm-7-1zm-5-1zm-60 0zm-9 0zm-1 0zm-23 0zm-2 0zm-4 0zm-2 2zm-2 0zm0 0zm-2 0zm-1-1zm-13-1zm1 5zm1 0zm3-1zm0 0zm2 1zm3 0zm2 0zm5 0zm4-1zm7 0zm2 1zm5-1zm2 0zm1 0zm2 0zm8 1zm67-1zm9-1zm0 0zm0 2zm3-2zm6 1zm1 0zm1 1zm7-1zm30 0zm-31 2zm-3 2zm-5 0zm-3 0zm-4 0zm-7-2zm-4 2zm-2-2zm-1 0zm-1 2zm-46 0zm-2 0zm-14-2zm-4 1zm0 1zm-9-2zm-4 1zm0 0zm-2 0zm-1-1zm-3 2zm-11-2zm-11 0zm-1 0zm1 5zm2-1zm11 0zm8 1zm1-2zm3 0zm5 0zm1 1zm1-1zm4 0zm14 2zm7 0zm0-2zm62 1zm3 0zm1-1zm12 2zm5-1zm30-1zm-37 4zm-1-1zm-1 1zm0-1zm-3 1zm-5-1zm-10 2zm0-1zm0 1zm-1-2zm-1 1zm-5 0zm-43 0zm-7-1zm-1 1zm-3 1zm-9 0zm0-1zm-13-1zm-8 0zm-4 2zm-1-2zm-2 0zm0 1zm-1-1zm0 1zm-5-1zm-2 1zm-1 1zm-4 3zm4 0zm6-1zm7-1zm4 1zm15 1zm2 0zm1-2zm14 2zm3-2zm45 1zm2 1zm2-1zm3 0zm1-1zm3 0zm3 1zm8-1zm3 0zm7 2zm4-1zm26 1zm8-2zm-25 4zm-8 0zm-9-1zm-7 2zm-2-1zm-2 1zm-16-2zm-2 2zm-6-2zm-2 2zm-30-2zm-11 1zm-3-1zm-5 2zm-3-1zm0 0zm-8-1zm-1 0zm0 0zm-4 1zm-3-1zm-1 2zm-6-1zm-5 1zm-3-1zm-4 0zm-4 2zm5 0zm15 2zm6-2zm0 1zm1 1zm3-1zm13-1zm0 0zm3 2zm5-1zm1-1zm1 2zm12-1zm23-1zm4 2zm7 0zm7-2zm10 2zm4 0zm1-1zm2 1zm5-2zm3 0zm7 1zm6 2zm-9 2zm-7 0zm-1-2zm-2 2zm-1 0zm-12-2zm-1 2zm-6-2zm-11 0zm-5 2zm-9 0zm-6-2zm-1 0zm-3 1zm-4 1zm-2-1zm-2 0zm-5 1zm-6-2zm-2 1zm-9 0zm-3-1zm-1 2zm-1 0zm-1 0zm0 0zm-15-1zm-9 0zm-6 1zm-1-2zm-2 4zm6-1zm0 2zm1-1zm5 0zm2-1zm0 1zm4 0zm3 0zm0-1zm0 2zm4 0zm15-2zm11 0zm20 0zm9 0zm2 1zm1 0zm4 0zm0 0zm3-1zm4 1zm1 0zm14-1zm14 1zm4 1zm0-2zm4 2zm6-1zm6 1zm3-1zm1 1zm17 1zm-18 2zm-18-1zm-2-1zm-10 2zm-2-1zm-2 0zm0 1zm-21-2zm-2 0zm-3 2zm0-2zm-18 1zm-3-1zm-3 2zm-4-2zm-4 2zm-4 0zm-3 0zm-3-1zm-1-1zm-1 1zm-1 0zm-7-1zm-1 2zm-6-2zm0 1zm-9 0zm-7 0zm-6 0zm3 2zm4 2zm1-1zm2 0zm5-1zm3 1zm2 0zm10 0zm7 0zm3-1zm6 0zm3 0zm1 2zm3-2zm1 0zm0 0zm7 0zm1 1zm0-1zm5 1zm14 1zm5 0zm4 0zm2-1zm1 0zm11 1zm2-2zm13 1zm6 1zm0-2zm35 5zm-25-1zm-14-1zm-6 2zm-3 0zm-6-1zm-2-1zm0 1zm-4 1zm-5 0zm-3 0zm-8 0zm0-1zm-1-1zm0 1zm-2-1zm-9 2zm-1 0zm-1-1zm-7-1zm-4 0zm-4 1zm-1-1zm-2 0zm-1 0zm-4 1zm-2-1zm-2 2zm-6-2zm-1 1zm-4-1zm-4 1zm0 1zm-1-1zm-1 0zm-4 0zm-5-1zm-4 1zm-10 1zm-5-2zm13 3zm3 1zm3 1zm4 0zm7-2zm7 1zm1 0zm0 0zm1 1zm3-1zm3 1zm3 0zm1-1zm0 0zm2-1zm1 0zm6 1zm7 0zm1-1zm4 0zm1 2zm8 0zm0-2zm4 0zm0 0zm1 1zm2-1zm12 2zm2-1zm1 0zm0 0zm4 0zm7 1zm1 0zm1-2zm1 2zm23 2zm-3-1zm-6 2zm-21-1zm-1 0zm-5 0zm-1 1zm-4-1zm-4-1zm-5 0zm-1 0zm-8 1zm-8 0zm-2-1zm-2 2zm-5-2zm-10 1zm-1 0zm-7-1zm-2 0zm-2 0zm-4 0zm-3 0zm-10 1zm-4-1zm-1 0zm-11 0zm-2 3zm0 2zm10 0zm3-1zm0-1zm2 0zm0 1zm5 1zm2-2zm0 1zm2 0zm1-1zm2 2zm1 0zm5-1zm0 0zm3-1zm8 1zm4-1zm10 0zm0 0zm5 1zm0 0zm1 1zm7-1zm4 1zm9-2zm2 2zm3-2zm1 0zm1 2zm5-1zm1 1zm1-1zm5 0zm1-1zm2 1zm7 0zm5-1zm29 4zm-10 1zm-11 0zm-11 0zm-2-2zm-2 0zm0 1zm-2-1zm-1 1zm-1-1zm-2 1zm-2-1zm-3 1zm-5-1zm-4 2zm-3 0zm-2 0zm0 0zm-2-1zm-1 0zm-3 1zm-2-2zm-16 2zm-1-1zm-1-1zm0 2zm-1-1zm-4 1zm-9-1zm-6 1zm-2-1zm-1 0zm-1 1zm-5 0zm-3-1zm-7 1zm-1-1zm-1-1zm-3 1zm-2-1zm0 2zm-7-2zm-3 1zm-2 0zm3 3zm10-1zm3 2zm0-1zm4 0zm1 0zm0 0zm7 1zm4-2zm7 0zm2 1zm5 1zm7-2zm0 1zm1 0zm2 1zm1-2zm0 1zm0 1zm2-2zm1 2zm3-1zm10 0zm2 0zm4 0zm1 0zm1 0zm0 1zm1-1zm1 1zm2-2zm0 0zm2 2zm0-2zm1 2zm8 0zm3-1zm0-1zm3 1zm6 1zm6 0zm0-1zm4-1zm4 0zm1 0zm6 1zm-17 4zm-4-1zm-2 1zm-4 0zm-2-2zm-4 0zm-8 2zm-3-2zm-1 0zm-2 2zm0 0zm-1-1zm-2 1zm-3 0zm-5-2zm-8 2zm-8-1zm-1 1zm-6-1zm-2 1zm-20-1zm-2-1zm-6 1zm-6 1zm-6-1zm2 3zm2 1zm4 0zm1-2zm7 1zm4-1zm5 2zm1-1zm5 0zm4-1zm2 1zm5 0zm2 0zm0 0zm4 1zm4-2zm1 1zm1 0zm1 1zm1 0zm1-2zm5 1zm6 0zm2 0zm3 0zm2 1zm4-1zm2 0zm1 1zm2 0zm26 0zm24 3zm-15-2zm-14 0zm-1 0zm-2 2zm-4 0zm-3-2zm-2 1zm-1 1zm-14 0zm-8 0zm-8 0zm-1-1zm-2-1zm-1 0zm0 0zm-11 0zm-1 2zm-1 0zm-2-2zm-3 2zm0-2zm-7 2zm-13 0zm-2-2zm-6 0zm2 3zm9 2zm4-2zm5 2zm1-2zm2 2zm1-2zm2 0zm0 2zm1 0zm1 0zm6-2zm2 2zm3 0zm1-2zm6 1zm0-1zm4 1zm1-1zm0 2zm3 0zm3-2zm2 2zm5-1zm4 0zm3-1zm2 1zm0 1zm1-1zm4 0zm1 1zm7 0zm7-1zm3 1zm0-2zm5 1zm2-1zm-7 5zm-1-1zm-5 0zm-12-1zm-2 0zm-1 1zm-1-1zm-2 0zm-2 1zm0 0zm0-1zm-1 2zm-2 0zm-1-1zm0-1zm-1 0zm-1 2zm-10-1zm-4 0zm-1 1zm-1-2zm0 2zm-2 0zm-1 0zm-2-2zm-1 2zm-1 0zm-3 0zm-2 0zm-1-1zm-12 1zm-1-2zm-1 1zm-8-1zm-7 2zm-5 0zm-1 0zm0 0zm0-2zm15 5zm5-2zm2 0zm7 1zm6 1zm6-1zm9 1zm0 0zm5 0zm5-1zm3 1zm3 0zm1-1zm1 0zm0-1zm3 2zm0 0zm1-1zm2-1zm0 0zm3 1zm0 1zm4-1zm4-1zm3 1zm2 1zm8-2zm0 5zm-2-2zm-17 0zm-2 0zm-1 0zm0 1zm-3 1zm-3-1zm-3-1zm-2 0zm-4 0zm-3 1zm-4 0zm-1-1zm-1 0zm-4 0zm-5 2zm-8-2zm0 2zm-2-1zm-6 0zm-16 1zm-6 0zm-2-1zm4 4zm0-1zm7-1zm5 0zm8 1zm3-1zm7 0zm1 2zm2-2zm2 1zm2-1zm0 0zm3 2zm4-1zm0 1zm8-1zm14 1zm5-2zm1 0zm2 2zm18 3zm-1-1zm-2 0zm-14-1zm-7 1zm-1-1zm-6 1zm-3 0zm-3 1zm-1-1zm-3 0zm-3-1zm-3 0zm-5 1zm-4-1zm-3 0zm-1 2zm-4-1zm-1-1zm-4 0zm-2 1zm-5 0zm-6 0zm-1-1zm5 4zm8 0zm7 1zm20-2zm1 2zm5-2zm8 1zm2 0zm2-1zm16 1zm1 1zm4-2zm-11 5zm-9-2zm-1 1zm-10 0zm-21 1zm-5-1zm-5 0zm-5-1zm-4 0zm-9 0zm15 4zm1-1zm5 1zm1-1zm3 0zm2 0zm5 0zm4 0zm0 0zm14 1zm4 0zm2-1z" stroke="#d6c4c4" stroke-width="2.5" stroke-linecap="round"/><path transform="scale(0.5)" d="M272 1174zm-2 4zm13-1zm-5 2zm-12 1zm-1 0zm-127 0zm127 2zm2 1zm24 2zm-3 2zm-8 0zm-147 0zm-3 3zm3-1zm114 1zm5-2zm36 4zm-42-1zm-106 1zm-13 4zm131-1zm5 1zm12-1zm9 0zm10 3zm-4 1zm-7-1zm-40 1zm-112-1zm-8 3zm2-1zm114 0zm-113 3zm22 5zm109-1zm29 0zm-14 4zm-44-1zm-97 1zm-7 3zm25-2zm122 1zm2-1zm31 4zm-111 1zm-36 0zm-8-1zm-4 0zm116 4zm50 3zm-36 0zm-104 0zm-43-2zm0 0zm-4 3zm19 1zm3 0zm114-1zm4 1zm25 1zm4-1zm15 4zm-21-2zm-5 0zm-108 1zm-14 0zm-11 1zm-22-2zm0 2zm51 2zm10 1zm83 0zm34 2zm-32-1zm-36 1zm-47 0zm-38-1zm-9 1zm-5 1zm-2-2zm-8 3zm24 2zm16-2zm69 1zm9 1zm30-1zm8 1zm14-2zm-5 4zm-37 0zm-3-1zm-13 2zm-11 0zm-75-2zm-9 5zm41 0zm1 0zm8-2zm2 1zm38 1zm13 0zm2-2zm12 0zm27 1zm16 0zm-28 4zm-26-1zm-80 0zm-3 0zm0 4zm69 0zm2-1zm33-1zm16 0zm-16 5zm-7-1zm-1 0zm-33-1zm-63 1zm-7 0zm20 4zm32-1zm28 1zm4-2zm32 1zm10 2zm-23 1zm-9 0zm-3-1zm-4 1zm-4 1zm-6-1zm-4 0zm-13-1zm-11 2zm-38 0zm-3-2zm-12 1zm1 4zm6 0zm33-1zm2 1zm8-2zm15 1zm37 0zm0-1zm0 0zm30 5zm-23 0zm-9 0zm-17-1zm-1-1zm-24 0zm-2 0zm-15 1zm-12 0zm-6 0zm-7 1zm-17-2zm18 5zm8 0zm13-2zm12 1zm25 0zm1-1zm26 1zm18 1zm4-1zm-36 2zm-28 2zm-18 0zm-27-2zm-19 1zm-3 1zm22 2zm15 1zm24 0zm11-2zm25 1zm40-1zm10 4zm-53 1zm-12-2zm-11 1zm-3-1zm-4 1zm-11 0zm-28-1zm-24 4zm5-1zm16 0zm2 0zm3 1zm2 1zm11 0zm8 0zm7-2zm33 2zm18-2zm12 2zm22-1zm-6 2zm-8 0zm-3 2zm-12-1zm-33 1zm-7 0zm-4-2zm-24 2zm-35-2zm-5 2zm-7 0zm5 1zm16 1zm37-1zm40 2zm9-1zm16-1zm22 0zm-8 4zm-30-1zm-4 1zm-10 1zm-2-2zm-5 1zm-1 0zm-9 1zm-50-1zm-14-1zm-2 0zm17 4zm83 4zm-10-1zm-8-1zm-17 1zm-12-1zm-32 3zm6 2zm2-2zm50 0zm3 0zm16 2zm-4 2zm-15-1zm-9 2zm0 0zm-4-2zm-50 1zm-5 4zm18-2zm13 0zm15 2zm8-2zm2 1zm25 4zm-56-1zm-16-1zm-2 0zm10 4zm2 0zm27-1zm18 1zm1 1zm4-1zm1 1zm3-2zm17 0zm-26 4zm-42 2zm26 2z" stroke="#e89090" stroke-width="2.5" stroke-linecap="round"/><path transform="scale(0.5)" d="M267 1172zm2-1zm2 1zm5-2zm2 0zm12 5zm-3-1zm0 1zm-1-1zm-1 1zm-1-1zm0 0zm-2 1zm-2 0zm-6-1zm0-1zm-1 2zm0-1zm-2 0zm0-1zm-2 1zm-2-1zm0 0zm0 0zm-132 2zm-2 0zm-2 3zm2-2zm129 1zm0-1zm2 1zm2 1zm3 0zm1 0zm1-1zm0 1zm1 0zm1 0zm0 0zm3-1zm1-1zm1 2zm1-1zm2 0zm11 2zm0 2zm0-2zm-4 1zm-2 1zm-1-2zm0 2zm-2-1zm0-1zm-2 2zm-1-1zm0 1zm-2-1zm0 1zm-1-2zm-2 0zm-1 1zm-1-1zm-1 1zm-1-1zm0 0zm0 0zm0 0zm-2 0zm-2 0zm0 0zm-1 2zm-3-1zm-1 0zm0 1zm0-1zm-1-1zm0 0zm-1 2zm-3 0zm-117 3zm123 0zm1 0zm0-2zm1 1zm2 0zm0 1zm1-1zm4 1zm1-2zm0 2zm2 0zm0 0zm0 0zm0-1zm2-1zm0 2zm0 0zm0-2zm0 0zm0 0zm1 2zm0-1zm0 0zm1 1zm1-2zm1 1zm0-1zm1 2zm1-2zm2 1zm0 1zm0 0zm1-2zm1 0zm1 2zm0 0zm1-2zm0 0zm6 1zm4 3zm-3 1zm-1-2zm-3 1zm-1-1zm-4 0zm-1 0zm-2 0zm-1 0zm0 2zm-2 0zm-2-2zm0 1zm-4 1zm-1-1zm-6 1zm-2 0zm-3-1zm-2 1zm-1 0zm-5 0zm-1 0zm0-1zm-3 1zm-2-1zm0 0zm-5-1zm-2 1zm-102 0zm-4-1zm-1 2zm109 2zm3 1zm2-2zm11 0zm0 0zm5 1zm0-1zm3 1zm2 0zm0 1zm1-2zm0 2zm0-2zm2 2zm3-2zm2 0zm2 0zm0 0zm4 1zm1-1zm0 0zm6 2zm1-2zm2 0zm0 1zm1 1zm1-1zm7 0zm-7 4zm-1-2zm-1 1zm-2-1zm-1 2zm-3-1zm-2 1zm-2-2zm-1 0zm0 1zm-3 0zm0 1zm-2-2zm-5 2zm0-1zm-1 1zm0 0zm0-2zm-4 1zm-1 1zm-1 0zm-8 0zm-8-2zm-4 1zm-113 1zm-1-1zm-2 1zm-6 3zm3-1zm3 1zm117 0zm5 0zm2-2zm1 0zm5 1zm2-1zm6 2zm0 0zm1 0zm1 0zm3 0zm1-2zm3 2zm5-1zm1 1zm0-2zm1 2zm1-1zm1-1zm0 2zm2-2zm1 2zm1 0zm1 0zm1 0zm9-1zm0 0zm0 0zm2-1zm0 2zm4 2zm0 0zm-1-1zm-1 1zm0 1zm-3-1zm0-1zm-1 2zm0-1zm-2-1zm-3 2zm-1 0zm-2-1zm-5-1zm-1 1zm0 0zm-1-1zm-1 2zm-2-2zm-3 2zm-4 0zm-3-1zm0 0zm-2 0zm-1 0zm-1-1zm-7 0zm-7 2zm-1-2zm-7 2zm0 0zm-1-1zm-121 0zm9 3zm111 0zm6-1zm0 1zm9 1zm5-2zm7 0zm6 0zm1 2zm0 0zm5 0zm1 0zm1 0zm1-1zm1 0zm5-1zm1 2zm1 0zm2 0zm0-1zm0-1zm0 1zm4 0zm1 1zm1 0zm0-1zm1-1zm1 1zm1 3zm-6 1zm0-2zm0 1zm0 0zm-1 1zm-4-2zm-3 1zm-2 0zm0 0zm0 1zm-1 0zm-3 0zm-3 0zm0 0zm-1-2zm0 1zm-3-1zm-1 1zm0-1zm-19 1zm-1 1zm-2 0zm-5-1zm-10-1zm-11 0zm-80 0zm-6 1zm-1-1zm-1 1zm-19 1zm3 1zm7 1zm10 1zm0 0zm3 0zm0 0zm7-2zm69 2zm7-1zm15 1zm3 0zm2 0zm1-1zm15-1zm6 0zm3 1zm2 1zm1-2zm0 1zm1 1zm7-1zm1 1zm1-2zm1 2zm0-2zm1 2zm1 0zm2-1zm2 0zm1 0zm4 1zm4-2zm6 5zm-1-2zm0 1zm-2 1zm-1-2zm-4 0zm-2 2zm-3 0zm0-2zm-5 0zm0 2zm-1-1zm-3 1zm-4-2zm-1 1zm-3 0zm-2 1zm-1-2zm0 1zm-2 0zm0-1zm-2 2zm-2-2zm-3 2zm-6-1zm-2 1zm-1 0zm-7-1zm-9-1zm-15 0zm-3 1zm0 0zm-1 0zm-3-1zm-67 1zm-9 1zm-10 0zm-5 0zm4 2zm15-1zm4 2zm1-2zm1 2zm5 0zm50-2zm8 0zm0 0zm35 2zm7 0zm2-2zm0 2zm4 0zm1-2zm1 1zm1-1zm4 1zm1 1zm2-1zm1 0zm0-1zm2 1zm1 1zm3 0zm0-1zm2-1zm2 0zm0 2zm2-2zm0 2zm0-1zm0 1zm1-1zm6-1zm1 2zm5-2zm1 0zm2 1zm1-1zm5 0zm1 2zm-6 3zm-1-1zm-1-1zm0 2zm-1-1zm0 1zm-4-2zm-3 0zm-1 0zm-3 0zm-1 0zm-2 1zm-1 1zm-1-2zm-2 1zm-2-1zm-5 2zm-7 0zm-3-2zm-1 1zm-17 1zm-6 0zm-38-2zm-3 0zm-3 2zm-3 0zm-41 0zm-10-1zm-5 1zm-8 0zm-6 3zm1-2zm8 0zm3 0zm27 2zm26-1zm2-1zm8 2zm1-1zm4 0zm43 0zm6 1zm2-1zm2 1zm3-2zm1 1zm4-1zm1 2zm0-1zm6 0zm1 1zm3 0zm5 0zm8-2zm0 1zm1-1zm0 2zm0-1zm1 1zm0 0zm0 0zm4-1zm0 1zm0-2zm3 1zm1 0zm3 0zm2 1zm2 0zm3-1zm0 3zm-2 0zm0-1zm-2 1zm-1 1zm0-1zm-2 1zm0-2zm-3 2zm-1-2zm-1 0zm-2 2zm-3-1zm-1 1zm-2-1zm0 0zm-3 1zm-1 0zm-3 0zm-1-1zm0 1zm-2-1zm-2-1zm-3 1zm-3 0zm0 1zm-1 0zm-2-2zm-1 2zm-3-1zm-9 1zm-5-2zm-2 0zm0 2zm-56-1zm-14 1zm-15-1zm0 1zm-1-2zm-5 1zm0 0zm-8 1zm-8-2zm-10 0zm-7 1zm-2 3zm1-1zm4 0zm2 1zm0 1zm3 0zm6-1zm15-1zm3 2zm1-1zm94 0zm3 1zm10-2zm0 0zm2 2zm1-2zm1 2zm1-2zm4 0zm2 0zm2 0zm2 2zm3 0zm2 0zm0-1zm1 0zm0 1zm0-1zm1 0zm2 0zm2 1zm2 0zm2-2zm3 1zm3 1zm1-1zm2 1zm4-2zm0 1zm1 0zm0 2zm-11 1zm-4-1zm0 2zm-2 0zm-3 0zm-1 0zm-1-2zm-2 2zm0-2zm-1 1zm0-1zm0 1zm-2-1zm-1 2zm-1 0zm-2 0zm-9-2zm-2 0zm-11 2zm-14-2zm-51 1zm-5 1zm-10 0zm-5-2zm-6 2zm-3-2zm-8 1zm-17 0zm-3-1zm-8 1zm0-1zm11 4zm1 1zm3 0zm10-2zm13 0zm74 1zm14 1zm6-1zm5 1zm1-1zm2 0zm0 1zm4-2zm1 2zm6-1zm0 0zm2 0zm4 1zm1-2zm1 2zm4 0zm3 0zm1-1zm3 0zm5 0zm0-1zm1 0zm2 1zm2-1zm1 0zm1 0zm1 2zm0-1zm1 3zm-6 0zm-1 1zm-4 0zm-4-1zm-2 1zm-12-2zm0 2zm-2-1zm-4 1zm0 0zm-1-2zm-5 0zm0 2zm0-1zm0 1zm-1 0zm-1 0zm-1 0zm-1 0zm-3 0zm-7-2zm0 2zm-9-1zm0 0zm-9 1zm-49 0zm-1 0zm-7-2zm-19 1zm-9-1zm-5 0zm-4 0zm-12 1zm-1 1zm-4 0zm-1-1zm3 3zm10-1zm37 2zm9-2zm4 0zm50 2zm1 0zm2-1zm9 1zm1-2zm6 2zm10 0zm2-2zm3 1zm1 1zm2-2zm2 1zm1 1zm0 0zm1-2zm3 2zm1-2zm1 0zm1 2zm6-1zm1 1zm1-1zm2-1zm2 2zm7 0zm2 0zm3 0zm-4 2zm-4-1zm-1 2zm-2-1zm-1-1zm-1 0zm-5 2zm-1-1zm-1 1zm-6-2zm-1 2zm0-1zm-2 0zm0 1zm-5 0zm-4-2zm-1 0zm-1 1zm-1-1zm0 1zm-1 1zm-2-1zm0 0zm-6 1zm0 0zm-2-1zm-1 0zm-3 0zm-1 0zm-1 0zm-3 0zm-5 1zm0 0zm0-2zm-52 0zm0 2zm-8-1zm-7-1zm-22 0zm-10 1zm-3 1zm-9-1zm-3 0zm-2 0zm17 4zm9-1zm1 1zm10-1zm2 1zm6-1zm68 1zm12-1zm3 0zm0-1zm9 2zm0-2zm2 2zm1-2zm0 1zm1 0zm0-1zm1 1zm1 1zm1-1zm1 0zm1 1zm2 0zm6 0zm3 0zm4 0zm4-2zm2 2zm8-2zm1 1zm3-1zm1 5zm-1 0zm-5-1zm-2 1zm-3-1zm-6-1zm-17 1zm-1-1zm-2 1zm-1 1zm-5-1zm0 0zm-5 0zm-1 0zm-1 1zm-1 0zm-52-2zm-1 0zm-11 0zm-2 0zm-1 0zm-9 1zm-28 0zm-23-1zm12 3zm0 0zm12 0zm8 1zm51 1zm3-1zm1 0zm15-1zm1 1zm1-1zm1 1zm10 1zm14 0zm4 0zm1 0zm0 0zm3 0zm2-1zm2 0zm1 0zm0-1zm5 1zm1 0zm3 0zm1-1zm1 2zm4-1zm2-1zm3 0zm10 1zm2 1zm2-1zm1 1zm-1 3zm-4 0zm-6 0zm-2-2zm-4 2zm-4 0zm-7-2zm-1 2zm-1 0zm0-2zm-1 1zm0 0zm-1 0zm0 1zm-2 0zm0 0zm0-1zm-2-1zm0 0zm-3 2zm-1 0zm0-1zm-2-1zm0 2zm0 0zm-2-1zm-1 1zm-3 0zm-5-1zm-1 0zm-2 1zm0 0zm-4-2zm-6 1zm-5-1zm-6 0zm0 1zm-8-1zm-3 1zm-3 1zm-2-2zm-17 1zm-2 0zm0 0zm-17 0zm-4-1zm-14 0zm-23 0zm-5 3zm1 2zm2-1zm4 1zm0-1zm13-1zm2 0zm1 2zm1 0zm2-2zm4 0zm9 2zm1-1zm4-1zm5 2zm3-2zm7 1zm8 0zm8-1zm2 2zm8-2zm5 0zm11 2zm5 0zm5-2zm8 0zm1 0zm5 2zm0 0zm1-1zm1 1zm0-2zm6 2zm1-1zm0 1zm3-1zm1 1zm0-2zm3 2zm1-1zm3-1zm8 1zm0-1zm1 0zm1 2zm3-1zm11 1zm4-1zm1-1zm-7 3zm-2 2zm-7 0zm-1-1zm-1 1zm-3-1zm0 0zm-2 0zm-5 0zm-3 0zm-8 0zm-2 0zm-4 1zm0-2zm-3 0zm-2 0zm-5 0zm-9 1zm-19 0zm-7 0zm-2-1zm-1 2zm-25-2zm-1 1zm-3-1zm-7 1zm-6 1zm-30-2zm-5 2zm1 3zm3-1zm2 1zm9-2zm1 1zm8 1zm17-1zm16 1zm1-2zm4 1zm3-1zm33 1zm16 1zm4 0zm6-1zm2-1zm2 2zm0-1zm2-1zm0 0zm3 2zm1-1zm4 1zm2-1zm0-1zm1 1zm0 1zm2-1zm1 0zm0-1zm2 2zm0-2zm3 2zm5 0zm1-1zm4 1zm5-2zm3 2zm0 2zm-2 1zm-1-1zm-5 1zm-6 0zm-2-2zm-1 1zm-4-1zm0 1zm0-1zm-4 0zm-2 2zm0-1zm-2 0zm0 0zm-1 0zm-3-1zm-2 2zm-4-2zm-1 1zm0 1zm-21-1zm-6 1zm-2 0zm-3-1zm-5 1zm-11 0zm-2 0zm-3-2zm-3 1zm-3 1zm-4-2zm-12 2zm-1-2zm-5 1zm-2 0zm-7-1zm-1 1zm-2 0zm-32 1zm-1 2zm7-1zm2 0zm18 0zm8 0zm1 1zm12 0zm1 1zm0 0zm1-2zm2 0zm16 2zm21-1zm2 1zm2 0zm6-1zm6 0zm7 1zm2 0zm3-2zm1 1zm1 0zm2 0zm7 1zm1-1zm1-1zm3 2zm6-1zm0-1zm2 2zm4-2zm2 2zm2-1zm2 0zm0-1zm3 1zm0-1zm2 0zm1 1zm1 1zm3 1zm-1 1zm-6-1zm-2 2zm-1-1zm-3 1zm-2-1zm-1 1zm-1 0zm0-1zm-2 1zm-13-1zm-1-1zm-4 0zm-1 1zm-33-1zm-19 1zm-1 1zm-8-1zm-7 1zm-16-1zm-11 0zm-5 1zm-1-1zm-4 0zm-7-1zm-8 0zm4 4zm6 0zm2 0zm12-1zm2 2zm31 0zm12-2zm25 2zm15-1zm2-1zm2 1zm5 0zm0 1zm1 0zm2-1zm2-1zm0 2zm7-2zm2 1zm1 0zm0-1zm1 2zm0-2zm2 0zm1 1zm0-1zm1 2zm0-2zm0 1zm4 0zm2-1zm5 2zm1 0zm0-2zm1 0zm1 0zm4 0zm1 1zm1 0zm0 1zm-1 1zm-10 2zm-1 0zm-3-1zm-1 1zm-1-1zm-1 1zm-2-2zm-9 2zm-1 0zm-1-2zm0 2zm-2-2zm-10 2zm-2 0zm0 0zm-2 0zm-5 0zm-17 0zm-16-1zm-20 0zm-5 1zm-1 0zm-13 0zm-17 0zm-9-2zm4 3zm2 1zm3 0zm30-1zm3 1zm8 1zm7-2zm2 2zm1-2zm7 2zm12-2zm3 1zm5-1zm4 2zm14 0zm11-2zm3 2zm7-1zm1-1zm1 0zm1 2zm1-2zm0 1zm1 0zm1 1zm2-2zm4 1zm1 0zm0-1zm1 0zm5 2zm0-2zm1 2zm-5 1zm-1 2zm-1 0zm-2-1zm-1-1zm-1 1zm-5 1zm-2-2zm0 1zm-8 1zm0 0zm0-2zm-1 0zm-7 1zm-2-1zm-3 1zm0 0zm-1 1zm-6 0zm-6-1zm-10-1zm-4 0zm-9 2zm0 0zm-1 0zm-1-1zm-4 0zm-14-1zm-3 1zm-5-1zm-1 0zm-1 0zm-24 2zm-12-1zm0-1zm-5 3zm1 2zm1 0zm3-1zm6 0zm10-1zm11 1zm17 1zm3 0zm16-2zm14 2zm7-2zm4 1zm4 0zm14-1zm4 2zm1 0zm8-1zm3 0zm5 1zm0-1zm4-1zm4 2zm-2 2zm-2 0zm0-1zm-3 1zm0 0zm-2-1zm0 1zm-2-1zm-1 0zm-2 1zm-6-1zm-8 1zm-8 0zm-30-1zm-31 2zm-1-1zm-11 0zm-2-1zm-3 2zm-9 0zm-8-1zm-1 1zm-4 1zm2 0zm13 1zm40-1zm0 2zm4 0zm2 0zm6-1zm3 1zm1-2zm8 0zm2 2zm6-2zm15 2zm3 0zm14 0zm5 0zm1 0zm7 0zm-5 3zm-2-1zm-18 1zm-7-1zm-10 1zm-3-2zm-5 2zm-35-1zm-2 0zm-1 1zm-6 0zm-11-2zm-3 2zm-7 0zm-5-1zm-8-1zm3 3zm1 0zm2 1zm1 0zm5-1zm0 2zm4-1zm1-1zm7 0zm46 1zm5-1zm7 0zm0 1zm7 1zm19-1zm0-1zm2 0zm7 2zm3 0zm0 1zm-5 2zm-11 0zm-14 0zm-11 0zm-4 0zm-15-2zm-22 0zm-17 2zm-13-1zm1 2zm1 0zm10 1zm6 0zm5-1zm2 2zm16 0zm0-2zm2 0zm5 1zm0-1zm18 1zm10 0zm20 1zm3 0zm4-1zm1-1zm-9 5zm-3-1zm0-1zm0 0zm-2 1zm-5-1zm0 1zm-7 0zm-4 0zm-8 1zm-3-2zm-6 2zm-3-2zm-2 2zm-3-2zm0 2zm-5-2zm-3 2zm-10-1zm-1 0zm-2 1zm-6 0zm-1-2zm-4 1zm-3-1zm-3 2zm1 1zm1 1zm7 1zm13-1zm17 0zm1 1zm4-2zm13 2zm3-1zm6 1zm8 2zm-6 0zm-9-1zm-1 0zm-1 1zm0 1zm-1-2zm-15 1zm-3 0zm-8-1zm-2 0zm-4 0zm-4 1zm-3 0zm-3 1zm-1 0zm-2-2zm-2 0zm9 4zm5-1zm7 2zm15-2zm6 0zm10 1z" stroke="#ff1010" stroke-width="2.5" stroke-linecap="round"/><path transform="scale(0.5)" d="M279 1172zm-13 2zm-133 2zm135 1zm14 0zm3 1zm2-1zm-21 7zm0-1zm12 1zm16 3zm-30 0zm-132 2zm124 0zm9-1zm1 2zm17 0zm12-1zm1 1zm-8 2zm-6 0zm-11-1zm-21 0zm-112 3zm114 2zm13-1zm24 1zm-6 2zm-10 0zm0 0zm-148 4zm147-1zm3 1zm28 0zm3 0zm-29 2zm-2 0zm-3-1zm-13 1zm-112 1zm-8-1zm-13 3zm8 1zm8-2zm5 0zm74 2zm1 0zm36 0zm15-2zm1 2zm21-1zm14 1zm-20 3zm-8 0zm-135-1zm-22 0zm0-1zm-1 1zm1 3zm3-1zm6 0zm118 1zm16 0zm17 1zm20 0zm7 2zm-58 0zm-3 1zm-110 3zm7 0zm6-2zm45 0zm46 2zm18-2zm16 0zm13 1zm-19 4zm-128-2zm-19 1zm-1 4zm25-2zm96 2zm2-2zm21 0zm28 1zm14 2zm-33 2zm-7 0zm-2 0zm-131 3zm133-1zm13-1zm19 5zm-27-1zm-10-1zm-113 1zm-6-1zm-12 2zm0 1zm6 2zm11 0zm23-1zm67 0zm23 1zm2-1zm9-1zm25 0zm5 2zm-14 2zm-8 0zm-5 1zm-5-1zm-107 1zm-26-1zm-12 1zm2 1zm13 1zm15 0zm29-1zm49 1zm20-1zm11 2zm29 0zm8-1zm3 0zm0 1zm2 1zm-20 1zm-7-1zm-2 1zm-9-1zm-18 2zm-34-1zm-19 1zm-2 0zm-8 0zm-30-1zm-30 0zm36 4zm20-1zm51-1zm25 1zm5 1zm9-2zm4 2zm7-2zm-20 3zm-7 1zm-7-1zm-47 1zm-48-1zm19 3zm26 1zm36 0zm1-1zm40 2zm13-2zm13 0zm-2 5zm-18-2zm-36 0zm-4 2zm-10-1zm-54 0zm-11 1zm-5 0zm-15 0zm-18-2zm3 3zm10 1zm20 1zm1-1zm9 1zm27-1zm14-1zm22 2zm47-2zm-20 3zm-47 0zm-18 0zm-9 0zm-5 0zm-38 2zm-1 1zm7 2zm12-2zm20 2zm9-2zm5 2zm20-1zm5 1zm3 0zm38-2zm10 0zm9 0zm9 1zm-5 4zm-22-2zm-2 0zm-2 0zm-11 0zm-2 0zm-13 1zm-5 1zm-10-2zm-4 1zm-22 1zm-19-2zm-33 0zm26 5zm0 0zm20-2zm45 2zm27 0zm4-2zm0 2zm1-1zm24 3zm-1-1zm-27 2zm-4-2zm-13 1zm-1 1zm-17-2zm-10 2zm-20-1zm-7 0zm-7 0zm-20 4zm58-1zm5 1zm1-1zm8-1zm11 2zm30-1zm-3 3zm-1 0zm-1 1zm-33-2zm-39 2zm-2-2zm-10 1zm-5 1zm-28 1zm23 0zm12 1zm4 0zm5-1zm43 1zm2-1zm14 2zm-65 3zm-18 0zm14 2zm50-1zm29 2zm6 0zm-17 2zm-17 1zm-6 0zm-12-2zm-30 2zm-34-1zm-2 2zm10 2zm10-1zm20 1zm28-1zm43 0zm-12 2zm-82 4zm6-1zm41 1zm6-1zm12 1zm0 1zm0-1zm18 0zm-62 4zm-20 2zm14-1zm13 0zm21 1zm3-1zm17 3zm-20 0zm-14 3zm7 0z" stroke="#f45050" stroke-width="2.5" stroke-linecap="round"/><line x1="55.8" y1="575.3" x2="55.8" y2="665.5" stroke="#000" stroke-width="1.0"/><line x1="55.3" y1="665.5" x2="165.8" y2="665.5" stroke="#000" stroke-width="1.0"/><line x1="52.5" y1="579.7" x2="55.8" y2="579.7" stroke="#000" stroke-width="0.9"/><text x="48.6" y="582.7" font-size="8.5" text-anchor="end" fill="#222">8</text><line x1="52.5" y1="603" x2="55.8" y2="603" stroke="#000" stroke-width="0.9"/><text x="48.6" y="606" font-size="8.5" text-anchor="end" fill="#222">4</text><line x1="52.5" y1="626.4" x2="55.8" y2="626.4" stroke="#000" stroke-width="0.9"/><text x="48.6" y="629.4" font-size="8.5" text-anchor="end" fill="#222">0</text><line x1="52.5" y1="649.8" x2="55.8" y2="649.8" stroke="#000" stroke-width="0.9"/><text x="48.6" y="652.8" font-size="8.5" text-anchor="end" fill="#222" textLength="10.2" lengthAdjust="spacingAndGlyphs">−4</text><line x1="83.2" y1="665.5" x2="83.2" y2="668.3" stroke="#000" stroke-width="0.9"/><text x="83" y="677.6" font-size="8.5" text-anchor="middle" fill="#222" textLength="11" lengthAdjust="spacingAndGlyphs">−5</text><line x1="111.2" y1="665.5" x2="111.2" y2="668.3" stroke="#000" stroke-width="0.9"/><text x="111" y="677.6" font-size="8.5" text-anchor="middle" fill="#222">0</text><line x1="139.2" y1="665.5" x2="139.2" y2="668.3" stroke="#000" stroke-width="0.9"/><text x="139" y="677.6" font-size="8.5" text-anchor="middle" fill="#222">5</text><text x="110.3" y="689.8" font-size="10.1" text-anchor="middle" fill="#222" textLength="49.5" lengthAdjust="spacingAndGlyphs">UMAP_1</text><text x="31.4" y="620.2" font-size="13.0" text-anchor="middle" fill="#222" transform="rotate(-90 31.4 620.2)" textLength="41" lengthAdjust="spacingAndGlyphs">UMAP_2</text><defs><linearGradient id="gb4" gradientUnits="userSpaceOnUse" x1="219" y1="0" x2="313.3" y2="0"><stop offset="0" stop-color="#a6e0a6"/><stop offset="1" stop-color="#a0e6a0"/></linearGradient></defs><path d="M224.7 587.1 L226.1 588.1 L227.6 590.4 L229 593.1 L230.4 595.4 L231.6 597.5 L232.9 599.5 L234.1 601.7 L235.3 604.1 L236.7 606.3 L238.4 608 L240.4 609.1 L242.7 609.7 L245.2 609.8 L247.8 609.8 L250.3 609.9 L252.4 610.4 L253.5 612 L253.8 614.5 L254 617.1 L254.6 619.4 L256 621.2 L258.1 622.5 L260.6 623.3 L263.5 623.6 L266.2 623.4 L268.8 622.7 L270.8 621.5 L272.4 619.9 L273.6 618 L274.5 615.8 L275.3 613.5 L276.1 611.1 L277.1 608.8 L278.1 606.6 L279 604.3 L279.4 601.9 L279.3 599.3 L278.6 596.6 L277.8 593.8 L277.5 591.9 L278.6 591.5 L280.8 592.2 L283.2 592.4 L285.2 591.1 L287 589 L288.8 587 L290.9 585.7 L293.1 585 L295.3 584.9 L297.6 585.3 L299.9 586.1 L302.1 587.3 L304.2 588.8 L306 590.6 L307.6 592.5 L309 594.6 L310.1 596.7 L311.1 599 L311.8 601.4 L312.4 603.9 L312.8 606.4 L313 608.9 L313.1 611.5 L313.1 614 L312.9 616.6 L312.6 619.1 L312.2 621.6 L311.6 624.1 L310.9 626.6 L310.1 629 L309.2 631.4 L308.1 633.7 L307 635.9 L305.7 638.1 L304.4 640.2 L302.9 642.2 L301.3 644.2 L299.7 646 L297.9 647.7 L296.1 649.3 L294.2 650.7 L292.2 652 L290.1 653.2 L287.9 654.3 L285.7 655.2 L283.4 655.9 L281.1 656.5 L278.7 657.1 L276.3 657.5 L273.8 657.8 L271.4 658 L268.9 658.1 L266.4 658.2 L263.9 658.2 L261.4 658.2 L258.9 658.1 L256.5 657.9 L254.1 657.7 L251.7 657.3 L249.4 656.8 L247.2 656 L245 655 L243 653.9 L241 652.5 L239 650.9 L237.2 649.3 L235.4 647.5 L233.8 645.5 L232.2 643.5 L230.7 641.5 L229.3 639.3 L228 637.2 L226.8 635 L225.7 632.8 L224.7 630.5 L223.8 628.2 L222.9 625.8 L222.1 623.4 L221.4 621 L220.8 618.6 L220.2 616.1 L219.7 613.5 L219.3 611 L219 608.5 L218.9 605.9 L218.9 603.5 L219.2 601.1 L219.6 598.7 L220.3 596.3 L221.1 593.7 L222.2 590.8 L223.3 588.3 L224.7 587.1Z" fill="url(#gb4)" fill-opacity="0.6"/><path d="M233.5 599.5 L237.5 607.1 L241.9 610.3 L248.6 611.2 L252.5 614.7 L254.2 620.9 L260.3 622.9 L268.7 622.6 L273.7 619.4 L277.1 613.6 L279.3 607.1 L280.4 599.5 L279.3 587.9 L271.5 582.6 L238 582.6Z" fill="#fff" stroke="#fff" stroke-width="0.6"/><path transform="scale(0.5)" d="M585 1178zm1 0zm1-1zm10 0zm-9 5zm13 0zm-1 3zm-4 2zm-15 0zm-15 0zm-115-2zm115 4zm5 1zm20-2zm4 0zm9 2zm4-1zm-15 3zm-6 1zm-23-1zm-4 0zm38 4zm14 2zm-14 0zm-10 0zm-129-1zm-10 2zm8 3zm1-2zm145 1zm9-1zm6 0zm-24 3zm-21 2zm-118-2zm110 4zm5 0zm32 1zm-60 1zm-89 1zm-7 2zm14 0zm103 2zm21-1zm18-1zm22 2zm2 2zm-150 1zm-34 3zm135-2zm21 2zm14-1zm11 3zm-15 1zm-22 0zm-26-2zm-86 1zm133 2zm13 2zm-13 2zm-9-1zm-94 5zm50-1zm12 1zm7 0zm14 0zm16-1zm-99 4zm-41 0zm8 1zm11 1zm106 0zm32 1zm-22 3zm-10-1zm-38 0zm-85-1zm9 4zm83 1zm6 0zm25-1zm20 2zm-11 0zm-11 1zm-99 0zm-24 0zm12 3zm20 0zm4 1zm53-2zm11 2zm6 0zm11-1zm15 2zm-5 2zm-4-2zm-137 0zm23 5zm2-1zm17-1zm44 1zm8 0zm15-1zm54 4zm-18 0zm-28 1zm-38 0zm-2 0zm-1-1zm-33 0zm-6 1zm-26-1zm-7 4zm1-2zm30 0zm97 1zm6 3zm-106 0zm8 3zm14-1zm1 1zm17-1zm9 2zm50 1zm-42 2zm-34 1zm88 0zm1 0zm0 2zm13-2zm-43 3zm-27 2zm-73-2zm-1 3zm58 1zm23 1zm59-2zm6 0zm-17 3zm-55 2zm-30-1zm-40 3zm134 1zm-31 3zm-87 2zm20-1zm33 1zm9 0zm50 2zm-2 1zm-20 1zm-26-1zm-1 1zm-28-1zm-20 1zm-13 0zm11 1zm2 0zm42 1zm45 1zm-53 2zm-41 2zm55 0zm24 4zm-45 1zm-1 1zm40 3zm-13 1z" stroke="#00ff00" stroke-width="2.5" stroke-linecap="round"/><path transform="scale(0.5)" d="M591 1170zm2 0zm2 1zm6 3zm-11 0zm-3 3zm1 1zm7-1zm7-1zm-7 3zm-3 1zm-3 0zm-6 0zm-136 4zm3-2zm139 1zm7-1zm12 4zm-14-1zm0 0zm-21 2zm-7 0zm-111-1zm-1 2zm125 1zm4 0zm12 0zm5 0zm3-1zm1 2zm13-1zm-8 4zm-3-2zm-5 1zm-29 0zm-129 4zm11-1zm129-1zm0 2zm9-2zm9 2zm15-1zm2 1zm2-1zm-15 2zm-1 1zm-2-1zm-2 2zm-12-1zm-5-1zm0 1zm-6-1zm-118 1zm-13 0zm-5-1zm0 1zm3 2zm149 2zm1 0zm29-1zm-31 3zm-19 1zm-10-1zm-100 1zm-8-1zm-3-1zm-1 1zm7 4zm0 0zm75 0zm57-1zm12-1zm15 2zm8 1zm-5 2zm-2-1zm-6-1zm-12 0zm-2 0zm-2 0zm-5 1zm-2-1zm-2 0zm-128 2zm-9-1zm-4 1zm6 1zm15 2zm61 0zm4-2zm33 1zm9 1zm2-2zm5 0zm9 1zm9 0zm25 1zm-2 1zm-12 0zm-12 1zm-13 0zm-6-1zm-3 2zm-57 0zm-78 1zm8 2zm5-2zm9 2zm43-1zm10 0zm48 0zm13-1zm4 2zm28 2zm-25-1zm-14 2zm-5-1zm-8 1zm-1 0zm-9 0zm-107 3zm21-2zm107 0zm12 0zm12 0zm4 0zm0 2zm6-1zm1-1zm1 1zm10 3zm-15 0zm-6-1zm-22 0zm-19 0zm-69 1zm-18 0zm-10 1zm-11-1zm16 3zm38 1zm65-1zm0 1zm6-1zm13 0zm4 1zm32 0zm0-2zm7 2zm-8 3zm-16 0zm-6-1zm-10 0zm-2 1zm0 0zm-7 0zm-17-2zm-70 0zm-21 0zm-22 4zm114 1zm1 0zm5-1zm25-1zm2 2zm6-2zm15 0zm6 4zm-3-1zm-19 1zm-7 0zm-19 0zm0 0zm-15-1zm-1 2zm-56-1zm-14 0zm-41 1zm9 2zm8 0zm7 1zm21-2zm54 0zm3 1zm32 1zm9-1zm8 1zm14 0zm11 0zm-15 1zm-2 1zm0 0zm-2 1zm-16 0zm-17-1zm-35 0zm-35 1zm-3-1zm-27 0zm-15 1zm-6 0zm19 3zm7-1zm6-1zm20 1zm3 0zm13-1zm30 0zm8 1zm5-1zm18 2zm3-2zm5 1zm11 0zm25 0zm1-1zm-20 4zm-8 0zm-5-1zm-7 2zm-2 0zm-1-1zm-4 1zm-36-2zm-10 0zm-18 1zm-4 1zm-2 0zm-13 0zm-15-1zm-14 1zm-10 3zm16-2zm1 1zm31 0zm30 0zm18 0zm12 0zm5-1zm18 1zm11 1zm4-1zm19 4zm-57 0zm-25 0zm-45-2zm0 1zm-38 4zm9-2zm24 1zm28-1zm9 2zm21 0zm2-1zm35-1zm24 0zm0 1zm-16 3zm-3-1zm-50 1zm-4 0zm-9 0zm-3 1zm-25-1zm-2-1zm-4 1zm-19-1zm20 5zm9 0zm18-2zm18 2zm22-1zm7 1zm6-1zm2 0zm28 0zm3 3zm-7 1zm-8-1zm-5-1zm-28 2zm-2-1zm-15-1zm0 0zm-22 2zm-38 1zm2 2zm44-2zm3 1zm4 0zm14-1zm37 2zm22-2zm-7 5zm-2-2zm-62 0zm-15 1zm-26-1zm-5 2zm-16-1zm-11-1zm-1 2zm8 2zm1-1zm29 0zm2 1zm12-1zm4 2zm14-1zm37 1zm5-2zm8 0zm18 0zm10 1zm-17 2zm-7 2zm-17-1zm-22 0zm-1 1zm-6 0zm-3 0zm-29-2zm-24 1zm-17 0zm48 4zm7 0zm12-1zm9-1zm3 0zm2 1zm9 0zm4 0zm16 1zm26 1zm-1 0zm-51 1zm-36 0zm-12 1zm-8-2zm-10 1zm-11 1zm-4 1zm30 0zm40 2zm5 0zm12-1zm8 1zm8 0zm29 0zm-26 2zm-25-1zm-18 1zm-4 0zm-18 0zm-29 0zm-3 1zm-3 1zm15 0zm22 0zm6 1zm2 0zm23 0zm10-1zm2 1zm24 1zm14 0zm-17 1zm-3 0zm-19 1zm-2-1zm-58 1zm-3-1zm-7 5zm18-2zm5 2zm8 0zm1 0zm14 0zm3-2zm26 2zm2-1zm-2 3zm-48 0zm-16-1zm-1 4zm20 0zm43-1zm-15 4zm-26 0zm-8-1zm7 3zm7 2zm2 0zm10 0zm2-1zm7 0zm10 0z" stroke="#6be96b" stroke-width="2.5" stroke-linecap="round"/><path transform="scale(0.5)" d="M590 1175zm-7 2zm15 2zm-8 0zm-2 1zm-9 1zm6 3zm6 0zm-1 3zm-4-2zm-134 0zm158 6zm-8 2zm-28 0zm-9-2zm-109 1zm-11 4zm19 0zm109-1zm44 2zm-6 2zm-23-1zm-20-1zm-2 3zm21 0zm22 1zm11 0zm1 3zm-16 1zm-2 0zm-6-2zm-32 1zm-110 0zm117 3zm8-1zm26 0zm8 2zm-16 1zm-19 2zm-125-1zm-14 4zm18 0zm52 0zm12 0zm68-1zm5 0zm0 0zm12 0zm-1 2zm-98 2zm-43-1zm-26 1zm151 3zm30 2zm-5-1zm-10 1zm-1 0zm-6 1zm-7-1zm-3 1zm-1 0zm-122-2zm-2 0zm-17 4zm31-1zm22 2zm68-2zm8 0zm22 2zm9-2zm-152 4zm-13-1zm17 5zm113-2zm21 1zm25 0zm7-1zm-5 5zm-32-2zm-29 1zm-58 1zm-31-2zm19 4zm1 0zm64-1zm62 0zm-60 4zm-48-1zm-13 2zm-7-1zm-30 1zm-9-1zm4 2zm58 0zm40 2zm31 0zm10 0zm29-1zm-8 3zm-37-1zm-10 1zm-53 0zm-5-1zm-21 2zm-8-2zm3 5zm22 0zm45-1zm2-1zm28 2zm3-2zm3 1zm18-1zm15 5zm-3-1zm-20-1zm-10 2zm-22-1zm-3-1zm-58 0zm-28 0zm-21 2zm7 2zm10-1zm14 0zm132 2zm-48 1zm-60 1zm-25-1zm-11 2zm5 3zm4 0zm46-1zm6-1zm23 2zm54-1zm-19 2zm-1 1zm0 1zm-70 0zm-15 0zm-8-1zm-16-1zm-9 4zm18-1zm0 1zm45-1zm3 0zm5 2zm1 0zm6 0zm43-2zm11 0zm9 4zm-32 1zm0-1zm-119-1zm102 3zm2 0zm9 2zm9-1zm5 0zm-6 2zm-12 2zm-1-2zm-2 0zm-2 2zm-18-2zm-13 0zm-11 1zm-5 0zm-26 1zm-16-2zm3 5zm2 0zm65 0zm24 3zm-2-2zm-29 1zm-11 1zm-57-1zm-5 2zm7 2zm42-2zm4 0zm26 2zm51 2zm-2 0zm-27 0zm-13 1zm-30-2zm-10 2zm13 1zm26 0zm39 2zm-36 3zm-7 0zm-4-1zm-4 1zm-17-2zm-13 2zm0 0zm-35 1zm35 2zm15 0zm10-1zm6 1zm2-1zm40 2zm-16 1zm-57 1zm-23-1zm59 2zm28 5zm-24-2zm-9 0zm-12 2zm-7-1zm-24 2zm2 1zm45 1zm2 0zm16-2zm-6 3zm-57 0z" stroke="#b8dcb8" stroke-width="2.5" stroke-linecap="round"/><path transform="scale(0.5)" d="M582 1172zm3-1zm1 1zm8 0zm0 0zm9 3zm-1-1zm-3 0zm-2 1zm-3 0zm0 0zm0-2zm-3 0zm-1 2zm0 0zm-1-2zm0 0zm-1 1zm-2-1zm-1 1zm-2 1zm-1-2zm-132 2zm-1 0zm0 1zm0 1zm2-1zm1 1zm123 1zm3 0zm3 0zm2-1zm3 0zm1 1zm0-2zm3 2zm0 0zm1-1zm1 1zm5-1zm2-1zm0 2zm1-1zm2 0zm0 0zm8 3zm-3 1zm0-2zm-3 1zm-1-1zm-3 0zm-3 0zm-4 2zm-5-2zm-3 0zm-1 0zm-1 0zm0 1zm-1-1zm-1 2zm0 0zm-1-1zm-2 0zm-1 1zm0 0zm-1-2zm-1 0zm0 2zm-3 0zm-117 3zm106 0zm10 0zm3 0zm3 0zm2 0zm2-1zm1 1zm0-1zm0 0zm8 1zm1 0zm0-2zm1 1zm0-1zm1 2zm5-2zm2 1zm1-1zm1 2zm1-2zm2 0zm5 3zm-1 1zm-1-1zm-2 0zm0 0zm-6 1zm-12 0zm-5 1zm-1 0zm-3-1zm0 0zm-1 1zm-3 0zm0 0zm-6-1zm-5-1zm-1 1zm-2 1zm-2-2zm-2 1zm-111 2zm2 0zm2 1zm10 0zm97 0zm2 0zm7-1zm2 0zm2 2zm4-1zm7-1zm1 2zm3 0zm1-2zm2 2zm3-2zm1 2zm1-1zm2 1zm3 0zm0-1zm9-1zm1 0zm5 1zm-1 3zm-6 1zm-3-1zm-2 1zm-3-1zm-2 0zm-1 1zm-1-2zm-1 0zm-7 2zm-7-2zm-6 2zm-1-2zm-1 0zm-8 2zm-107-1zm-6 0zm-2 1zm-1 0zm0 0zm0-1zm-1 1zm-2 0zm-1-2zm-1 0zm4 3zm0 1zm6 1zm4 0zm100-1zm6 1zm7-2zm9 2zm2-1zm3 1zm5-2zm2 1zm0 1zm7-1zm2 1zm0 0zm0-1zm1 0zm3 1zm3-1zm9-1zm1 1zm1-1zm5 4zm0 0zm0 0zm-2-1zm0 2zm-5 0zm-2-2zm-3 2zm-1-1zm-1 0zm0-1zm-3 2zm-3 0zm-1-1zm0 0zm-3 0zm0-1zm-10 1zm-9 1zm0 0zm-10 0zm-7 0zm-1 0zm-98-1zm-9-1zm-4 2zm-7 0zm0-1zm-4 3zm123 1zm8 0zm10-2zm2 0zm2 0zm2 0zm7 0zm1 2zm8 0zm1 0zm0 0zm5-2zm1 2zm0 0zm2-1zm1 0zm5 1zm1 0zm1-2zm1 2zm4 2zm0 1zm-10 0zm-10-1zm-6 1zm-1-1zm-1-1zm-4 2zm-2-2zm-2 1zm-15 1zm-7-1zm-5 0zm-16-1zm-84 0zm-2 1zm-3 1zm-5 0zm-10 2zm3 1zm18-2zm2 2zm1 0zm76-1zm6-1zm14 0zm5 0zm20 2zm0-2zm2 0zm1 0zm2 0zm1 1zm1 1zm1-2zm7 1zm7 1zm0 0zm5-2zm4 2zm1-1zm3 1zm2 0zm2 2zm-2 0zm0 1zm0-2zm0 0zm-2 2zm-1-2zm-9 2zm-1-1zm-1-1zm-3 2zm-5 0zm-2 0zm-3 0zm0 0zm0-1zm-5 0zm-2-1zm-2 2zm0 0zm-6 0zm-3-1zm-2 0zm-3 1zm-1 0zm-6-1zm-9-1zm-10 1zm-8-1zm-1 1zm-10 1zm-63-2zm-6 2zm-11 0zm-4 0zm-3 0zm3 3zm4-2zm0 1zm11 1zm5-2zm0 0zm2 0zm0 0zm3 1zm52 1zm4-2zm33 2zm4-1zm14 1zm1-2zm5 2zm0-1zm5 0zm2 0zm0-1zm0 0zm4 1zm1 1zm3-1zm1 1zm0-2zm1 1zm2-1zm2 0zm2 0zm3 2zm2 0zm3 0zm6-2zm6 0zm0 2zm-5 3zm-3-1zm0 0zm0-1zm-2 2zm0 0zm-1-1zm-2-1zm0 2zm-2-2zm-3 1zm-4-1zm-1 0zm-9 1zm-1 1zm-28 0zm-35-1zm-8 1zm-5-1zm-5 1zm-40-2zm0 2zm-6-1zm-1 0zm-2 0zm0-1zm-19 0zm4 5zm17 0zm16 0zm31 0zm0 0zm1-1zm1 1zm1-2zm3 1zm4-1zm33 1zm6-1zm6 2zm15-1zm1 0zm0-1zm5 1zm2 0zm0 0zm3 1zm3 0zm4 0zm4 0zm9 0zm6-1zm1 0zm2 1zm5 3zm-1-1zm-1-1zm-10 2zm-3-2zm-5 0zm-8 1zm0-1zm-2 1zm-1 1zm-1-2zm-1 2zm-2-1zm-2-1zm-1 1zm-4 1zm-2-2zm-1 1zm-2 0zm-2 1zm-3-2zm-4 0zm-3 2zm-2 0zm-1-2zm0 0zm-14 2zm-37-2zm-4 1zm-6-1zm0 1zm-15 0zm-4 1zm-4-2zm0 2zm-1-2zm-5 1zm-17 0zm0 0zm-3-1zm-10 0zm-1 0zm0 0zm-1 1zm-1 1zm-1-1zm0 1zm-1-1zm0 0zm0 3zm0-1zm7 2zm5 0zm4-1zm4-1zm5 0zm12 0zm15 1zm60 1zm6 0zm2-2zm3 0zm19 0zm3 1zm2-1zm1 1zm0-1zm7 0zm4 1zm4 1zm1-1zm1 1zm1-1zm12-1zm4 1zm3 2zm-1 1zm-13-1zm-2 2zm-4 0zm-2-2zm-4 0zm-2 2zm0-2zm-2 2zm-7-1zm-3 1zm-2-1zm-14 1zm-13-2zm-48 1zm-13 0zm-8-1zm-3 1zm-1 1zm-26 0zm-7-2zm-3 0zm-2 0zm-1 1zm-1-1zm0 0zm3 4zm5 1zm5 0zm3 0zm8 0zm22 0zm73 0zm7 0zm1-1zm4 0zm1 0zm2 0zm5 0zm5-1zm3 1zm11-1zm12 1zm10 0zm1-1zm-6 4zm-3 1zm-7-1zm-4 1zm-6 0zm-3-2zm-3 2zm0 0zm-3-2zm-6 1zm-2-1zm-1 2zm-26 0zm-1-2zm0 1zm-47 0zm-1 1zm-1 0zm0 0zm-6-2zm-19 2zm-3-1zm-4 0zm-1-1zm-10 0zm-5 0zm-3 2zm-3-1zm-1 0zm-6 1zm2 1zm8 0zm3 2zm37 0zm12-2zm1 2zm50 0zm10 0zm7-2zm8 1zm3-1zm11 2zm2-1zm2-1zm1 0zm1 0zm1 2zm0 0zm11-1zm0 1zm2-2zm8 2zm2 2zm-3 0zm-2 0zm-5-1zm0 1zm-1-1zm-6 1zm-1 0zm0 0zm-1 1zm-9 0zm-4 0zm-1-2zm-2 0zm-1 2zm-1-2zm-1 0zm-3 2zm-2-1zm-6 1zm0-2zm-4 2zm-4-2zm-4 0zm-4 0zm-5 2zm-8-2zm-33 0zm-9 1zm0-1zm-4 0zm-40 1zm-16-1zm-1 1zm1 2zm1 2zm4-2zm1 2zm1 0zm1-1zm8 1zm7 0zm15 0zm2-1zm13-1zm2 2zm3 0zm5-2zm36 0zm1 2zm6-2zm2 1zm2 0zm2 1zm9 0zm1 0zm0 0zm5-1zm0-1zm1 0zm7 2zm0-2zm0 2zm5 0zm0-1zm0 0zm0-1zm3 1zm1 1zm2-1zm6 1zm3 0zm4-2zm2 0zm12 0zm5 1zm0 1zm1-1zm0 2zm-2 2zm-2-2zm-8 0zm-1 2zm-2 0zm-11-2zm-1 2zm0-1zm-4 1zm0-1zm-4 1zm-1-1zm-1 0zm-3-1zm-8 1zm-3 0zm-15 0zm-11 1zm-6-2zm-2 2zm0-1zm-17-1zm-5 0zm-1 2zm-7-2zm0 0zm-10 1zm-6-1zm-6 1zm-2-1zm-6 0zm0 0zm-5 1zm-15 0zm-7 1zm0-1zm17 2zm1 0zm0 1zm4-1zm2 2zm25 0zm9 0zm10 0zm13-1zm3-1zm6 0zm6 0zm5 0zm15 1zm4 1zm1 0zm0-2zm1 0zm2 2zm1-1zm5 1zm1 0zm2-2zm3 0zm6 1zm1 1zm0-2zm4 2zm4-1zm14 0zm3 1zm1 3zm-11-2zm-5 0zm0 0zm-1 0zm-2 0zm-10 0zm-2 2zm0-1zm-1-1zm-2 1zm-3 1zm-1-2zm-10 0zm-6 2zm-4-2zm-9 0zm-1 0zm-10 1zm0 1zm-6 0zm-8-1zm-5 1zm-2-2zm-12 1zm-15 1zm-11-1zm-7 1zm-11 0zm-12-2zm0 1zm-1 0zm-2 0zm0 2zm4 2zm13-2zm11 1zm1 1zm8-1zm7 0zm18 1zm7-2zm8 2zm8-1zm2-1zm11 2zm7 0zm4-2zm12 2zm1 0zm3-2zm4 2zm0 0zm1-1zm1-1zm3 1zm3 1zm1 0zm1-1zm3 0zm0 1zm4-2zm3 1zm2-1zm3 1zm2 1zm7-2zm2 0zm5 0zm1 0zm-2 4zm-6-1zm-2 2zm0 0zm-1-1zm-2-1zm-3 2zm-4-2zm-1 1zm-3 0zm-14 0zm-2-1zm-16 0zm-12 1zm-30-1zm-4 0zm0 2zm0-1zm-10 0zm-7 0zm-21 1zm-6-1zm-17 1zm-4-2zm-2 2zm-1-1zm0 1zm-2-2zm0 1zm7 2zm38 0zm8 0zm6 2zm5-1zm5 0zm8 1zm2-2zm21 1zm6 1zm2 0zm4 0zm4-1zm9 0zm2-1zm1 2zm2 0zm6-2zm6 0zm1 2zm0-2zm4 0zm2 1zm3-1zm9 2zm6 3zm-3 0zm-3 0zm-2-2zm-8 1zm-3-1zm-4 0zm-1 0zm-1 2zm-9 0zm-1-2zm0 2zm0 0zm-1 0zm-2-1zm-8 1zm-13-1zm-17 1zm-15 0zm-1-1zm-8-1zm-9 0zm-4 2zm-3-1zm-3 0zm-12-1zm-9 1zm-1 1zm-17-1zm-2-1zm-2 3zm8 1zm2-1zm3 0zm5 1zm1 0zm14-1zm6 2zm3 0zm1-2zm12 1zm2-1zm10 1zm31 0zm18 0zm1 0zm3 0zm4 0zm2 1zm1-1zm1-1zm3 1zm4 0zm4 0zm3 0zm7-1zm0 2zm2-1zm5 1zm0 0zm5-1zm-3 3zm-8 1zm0-1zm-4-1zm-4 1zm-3 1zm-1-2zm-11 0zm0 1zm-15-1zm-1 0zm-5 0zm-6 1zm-1 0zm-5 1zm-1-2zm-3 0zm-2 1zm-11-1zm-8 1zm-1 0zm-8 0zm-2 1zm-9-1zm-1 0zm-8-1zm-4 1zm-16-1zm-15 3zm5 1zm0-1zm6 2zm8-1zm1-1zm15 2zm7 0zm11 0zm4 0zm26 0zm30-1zm3-1zm3 2zm10-2zm1 0zm0 2zm4 0zm4-1zm2-1zm5 2zm9-1zm0 1zm-11 3zm-5-1zm-1 1zm0-1zm-14 1zm-5-1zm-7-1zm-2 2zm-6-1zm-6 0zm-13 1zm-10-2zm-15 2zm-1-2zm-15 2zm-2-1zm-3 1zm-4 0zm-13-2zm-6 1zm-3-1zm-1 2zm-4-2zm-2 0zm-4 1zm0 2zm9 2zm3-2zm2 2zm12 0zm1-2zm10 1zm13-1zm0 0zm1 1zm4 0zm5-1zm11 1zm11-1zm2 2zm6-1zm7 0zm3 0zm7 1zm11-1zm9 0zm4-1zm2 1zm2 1zm9 1zm-2 2zm-6-2zm-6 1zm0 0zm0 0zm-1 1zm-1 0zm-1-2zm-4 2zm-13-1zm-6 1zm-30 0zm-2-1zm-17-1zm-2 1zm0 0zm-2 0zm-6 1zm-13-2zm-9 2zm-3-1zm-11 0zm-4 4zm3-2zm2 0zm1 0zm0 2zm2-2zm3 2zm0 0zm19-1zm1 0zm22-1zm0 1zm8 0zm7 1zm2-1zm3 0zm1-1zm2 0zm7 2zm1-1zm11-1zm2 0zm10 2zm2 0zm10-2zm1 2zm2-1zm6 0zm0 1zm2 0zm0-1zm3 1zm1 0zm3 0zm1-1zm-4 3zm-1 1zm-1-1zm0 0zm-5 0zm-7 0zm-6 0zm-31-1zm-2 1zm-2 1zm-2-1zm-6-1zm-13 0zm-6 0zm-10 0zm-35 1zm-4 2zm5 1zm4-1zm1 0zm10 1zm14-1zm3 1zm10 1zm12-1zm9 1zm9 0zm2 0zm1 0zm4-2zm1 1zm2 1zm17-2zm0 2zm5-1zm2-1zm6 2zm0-1zm2 0zm4 1zm-2 1zm-15 2zm-3-2zm-6 1zm-22 1zm-4 0zm-15 0zm-12-1zm0 1zm-15-1zm-13-1zm-11 1zm-2-1zm1 3zm6 1zm7 0zm14-1zm8 1zm2 0zm8 0zm5 1zm14-2zm5 0zm2 1zm17 1zm5 0zm14-1zm6 0zm3 1zm1 0zm3-2zm-1 3zm-5 2zm-14-2zm-7 1zm-2 0zm-2 1zm-5-1zm-1-1zm-1 0zm-10 0zm-7 0zm-7 2zm-5 0zm-1-2zm-36 2zm-1-1zm-5 0zm-1-1zm-2 1zm1 2zm3 1zm0 1zm2 0zm1 0zm11-1zm1 1zm14-2zm0 1zm8 1zm7-1zm0 0zm9 0zm18 0zm0 0zm20 1zm8-1zm-2 2zm-6 2zm-1-1zm-9 0zm-1 1zm-12-1zm-14-1zm-4 1zm-1-1zm-1 0zm-11 1zm-4 1zm-2-2zm-3 1zm-1-1zm-3 1zm-3-1zm-9 1zm-1 0zm0-1zm-1 1zm-1 0zm-3-1zm-3 0zm6 5zm1-1zm5 0zm1-1zm0 2zm13 0zm12-1zm4 0zm3-1zm11 1zm3 1zm1-1zm3-1zm5 1zm11 0zm1 0zm1 1zm1 0zm3-1zm0-1zm-7 4zm-4 1zm-8-1zm-2 0zm-3 0zm0 1zm-1-2zm0 0zm-2 1zm0 1zm-6-2zm-5 2zm-5 0zm0-1zm0 0zm-5 0zm-3-1zm-5 2zm-5-1zm-1-1zm0 1zm-13 0zm-5-1zm16 3zm1 1zm0 0zm5 0zm3-1zm2 0zm5 1zm4-1zm3 1zm0 1zm5-2zm12 0zm4 0z" stroke="#94e894" stroke-width="2.5" stroke-linecap="round"/><path transform="scale(0.5)" d="M587 1175zm1 3zm1 0zm5-1zm-6 2zm-3 0zm-133 5zm1 0zm123 0zm8 0zm3 0zm3-1zm0-1zm2 0zm4 2zm7 0zm7-1zm-7 3zm-1 0zm-1-1zm-3 2zm0-1zm-4 0zm-6 1zm-2-2zm-10 0zm-2 0zm-1 0zm-117 1zm-1 1zm-7 0zm0-2zm132 4zm6-1zm5 2zm4-2zm1 2zm1-2zm6 0zm8 1zm-12 2zm-11 2zm-11-2zm0 0zm-4 1zm-3-1zm-2 1zm-3 3zm0-1zm10 1zm2-1zm11 0zm0 2zm4 0zm7-1zm6 1zm8 2zm-8 0zm-10 1zm-4 0zm-9-2zm-5 2zm-3-2zm-4 2zm-2-2zm-3 2zm-1-2zm-2 2zm-107-2zm-1 1zm-8 2zm12 0zm104 2zm13 0zm12-1zm22 1zm12-1zm-11 2zm-3 2zm-14-1zm-8 1zm-9-1zm-117-1zm-2 1zm-7 1zm-8-2zm0 3zm6 0zm1 2zm3 0zm3-2zm1 1zm3 1zm85-2zm27 0zm2 2zm8-2zm13 0zm7 1zm3 1zm2 0zm2-1zm8 2zm-4 2zm-15-1zm-13 1zm-3 0zm-6 0zm-105 0zm-2-1zm-11 0zm-1 1zm-1 0zm0 0zm-5 0zm-2 0zm0 0zm-4 1zm4 0zm3 0zm6 2zm7 0zm7 0zm51-2zm51 0zm9 1zm9-1zm2 1zm0 1zm7 0zm2-1zm1 1zm13-2zm-6 4zm-2 0zm-3-1zm-1 1zm-15-1zm-6 2zm-1-2zm-2 1zm-2 0zm-1-1zm-7 1zm-6 1zm-100-2zm-4 1zm-1-1zm-2 0zm-1 1zm-1 1zm-4-1zm-4 1zm-1 0zm-6-1zm10 2zm5 0zm7 1zm97 1zm3 0zm4-1zm4 1zm2-1zm2 0zm3-1zm8 2zm8-2zm14 1zm1 1zm10-2zm2 0zm-1 4zm-13 0zm-2 0zm0-1zm-1 2zm-4 0zm-28 0zm-4-2zm-4 1zm-59-1zm-28 0zm-1 2zm-9 0zm0-1zm-7-1zm-11 0zm-2 2zm-3-1zm1 2zm7 1zm3 0zm3 0zm2 0zm2 0zm6 1zm93 0zm18-1zm2 1zm3 0zm0-2zm1 1zm16 1zm2-2zm13 5zm0-1zm-6 0zm-9-1zm-6 0zm-11 2zm-12 0zm-1-1zm0-1zm-73 2zm-5 0zm-1-2zm-16 1zm-9-1zm0 1zm-1 0zm-8 1zm-1-1zm-9 4zm6 0zm8-1zm1 0zm2 1zm6 0zm0-1zm8 0zm2 0zm74 0zm9 1zm1-1zm2-1zm1 1zm8 1zm6 0zm1 0zm5 0zm3-2zm3 1zm5-1zm2 2zm5-2zm0 2zm7-1zm1 4zm-3-1zm-8 0zm-12 1zm-1 0zm0-1zm0-1zm-2 2zm-2-2zm-3 2zm0 0zm-1-2zm-3 2zm-3-1zm-2 1zm-2-2zm0 1zm-1 1zm-6-1zm0-1zm0 1zm-9 1zm-49-1zm-21 1zm-7 0zm-2-2zm-4 1zm0 0zm-6 1zm0 0zm-5-1zm-4-1zm0 1zm-3 1zm-5 0zm0 0zm-1-2zm-1 2zm7 1zm12 2zm0 0zm1-1zm13-1zm4 0zm12 1zm65 1zm2-1zm3 1zm1-2zm0 2zm1 0zm1 0zm3 0zm6 0zm1 0zm5-1zm1 1zm8-1zm9 0zm4 0zm5-1zm-5 3zm0 0zm-7 1zm-3 1zm-1-2zm-4 0zm-3 1zm-2-1zm-3 1zm-2-1zm-6 0zm0 0zm-3 1zm-1 0zm-3-1zm0 0zm0 1zm-1 0zm-8 1zm-1-1zm-1 0zm-8 1zm-50-1zm-3 1zm-2 0zm-1-2zm-1 0zm-6 0zm-1 1zm-5 0zm-6-1zm-9 2zm-3 0zm-3-2zm-5 0zm-8 3zm4 0zm3 2zm1-2zm1 1zm0-1zm1 1zm0 1zm1 0zm2-2zm1 2zm1 0zm8 0zm4-1zm7 0zm6-1zm0 0zm13 2zm3-2zm0 0zm11 2zm31 0zm7-1zm4-1zm10 0zm2 1zm0 1zm2-2zm15 1zm24-1zm1 2zm-23 1zm-6 1zm-1 0zm-3 1zm-2-1zm-1 1zm0-1zm-1 1zm-4 0zm-4 0zm-3-1zm-21 1zm-36-2zm-15 2zm-3-2zm0 1zm-3 0zm-8 0zm-5-1zm-13 3zm1 0zm4 2zm4 0zm9 0zm5-1zm3 1zm2 0zm5-2zm9 0zm2 2zm11-1zm36-1zm0 1zm8 0zm1 1zm2-2zm1 2zm4-1zm12 1zm1 0zm3-1zm6 0zm1 0zm10-1zm24 2zm-31 2zm0 0zm-8 0zm0 1zm-2 0zm-2-1zm-3 0zm0 0zm-3 1zm-1-1zm-20-1zm-6 0zm0 1zm-44 1zm-19 0zm-4-2zm-2 2zm-4 0zm-2-1zm-4 0zm-11 0zm-1 2zm1 1zm5 0zm5 0zm9 1zm0 0zm6-1zm8-1zm8 2zm3-2zm0 0zm7 1zm13-1zm5 2zm1-1zm2 0zm1 0zm4-1zm3 1zm2 1zm5-1zm5 1zm6 0zm9-1zm4 0zm5 0zm3 1zm1-2zm5 2zm3-1zm2-1zm0 2zm0-2zm2 2zm2-2zm5 0zm6 0zm8 0zm-6 3zm-8 0zm-8 0zm-8 1zm-2-1zm-2 0zm0 0zm-10 0zm0 2zm-1-1zm-3 1zm0-1zm-1 1zm-21-1zm-2-1zm-1 1zm-4 0zm-6 0zm-1 1zm-4 0zm-11 0zm-3-2zm0 0zm-1 2zm-1-2zm0 1zm-1 1zm-3 0zm-1-1zm-3 1zm-12-1zm-2 1zm0-2zm-1 2zm-7-2zm-7 1zm-7-1zm-5 1zm-4 0zm7 4zm3-1zm0 1zm6-1zm6 0zm1 0zm1 1zm6 0zm2-1zm5 0zm3 1zm1-2zm0 1zm2-1zm13 0zm2 0zm7 0zm4 1zm2 0zm0-1zm9 0zm3 2zm3-1zm0 0zm4 0zm18-1zm1 1zm4 1zm14 0zm0-2zm0 1zm10 0zm4 0zm3 1zm13-1zm7-1zm-15 3zm-3 1zm-4 1zm-5-1zm-5 0zm-9-1zm-2 2zm0 0zm-3-1zm-2 0zm-2-1zm0 2zm-8-1zm-2 0zm-2 1zm0 0zm-5 0zm-7 0zm-4 0zm-1-2zm-2 0zm-4 2zm0-2zm-5 0zm-1 2zm-8-2zm0 0zm-21 1zm-5-1zm-2 2zm-3-1zm-3-1zm-1 2zm-5-1zm-7 1zm-2 0zm-14 0zm14 3zm0-1zm3 1zm4 0zm7 0zm2-2zm6 1zm4 0zm2-1zm5 1zm1 0zm1-1zm0 0zm1 1zm7-1zm6 1zm4-1zm3 2zm1-1zm4 0zm3-1zm1 1zm9-1zm4 2zm1-2zm1 1zm4 0zm0 0zm1 0zm3-1zm1 1zm10 1zm5-1zm19-1zm1 2zm7 0zm3-1zm8 0zm-12 4zm-13-2zm-9 1zm-4-1zm-1 1zm-4 0zm-2-1zm-7 2zm-6-2zm-9 0zm-20 2zm-2-2zm0 0zm-6 0zm-2 2zm-1-1zm-15-1zm-4 0zm0 1zm-8-1zm-2 0zm-2 1zm-6 0zm0 0zm-4 0zm0-1zm-1 2zm-1-1zm-5 3zm3 1zm1-1zm10 1zm1-1zm8 1zm1-1zm2 0zm1 0zm12 1zm4-2zm0 2zm0-2zm5 0zm4 0zm4 1zm0 0zm4-1zm5 1zm2-1zm7 0zm1 1zm1 0zm1 0zm0-1zm2 1zm12 0zm0-1zm2 2zm3-1zm8-1zm1 0zm1 1zm2-1zm1 0zm1 2zm3-1zm7 0zm2-1zm0 1zm1-1zm1 1zm1 1zm4-2zm1 1zm10 3zm-3 0zm-2 0zm-5-1zm-14 0zm-7 1zm-1 1zm-3 0zm-1 0zm-3-1zm-3 1zm0 0zm-3 0zm0-1zm-3 0zm-4-1zm0 0zm-4 2zm-3 0zm0 0zm-10 0zm-5-1zm-13-1zm0 2zm-5 0zm-9-1zm-8 0zm0 0zm-1 0zm-4 1zm-13-2zm0 1zm-4 0zm-1 1zm-8-2zm11 4zm6 1zm29 0zm3-2zm0 1zm3-1zm2 2zm1 0zm5-2zm1 0zm6 2zm3-1zm4 0zm2 1zm4-2zm2 1zm0-1zm5 0zm0 0zm2 0zm4 1zm1-1zm2 1zm4 1zm0 0zm9-1zm0 0zm2 1zm3-1zm3-1zm2 2zm0-1zm3-1zm6 2zm1-1zm10 0zm-7 4zm-3-1zm-5 0zm-4 1zm-8-1zm-2-1zm-3 2zm-1-1zm0 1zm-3-1zm-6 1zm-3-1zm-10-1zm-1 2zm-3-2zm-1 0zm-2 2zm-6 0zm0-2zm-1 1zm-1-1zm-3 0zm-2 2zm-2-1zm-10-1zm0 2zm-4 0zm-1 0zm-8-1zm-6 0zm-4 1zm-12 0zm-4-1zm-8 1zm-4 3zm4 0zm5 0zm2-2zm5 1zm9 1zm1-1zm5-1zm6 1zm5 0zm2 1zm0-1zm7 1zm5 0zm1 0zm0-2zm10 0zm1 1zm0 0zm2 0zm3 0zm3 0zm1-1zm3 0zm2 2zm3-1zm1-1zm0 2zm5-1zm1 0zm1 0zm4 0zm2 0zm1 1zm1 0zm2-2zm1 1zm5 1zm0-1zm3 1zm9-1zm-8 3zm-7 0zm-2 1zm-9-2zm-3 0zm0 1zm-2 0zm-5 1zm-2-1zm-3-1zm-4 0zm-3 2zm0-2zm-3 0zm-3 0zm-3 2zm0 0zm-2 0zm-1-1zm0 0zm-5 0zm-4 0zm-3 1zm-3 0zm0-1zm-2-1zm-4 0zm-2 2zm-8-2zm0 0zm-2 0zm-2 2zm-3-1zm-14-1zm0 0zm9 4zm2-1zm3 2zm1 0zm3-2zm8 2zm4 0zm2-1zm7 1zm6-1zm4-1zm0 2zm0-2zm4 2zm12-1zm2 0zm7-1zm3 1zm1 0zm4 1zm0-2zm2 1zm3 1zm2-1zm15 1zm5 0zm8 0zm-23 2zm-5-1zm-1 1zm-7-1zm-2 0zm-1 2zm-3-2zm-2 1zm-1 1zm-7 0zm-12 0zm-1 0zm-1-2zm-1 0zm-1 2zm-11-1zm-6 1zm-7-2zm-4 1zm-1-1zm-2 2zm-10 1zm2 2zm0 0zm1-2zm2 1zm7 1zm5 0zm17 0zm3-2zm9 0zm13 1zm7 1zm3-2zm10 1zm4 0zm7 1zm8-2zm6 1zm-10 4zm-22-2zm-10 0zm-1 2zm-1 0zm0 0zm-5 0zm-5-2zm0 2zm-1-1zm-2-1zm-16 1zm-1-1zm-2 1zm0 1zm-6-1zm-1 1zm-4-1zm-8-1zm-11 1zm3 2zm13 0zm0 0zm1 0zm5 2zm0 0zm10 0zm0 0zm3 0zm2-2zm2 1zm4 0zm5 1zm4-2zm4 1zm1 0zm9-1zm13 2zm6-1zm8 0zm5 2zm-6 0zm-19 0zm-1 1zm-1-1zm-5 2zm-1-1zm-1-1zm-2 1zm0 0zm0 1zm-1-2zm-9 2zm-1-2zm-2 0zm0 0zm-20 2zm-2-2zm-7 1zm-4-1zm-3 0zm12 3zm1 1zm18-1zm0 2zm10 0zm17-1zm21-1zm-19 5zm-4-2zm-28 0zm-1 2zm0 0zm-5-2zm-3 2zm-6 0zm24 1z" stroke="#d0d0d0" stroke-width="2.5" stroke-linecap="round"/><path transform="scale(0.5)" d="M586 1172zm2-1zm3 4zm-17 3zm3-2zm7 2zm12-1zm7 1zm-4 2zm-1-1zm-6 2zm-5-1zm-5-1zm-6 0zm-123 1zm-2 2zm3 2zm0-2zm106 1zm21 0zm1 0zm13-1zm8 2zm0 0zm6-2zm4 3zm-2 1zm-7 1zm-21 0zm-7 0zm-10-2zm-5 1zm-111 1zm-1-1zm113 4zm2-2zm12 1zm4 0zm1 1zm7-1zm1 0zm11-1zm13 1zm-4 3zm-7 0zm-15 1zm-5 0zm-1 0zm-1-2zm-1 2zm0 0zm-12-1zm-3 1zm-115-2zm-9 5zm2 0zm3 0zm10 0zm5-1zm136 0zm2-1zm3 0zm10 2zm-21 2zm-19 0zm-109 0zm-6 0zm-16 2zm113 0zm11 1zm3-1zm6 2zm14-2zm4 1zm8 1zm1 0zm1-1zm3-1zm12 2zm2-1zm0 2zm-4 2zm-14 0zm-24-2zm-2 2zm-10-2zm-121 1zm-5 2zm6 0zm13 0zm80 2zm22 0zm2 0zm13-2zm12 2zm2-1zm1 1zm0-2zm3 0zm22 1zm7 4zm-27-1zm-9-1zm-46 1zm-77 4zm7-2zm56 2zm60 0zm6-2zm5 2zm11 1zm-33 0zm-41 0zm-18 1zm-1 1zm0 0zm-42-2zm-12 1zm-18 2zm6 2zm12 0zm7 0zm1-2zm2 1zm40 0zm2 0zm5-1zm67 1zm31 0zm7 0zm4 1zm-9 1zm-2 0zm-11 2zm-7 0zm-36-2zm-1 0zm-68 1zm-6 1zm-24 0zm-3-2zm7 4zm25 1zm84-2zm4 1zm6 1zm29-1zm4-1zm6 0zm-5 3zm-18 2zm-1-1zm-5 1zm-11-2zm0 1zm-4 0zm-1 0zm-2 1zm-4-1zm-86-1zm-9 0zm-38 2zm27 1zm96 2zm13 0zm15-2zm8 2zm20-1zm1 1zm3-2zm-3 4zm-32 1zm-22 0zm-90-2zm-13 0zm-2 3zm1 1zm5 1zm89-1zm16-1zm1 0zm17 0zm17 1zm1 3zm-17 1zm-17 0zm-4 0zm-1-1zm0 1zm-71-2zm-39 1zm-8 0zm-8 0zm27 3zm0 1zm34-1zm37 1zm8 0zm12-1zm21-1zm0 2zm1-2zm18 3zm-2 2zm-10 0zm-13-1zm-13 0zm-68-1zm36 4zm1 1zm26 0zm19-1zm4-1zm24 0zm10 5zm-18-1zm-19 0zm-4 1zm-8 0zm-2-2zm-5 0zm-8 2zm-13-1zm-2 1zm-9 0zm0-2zm-7 0zm-10 1zm-34 0zm-7-1zm-21 4zm21 0zm0 1zm15 0zm2 0zm6-2zm10 0zm2 2zm9-2zm5 1zm39 0zm11-1zm16 2zm4-1zm5-1zm2 2zm9 2zm-18 0zm-4 1zm-6-2zm-50 2zm-13-2zm-3 2zm-44 0zm-12 0zm-1 1zm18 2zm12-1zm20 1zm26 0zm22-1zm33 0zm11 0zm20 1zm-11 3zm-3-2zm-20 0zm-14 1zm-37-1zm-28 0zm-2 0zm-13 1zm-15-1zm-11 0zm-8 4zm20 0zm8-1zm7 1zm11 1zm2 0zm19 0zm37-1zm7 1zm21 0zm6-1zm10-1zm1 2zm6-2zm0 5zm-23-2zm-2 0zm-5 0zm-21 1zm-12-1zm-31 2zm-58 1zm1 0zm3 2zm9-1zm12-1zm67 1zm4 1zm10-1zm12-1zm2 1zm2-1zm10 0zm4 1zm20 2zm-6 0zm-13 2zm-49-2zm-27 1zm-10 0zm-4 1zm-35 1zm3 0zm2 1zm16-1zm1 0zm20 0zm7 0zm10 2zm6-1zm15 0zm8 1zm6-2zm18 0zm6 0zm3 1zm13 0zm-33 3zm-22-1zm-4 0zm-13 2zm-2-1zm-18-1zm-6 1zm-27-1zm-9 0zm29 5zm17-1zm37-1zm8 2zm33-2zm13 0zm-14 3zm-23 0zm-9 0zm-2 1zm0 0zm-48 1zm-1-2zm-31 0zm33 4zm38 1zm18-1zm3 0zm27 1zm-4 1zm-26 0zm-66 2zm-24-2zm37 5zm20 0zm1-2zm16 0zm0 0zm10 2zm23-1zm-31 2zm-11 0zm-20 2zm-14 0zm-27 1zm18 1zm29-1zm28 0zm5 1zm3 1zm20-2zm-19 3zm-5 1zm-21 1zm-22-2zm-14 1zm-12 3zm30 0zm10 1zm2-2zm33 2zm-16 1zm-45 0zm8 4zm18 0zm1-1zm4 0z" stroke="#6be96b" stroke-width="2.5" stroke-linecap="round"/><path transform="scale(0.5)" d="M582 1172zm1 0zm1-1zm2-1zm4 1zm7 0zm5 4zm-3-1zm-2 0zm-1-1zm-6 2zm-1 0zm0-1zm-1-1zm-4 1zm-2-1zm0 0zm-1 1zm-1 0zm-134 4zm129-1zm4 0zm3 1zm1 0zm2-2zm0 2zm6-2zm1 1zm0-1zm2 0zm3 0zm0 2zm14 3zm-4-2zm-1 1zm-3 0zm-1 1zm-2 0zm0 0zm-1 0zm-1-1zm-1 1zm-2 0zm0-1zm-2 0zm0-1zm-2 0zm0 0zm-1 1zm-1 0zm0-1zm0 2zm-3-2zm-1 0zm-4 1zm-1 0zm0 0zm-2 1zm-1-1zm0 1zm-1 0zm0-2zm-123 1zm-6 0zm-2 3zm10 1zm106 0zm17 0zm1-2zm0 0zm1 0zm2 2zm0-1zm4 1zm1-1zm3-1zm0 2zm1-2zm2 1zm2-1zm2 2zm2 0zm0-2zm1 2zm1 0zm1-2zm1 0zm4 2zm5-1zm2 3zm-3 1zm-2 0zm-6 0zm0-1zm-2-1zm-2 0zm-1 0zm-1 0zm-2 1zm-5 1zm-1-1zm-5 1zm-1 0zm-4 0zm-3 0zm-6 0zm-1 0zm-117 0zm-1-2zm-9 5zm1-2zm11 1zm1-1zm2 1zm105 1zm3-1zm2-1zm1 0zm5 1zm1-1zm1 0zm1 0zm1 0zm4 2zm4 0zm0-1zm1 1zm4-2zm0 1zm5-1zm1 1zm3 0zm0 0zm5 1zm1 0zm5 0zm4-1zm1 2zm-2 0zm-3 2zm-8-1zm-4-1zm-3 1zm-2 0zm-5-1zm-2 0zm-1 2zm-2-1zm-1 0zm0 0zm-1 0zm-1 0zm-4-1zm-4 0zm-12 1zm-113 0zm-5-1zm-1 4zm0-1zm2 1zm1 0zm118 0zm1 0zm3 1zm1 0zm3-2zm10 1zm3 1zm5 0zm9-1zm2 1zm1-1zm0 0zm2 0zm1-1zm1 1zm2 1zm1-2zm1 1zm7 1zm1-1zm5 3zm-1 1zm-3-1zm0 0zm-2 1zm0-1zm-1 1zm-4-2zm-8 1zm-4-1zm0 0zm-1 1zm-2-1zm-1 0zm0 2zm-1-1zm-5 0zm-2 0zm-2 0zm-3 1zm-3-1zm-15-1zm-2 1zm-111 1zm-7 0zm0-1zm1 2zm1 2zm17 0zm1-2zm97 1zm6 0zm5 1zm7-2zm4 2zm6-2zm10 1zm2 1zm7-2zm1 0zm3 1zm1 0zm0-1zm3 2zm0-1zm6-1zm3 4zm-2 0zm-1 0zm-4 0zm-3 0zm-1-1zm-3 1zm-4 0zm0-1zm-1 1zm-1 1zm-2-2zm-2 1zm0 0zm-2 1zm-5-2zm-1 1zm-3 1zm-2-2zm-4 0zm-1 1zm-1 0zm-1-1zm-18 1zm-1-1zm-2 0zm-3 0zm-91 0zm-3 2zm-7-1zm-5-1zm-1 1zm-7 1zm-1 1zm7 2zm1-1zm1 1zm2-1zm6 1zm5 0zm5-2zm69 2zm26-1zm1 0zm0 0zm16-1zm2 2zm5 0zm0 0zm4 0zm11-2zm1 0zm4 1zm2 0zm2 1zm7-2zm0 0zm0 2zm2 0zm3-2zm2 3zm-5 2zm-4-2zm-1 2zm0-1zm-10-1zm-1 1zm0 1zm-2 0zm-3-1zm-1 0zm-3 0zm-3 1zm-1-2zm0 0zm-3 1zm0 0zm-9 0zm-8 1zm-2 0zm-6 0zm-3-2zm-17 0zm0 1zm-1-1zm-2 1zm0-1zm-1 1zm-3 1zm-1-2zm-5 2zm-59 0zm-9-1zm-3-1zm-20 1zm0-1zm0 1zm-1 4zm1-1zm3-1zm5 2zm3 0zm11-1zm2-1zm6 2zm5 0zm43 0zm15-2zm13 0zm13 1zm12 1zm0-1zm16 0zm1 1zm1-2zm8 1zm5-1zm2 2zm0-1zm5 0zm2-1zm8 1zm1 0zm1 2zm-1 1zm-1-1zm-1 2zm-10-1zm-5 1zm-1-2zm-3 1zm-1 1zm-1-2zm-6 0zm-23 1zm-1 0zm-6 0zm-2 1zm-30-1zm-8-1zm-3 0zm-9 2zm-1-1zm-37 1zm0-1zm-15-1zm3 4zm3 0zm4-1zm7 0zm2 1zm6 1zm28 0zm1-2zm0 1zm5-1zm0 1zm2 1zm5-1zm10 0zm43 1zm2 0zm2-2zm4 0zm0 2zm2-2zm1 0zm4 1zm0 1zm9-1zm1 1zm2-1zm0-1zm1 2zm4-2zm0 1zm0 1zm1-2zm0 2zm1-2zm0 0zm0 1zm3-1zm1 0zm2 1zm2 0zm1 1zm2 0zm2 0zm1-1zm0-1zm1 2zm3-1zm-3 2zm-3 2zm-8 0zm-2-1zm-2 1zm-7 0zm-1 0zm-4-1zm-4 0zm-92 1zm-5 0zm-15-1zm-18-1zm-8 2zm-1 0zm-3-1zm-1 1zm-3-2zm-5 0zm0 0zm-2 3zm1 0zm1 2zm2-1zm6 1zm3 0zm8-2zm3 0zm10 2zm1-1zm0 0zm83 0zm0 0zm0-1zm7 1zm5 0zm3 1zm3-1zm6-1zm3 0zm13 2zm3-1zm2 0zm3 1zm1-1zm5 1zm6-1zm6 0zm2 0zm0 3zm-1-1zm-1 2zm-3 0zm-2-2zm-9 2zm-4 0zm-4-2zm-1 1zm-3 0zm-2 1zm-1-2zm-1 1zm-10 1zm0-2zm-4 1zm-2 0zm-3 1zm-5-2zm-1 0zm-5 1zm-5-1zm-56 2zm-3-2zm-2 1zm-8-1zm-3 0zm-12 0zm-2 1zm-7 1zm-1-2zm-16 1zm-5 1zm-1 3zm0 0zm4-1zm6 1zm1-1zm24 0zm16-1zm59 0zm3 1zm7 1zm2-2zm9 1zm7 0zm5 0zm6 1zm0 0zm1-1zm1-1zm4 0zm8 2zm5-1zm7-1zm1 2zm0-2zm1 0zm3 0zm3 2zm0 0zm0-1zm1 1zm-1 2zm-2 0zm-4 0zm-10 1zm-12-2zm-1 1zm-2 1zm-2 0zm0-2zm-2 0zm-3 1zm-2 1zm-1-2zm-3 2zm-3 0zm-4 0zm-3-2zm-3 0zm-13 2zm-2-2zm-2 2zm-45 0zm-1-1zm-18 0zm-1 0zm-9 0zm-15 1zm-1-2zm-1 0zm-17 0zm-2 0zm3 4zm0 1zm14-2zm8 0zm10 0zm10 1zm5 1zm10-2zm0 2zm51-1zm1 0zm1 1zm3-1zm3-1zm25 0zm3 2zm1 0zm5 0zm1 0zm1-1zm0-1zm4 2zm7 0zm1-1zm3-1zm1 0zm1 0zm3 0zm4 2zm3-1zm-1 4zm-3-2zm0 2zm-6 0zm-3-1zm-1 1zm-1-2zm-8 0zm-3 1zm-4 1zm-2-2zm-4 0zm0 0zm-6 1zm-4-1zm0 1zm-13 0zm-7 1zm-1-2zm-1 2zm-2-2zm-9 2zm-37-1zm-1 0zm-2 0zm-1-1zm-27 0zm-16 2zm-2-1zm-5 1zm-3 0zm-3-2zm-2 1zm0 0zm-2 1zm0-1zm3 4zm3-2zm1 2zm8-1zm24-1zm19 2zm9-1zm2 0zm30 1zm2-2zm7 1zm7 1zm13-1zm6-1zm0 2zm6-1zm3 1zm1 0zm10-2zm21 1zm4-1zm2 1zm-1 4zm-4-1zm-4 1zm0 0zm0-2zm-7 0zm-5 1zm-8 0zm-3-1zm-3 2zm-1-2zm0 1zm-1 1zm-2 0zm0-1zm-2-1zm-4 0zm-4 1zm-1 1zm0-2zm-2 1zm-27 0zm-3 1zm-4-2zm-12 2zm-2 0zm-5-2zm-1 1zm-5 0zm0-1zm0 2zm-14-2zm-16 2zm-28-1zm0 1zm-1-2zm-1 2zm-3-1zm-5 0zm8 3zm4-1zm3 0zm17 1zm0 0zm1 0zm12-1zm8 1zm1 0zm14-1zm6 1zm8 1zm0-1zm1 1zm7-2zm4 2zm7 0zm3-2zm3 2zm23-2zm3 0zm1 2zm6-1zm2-1zm4 1zm2 0zm4 1zm5-2zm1 0zm3 1zm1-1zm5 1zm9 1zm-4 2zm-6 1zm-6 0zm-9-2zm-1 2zm-2 0zm-1-2zm-1 2zm-3 0zm-1 0zm-1-2zm-1 1zm0 0zm-3 0zm-11 1zm-3-2zm-2 2zm-14-2zm-2 1zm-4 1zm-9-2zm-3 1zm-2-1zm-1 2zm-10-2zm0 1zm-4 0zm-7 0zm-17 0zm-2 0zm-15-1zm-6 2zm-19-1zm-1-1zm-1 1zm-2 2zm4 1zm5 0zm7 0zm8-1zm26 2zm17-1zm8-1zm6 0zm2 1zm43 0zm2 1zm6 0zm2-1zm2 1zm5 0zm2-1zm0-1zm0 0zm2 1zm3-1zm4 0zm4 1zm3-1zm7 2zm1 0zm4-1zm-1 4zm-7-2zm-1 0zm-10 0zm0 0zm-1 1zm0 1zm-5-1zm-1-1zm-2 1zm-2 0zm-9-1zm-2 1zm-6-1zm-2 2zm-1-1zm-8 0zm-2 0zm-9 0zm-12-1zm-2 0zm-24 0zm-21 1zm-1-1zm-4 2zm-1 0zm-3-2zm-7 0zm-3 1zm-10 1zm-7-2zm-2 0zm25 3zm24 1zm3-1zm8 2zm13-2zm6 2zm21 0zm7 0zm8 0zm3-1zm12 1zm5 0zm2 0zm1 0zm3-2zm15 0zm7 0zm1 2zm0 2zm-13 1zm-1-1zm-2-1zm-5 1zm-1-1zm-1 2zm-2-2zm-8 1zm-8 1zm-3-2zm-5 1zm-11-1zm-13 2zm-9-2zm-2 0zm-21 1zm-15-1zm-7 0zm-1 2zm-30 0zm-7-1zm-2 0zm12 2zm0 0zm35 1zm4-1zm5 1zm20 0zm8 0zm1 0zm5 0zm19 0zm1 1zm2-1zm2-1zm1 2zm2-2zm2 1zm0 0zm8 0zm4-1zm1 2zm10 0zm3-1zm1-1zm3 2zm8-2zm2 2zm0-2zm0 1zm0 1zm1-2zm2 0zm2 2zm-2 2zm0-1zm-2 2zm-3 0zm-2-2zm-1 0zm-5 2zm-1 0zm-2-1zm-5 0zm-1-1zm-7 1zm-1-1zm-3 2zm0-2zm-4 0zm0 2zm-1-2zm-4 2zm-23-1zm-2 0zm-25-1zm-3 2zm-6-2zm-7 2zm-24-1zm-3 1zm-1 0zm-2 0zm-13 0zm-7-2zm0 2zm1 3zm8-1zm2 1zm3-2zm3 0zm8 0zm1 2zm2 0zm8 0zm21 0zm2 0zm6 0zm6 0zm10-1zm11 1zm19-2zm1 0zm1 1zm1-1zm9 2zm6-1zm19 1zm4-2zm3 1zm1-1zm1 2zm0 2zm-5-1zm0 1zm-2-1zm-8 2zm-1-1zm-1 1zm0-2zm-7 2zm-5 0zm-3-1zm-1 1zm-4-2zm-3 0zm-10 0zm-2 1zm-1-1zm0 2zm-17 0zm-9-2zm-5 1zm-8 1zm-2-1zm-2 0zm-2 0zm-24-1zm-19 1zm-12-1zm0 2zm-1-1zm13 3zm1-1zm7 2zm4-1zm7 0zm4 0zm4 1zm8 0zm6-2zm0 1zm8-1zm1 1zm7 0zm9-1zm1 1zm2 0zm1 1zm11-1zm2 1zm22-2zm0 1zm3-1zm2 0zm2 2zm0-2zm7 0zm1 1zm2-1zm1 1zm0-1zm2 2zm5-1zm4 0zm3 1zm-8 2zm-1-1zm-1 1zm-7 0zm-2 1zm-1 0zm0-1zm-3 1zm-3-2zm-18 2zm-1 0zm-30-1zm0-1zm-12 2zm-3 0zm-2-1zm-2-1zm-8 0zm-18 0zm-4 2zm-2 0zm-13 0zm-6-2zm-1 2zm1 1zm0 0zm3 1zm4 0zm4 0zm1-1zm7 1zm26 0zm8 0zm1 0zm2 1zm20 0zm4-1zm1 0zm22 0zm4 1zm4-2zm5 2zm20-2zm2 4zm0 0zm0-1zm-3 2zm0-1zm-2 0zm-2 0zm0-1zm-2 0zm-2 2zm-1-1zm-4 0zm-9 1zm-8-2zm-2 2zm-4 0zm-1 0zm-25-1zm-1 0zm-2-1zm0 0zm-11 0zm-3 0zm-10 2zm-12-2zm-3 2zm-9-1zm-5 1zm-7-1zm-1-1zm-2 1zm2 3zm31-1zm0 2zm2 0zm8-1zm9 0zm0 0zm5 1zm7-1zm2 0zm3 0zm4 0zm1 1zm2-2zm3 1zm5-1zm8 0zm2 2zm0 0zm4 0zm4 0zm22-2zm3 1zm3-1zm-2 3zm-4 2zm-27-2zm-13 0zm-1 0zm-3 2zm-4 0zm-4-1zm0-1zm-2 2zm-4-1zm-14 0zm-3-1zm-1 2zm0 0zm-19 0zm-9-2zm-3 0zm-5 2zm-2 0zm-1-1zm-5 0zm0 0zm0 2zm1 0zm1 2zm2-1zm15-1zm1 1zm10 1zm1-1zm13 0zm10 1zm3-2zm7 0zm1 2zm7-1zm1-1zm6 0zm37 4zm-5-1zm0 2zm-12 0zm-18-2zm-2 1zm0-1zm-1 1zm0 0zm-3-1zm0 2zm-3-1zm-3 1zm-13 0zm-17-1zm0 0zm-4-1zm0 2zm-17 0zm-11 0zm-3 0zm5 2zm0 1zm8-1zm19 0zm3-1zm1 0zm9 2zm1 0zm1-1zm9-1zm2 0zm2 1zm4-1zm3 1zm1 1zm1-1zm6-1zm1 1zm24 1zm8-1zm-12 3zm-2 0zm-1-1zm-3 2zm-4-2zm-11 1zm-17 1zm-2-1zm-3-1zm-3 2zm-5 0zm0-2zm-4 0zm-8 1zm-1 1zm-10 0zm-10 0zm-1-2zm-2 3zm4 0zm3 1zm6 0zm3-1zm0 0zm5 0zm9 0zm17 0zm4 0zm3 0zm6 2zm1-1zm8 1zm6-2zm0 2zm5-2zm2 2zm3-2zm-21 3zm-5 1zm-9-1zm-4 2zm-2-1zm-11-1zm-2 0zm-8 2zm-7 0zm-5 0zm6 1zm2 1zm7-1zm8 0zm3 2zm2-1zm0 1zm1-1zm0-1zm11 0zm3 0zm3 1zm1 0z" stroke="#94e894" stroke-width="2.5" stroke-linecap="round"/><path transform="scale(0.5)" d="M604 1175zm-8 0zm-3-1zm-14 4zm5-1zm14 4zm-2 0zm-5 0zm-13-1zm3 4zm12 0zm0 0zm3-1zm2 3zm-35 2zm8 1zm8-1zm22 1zm3-1zm7 2zm7 0zm-21 3zm-13 5zm-14 1zm1 3zm10-1zm26 2zm-18 1zm-151 1zm9 2zm8 0zm154 0zm8 3zm-14-1zm-157 3zm14 1zm114-1zm13 2zm26 1zm-3 0zm-22 1zm-1 1zm-19-2zm-57 5zm95-1zm19 1zm-9 3zm-142-1zm-2-1zm-16 0zm-12 0zm169 6zm-21 2zm-103-2zm79 5zm16-2zm10 1zm1 1zm13 0zm1-1zm-9 2zm-38 1zm-85 0zm114 4zm4-2zm11 5zm-11-1zm-11 0zm-129 0zm-12 1zm2 1zm44 2zm0-1zm5 1zm71-1zm16-1zm8 2zm14-1zm-19 3zm-5 0zm-39 1zm-87 1zm121 2zm5 0zm6-2zm16 0zm-11 4zm-11-1zm-26 2zm-12-1zm-9 0zm-36 0zm-9 0zm-14 3zm1-1zm125 4zm-6 1zm-1-1zm-2-1zm-14 1zm-5-1zm-72 1zm-30 1zm-19-2zm11 4zm46-1zm71 1zm15 0zm4-1zm8 2zm-1 3zm-13-1zm-7-1zm-41 1zm-6 0zm-36 0zm-37 1zm40 1zm66 1zm10 1zm26-2zm-35 3zm-11 2zm-11 0zm-42 0zm-42 0zm16 2zm1-1zm48 1zm16-1zm17 2zm28-2zm21 1zm1 0zm-5 4zm-28-2zm-107 4zm26 0zm39 0zm62 4zm-7 0zm-89-2zm-24 2zm-11 2zm14-1zm33 1zm7 1zm29-2zm19 1zm-50 4zm-28 0zm84 6zm-85 0zm0 2zm4-1zm46 2zm2-2zm2 7zm11 0zm4-1zm11 0zm-18 4zm-17 0zm3 4zm24 2zm-41 2zm1 0z" stroke="#00ff00" stroke-width="2.5" stroke-linecap="round"/><path transform="scale(0.5)" d="M593 1170zm8 5zm-1 0zm-15-2zm-137 3zm128 0zm1 1zm23 0zm1 0zm0-1zm-5 5zm-10-2zm-10 1zm-4 1zm8 2zm15 0zm7 3zm-7 1zm-17-1zm-14 0zm-9-1zm-101 0zm110 3zm17 2zm10-2zm2 2zm-11 1zm-129 3zm125 2zm4-2zm3 2zm9-1zm-3 3zm-17 0zm-2 0zm-12 4zm51 0zm4-1zm-21 3zm-20 0zm0 0zm-123 0zm10 4zm75 0zm8-1zm18 1zm2 0zm34 2zm-68 2zm60 1zm26-1zm2 2zm-2 3zm-14-1zm-38-1zm-111 5zm52-1zm6 1zm52-1zm13-1zm42 5zm-4-2zm-11 1zm-15 0zm-141 4zm36-1zm85 0zm30 1zm-34 2zm-75 0zm-39-1zm19 4zm23-1zm132 1zm-32 2zm-101 2zm-16 2zm97 0zm26 0zm2-1zm24 2zm-14 3zm-1 0zm-10-2zm-3 0zm-21 1zm-106-1zm0 0zm-8 0zm-8 2zm42 2zm5 1zm68-1zm6 0zm36 1zm6-2zm2 1zm-99 4zm-69 1zm20 0zm17 0zm4 0zm8 2zm29 0zm9 0zm48-1zm6-1zm10 5zm-31 0zm-2-1zm-56-1zm-28 1zm-22 2zm9 2zm108-1zm26 3zm-2 1zm-4-2zm-2 1zm0 0zm-18 0zm-3 1zm-7 0zm-35-2zm-10 1zm-26 1zm-50-2zm21 3zm2 1zm44 0zm24 1zm35-2zm20 1zm6-1zm9 1zm8-1zm0 3zm-2 1zm-23-1zm-14 2zm-6-2zm-26 1zm-44-1zm-32 2zm55 3zm39 0zm27 0zm2 0zm23-2zm-12 5zm-22 0zm-11 0zm-32-2zm-9 1zm-4-1zm-8 2zm-17 0zm-38-2zm37 4zm14-1zm17 2zm5-1zm68 1zm-9 2zm-28 0zm-26 0zm-15 1zm-49-1zm-5 1zm-11 2zm21 1zm65 0zm7 0zm18 0zm17-1zm14-1zm2 5zm-6-2zm-18 1zm-5 0zm-39-1zm-21 2zm-17 1zm11 1zm6-1zm56 0zm5 0zm1 2zm-4 3zm-6-1zm-30-1zm-16 0zm-16 2zm-1-1zm-22-1zm47 5zm15 0zm47 2zm-21 1zm-5-1zm-15 0zm-37 0zm-23-1zm-13 2zm50 2zm3 1zm43-2zm-27 3zm-33 1zm-8 0zm10 2zm8 0zm25 2zm5-2zm24 3zm-7 0zm-69 2zm-6-1zm-2 1zm-3 1zm41 0zm34 4zm-8 0zm-22 3z" stroke="#b8dcb8" stroke-width="2.5" stroke-linecap="round"/><path transform="scale(0.5)" d="M594 1173zm-7 1zm-137 1zm139 2zm15 1zm2 1zm-3 0zm-16 0zm-1 1zm0-1zm-9 1zm-5 4zm2-2zm4 1zm3 0zm5-1zm4 2zm0-2zm3 2zm7 0zm4-2zm3 4zm-9 1zm-7-1zm-6-1zm0 2zm-7-2zm-2 0zm-10 2zm-8 0zm-101 0zm-5 0zm-7 3zm2-1zm2 0zm121 0zm2 1zm2-2zm6 0zm6 0zm0 2zm7-2zm0 1zm5 1zm2-2zm0 0zm9 1zm-3 2zm-6 1zm-1-1zm-1 1zm0-1zm-1 0zm-8 2zm-1-1zm-1-1zm-22 0zm-4 0zm-110 2zm-7-1zm123 4zm3 0zm7 0zm1 0zm1 0zm3 0zm5-2zm0 0zm16 2zm1 0zm3 0zm13 2zm-5 0zm-13 1zm-2-2zm-14 2zm-1 0zm-15 0zm-12 0zm-114 0zm-4 3zm8 0zm1-1zm2-1zm116 0zm5 2zm2-1zm5-1zm5 2zm6 0zm3-2zm4 2zm0-1zm3 1zm3-1zm6 1zm1-1zm7 0zm1-1zm0 5zm-3-1zm0-1zm-33 2zm-6 0zm-2-1zm-3 1zm-3 0zm-102-2zm-8 0zm-16 4zm2 1zm2-1zm1 1zm2 0zm12 0zm6-2zm107 2zm11-2zm4 1zm10 0zm2 1zm4 0zm4-2zm5 5zm-3-2zm-6 1zm-7 0zm-9 0zm-2 0zm-8 0zm-8 0zm-7 0zm-102 1zm-1-1zm-2 1zm-11 0zm-3-2zm1 5zm0 0zm1 0zm1-2zm0 0zm7 1zm1-1zm6 1zm1 0zm1 0zm0 0zm103 1zm1-1zm3-1zm9 2zm2-2zm22 1zm9 1zm8 0zm2 2zm-4 0zm-10-1zm-10 2zm-6-1zm-1 1zm-7 0zm-4-1zm-1 0zm-12 0zm-59 0zm-37-1zm0 2zm-12 0zm-5-2zm-7 2zm-2-1zm-1 0zm6 3zm4 1zm3-1zm4-1zm2 2zm2-2zm0 0zm1 2zm1-1zm92 1zm6 0zm12-1zm13 0zm17 1zm17-1zm-4 3zm-2-1zm-8 0zm-8 2zm-8-1zm-1-1zm-4 2zm-3 0zm-3 0zm-6 0zm-7 0zm-3-2zm-3 0zm-3 0zm-48 0zm-36 1zm-5 0zm-3-1zm-1 1zm-2 1zm-4 0zm-1-2zm-3 1zm-1 0zm-2 3zm3-1zm9 1zm2-1zm5 1zm1-1zm93 1zm2 1zm1-1zm1 1zm14-2zm3 0zm16 2zm1-1zm2 1zm1-1zm1-1zm6 2zm5 0zm-7 2zm-9 0zm-2 1zm-1-2zm-6 2zm-5 0zm-7-1zm-12-1zm0 2zm-1 0zm0 0zm-1 0zm-4-1zm-2 1zm-2 0zm-2-2zm-2 0zm-74 2zm-7-2zm-1 0zm-4 1zm-3 0zm-1 0zm-3 0zm-3 0zm-3-1zm-1 2zm0 0zm-5-1zm-2 0zm7 4zm5 0zm1 0zm2-1zm3 1zm0 0zm1-1zm4 0zm0 1zm6-2zm0 0zm13 1zm66-1zm4 0zm11 1zm1-1zm0 0zm3 2zm7 0zm7-1zm6 0zm24 0zm-10 2zm-28 2zm-15 0zm-8-1zm-73-1zm-15 1zm-7 0zm-1 1zm-7-1zm-6 1zm-2-2zm-6 0zm-4 1zm8 2zm2 0zm5 2zm1-1zm12-1zm4 0zm1 0zm5 0zm12 2zm3 0zm6-2zm50 2zm16-1zm0 1zm1-2zm5 2zm8-1zm3 1zm8-1zm5-1zm1 2zm1 0zm16-1zm4 1zm-2 3zm-4-2zm0 0zm-19 2zm-8-1zm-1-1zm-10 1zm-2 0zm-4-1zm0 0zm-9 2zm-3-1zm-49 1zm-7-2zm-7 1zm0-1zm-6 2zm0-2zm-6 2zm-1-1zm-2 1zm-5-2zm0 1zm-2-1zm-4 0zm-2 0zm-2 1zm-3 0zm-2-1zm-5 1zm0 4zm1 0zm2-1zm7-1zm4 1zm1-1zm9 2zm1-2zm5 2zm1 0zm0 0zm10 0zm8 0zm56-2zm12 0zm1 1zm1 0zm8-1zm3 1zm10 1zm6 0zm5 0zm12 2zm-32-1zm-4 2zm0-1zm-4 1zm-2-2zm-1 2zm-5 0zm-1-2zm-1 1zm0 0zm-3 1zm-5 0zm-3 0zm-7-2zm-42 2zm-1-2zm-8 1zm-12-1zm-8 0zm-3 2zm-1-1zm-4 1zm-1-1zm-10 0zm0 1zm-10 0zm-2-2zm1 3zm23 2zm13-2zm3 1zm4 0zm3 1zm7-2zm1 1zm9-1zm34 0zm6 1zm17 1zm1-1zm0 0zm18 0zm6 0zm3 1zm5-1zm2 0zm0 4zm-5 0zm-7-1zm-2 1zm0-1zm-1-1zm-10 2zm-3-2zm-2 2zm-3-1zm-1-1zm-3 1zm-7 1zm-3-1zm-4 0zm-6-1zm-1 1zm-3-1zm-28 2zm-1-1zm-13-1zm-3 0zm-7 0zm-4 0zm-2 2zm-2 0zm0 0zm-24-1zm-2 1zm-7 3zm6 0zm1-2zm1 1zm4-1zm2 0zm4 1zm11-1zm2 1zm8 0zm1-1zm3 0zm5 2zm8 0zm21-2zm4 2zm2-1zm7-1zm0 1zm9-1zm4 2zm3-1zm1-1zm2 0zm9 0zm1 0zm5 2zm2-2zm7 2zm1-2zm0 2zm1 0zm3-2zm2 2zm1-1zm10-1zm2 2zm8-1zm-15 4zm0-2zm-2 0zm-4 1zm-1-1zm-5 1zm-10 1zm-1 0zm-2-1zm-1 1zm-11-1zm-5-1zm-2 0zm-1 1zm-8-1zm-7 2zm-5-2zm-4 2zm-9-1zm-14 1zm-3-2zm-1 2zm-1-1zm-2 1zm-6-1zm-5-1zm-2 0zm-2 1zm-14-1zm-1 1zm-11 0zm-3 2zm0 1zm4 0zm6 1zm2-1zm2 0zm1-1zm0 0zm8 2zm1-2zm3 1zm1 1zm1-2zm0 2zm5 0zm4-2zm1 1zm8 1zm2-2zm12 1zm3-1zm10 2zm5 0zm4 0zm7-1zm2 1zm2-1zm1 1zm0 0zm6 0zm19 0zm1-2zm1 0zm2 1zm4-1zm1 2zm1-2zm4 2zm5-1zm1 0zm5-1zm1 2zm0-1zm3 1zm0-2zm6 0zm7 5zm-3-2zm-2 1zm-19 0zm-10-1zm-5 1zm-6 1zm-6 0zm-3-1zm-2-1zm-3 0zm-1 1zm-3 1zm-1 0zm-17 0zm-1 0zm-3 0zm0-2zm-6 1zm0 1zm-10-2zm-4 1zm-1-1zm-2 0zm0 0zm-9 2zm-8-2zm-8 1zm-1 0zm-4 0zm-4-1zm-4 1zm-1 1zm-10 0zm-5-2zm8 3zm2 0zm1 2zm8 0zm1 0zm8-2zm9 1zm1-1zm0 2zm7 0zm0-1zm1 1zm3-1zm1 1zm0-1zm2 1zm4-2zm9 2zm0-1zm5 1zm1-1zm0 0zm0 1zm4-2zm6 1zm2-1zm6 0zm1 2zm3 0zm4-2zm1 1zm7-1zm2 0zm4 2zm4-1zm2-1zm0 0zm1 0zm5 0zm4 0zm4 0zm6 2zm2-2zm1 0zm6 1zm6 0zm3 0zm-11 2zm-16 1zm-7 0zm-2 0zm-2-1zm-7 2zm-2-1zm-1 0zm-5 0zm-1 1zm-7-1zm-4-1zm-4 1zm-3 0zm-1 1zm-2-1zm-8 0zm-5 1zm-2-1zm-2 0zm-1-1zm-14 1zm-5-1zm-7 0zm0 0zm-8 1zm-9-1zm-11 0zm0 4zm6 0zm4 0zm2-1zm1 1zm5-1zm3 1zm1 0zm0 1zm3 0zm3 0zm5-2zm8 1zm0 0zm4 0zm2 1zm10 0zm22-2zm2 0zm0 0zm4 1zm5 1zm2 0zm1 0zm0-1zm6-1zm2 0zm2 1zm2 0zm3-1zm3 1zm3 0zm0 0zm9-1zm12 2zm8-2zm3 0zm6 0zm-10 5zm-4-1zm-13 1zm-2 0zm-11-2zm-3 1zm-3-1zm-6 2zm-11-1zm-6 1zm-2-1zm-1 0zm-3 0zm-1 0zm-5 1zm-6 0zm-1-1zm-7 1zm0-1zm-8 0zm-5-1zm-2 2zm-12 0zm-5-1zm0 0zm-7 1zm-2-2zm-5 2zm-9 2zm7 1zm1-1zm4 0zm3-1zm2 1zm1 0zm0 0zm7 1zm6-1zm2 1zm3-1zm0-1zm5 0zm2 2zm2-1zm7 1zm0 0zm1 0zm1 0zm5-2zm2 0zm0 2zm7-2zm10 1zm4-1zm1 1zm1 1zm7-2zm1 2zm1-1zm11 0zm2 1zm4-1zm19 1zm2 0zm0-2zm17 2zm-7 3zm-17 0zm-3-2zm-1 0zm-6 1zm-16 0zm-1-1zm-3 0zm-1 0zm-5 0zm-2 2zm-4-1zm-3 1zm-7 0zm-1-1zm-5 0zm-6 1zm-5-1zm-3 1zm-1-2zm-4 2zm-3-2zm-1 2zm-1-2zm-3 2zm0 0zm-16-1zm-1 0zm-1-1zm-9 0zm-3 2zm-2-1zm11 2zm5 0zm1 0zm9 0zm1 1zm3-1zm1 2zm7-1zm0-1zm6 2zm1-1zm5 0zm5 1zm1-1zm0-1zm10 1zm2 0zm1 0zm11 0zm7-1zm5 1zm6-1zm23 2zm1-1zm2 1zm6 3zm-2-1zm-13-1zm-1 0zm-8 1zm-6-1zm-4 1zm-4 0zm-3 0zm-1 1zm-4-2zm-4 2zm-2 0zm-4 0zm-8 0zm-1-2zm-4 0zm-18 0zm-1 0zm-1 1zm-2 1zm-1-2zm-2 2zm-2 0zm-5 0zm-3-1zm-3 1zm-1 0zm-6 0zm-2 0zm-2 0zm-5-2zm-6 3zm27 2zm4-2zm10 0zm6 0zm10 1zm0 0zm1-1zm1 2zm5-2zm0 1zm1 1zm1 0zm3-2zm7 1zm5-1zm3 2zm3 0zm10-2zm3 2zm5 0zm9 0zm3 0zm-10 3zm-2-1zm-3 0zm-13 1zm-1 0zm-7-2zm-4 0zm-4 0zm-1 0zm0 2zm-2-1zm-1-1zm-6 1zm-5-1zm-6 2zm-4 0zm-3 0zm-3-1zm-2 1zm-2-1zm-2 1zm-6-2zm-5 0zm-5 1zm0 1zm-4 0zm-9 0zm3 1zm8 1zm4 1zm4-2zm1 2zm2-2zm2 0zm4 1zm12 0zm1 0zm1-1zm5 2zm3 0zm0-1zm1 0zm7-1zm2 1zm6 0zm4 0zm0-1zm0 2zm1 0zm0-1zm1 0zm2 0zm2 1zm1-2zm0 1zm0 1zm1-2zm3 1zm4-1zm8 2zm1-1zm11-1zm-4 5zm-3-2zm-10 2zm-4-1zm0 1zm-3-2zm-7 2zm-4 0zm-5 0zm-4-2zm-3 0zm0 1zm-4 0zm-1-1zm-6 1zm-3 0zm-1 0zm0 1zm-3-1zm-34 2zm7 1zm9-1zm4 0zm2 0zm0 1zm2-1zm14 0zm0 0zm0 0zm2 0zm2 2zm9-2zm2 0zm14 0zm5 2zm1-1zm5 0zm13 4zm-2-1zm-3 1zm-3-1zm-2 1zm-5-2zm-2 1zm-2-1zm-7 1zm-7-1zm-7 0zm-5 2zm-8 0zm0-2zm-10 0zm0 2zm0-2zm-6 1zm-4-1zm0 0zm-2 0zm-7 0zm19 3zm9 2zm9-2zm1 1zm9 0zm0 0zm8 0zm5 0zm1 1zm-8 1zm-36 0zm-1 1zm-7-1zm-1 0z" stroke="#d0d0d0" stroke-width="2.5" stroke-linecap="round"/><line x1="213.4" y1="575.3" x2="213.4" y2="665.5" stroke="#000" stroke-width="1.0"/><line x1="212.9" y1="665.5" x2="323.4" y2="665.5" stroke="#000" stroke-width="1.0"/><line x1="210.1" y1="579.7" x2="213.4" y2="579.7" stroke="#000" stroke-width="0.9"/><text x="206.2" y="582.7" font-size="8.5" text-anchor="end" fill="#222">8</text><line x1="210.1" y1="603" x2="213.4" y2="603" stroke="#000" stroke-width="0.9"/><text x="206.2" y="606" font-size="8.5" text-anchor="end" fill="#222">4</text><line x1="210.1" y1="626.4" x2="213.4" y2="626.4" stroke="#000" stroke-width="0.9"/><text x="206.2" y="629.4" font-size="8.5" text-anchor="end" fill="#222">0</text><line x1="210.1" y1="649.8" x2="213.4" y2="649.8" stroke="#000" stroke-width="0.9"/><text x="206.2" y="652.8" font-size="8.5" text-anchor="end" fill="#222" textLength="10.2" lengthAdjust="spacingAndGlyphs">−4</text><line x1="240.8" y1="665.5" x2="240.8" y2="668.3" stroke="#000" stroke-width="0.9"/><text x="240.6" y="677.6" font-size="8.5" text-anchor="middle" fill="#222" textLength="11" lengthAdjust="spacingAndGlyphs">−5</text><line x1="268.7" y1="665.5" x2="268.7" y2="668.3" stroke="#000" stroke-width="0.9"/><text x="268.5" y="677.6" font-size="8.5" text-anchor="middle" fill="#222">0</text><line x1="296.6" y1="665.5" x2="296.6" y2="668.3" stroke="#000" stroke-width="0.9"/><text x="296.4" y="677.6" font-size="8.5" text-anchor="middle" fill="#222">5</text><text x="267.9" y="689.8" font-size="10.1" text-anchor="middle" fill="#222" textLength="49.5" lengthAdjust="spacingAndGlyphs">UMAP_1</text><text x="189" y="620.2" font-size="13.0" text-anchor="middle" fill="#222" transform="rotate(-90 189 620.2)" textLength="41" lengthAdjust="spacingAndGlyphs">UMAP_2</text><defs><linearGradient id="gb5" gradientUnits="userSpaceOnUse" x1="376.8" y1="0" x2="471" y2="0"><stop offset="0" stop-color="#d8b090"/><stop offset="0.6" stop-color="#dca080"/><stop offset="0.8" stop-color="#f07830"/><stop offset="1" stop-color="#f06a20"/></linearGradient></defs><path d="M382.4 586.5 L383.9 587.5 L385.3 589.8 L386.8 592.5 L388.1 594.9 L389.4 597 L390.6 599 L391.9 601.3 L393.1 603.6 L394.5 605.9 L396.1 607.6 L398.2 608.7 L400.5 609.3 L403 609.5 L405.5 609.5 L408 609.5 L410.1 610 L411.2 611.6 L411.5 614.2 L411.7 616.8 L412.3 619.1 L413.7 620.9 L415.8 622.2 L418.4 623 L421.2 623.3 L424 623.1 L426.5 622.4 L428.5 621.2 L430.1 619.6 L431.2 617.7 L432.2 615.5 L433 613.2 L433.8 610.8 L434.8 608.4 L435.8 606.2 L436.7 603.9 L437.1 601.5 L437 598.9 L436.3 596.1 L435.5 593.3 L435.2 591.3 L436.3 591 L438.4 591.7 L440.8 591.8 L442.9 590.5 L444.6 588.4 L446.5 586.4 L448.5 585.1 L450.7 584.4 L453 584.3 L455.3 584.7 L457.6 585.5 L459.8 586.7 L461.8 588.3 L463.6 590 L465.2 591.9 L466.6 594 L467.8 596.2 L468.7 598.6 L469.4 601 L470 603.5 L470.4 606 L470.6 608.6 L470.7 611.1 L470.7 613.7 L470.5 616.3 L470.2 618.8 L469.8 621.4 L469.2 623.9 L468.5 626.4 L467.7 628.8 L466.8 631.2 L465.8 633.6 L464.6 635.8 L463.4 638 L462 640.2 L460.5 642.2 L459 644.1 L457.3 646 L455.6 647.7 L453.7 649.3 L451.8 650.8 L449.8 652.1 L447.7 653.3 L445.6 654.3 L443.4 655.3 L441.1 656 L438.8 656.7 L436.4 657.2 L434 657.6 L431.5 657.9 L429.1 658.1 L426.6 658.3 L424.1 658.3 L421.6 658.3 L419.1 658.3 L416.7 658.2 L414.2 658.1 L411.8 657.8 L409.5 657.4 L407.2 656.9 L404.9 656.1 L402.8 655.1 L400.7 653.9 L398.7 652.6 L396.8 651 L394.9 649.3 L393.2 647.5 L391.5 645.5 L390 643.5 L388.5 641.4 L387.1 639.3 L385.8 637.1 L384.6 634.9 L383.5 632.6 L382.5 630.3 L381.5 628 L380.7 625.6 L379.9 623.2 L379.2 620.8 L378.6 618.3 L378 615.8 L377.5 613.2 L377.1 610.6 L376.8 608.1 L376.7 605.5 L376.7 603 L377 600.6 L377.4 598.3 L378.1 595.8 L378.9 593.1 L380 590.2 L381.1 587.7 L382.4 586.5Z" fill="url(#gb5)" fill-opacity="0.6"/><path d="M391.3 599.1 L395.2 606.7 L399.7 610 L406.3 610.9 L410.2 614.4 L411.9 620.6 L418 622.7 L426.4 622.4 L431.4 619.1 L434.8 613.2 L437 606.7 L438.1 599.1 L437 587.3 L429.2 582 L395.8 582Z" fill="#fff" stroke="#fff" stroke-width="0.6"/><path transform="scale(0.5)" d="M919 1181zm-32-1zm-10 3zm14 3zm-4 5zm-129 4zm6 6zm111 0zm36 9zm-124 4zm-17 4zm8 2zm136 0zm7 1zm-143 1zm108 5zm-105 1zm-2 5zm-2 0zm15 5zm69 0zm11 0zm35-2zm28 1zm-45 2zm-26 1zm7 4zm66-2zm-169 7zm46 1zm4 0zm30-1zm65 1zm-70 5zm35 2zm-50 0zm-18 3zm27 1zm52 2zm-85 2zm-1 1zm10 0zm25 1zm93 0zm-82 3zm-60-1zm-10 4zm28 1zm58 0zm11 2zm-13 0zm-41 0zm2 4zm20-1zm0-1zm18 5zm-37 0zm-39 0zm79 2zm25 2zm-74 2zm33 2zm9 0zm30 3zm-45 4zm33 0zm-40 5zm19 7zm6-1zm3 0zm23-1zm-57 4zm-17 1zm26 1z" stroke="#a5ff06" stroke-width="2.5" stroke-linecap="round"/><path transform="scale(0.5)" d="M898 1171zm4 1zm7-1zm1-1zm2 4zm-19 3zm9 0zm1-1zm8 0zm-13 6zm2 1zm8 0zm1 1zm8 0zm-7 3zm-3-2zm-17 1zm-11-1zm24 4zm11 1zm-31 1zm-6 4zm38-1zm6 1zm14 4zm-25-1zm-9 0zm-24 3zm55 0zm5 2zm-15 0zm-17 0zm-24 2zm-103-1zm-12-1zm137 5zm5-1zm13 1zm3-2zm14 2zm-35 3zm27 6zm-18-1zm-26 4zm38 1zm-5 0zm-18 2zm-28 2zm24-1zm20 0zm11 2zm-13 1zm-15 1zm-31 2zm31 1zm27-1zm7 4zm-10 0zm-28 1zm-127 0zm-11-1zm54 2zm69 0zm18 2zm32-2zm-2 3zm-2 0zm-5 2zm-35-1zm-107 1zm117 2zm7-1zm19 2zm-23 1zm-95 1zm-16 4zm26-2zm97 1zm8 4zm-8 0zm-22-2zm-3 2zm-8-2zm-98 4zm40 1zm95 0zm19-1zm-51 4zm-19-1zm22 2zm19 0zm17 1zm9 1zm-33 2zm-2 1zm-14 0zm-30 3zm54-1zm-39 3zm21 4zm39-1zm-42 2zm-19 3zm38 2zm12-2zm1 5zm-8 0zm-4-2zm-6 2zm-12-2zm-70 1zm15 2zm33 0zm39 1zm4 3zm2 4zm-7 1zm-48 4zm4 0zm25 9zm-45-1zm47 3zm-27 8z" stroke="#ffff00" stroke-width="2.5" stroke-linecap="round"/><path transform="scale(0.5)" d="M906 1169zm-6 1zm1 2zm2-2zm6 2zm6 3zm0-2zm-2 2zm-1 0zm-2-1zm0 1zm-5-1zm-2-1zm-7 0zm0 0zm-4 2zm-1 0zm-125-1zm129 2zm0 2zm3-1zm0-1zm2 2zm1-1zm0 1zm0 0zm1-2zm1 0zm1 2zm0 0zm3 0zm1-1zm0 1zm2-1zm2 1zm3-2zm3 0zm1 0zm7 3zm-4 1zm-4-1zm-3 1zm0 1zm-4 0zm-6-1zm-1-1zm0 1zm-5-1zm-3 1zm-1 1zm0 0zm-4-1zm-121 1zm-10 1zm10 1zm105 1zm5 0zm7-1zm5 1zm0 0zm1 0zm0-1zm4-1zm0 1zm3 1zm1 0zm4-1zm2 0zm4 0zm0-1zm2 1zm1 0zm0 1zm1-1zm0-1zm0 1zm1 1zm6-1zm3 1zm3 0zm1 1zm-3 0zm-4 0zm-3 2zm0-1zm-1-1zm-2 2zm-1 0zm-2-1zm0-1zm-2 1zm-2-1zm-4 2zm0-1zm0 0zm-2-1zm-3 1zm0 0zm-1 0zm-2 0zm-2 0zm0 0zm-1 0zm-3 0zm-1 1zm0 0zm-2-1zm-3-1zm-2 2zm-1-1zm0 1zm-2 0zm-111 0zm6 1zm103 1zm3-1zm4 2zm4-2zm2 2zm1 0zm3-2zm1 1zm4 0zm1 0zm0 0zm0-1zm2 2zm5 0zm5-2zm1 2zm0-2zm0 0zm1 2zm4-1zm0 0zm5-1zm1 0zm8 0zm-15 3zm-1 1zm-1 1zm-4-2zm-2 1zm-2-1zm0 0zm-4 2zm-1-1zm-5-1zm-1 0zm-1 0zm0 1zm0-1zm-2 1zm-5 0zm-5-1zm-5 0zm-108 0zm-7 1zm-1-1zm-7 3zm2 0zm1 1zm2 0zm1-1zm8 2zm1 0zm4-2zm103 2zm2 0zm4 0zm9-1zm0 0zm5 0zm0 0zm1 1zm1-1zm3 0zm4 0zm5-1zm1 2zm0-1zm1 0zm1-1zm0 1zm5 0zm2-1zm0 1zm10 1zm3 0zm1-2zm1 3zm-3 2zm-1 0zm-3-2zm-13 1zm-2 0zm-6 1zm0-1zm-6 1zm0-2zm-1 2zm-2 0zm-4-1zm-11 0zm-3 1zm-2-1zm-4 0zm-7 1zm-103-1zm6 3zm5 1zm111-1zm1-1zm0 1zm2 1zm15-1zm1-1zm9 1zm2 0zm6 0zm0-1zm0 1zm3 0zm1 1zm2-2zm0 1zm2-1zm3 0zm1 1zm0 2zm-3 2zm-1-2zm-2 1zm-6 1zm-2-1zm-1 1zm-1-1zm-2 1zm-2 0zm-1-2zm-6 2zm0 0zm-4-2zm0 2zm-2 0zm0-2zm-7 0zm-5 0zm-3 1zm-7-1zm-22 2zm-75 0zm-1 0zm-4-1zm-1 1zm-11-2zm-13 2zm6 2zm8-1zm9 1zm2 0zm96 1zm2-1zm3-1zm21 1zm1 0zm0 0zm3 0zm1 1zm1-1zm0 0zm4 1zm6-2zm5 1zm1 0zm0 0zm3 0zm3-1zm2 2zm4 0zm1-1zm3 0zm1 1zm0 1zm-2 2zm-3-1zm0 1zm-4-1zm-4 0zm-3-1zm-4 0zm-3 2zm-1 0zm-2-2zm0 0zm0 1zm-2-1zm-3 0zm-2 2zm-3 0zm0-2zm-1 0zm-1 2zm0-2zm-6 1zm0 1zm-5-1zm-3 1zm0 0zm-4-1zm-29-1zm-3 1zm-8 0zm-58 0zm-2 1zm-7 0zm-2-1zm-1 0zm-10 0zm-2 0zm-7-1zm0 4zm4-1zm2 1zm14 1zm0-1zm2 1zm61 0zm57 0zm0 0zm2 0zm0-1zm6 0zm1-1zm10 0zm4 0zm2 2zm3-1zm2 1zm2 0zm1-1zm0 1zm1-1zm2-1zm1 2zm1 0zm5 0zm2-2zm-5 3zm0 2zm-1-1zm-2-1zm-1 1zm-4 0zm-1 1zm-3-2zm-18 0zm-6 2zm-3-2zm-14 0zm-2 1zm-51 1zm-58-1zm-8 0zm-2 0zm10 4zm7-2zm1 1zm10-1zm5 2zm26-2zm1 0zm3 0zm3 1zm0-1zm1 2zm1 0zm17-1zm32 0zm3 0zm18-1zm1 2zm9 0zm12-2zm1 0zm5 1zm3-1zm1 0zm2 1zm4 1zm1-2zm0 2zm1 0zm2-1zm0 3zm-7-1zm0 2zm-1 0zm-2-1zm-7 1zm-3 0zm-2-1zm-1 1zm-1 0zm-2 0zm-5-1zm-6 0zm-2 0zm-16 0zm-78-1zm-8 1zm-9-1zm-10 1zm-7-1zm-9 1zm-6-1zm-1 3zm12 0zm96 1zm7-1zm11 0zm1 2zm6-1zm2 0zm1 0zm4 1zm0-1zm2 1zm9 0zm2-1zm1-1zm1 1zm5-1zm1 1zm4 0zm10-1zm6 0zm0 0zm-4 5zm-1 0zm-4-1zm0-1zm-5 1zm-2 0zm-7-1zm-1 1zm0-1zm-3 1zm-5 0zm-1 1zm-5 0zm-7-1zm-8 0zm-68 0zm-13-1zm-3 0zm-1 1zm-4 0zm-26-1zm-10 0zm-2 5zm2-1zm7 0zm6 0zm10 0zm3 0zm22-1zm10 1zm49 1zm3-2zm8 2zm3-2zm3 0zm14 0zm2 2zm4-2zm1 1zm9 1zm1-1zm8-1zm3 0zm1 2zm5-1zm0 0zm1-1zm6 2zm0-1zm1 1zm-6 1zm-3 1zm-1 1zm-3-1zm-2 1zm-9-1zm-4 1zm-2 0zm0-2zm-1 0zm-4 1zm-3 0zm-1 0zm-1 0zm-1 1zm-3-1zm-5 0zm-2-1zm-1 1zm-2-1zm-1 1zm-7 0zm-6-1zm-3 1zm-1 1zm-78-2zm-7 2zm-2 0zm-9-2zm-13 3zm0 2zm22-2zm16 1zm6-1zm5 2zm57-1zm2 1zm13-1zm1 1zm17-1zm6 0zm3 0zm0 0zm2 0zm3 0zm0 0zm2 0zm1 1zm5 0zm1-1zm10 1zm3 2zm-6-1zm-6 0zm-1 1zm-7-1zm-9 1zm-6-1zm-2 2zm-8-1zm-4 1zm-2-2zm-1 0zm-10 1zm-8 1zm-42-2zm-8 0zm-7 0zm-6 1zm-5 0zm-16-1zm-6 1zm-6 1zm0-1zm-3 1zm-5 0zm0 0zm0-2zm-1 3zm1 2zm4-1zm4 1zm1-1zm2 1zm4 0zm2-1zm6 0zm1-1zm13 2zm7-2zm2 2zm2-1zm1 0zm16 0zm2 0zm30-1zm11 1zm1-1zm8 2zm8-1zm0-1zm1 0zm9 0zm2 0zm1 2zm3-1zm3 0zm6 1zm2 0zm7-2zm10 2zm2-2zm5 0zm2 3zm-1 1zm-4-1zm-4 1zm-6-1zm-1 1zm-2-1zm-2 1zm0 1zm-1-2zm0 2zm-7-1zm-6 0zm-1 0zm-2 1zm0 0zm-6 0zm-1-2zm-1 1zm-2 0zm0 1zm-1-1zm-2-1zm-1 2zm0 0zm-1 0zm-8 0zm-3-2zm-6 2zm-2 0zm-5-2zm-2 2zm-1-2zm-1 2zm-5 0zm-12 0zm-14-1zm-7-1zm-14 2zm-6 0zm-18-2zm-10 0zm-10 2zm-2-2zm5 3zm20 0zm7 1zm2 0zm11-1zm5 2zm21-2zm11 2zm4 0zm35-1zm0 0zm5 1zm3 0zm2-1zm7 0zm1-1zm1 0zm0 1zm1 0zm1 1zm1 0zm2-2zm1 2zm1-2zm1 2zm11 0zm2-2zm2 2zm12-2zm-4 4zm0 1zm-1-1zm-3 1zm-2 0zm-10 0zm-4-1zm-6-1zm0 0zm-1 0zm-1 1zm-1-1zm-2 0zm-3 1zm-1 0zm-2 0zm-5 1zm-4-1zm-2 1zm-1-2zm0 0zm-2 2zm-13 0zm-2 0zm-10-2zm-20 1zm-20 0zm-11-1zm-5 0zm-9 2zm-24-1zm11 2zm5 0zm45 0zm15 0zm9 1zm10-1zm0 1zm8-1zm0 0zm3 1zm13 0zm1 1zm2 0zm1-2zm6 0zm1 2zm3 0zm3 0zm1-1zm0-1zm2 2zm1 0zm1-2zm6 1zm3 1zm3-2zm11 1zm0 0zm0-1zm4 3zm-6 0zm-2 2zm0-2zm-4 0zm-2 2zm-1-1zm-1 0zm-2-1zm-2 1zm-2-1zm-2 2zm-1-2zm0 0zm0 2zm-2-1zm-6-1zm-5 0zm-1 0zm-1 2zm0-2zm-3 1zm-17 0zm-3 0zm-6 0zm-10-1zm-7 0zm-7 1zm-1 1zm-1 0zm-6-2zm-2 1zm-4-1zm-22 0zm-6 2zm0-1zm-2-1zm-1 2zm-2 0zm-5-1zm-18 1zm-2 0zm-3-1zm6 4zm13 0zm10-1zm22 1zm5-2zm4 0zm7 0zm7 2zm5-2zm8 1zm2 0zm14 1zm3-1zm1-1zm1 0zm2 1zm10 0zm2-1zm0 2zm0-2zm3 0zm4 1zm8 1zm2 0zm1 0zm1-1zm1 1zm1 0zm5 0zm1-2zm7 2zm2-2zm5 0zm3 1zm0-1zm-8 5zm-2 0zm-1 0zm-3 0zm-6-1zm-1 0zm0 1zm-4 0zm-4-2zm0 2zm-1-1zm-2-1zm-5 2zm-6-2zm-13 2zm-4-1zm-22 0zm-13 1zm-15-2zm-3 2zm-2-1zm-1 1zm-3-2zm-4 1zm-2-1zm-3 0zm0 1zm-23 1zm-15-2zm0 1zm13 2zm10 2zm15-1zm3 0zm3 0zm1 0zm11 0zm12 1zm1-2zm3 0zm6 2zm15 0zm22-1zm4 0zm2 0zm5-1zm2 2zm0 0zm1-1zm2-1zm1 2zm5-1zm1-1zm6 1zm1 0zm5 0zm1 0zm0-1zm2 0zm5 2zm6-2zm-4 3zm0 1zm-8 1zm0-1zm-8 1zm-4-2zm0 0zm-7 0zm-1 0zm-3 0zm-6 2zm-5-2zm-11 1zm-11-1zm0 2zm-15 0zm-18-1zm-14 1zm-24 0zm-5 0zm-15 3zm0-2zm7 1zm15-1zm27 0zm11 1zm20-1zm7 1zm8-1zm2 1zm9 0zm5-1zm5 1zm5 0zm0-1zm5 1zm5-1zm0 0zm5 2zm0-1zm6-1zm6 1zm1-1zm1 0zm4 0zm2 0zm-8 3zm-2 1zm-21 1zm-2 0zm-11-2zm-2 2zm-2-2zm-4 2zm-2-1zm-7-1zm-5 0zm-2 2zm-10 0zm-19-1zm-21 0zm-6 1zm-4-1zm-14 0zm-12 0zm9 2zm4 1zm3 1zm4-1zm10-1zm10 1zm16 1zm3 0zm3-2zm7 2zm1 0zm3-1zm11-1zm2 2zm3 0zm15 0zm3-1zm7 0zm4-1zm6 0zm0 2zm3-2zm5 1zm1-1zm1 0zm2 2zm5 2zm-9 0zm-1 0zm0 0zm-1 0zm-6 1zm-7-1zm-6 1zm0-2zm-9 2zm-11-2zm-13 2zm-2 0zm-3-1zm-4 1zm-2-1zm-8 1zm-3-2zm-30 2zm-13-1zm-7 0zm-3 1zm12 1zm1 0zm0 1zm1 1zm13-1zm11-1zm6 1zm4 0zm5 0zm45-1zm13 2zm6 0zm6-1zm8 0zm0 1zm3-1zm3-1zm1 2zm1 1zm-2 0zm-1 2zm-2-1zm-5 1zm0-2zm-2 1zm-6-1zm-21 2zm-1 0zm-1-1zm-11 1zm-7 0zm-5-2zm-1 1zm-1 0zm-4-1zm-6 1zm-3 1zm-8 0zm-3-2zm-2 1zm-4 0zm-3 1zm-5-2zm-7 2zm-18 2zm55 0zm6 0zm3 1zm9-1zm7-1zm4 2zm12 0zm16 0zm2 0zm5 0zm1 0zm6-1zm1 1zm-4 3zm-1-2zm-23 0zm-13 2zm-10-2zm-22 2zm-15-1zm-16-1zm0 2zm-3 0zm-2-2zm-2 0zm-11 0zm-2 1zm0 0zm-2 2zm2 0zm1 0zm2 1zm27 1zm13-1zm19-1zm5 2zm3-2zm5 0zm0 0zm20 2zm9-2zm1 1zm1-1zm4 2zm1-1zm2 1zm3 0zm-1 2zm-15-1zm0 2zm-11 0zm-3 0zm-8-1zm-7 1zm0-1zm-14-1zm-18 1zm-27 0zm-4 0zm-4 0zm-1 1zm3 1zm2 0zm16 2zm6 0zm6-1zm0 1zm12-2zm1 0zm6 0zm6 0zm18 0zm1 1zm3 1zm1-1zm13 0zm6 2zm-6 2zm0-2zm0 2zm-13-1zm-2 0zm-11 1zm-13-2zm-10 2zm-8-2zm-6 2zm-1-1zm-7 1zm-7-1zm-5 0zm2 2zm1 0zm1 1zm11-1zm16 2zm4-2zm21 2zm6 0zm0-1zm3 1zm11-2zm0 1zm4 1zm-5 2zm-5-1zm-1 1zm-6 1zm-5 0zm-1-2zm-7 0zm-11 2zm-7-1zm0-1zm-21 0zm-1 0zm5 4zm3 0zm12-1zm2 0zm9 1zm5 0zm0-1zm3 0z" stroke="#ff6a0d" stroke-width="2.5" stroke-linecap="round"/><path transform="scale(0.5)" d="M907 1171zm10 2zm-1 2zm-9-1zm-3-1zm0 0zm-2 2zm-12 1zm12 2zm16 3zm-1 0zm0 0zm-3-2zm-1 2zm-6 0zm-2 0zm-12-2zm-4 4zm5-1zm14 1zm8-1zm12 5zm-33-2zm-12 2zm-126 3zm6-2zm123 0zm0 1zm12-1zm24 1zm-6 2zm-28 0zm-6 4zm16 0zm11 1zm18 3zm-1-1zm-9-1zm-3 0zm-9 0zm-10 1zm-22 0zm-114-1zm0 2zm127 2zm40-1zm0 0zm7 1zm-4 3zm-19-1zm-5 2zm-15-1zm-34 3zm39-1zm20 0zm-8 4zm-117 3zm42 0zm66-1zm8 0zm3 0zm12 2zm4 0zm9-1zm5 0zm-6 3zm-19 1zm-7-1zm-127-1zm-18 4zm167 1zm3 3zm-13-1zm-5 1zm-3-2zm-3 1zm-10 2zm18 2zm22 1zm0 2zm-30 0zm-131 2zm100 0zm9 1zm17 0zm1-2zm4 0zm17 1zm10 3zm-12-1zm-14 1zm-88-1zm-29 0zm-2 2zm-5-2zm-10 0zm-1 0zm150 5zm5-2zm9 1zm2 1zm-12 2zm-7-1zm-8 0zm-10 0zm-33 2zm-62-2zm-10 3zm19 0zm50 0zm22 0zm10 1zm36-1zm1 5zm-28-2zm-1 0zm-12 1zm-7 0zm-52-1zm-22 2zm29 2zm68-1zm10 1zm-4 2zm-12 1zm-12 0zm-3 1zm9 2zm2 1zm29-1zm3 4zm-7-1zm-6 1zm-5-2zm-6 2zm-10-2zm-81 2zm-4 0zm-47 0zm132 3zm8-2zm1 2zm3-2zm1 0zm1 1zm7 4zm-7-2zm-19 0zm-10 2zm-67 2zm58 1zm10-1zm9-1zm16 2zm15 0zm1-2zm-10 3zm-18 0zm-39 0zm-6 2zm-68 3zm11-1zm4 1zm15-2zm88 1zm4-1zm20 3zm-94 0zm-12 3zm31 1zm52 0zm3 1zm1-2zm-5 3zm-1 1zm-72-1zm-4 1zm-26 2zm54 0zm9 1zm47 2zm-94 2zm22 1zm78 0zm-48 3zm-10 0zm-4 1zm0 1zm-12 2zm19-1zm8 0zm-72 8zm13-2zm21 0zm56 3zm-76 7zm12 3zm29 0z" stroke="#f59315" stroke-width="2.5" stroke-linecap="round"/><path transform="scale(0.5)" d="M912 1170zm-6 3zm-14 3zm4 1zm14 4zm-12 0zm-127 2zm134-1zm7 5zm-17 0zm-3-1zm-12-1zm-107 1zm135 3zm-32 2zm-116 0zm118 3zm20 2zm11-2zm6 0zm10 3zm-167 2zm-2 0zm21 3zm130 1zm-18 0zm-10 0zm-109 0zm-8 3zm127 2zm51 0zm-159 3zm-7 0zm-17-1zm3 3zm18 0zm65 2zm-19 1zm-49 0zm57 2zm5 0zm47 2zm5 0zm16-1zm16-1zm17 1zm-19 3zm-46 0zm-45-1zm-4 0zm-69 0zm27 5zm6-1zm19-1zm72 0zm3 0zm-107 4zm6 3zm2 0zm0 1zm96-1zm-2 3zm-89-1zm-11 0zm94 3zm5 2zm30 0zm11-2zm-16 3zm-16 2zm-13 0zm-2-2zm-97 1zm-14 0zm58 4zm64-2zm6 0zm39 5zm-47-2zm-7 1zm-58-1zm-3 0zm-5 4zm23-1zm5 1zm45 0zm13 0zm1 0zm15 4zm-41-1zm-20 1zm-48-1zm-32 0zm123 3zm13 1zm-22 2zm-13 0zm-26 1zm-7-1zm-16-1zm-1 1zm-36 1zm-17-2zm72 3zm6 0zm6 2zm12 0zm64-1zm-17 2zm-27 2zm-36-2zm-27 2zm-2-2zm-16 0zm-9 0zm-12 1zm-11 1zm51 1zm3 0zm15 1zm23 1zm4 0zm21-2zm26 1zm-24 2zm-82 0zm-2 0zm-19 4zm0-1zm26 2zm10-2zm19 0zm48 0zm-49 3zm-43 4zm24 1zm41-1zm12-1zm7 5zm-22-2zm-10 1zm-18 0zm-8 0zm-2 0zm0 1zm-4 0zm-23-1zm-8 0zm4 3zm23 0zm20 1zm16-1zm4 0zm25 0zm17 3zm-30-1zm-11 2zm-15-2zm-9 1zm-7 3zm21 0zm29 1zm-11 3zm-5 0zm-4-1zm-63 2zm31 2zm5-1zm9 0zm9-1zm13 2zm3 3zm-1-2zm-20 0zm-37 5zm6-2zm23 0zm41 0zm9 2zm-11 1zm-34 0zm-22 1zm-1-1zm57 6zm-35 3zm1 0z" stroke="#c9a74b" stroke-width="2.5" stroke-linecap="round"/><path transform="scale(0.5)" d="M879 1186zm-108 1zm109 6zm-2-1zm-115 0zm16 7zm-14 1zm121 5zm-23 0zm-90 0zm-16 0zm7 2zm16 1zm76 0zm-71 4zm50 5zm-5 0zm-54-1zm122 3zm2 0zm-24 7zm11 2zm2 7zm-14 0zm-59 0zm-53-2zm46 7zm-8 1zm-27-2zm53 4zm49-1zm5 2zm2-1zm6 3zm-65-1zm-33 0zm-3 3zm2 2zm96 0zm4-1zm-4 4zm-43-1zm-7-1zm-28 0zm-6 0zm-10 1zm25 3zm12-1zm65 1zm-43 4zm-3 0zm-9 0zm-74-2zm48 4zm26 1zm7-1zm6 0zm-83 2zm128 3zm-6 3zm-34 0zm-19 2zm-58 2zm13 0zm4 1zm47-1zm34 0zm-24 5zm15 2zm-20 3zm-21-1zm-44 1zm50 1zm22 1zm7 0zm18 0zm13 5zm-29 5zm-62 1zm5 2zm42-2zm15 1zm13 3zm-7 0zm-3 0zm-37-1zm-10 1zm-13 0zm52 3zm9 0zm3 1zm-32 3zm-14-2zm-1 2zm7 1zm30 2zm4 2zm-22 0z" stroke="#a2dda2" stroke-width="2.5" stroke-linecap="round"/><path transform="scale(0.5)" d="M907 1175zm-143-1zm0 1zm133 3zm1-2zm18 0zm-21 4zm0 1zm-133-2zm5 5zm127-2zm12 5zm0 0zm-16 0zm-119-2zm-10 2zm111 1zm31 5zm-18 0zm31 2zm12 2zm-28 0zm-29 5zm3 0zm23-2zm0 3zm-140 3zm9 1zm14 0zm72 0zm65 3zm-58-1zm-94 1zm-1 1zm16 2zm60 0zm45-1zm-40 4zm-23-1zm-53 2zm-7-1zm-6 2zm3 2zm14-1zm2 1zm2-1zm100 1zm32 0zm12 1zm-130 1zm-32 4zm8 0zm23 0zm93-1zm1 1zm38-1zm-144 3zm-20 3zm28 1zm18 0zm74-1zm30-1zm-13 4zm-94-1zm-2 2zm-11-2zm-9 2zm-11 0zm13 2zm38 1zm1 0zm70 1zm-6 0zm-2 1zm-62 4zm15 0zm25-2zm5 1zm47 2zm-22 1zm-60 0zm-16 1zm-30-1zm-17 1zm10 3zm60 0zm83 0zm-32 3zm-6-1zm-9 1zm-6-2zm-7 0zm-75 2zm-15 2zm0 1zm1-2zm15 2zm36 0zm28-1zm7 0zm10 0zm9 0zm31-1zm12 5zm-9-2zm-25 1zm-1 0zm-76 1zm-31 3zm4-1zm13 0zm10 0zm2 1zm25-2zm59 0zm-9 3zm-20 2zm-40-2zm-5 1zm-4 0zm-1 0zm-26 1zm-8 0zm5 1zm59 0zm6 1zm14-1zm2 1zm10-1zm12 1zm-5 4zm-12-1zm-2-1zm-39 2zm-16-2zm-39 3zm20 1zm23 0zm31 0zm5 0zm6 0zm10 1zm7-1zm20 2zm-35 2zm-11-2zm-36 2zm-3-1zm-1-1zm-34 2zm23 3zm33-2zm1 2zm15 0zm3-1zm38 1zm10 0zm-18 2zm-20 1zm-11-2zm-50 0zm-10 0zm-4 1zm28 3zm5 0zm7 0zm7-1zm9 1zm24 0zm38 0zm-43 2zm-69 0zm64 4zm3 1zm12-2zm4 1zm-13 4zm-68 0zm10 2zm29 0zm8-1zm8 0zm15 1zm6 1zm2-2zm-66 3zm-8 0zm-1 3zm19 1zm2 1zm1-2zm23 2zm3-1zm3-1zm42 5zm-8-2zm-11 1zm0 0zm-14-1zm-34 5zm4-1zm2 6z" stroke="#b9b95c" stroke-width="2.5" stroke-linecap="round"/><path transform="scale(0.5)" d="M908 1169zm-9 3zm13 0zm5 3zm-4-2zm-8 1zm-7 0zm14 3zm7 1zm0 1zm-7 1zm-2 0zm-3 0zm-2-1zm-1 0zm-2 0zm-8 1zm-2-1zm-2 0zm-1 2zm-126 2zm0 1zm6-1zm101 1zm16-1zm10-1zm1 0zm4 2zm9 0zm4 0zm4-1zm-12 4zm-5 0zm-3-1zm-3 1zm-11-2zm-8 0zm-4 0zm-101 1zm-7-1zm116 5zm0 0zm7 0zm10-1zm11 0zm17 1zm-3 3zm-9 0zm0-2zm-1 1zm-14-1zm-132 0zm-3 0zm-1 1zm-5 1zm4 2zm7 0zm2 0zm4 1zm98-2zm40 0zm5 0zm1 2zm1-1zm0 0zm8 0zm10 2zm-1 0zm-7 1zm-12-1zm-14 0zm-5 0zm-1 2zm-2 0zm-9-2zm-1 1zm-4 1zm-114 0zm8 3zm5 0zm81 0zm15-2zm0 2zm4-1zm5 0zm13 0zm0 1zm11-1zm3-1zm13 0zm13 0zm-32 5zm-11 0zm-6-2zm-2 1zm-7-1zm-1 0zm-107 0zm-1 1zm-1-1zm-4 1zm-3 1zm-5-2zm6 4zm4 0zm6 0zm2 0zm82 1zm22-1zm0-1zm24 0zm12 0zm9 3zm-6 1zm-28 0zm-12-1zm-24 0zm-15 2zm-3 0zm-60-1zm-11 1zm0-2zm-2 2zm0 0zm0 0zm-10 2zm7-1zm17 1zm2-1zm0 1zm3 0zm4 0zm38 0zm18 0zm38-1zm1 1zm3 0zm4 1zm2-1zm12 0zm2 0zm4 0zm2-1zm7 2zm14 3zm-10-2zm-14 2zm-16 0zm0 0zm-7-1zm-6 0zm-4-1zm-38 2zm-10-1zm-3 0zm-39 0zm-14-1zm-5 0zm-4 1zm-1 1zm-4 2zm7 1zm3-2zm2 1zm2 0zm3 1zm0-2zm2 1zm2 0zm4 1zm98 0zm1 0zm8-2zm3 0zm1 0zm4 2zm8-1zm22-1zm14 1zm-18 3zm-19 1zm-1 0zm-1 0zm-5 0zm-4 0zm-3 0zm-1-2zm-5 2zm-88-1zm-3-1zm-2 2zm-1-2zm-12 1zm-2 1zm-3-2zm-3 0zm0 1zm-8-1zm-1 2zm-3 3zm4-1zm2 1zm10-1zm27 1zm4 0zm2 0zm68 0zm12-2zm1 2zm38-1zm10-1zm4 0zm-1 5zm-1 0zm-14-2zm-25 1zm-7 0zm0 0zm-3-1zm-2 2zm-65-1zm-15 1zm-11 0zm-5-1zm-5-1zm-14 1zm-9-1zm-4 1zm-3 0zm1 4zm7 0zm3 0zm2-2zm1 1zm0 1zm3-1zm13-1zm7 0zm21 1zm61-1zm4 2zm5 0zm0-1zm5-1zm1 1zm7 0zm5 1zm10 0zm3-2zm24 0zm2 4zm-23 0zm-12 1zm0 0zm-13-1zm-8 0zm-5-1zm-11 1zm-54 1zm-3-2zm-20 2zm-6 0zm-16-1zm-5 1zm-1-1zm-2 1zm-2 3zm11-1zm6-1zm0 0zm3 2zm3-1zm2 1zm4 0zm17-1zm1 0zm3 1zm6-1zm2 1zm57 0zm1-1zm2 1zm9-1zm0-1zm0 0zm7 2zm2-1zm2 0zm6 0zm11-1zm19 4zm-5-1zm-16 2zm-5-1zm-12-1zm-6 0zm0 1zm-4 0zm-2 1zm-24-1zm-45 0zm-12-1zm-1 0zm-12 0zm-8 0zm-4 1zm-7-1zm-1 2zm-7-2zm-4 2zm2 3zm1 0zm6-2zm0 1zm1-1zm1 1zm1 0zm3 0zm9 1zm2 0zm8-2zm6 1zm2 1zm12-2zm44 1zm3-1zm4 1zm17 0zm6-1zm3 2zm5 0zm42-1zm-22 3zm-5 1zm-3 0zm-7 0zm-6-2zm-3 2zm-7-1zm-1 0zm0 0zm-3 1zm-6-1zm-7 1zm-6 0zm-4-1zm-1 1zm-1-1zm-22 0zm-1-1zm-17 2zm-2-2zm-11 1zm-8-1zm-9 0zm-11 2zm0-1zm-1 1zm-5 0zm-3-1zm18 4zm1-2zm7 2zm2-2zm6 1zm2 0zm0 0zm16 0zm34-1zm12 0zm0 0zm0 1zm9 0zm0 0zm2 0zm1 1zm0-2zm3 2zm16 0zm4-1zm34 0zm5-1zm-25 5zm-9-1zm-6 0zm-2-1zm-6 0zm0 2zm-8-1zm0 0zm-4-1zm-3 0zm-15 1zm-2 1zm-1-1zm-9-1zm-1 2zm-9 0zm-8-1zm-2-1zm-2 0zm-13 1zm-5 1zm-1 0zm-7-1zm0 0zm-1 0zm-7-1zm-7 0zm-5 2zm-12-1zm3 4zm5-2zm0 1zm3-1zm11 1zm5 0zm4 1zm4-1zm5-1zm2 1zm3 1zm7 0zm8 0zm18 0zm1-1zm0-1zm6 0zm1 0zm5 0zm10 2zm4-2zm9 0zm0 2zm7-1zm3 1zm6 0zm1 0zm1-2zm7 2zm1-1zm3 0zm11 1zm0 3zm-24-1zm-10 0zm0 1zm-4-2zm-5 1zm-2 0zm-1 0zm-28-1zm-16 2zm-7-1zm-2 1zm0-1zm-3-1zm-8 2zm-5-2zm-2 0zm-9 1zm-4-1zm-7 2zm-3-2zm0 1zm-3 1zm-6-2zm-2 0zm-1 1zm-3-1zm2 4zm10 0zm6-1zm2 0zm0 2zm0 0zm3 0zm0-1zm1 1zm1-2zm1 1zm2-1zm1 1zm1 1zm2-2zm7 0zm4 0zm15 2zm1-2zm6 0zm10 2zm7 0zm1 0zm2 0zm8 0zm2-1zm5-1zm3 1zm37 0zm6-1zm13 0zm5 2zm0 2zm-37 1zm-10-1zm-11-1zm-1 1zm-2 1zm-1-1zm-12 1zm-1 0zm-3-2zm-5 2zm-7-2zm-2 0zm-6 0zm0 0zm-4 1zm-5-1zm-18 1zm-4-1zm-5 0zm-1 1zm-4 1zm0-2zm-6 2zm-17 2zm2-1zm9 0zm8 1zm1-1zm0 1zm10-1zm4 2zm2-1zm1 1zm4-2zm4 1zm3 0zm2 1zm14-2zm0 2zm4-2zm0 1zm7-1zm3 0zm8 2zm2-1zm2 1zm13-2zm1 1zm4 1zm3 0zm1-1zm4-1zm1 1zm0-1zm2 1zm7 0zm2 1zm4-1zm4 2zm-3 0zm-3 1zm0-1zm-3 1zm0 1zm0-2zm-9 2zm-5-2zm0 0zm-8 0zm-3 2zm-6 0zm-7-2zm-10 0zm-13 1zm-3 1zm-1-2zm-2 2zm-1-2zm-5 2zm-1 0zm-22-2zm-4 1zm-10 0zm-2 0zm-5-1zm0 2zm-2-2zm-5 0zm8 3zm3 2zm20 0zm0-1zm5-1zm8 1zm6 1zm6 0zm8 0zm0-2zm4 0zm6 0zm2 2zm7-2zm1 0zm1 1zm6 1zm1-1zm8 1zm4-2zm3 0zm4 0zm1 0zm2 1zm0 1zm3 0zm1-2zm2 1zm7-1zm12 2zm12 1zm-10 1zm-1 0zm-1 0zm0-1zm-11 2zm-2-1zm-4 0zm-7 1zm-2 0zm-5-2zm-1 2zm-3 0zm-13 0zm-5 0zm0 0zm-7-1zm-2-1zm-3 1zm-3 1zm-3 0zm-8-2zm-5 2zm-8 0zm0-2zm-9 1zm-17 1zm-3-1zm-3 0zm-4-1zm-6 0zm-2 0zm11 5zm0-1zm3 0zm1 0zm5 0zm0 1zm1 0zm12-2zm6 0zm1 2zm12-2zm2 2zm1 0zm9 0zm1-2zm6 1zm8 0zm4 1zm2 0zm1 0zm3-1zm4 0zm2 1zm3-1zm1 0zm10 1zm6 0zm5-1zm1-1zm7 1zm7-1zm9 1zm-15 4zm-6-1zm-6-1zm-10 1zm0 0zm-10-1zm-9 2zm0-2zm-4 0zm-6 2zm-4-1zm0-1zm-12 2zm-10 0zm-5 0zm-3-2zm-7 1zm-4 1zm-9 0zm0-2zm-2 2zm0 0zm-3-2zm-10 0zm-4 0zm5 4zm1-1zm14 0zm0 0zm11 0zm5 2zm6-2zm7 2zm11 0zm10 0zm1-1zm3 0zm1 1zm2-2zm2 0zm1 0zm6 0zm5 1zm0 0zm2 0zm6 0zm29 1zm11 0zm-4 3zm-2-1zm-23 1zm-4-1zm-2-1zm-11 1zm0 0zm-1 1zm0-1zm-8 1zm0-1zm-2 0zm-20 0zm-7-1zm-5 2zm-6 0zm-3-2zm-10 0zm-1 0zm-4 2zm-3-1zm-7 1zm-6-2zm-1 0zm1 4zm3-1zm11 1zm3-1zm5 2zm2-2zm5 0zm0 0zm0 2zm2 0zm1-1zm6 1zm4-2zm0 2zm10 0zm1-1zm6-1zm2 2zm2 0zm8-1zm5 0zm1-1zm1 1zm1 1zm1-1zm1 1zm1-2zm11 0zm31 3zm-6 0zm-15 2zm-6 0zm-4-1zm-15-1zm-2 2zm-2-2zm-1 2zm-1-1zm0 0zm-5 1zm-2 0zm-6-1zm-8 1zm0-2zm-2 0zm-4 2zm-4 0zm-2 0zm-1-1zm-1 1zm-4-1zm-1 1zm-8 0zm0-1zm0-1zm-14 0zm-2 2zm-5 3zm10-1zm5 1zm1-1zm1 0zm3-1zm2 0zm2 0zm25 1zm0 1zm3-1zm3 1zm4-1zm4 0zm2-1zm9 0zm2 1zm12 0zm24 1zm-12 3zm-8-1zm-15-1zm-13 2zm-7-2zm-2 1zm-1 1zm0-1zm-2-1zm-5 0zm-1 2zm-3-1zm-7 0zm-2 1zm-2 0zm-5-1zm-1 1zm-15 0zm-9-1zm5 3zm12-1zm2 1zm6 0zm7 1zm1-2zm2 2zm1 0zm1-2zm8 2zm0 0zm3-1zm5-1zm13 0zm1 0zm1 1zm7 0zm0 0zm20 3zm-9-1zm-1 2zm0 0zm-6-2zm-11 1zm-6 0zm0 1zm-7 0zm-2-1zm-2 0zm-3-1zm-11 0zm0 2zm-8 0zm-4-1zm-4 1zm-8-1zm-1 1zm8 1zm4 0zm9 2zm1-1zm17 0zm1-1zm0 0zm1 1zm6 0zm0-1zm0 1zm4 0zm5 1zm1 0zm20 0zm3-1zm-22 2zm-2 0zm-2 1zm-4 0zm-7 1zm-1 0zm-5-1zm-13-1zm-4 2zm-1-2zm-2 1zm-1-1zm-2 2zm11 2zm8 0zm11-1zm16 1z" stroke="#d3d3d3" stroke-width="2.5" stroke-linecap="round"/><path transform="scale(0.5)" d="M768 1176zm131 2zm14 0zm-4 1zm-17 1zm-122 3zm138 0zm10 0zm-158 6zm161 0zm-165 12zm153 1zm16 1zm-169 2zm15 1zm4 2zm113-1zm41 3zm-36-1zm-130 4zm2 0zm8 0zm136-1zm15 0zm-93 3zm-51 1zm-4-1zm6 5zm-27 1zm174 3zm-38 5zm-111 3zm5 0zm84-1zm34 1zm-84 2zm-55-1zm47 7zm49 3zm-67 2zm57 3zm2 2zm39-1zm17-1zm-24 4zm-56-1zm-8 2zm-55-2zm-2 3zm7 0zm41 2zm4-2zm49 1zm63 1zm-146 4zm2 0zm78 1zm19 0zm35-1zm6 0zm-106 8zm35-2zm22 1zm19 4zm-58 0zm-59-2zm21 5zm31-2zm31 1zm30-1zm1 0zm10 3zm-4 1zm-13 1zm-49-1zm-2 0zm-22 0zm-3-1zm-26 0zm9 4zm65-1zm8 2zm57-2zm-59 3zm-14 2zm-54 3zm32 0zm4 0zm67 2zm-13 1zm8 6zm-12-2zm-19 0zm-63 2zm85 5zm-4 1zm-36 0zm-6 2zm27 1zm40-1zm-62 3zm-25 2zm63 2zm5-2zm-17 4zm-34 1zm-14-1zm-10-1zm55 3z" stroke="#e28f86" stroke-width="2.5" stroke-linecap="round"/><path transform="scale(0.5)" d="M908 1173zm-17 4zm20-1zm5 4zm-9 1zm-1-1zm15 4zm3 3zm-16 0zm-16 0zm-4 2zm25 0zm0 1zm13-2zm-10 3zm-14 1zm-5 0zm0 1zm-12 0zm-114 2zm162 0zm-1 2zm-24 0zm-2 1zm-16-1zm23 3zm5 0zm3 2zm13 0zm4 3zm-16-2zm-4 2zm-17-1zm-9 0zm-138 0zm7 4zm144-1zm25 2zm-17 0zm0 0zm-6 0zm-123 1zm-7 2zm60 2zm61-1zm13 0zm5 0zm2 1zm16-1zm7 1zm0 1zm-3 0zm-13 0zm-5 0zm-3 1zm-35-1zm-8 1zm-87 0zm-6 2zm48 0zm50 2zm31 0zm4-1zm9-1zm4 5zm-8-2zm-1 1zm-13 0zm-9 1zm-24-1zm-76 0zm-20 2zm98 0zm25 0zm14 2zm1 0zm1 0zm17-1zm8 4zm-42-1zm-7 1zm-23 0zm-63-2zm-7 1zm92 3zm8 0zm9 1zm33-1zm-10 4zm-4 0zm-23-2zm-4 0zm-11 4zm14 1zm4-1zm31 0zm-13 3zm-1 1zm-12-2zm0 1zm-4 1zm-10-1zm-7 1zm-69-1zm-6 0zm-40 0zm-7 4zm126 0zm6-2zm1 2zm18-1zm-15 3zm-9 0zm-13-1zm-69 1zm-45 1zm5 1zm155 1zm-21 4zm-2-2zm-99 0zm80 4zm4-1zm24 0zm19 5zm-20-1zm-6-1zm-22 0zm-79 0zm-28 3zm40 1zm62 1zm9-2zm3 2zm11-1zm7 0zm0 4zm-9-2zm-32 1zm-37 3zm8 1zm17 0zm9-2zm12 2zm28 0zm8 0zm14 1zm-5 2zm-2-2zm-8 1zm-11 1zm-65-2zm47 4zm11 1zm8-2zm2 2zm2-2zm10 0zm-2 4zm-4 0zm-35 1zm18 1zm30 2zm-39 2zm-48 1zm23 3zm29 0zm21 2zm-28 0zm-44-1zm-17 0zm-18 5zm15-2zm41 2zm10-1zm32 0zm4 1zm-18 3zm-50-1zm-31-1zm-6 4zm21 0zm65 0zm3-1zm-19 3zm-25 1zm-10 1zm-30-2zm6 4zm24-1zm27 0zm-18 5zm-14-2zm51 5zm-61 2zm-12-1zm21 3z" stroke="#f59315" stroke-width="2.5" stroke-linecap="round"/><path transform="scale(0.5)" d="M897 1171zm12 7zm8-2zm-151 5zm2 2zm126 0zm-20 3zm-106 0zm146 10zm9 3zm-46-1zm-117 0zm-6 2zm135 3zm-32 5zm31-2zm18 2zm7 0zm6-1zm-132 7zm115-2zm4 1zm-126 6zm-25 4zm14 5zm108 3zm14 0zm17 0zm-87 2zm2 6zm-14 1zm-40-1zm-3 3zm13 0zm117 3zm-131 5zm120 0zm10 3zm-13 1zm-71 4zm-36 0zm-4 4zm133 2zm-1 0zm-78 3zm2-1zm89 0zm-77 4zm-54-1zm31 5zm13-2zm5 3zm-58 4zm60-1zm71 0zm-64 4zm-15 3zm90 0zm-92 3zm-32 2zm56 2zm60-2zm-110 5zm10 2zm15-1zm35 3zm-7 5zm-10 2zm-33-1zm-3 0zm65 5zm-54 3zm6 2z" stroke="#a5ff06" stroke-width="2.5" stroke-linecap="round"/><path transform="scale(0.5)" d="M897 1172zm0 0zm2-2zm2 2zm1-1zm3 1zm7 0zm6 2zm-2-1zm0 0zm0 1zm-2 1zm-8-2zm-1 0zm-2 0zm-2 2zm0 0zm-134 0zm-3 0zm-2 2zm3-1zm124 1zm1 0zm1 1zm2 0zm4-1zm1 0zm1 1zm1-1zm0 0zm2-1zm0 2zm1-1zm0 1zm1-2zm0 1zm1 1zm0-1zm1 0zm1 1zm0-2zm2 0zm3 0zm1 2zm2 0zm0-1zm3-1zm4 2zm4 2zm-4-1zm-3 2zm-2-1zm-2 0zm-1-1zm-1 1zm-2 0zm-1-1zm0 1zm-3 1zm0-1zm-4 1zm-1 0zm-3-2zm-3 0zm-2 0zm-1 0zm0 0zm-6 1zm-119-1zm0 0zm108 4zm13 1zm0-1zm3 0zm5 0zm0 0zm1-1zm2 1zm2-1zm1 1zm4 0zm2 0zm1-1zm6 2zm2-1zm1 0zm2 1zm3 0zm1 0zm2-2zm-1 4zm-2-1zm-2 2zm-3 0zm-1-1zm0 0zm-1-1zm-4 0zm0 1zm-2 1zm-1 0zm0-1zm-6-1zm-3 2zm-3-1zm-1 1zm-2-2zm-4 2zm-9-1zm-3 1zm-113-1zm-9 3zm16-1zm104 1zm16 1zm2-2zm2 2zm4-1zm2-1zm1 0zm2 1zm2-1zm0 0zm3 1zm0-1zm1 1zm1 1zm0-1zm2-1zm1 0zm6 2zm3-1zm4-1zm1 0zm1 2zm2 3zm-6-2zm-3 1zm-3 0zm-3 1zm-2-1zm-2-1zm-4 0zm-6 1zm-2 1zm0-1zm0 0zm-4 1zm-10-1zm-117-1zm-9 2zm-1-1zm-6 4zm24-1zm113 0zm1 0zm2-1zm4 1zm6 0zm6 1zm0-2zm2 2zm1-2zm5 0zm1 2zm3-2zm0 2zm6 0zm1-1zm1-1zm5 5zm-1-1zm0-1zm-3 0zm-1 0zm-1 1zm-3 1zm0-2zm-2 1zm-1-1zm-1 2zm-2-2zm-1 0zm0 1zm-1 1zm-2-1zm-4-1zm0 0zm-5 2zm-4-2zm-1 0zm-1 2zm0-1zm-1-1zm0 2zm-6 0zm-2 0zm-1-1zm-4-1zm-3 1zm-3 1zm-5-1zm-99-1zm-13 1zm0 4zm2 0zm4 0zm107 0zm3-2zm10 1zm4 1zm7-2zm6 2zm1-1zm0 0zm3 1zm2-1zm1 0zm2-1zm1 0zm0 2zm0-1zm6 0zm3-1zm3 2zm1-2zm2 0zm0 1zm0 0zm6 3zm0-1zm-9 0zm0 1zm-1 1zm-9-2zm0 2zm-2-1zm-3-1zm-2 1zm0 0zm-1 0zm-4 1zm-1 0zm-6 0zm-4-1zm-9 1zm-11 0zm0-2zm-106 2zm-12 0zm-1-1zm4 2zm2 2zm15-1zm71 1zm4 0zm4 0zm16-1zm5 0zm19 1zm5-1zm0-1zm12 2zm1-1zm0-1zm2 1zm2 0zm2-1zm3 0zm0 0zm1 2zm1 0zm4 0zm1-1zm1-1zm1 1zm2 0zm2 1zm-2 3zm0-1zm-3-1zm-7 2zm-5-1zm-1 1zm-2-2zm0 2zm-4 0zm-3-1zm0 0zm-1 0zm-4-1zm0 2zm-2-2zm-1 0zm-4 1zm-2 0zm-3-1zm-7 2zm-9 0zm-15-2zm-9 0zm-6 2zm0 0zm-77-1zm-1-1zm-10 1zm-5-1zm21 3zm57 2zm46-1zm10 0zm9-1zm1 0zm2 0zm0 1zm3 1zm0-1zm4 0zm3-1zm1 1zm2 1zm1-2zm1 2zm0-2zm2 1zm0 0zm1 0zm3-1zm2 2zm2-1zm11 0zm2 0zm-2 4zm-3-2zm-1 2zm-4-1zm-4-1zm-3 0zm-8 0zm-6 1zm0 0zm-5 0zm-1 0zm-1 1zm-3-1zm-1 1zm-1-2zm0 0zm-3 0zm-2 1zm-8 0zm-46 0zm-5 1zm-1-2zm-39 1zm-11 1zm-1-2zm-2 0zm-12 2zm-11-2zm4 5zm18 0zm1-2zm6 0zm3 0zm8 1zm1 0zm23 1zm5-1zm7 0zm1-1zm42 2zm1-2zm1 1zm5 0zm6-1zm6 0zm5 0zm6 1zm0 1zm3-1zm1 0zm5 1zm1-2zm0 1zm3 1zm1-1zm1 1zm3-1zm1 0zm1-1zm2 2zm0 0zm1-2zm3 2zm2 0zm2-1zm0 1zm0-2zm3 0zm2 4zm-3-1zm0 1zm-4-1zm-2 0zm-4 0zm0 2zm-4-2zm-9 1zm0-1zm-2 0zm-5 1zm-2-1zm-2 2zm0-1zm-3 0zm0 0zm-3-1zm-4 1zm-1 1zm-13-2zm-13 1zm-46-1zm-4 1zm-23 1zm-8-2zm-8 2zm-19 0zm0-1zm-1 0zm0 1zm-1 3zm0-2zm2 1zm3-1zm2 1zm24-1zm3 1zm25 1zm1 0zm69-2zm2 2zm13-2zm3 1zm10 1zm0 0zm2 0zm3-2zm0 2zm4-1zm1-1zm2 2zm1 0zm10 0zm2-1zm2 1zm-2 3zm-4 0zm-1 0zm-2-2zm-1 1zm-6-1zm-2 1zm-2 1zm0-2zm-3 2zm-1 0zm-2 0zm-2 0zm-3-1zm-1 1zm-7-1zm0-1zm-1 1zm-3-1zm-9 1zm-1 1zm-2 0zm-1-2zm-1 0zm-70 0zm-5 2zm-11 0zm-8-2zm-8 0zm-4 0zm-11 5zm7 0zm5-1zm4 0zm3 1zm2-1zm5 0zm87 0zm6 0zm7 0zm5 1zm6 0zm6-2zm1 2zm2 0zm10-1zm2 1zm9-2zm8 0zm-10 4zm-1 1zm-12 0zm-5-1zm-2 1zm-3-1zm-1 1zm-1-2zm0 0zm-1 2zm0-2zm-4 2zm0-2zm-1 1zm-1 1zm-1 0zm-4-1zm-11 1zm-1-1zm-13-1zm-46 0zm-1 1zm-2 0zm0 0zm-2 1zm-17 0zm-7-1zm0 0zm-5 1zm-12-2zm-9 2zm-7-2zm-1 2zm-2-2zm-1 0zm6 3zm5 0zm34 0zm2 1zm78 1zm1-1zm2 1zm12 0zm6 0zm0 0zm7 0zm1 0zm2 0zm0-2zm2 2zm0-1zm2 1zm6-2zm1 1zm1-1zm3 0zm1 2zm0 0zm0-2zm6 1zm1 0zm-1 3zm-3 1zm-6 0zm0-2zm-4 1zm0 0zm-1 0zm-4-1zm-3 1zm-1 1zm-1 0zm-3-1zm-2-1zm-2 0zm-1 0zm-4 1zm0 0zm-7-1zm-4 1zm-1 0zm-2 0zm-2-1zm-1 0zm-17 0zm-46 0zm-31 0zm-23 2zm-1-2zm-2 2zm-1-1zm-2 1zm0-2zm11 3zm19 0zm0 1zm5 1zm6 0zm2-2zm13 1zm2-1zm5 0zm34 2zm3-1zm3-1zm5 1zm6 0zm7 0zm1 1zm1 0zm10-1zm1-1zm1 2zm3-2zm1 0zm1 0zm0 2zm3 0zm1-1zm1 0zm4 1zm4-1zm7 0zm5 1zm2-1zm8-1zm0 3zm-2 1zm-5 0zm-1-1zm-7 1zm-2 0zm0-1zm-5 2zm-1-1zm-1 0zm-8 0zm0-1zm-1 0zm-3 0zm-10 2zm-7-1zm0 0zm-25 0zm-2-1zm0 0zm-5 0zm-15 2zm-32 0zm-9-2zm-4 1zm-1 0zm-4 1zm-11 0zm-6-1zm-3 1zm-1 1zm34 2zm18 0zm9-1zm20 0zm17 0zm2-1zm2 1zm22 1zm7-1zm6 0zm1 0zm1 1zm1-2zm3 1zm1-1zm3 2zm0 0zm1 0zm4-1zm1-1zm1 0zm0 1zm0-1zm1 2zm2-2zm14 2zm2-1zm0 1zm0 3zm-7-2zm-6 2zm-6 0zm-7-1zm0-1zm-1 0zm-2 2zm-3-1zm-1 1zm-3 0zm-1 0zm-2 0zm0-2zm-2 0zm-4 1zm-31-1zm-7 0zm0 0zm-2 1zm-17 1zm-20 0zm-28-1zm-15 1zm-5 0zm-2 2zm8-1zm6 0zm4 1zm2 1zm9-1zm9-1zm19 0zm18 2zm1-2zm1 1zm3-1zm6 0zm4 2zm24-2zm3 1zm0-1zm5 2zm8-1zm0 0zm2-1zm0 1zm4 0zm1 1zm1-2zm1 1zm4-1zm2 2zm1-2zm0 1zm5-1zm1 0zm1 2zm2-1zm5-1zm0 1zm3 1zm9-2zm-2 5zm-7 0zm-11 0zm0-2zm-1 2zm0-2zm-6 2zm-4-1zm-1-1zm-7 0zm-1 2zm-1-1zm-1 1zm-5-2zm-10 1zm-25 0zm-4-1zm-6 2zm-5-1zm-4 1zm-15-1zm-13 0zm-5 1zm-36-1zm-2-1zm3 3zm9 1zm41 1zm12-2zm20 1zm4-1zm33 1zm8 1zm0 0zm2 0zm0-2zm4 1zm0-1zm6 1zm2-1zm4 2zm3 0zm5 0zm4-1zm7 4zm-3-1zm0 1zm-2-2zm-3 1zm-3 0zm-1 1zm-2-2zm-9 0zm-2 1zm0-1zm-6 0zm-2 1zm-2 1zm0-2zm-8 2zm-1-2zm-4 1zm-9-1zm-10 2zm-12-1zm-7-1zm-1 0zm-9 2zm-10 0zm-9-2zm-20 2zm-14-2zm-5 0zm-2 2zm2 2zm6 1zm14 0zm9 0zm6-2zm4 1zm47-1zm1 1zm4 0zm2-1zm6 1zm2 0zm3 1zm1 0zm8-2zm8 0zm2 2zm5-2zm1 0zm1 2zm1-1zm0 1zm0 0zm8-1zm3-1zm2 1zm4 1zm0 0zm1-2zm3 4zm-6 1zm-2-2zm-1 2zm-5 0zm-4-2zm-2 2zm-3 0zm-7-1zm-4 1zm-10-1zm-10 1zm-21-2zm-61 2zm-3 0zm-9 0zm-10 0zm16 2zm7 0zm1 1zm1-2zm1 0zm2 2zm29 0zm4 0zm2-1zm26-1zm1 0zm20 0zm2 1zm5 0zm4-1zm7 1zm2-1zm0 1zm3-1zm5 0zm3 1zm6 0zm1 1zm1-2zm0 0zm6 1zm1-1zm0 2zm0-1zm1 1zm-4 3zm-2-2zm-5 2zm-1 0zm-3-1zm-1 0zm0 0zm0 1zm-9 0zm-5 0zm-7-2zm-3 1zm-6-1zm0 1zm-3 0zm-1-1zm-5 1zm-28 1zm-6 0zm-22-1zm-14 1zm-3-1zm-10-1zm-2 1zm-3 1zm-10-1zm0 2zm2 0zm5 1zm6 0zm14-1zm19 2zm5-2zm2 0zm0 1zm7 0zm14 1zm0-1zm4-1zm7 1zm18 1zm8-1zm2 0zm9 1zm7-1zm1-1zm3 1zm8-1zm1 1zm3-1zm3 1zm-3 4zm-1-2zm-3 1zm-2-1zm-3 0zm-5 1zm-2 1zm0 0zm-1 0zm-3 0zm-2 0zm0 0zm-13 0zm-1-1zm-5 1zm-6-1zm-17 1zm-22 0zm-6 0zm-12 0zm-9-2zm-10 1zm-13 1zm-5 1zm0 2zm2 0zm1-1zm2 0zm2 1zm2 0zm22-2zm21 1zm9-1zm8 1zm8-1zm6 2zm8-2zm6 1zm2-1zm1 2zm5-1zm4 0zm1 1zm4 0zm6-2zm1 2zm7-2zm6 2zm8-2zm-5 4zm0 0zm-1-1zm-1 1zm-1 0zm0 1zm-2-1zm-4 0zm0-1zm-6 1zm-1 0zm-2-1zm-14 0zm0 1zm0-1zm-35 0zm-1 0zm-23 2zm-1 0zm-1-2zm0 0zm-1 2zm-14 0zm0-2zm-13 2zm-12 1zm31 2zm20-1zm8-1zm11 1zm0-1zm22 2zm9 0zm3-2zm6 2zm4 0zm3 0zm3-1zm4 3zm0 0zm-16 1zm-1-1zm-4 0zm-5 0zm-11-1zm-3 2zm-6-2zm0 2zm-5 0zm0-2zm-11 1zm-4 0zm-2-1zm-13 1zm-2 1zm-1-1zm-18 0zm-11 0zm-1 1zm-4-1zm5 2zm2 0zm2 2zm1 0zm15 0zm19-1zm9 1zm8-2zm5 1zm6 0zm1 0zm0 1zm1 0zm0-1zm10 0zm2 0zm6 1zm19-1zm8-1zm-7 3zm0 2zm-1 0zm-1-2zm-10 0zm-3 0zm-19 1zm-2-1zm-3 0zm-6 2zm-19 0zm-1-1zm-9-1zm-3 2zm-1 0zm-21 3zm3-1zm42-1zm1 0zm2 0zm1 0zm13 2zm11-1zm12-1zm2 0zm1 2zm3 0zm4-1zm1-1zm-8 5zm-1-1zm-5 1zm-17-1zm-1 0zm-1-1zm-16 2zm0-2zm-10 0zm-3 0zm-20 0zm-3 0zm-3 2zm-1 0zm-7 1zm21 0zm15 0zm2 1zm6 1zm4-2zm28 1zm2 1zm6-2zm-5 4zm-2 1zm-4 0zm-12-1zm-4 1zm-12-1zm-9 0zm-4-1zm-10 2zm-1 1zm5 0zm1 1zm6 1zm3-1zm4-1zm1 0zm3 0zm1 2zm9-1zm4 0zm-20 2z" stroke="#ff6a0d" stroke-width="2.5" stroke-linecap="round"/><path transform="scale(0.5)" d="M897 1170zm12 1zm11 3zm-3 0zm-3-1zm-5 1zm-15 3zm6 0zm5 0zm1-1zm15 2zm1 0zm2 3zm-4 0zm-4 0zm-8-1zm-4 1zm-8-2zm-1 0zm-128 2zm1 3zm140-2zm5 2zm5 0zm7-2zm-7 3zm-2 0zm-1 2zm-5-2zm-6 1zm-3 0zm-5 0zm-3-1zm-10 2zm-6-2zm-106 0zm-2 2zm-5-1zm-5 1zm-1 3zm1 0zm5-2zm2 0zm110 2zm5-2zm4 0zm3 2zm6 0zm3-1zm4 1zm2 0zm7 0zm9-1zm9 1zm5-1zm-3 4zm-26 0zm-4-1zm-6 0zm-2 1zm-125-1zm-7 2zm118 0zm2 0zm3 2zm6-2zm1 2zm0-2zm4 1zm1 0zm11-1zm7 2zm6-1zm12-1zm6 3zm-6 2zm-8 0zm-7-2zm-13 0zm-9 0zm0 1zm-9 0zm-110-1zm-4 0zm-6 1zm-3-1zm-4 1zm16 2zm0 2zm7 0zm121 0zm9 0zm2-1zm2 0zm12-1zm9 1zm-11 2zm-5 0zm-20 2zm-11 0zm-114-2zm-10 0zm-7 3zm5 1zm1 0zm10 1zm0-1zm78 1zm20 0zm7-1zm50 0zm3 1zm6 1zm-5 0zm-1 2zm-13-2zm-1 2zm-14-2zm-1 1zm-9-1zm0 1zm-2 1zm-3-1zm-2-1zm-33 0zm-69 1zm-5 1zm-2-1zm-8 0zm-1-1zm-2 2zm-3-1zm-2 1zm-4 0zm0 3zm6-2zm6 2zm4-1zm5 1zm5 0zm93-2zm6 1zm1 1zm8 0zm20 0zm13-2zm9 0zm1 4zm-13 1zm-1 0zm-3-2zm-2 2zm-2-1zm-6-1zm-11 2zm-68-1zm-44-1zm-5 2zm-8-2zm-14 5zm5 0zm2-1zm12 1zm4 0zm3-2zm2 2zm40-2zm1 1zm42-1zm22 1zm5-1zm0 1zm7-1zm2 1zm11-1zm15 0zm10 4zm-12 0zm-19 0zm-1 1zm-15-1zm-7 0zm-1 0zm-5 0zm-4 1zm-1-2zm-14 1zm-51 0zm-7-1zm-22 2zm-3 0zm-4-1zm-1 1zm-1-2zm-4 2zm-10-2zm-3 0zm0 1zm-1 1zm1 3zm2 0zm7 0zm1-2zm2 2zm2-1zm1-1zm11 1zm0 1zm1-1zm8-1zm3 2zm5-1zm2 1zm5 0zm62 0zm4-1zm3 1zm11 0zm1 0zm18-2zm8 0zm4 2zm2-1zm1 0zm6-1zm8 2zm1-1zm5 3zm-28 1zm-2 0zm-2-2zm-14 0zm-15 0zm0 2zm-66-1zm-14 0zm-11 0zm-3-1zm-2 2zm-2-2zm-1 1zm-8 0zm-2 0zm-12-1zm5 5zm5 0zm8-2zm15 1zm2-1zm2 1zm9 0zm5-1zm70 1zm0-1zm3 2zm2-1zm4-1zm0 1zm1 0zm6 0zm0 1zm1-1zm0 1zm10-1zm14 1zm15 0zm4-1zm-24 4zm-7-2zm-7 0zm-2 2zm-1-1zm-20-1zm-3 0zm-8 0zm0 2zm-71 0zm-3 0zm-1-1zm-1-1zm-8 1zm-1 1zm0 0zm-5 0zm-7 0zm-5-1zm10 4zm10 0zm6-2zm22 2zm7-2zm48 0zm1 1zm4-1zm2 1zm9 1zm4-1zm3 1zm3-1zm1-1zm5 1zm3-1zm8 0zm0 1zm23 2zm-10 1zm-13-1zm-5 2zm-2 0zm-11-2zm-6 1zm-3-1zm-1 1zm-9 1zm0-1zm-1-1zm-1 1zm0 0zm-1-1zm-56 0zm-6 2zm-14-1zm-2 1zm-7-2zm-10 0zm-1 1zm-2 0zm-7 4zm6 0zm3 0zm1 0zm7-1zm0-1zm12 1zm4 1zm5-2zm1 2zm6-2zm3 1zm1 1zm1 0zm3-1zm48 0zm6-1zm0 2zm9-2zm7 2zm8-1zm1 0zm1-1zm7 1zm8 1zm1 0zm3-2zm7 1zm5 4zm-32-2zm-2 2zm-6-2zm0 1zm-2 0zm-1-1zm-22 2zm-1 0zm-25 0zm-11-2zm-2 2zm-5-1zm-11-1zm-8 0zm0 1zm-23 0zm-4 1zm-4-1zm-3 4zm14 0zm3-2zm4 1zm1-1zm4 2zm16-2zm4 1zm0-1zm3 2zm1-2zm9 0zm7 1zm8 0zm4 0zm21 1zm0 0zm0 0zm3-1zm4-1zm1 2zm8-1zm10 1zm4 0zm3-1zm16 3zm-10 0zm-3 0zm-2-1zm-1 1zm-3 1zm-3-1zm-2 0zm-6 1zm-13 0zm-2-1zm-17-1zm-3 2zm-1-2zm-5 0zm-6 2zm-13-1zm-4 1zm-25 0zm-1 0zm-4 0zm0-2zm-4 1zm-7-1zm0 2zm-9-1zm-2 0zm-1-1zm-3 0zm-2 5zm2-1zm2 0zm7 0zm10-1zm0 1zm2-1zm2 2zm1 0zm3-2zm1 1zm6 0zm2 0zm9 1zm6-2zm2 1zm21 1zm2-1zm8 0zm1 1zm2 0zm1-2zm10 1zm4 1zm3 0zm4-2zm12 2zm2 0zm13 0zm13-1zm0 2zm-24 0zm0 1zm-11-1zm-4 1zm-10-1zm-17 1zm-5-1zm-3 1zm-1 0zm-4 1zm-10 0zm-2-1zm-6 1zm0 0zm-3-1zm-1 0zm-2-1zm-5 1zm-5 0zm-2-1zm-2 0zm0 0zm-2 2zm-14 0zm-8-1zm-4 1zm-1 0zm-2-1zm0 3zm4 0zm6 0zm18 1zm4-1zm2 0zm6 0zm8-1zm13 0zm8 0zm4 1zm5 1zm16 0zm9-1zm6 0zm18-1zm0 2zm0-1zm1 0zm5-1zm8 2zm25 2zm-16-1zm-10 2zm-22-1zm0 0zm-20 1zm-4-1zm-2 0zm-10-1zm-1 1zm-4 1zm-4 0zm-5 0zm-4-2zm-4 0zm-14 1zm-2 0zm-1 1zm-3-2zm-2 2zm-3-1zm-4-1zm-1 1zm-1-1zm-4 1zm-10 1zm-3 0zm-7 0zm5 3zm10 0zm2-1zm6-1zm2 0zm7 0zm1 0zm6 2zm3-1zm1-1zm1 1zm0 0zm1-1zm0 0zm2 0zm1 1zm16 1zm0 0zm1 0zm0-2zm9 2zm4-2zm1 1zm0 1zm6 0zm0-2zm1 2zm9-1zm6 0zm8-1zm9 0zm33 0zm1 1zm-12 4zm-15 0zm-3-2zm-3 1zm-10-1zm-5 2zm-3-1zm-3 0zm-1-1zm-1 1zm-4 0zm-3 0zm-9 0zm-7 0zm-7 0zm-1-1zm-3 2zm-5-1zm-3 0zm-8 0zm-4 0zm-5-1zm0 0zm-2 1zm0-1zm-10 0zm-1 1zm-3 1zm-3-2zm-1 1zm-4-1zm-10 3zm0 1zm1 1zm2-1zm1 1zm4-1zm1 0zm11-1zm1 0zm7 1zm2 0zm0-1zm13 2zm3 0zm8 0zm22-2zm3 1zm13 1zm1 0zm1-2zm6 2zm4-1zm15 1zm10 0zm4-1zm1 1zm18 1zm-16 0zm0 2zm-3 0zm-12 0zm-11 0zm-1-2zm-6 1zm-10 1zm-2-2zm0 2zm-10-1zm0 0zm-5 1zm-1-2zm-1 0zm-13 2zm-1 0zm-2 0zm0-2zm-1 2zm0-2zm-6 2zm-2-1zm-6 1zm-2 0zm-1-1zm-3 1zm-5-1zm-3 1zm-12-1zm0 0zm-5 1zm-1-2zm-10 0zm1 4zm7 0zm3-1zm4 0zm4 2zm7 0zm0 0zm7-1zm0 0zm3-1zm1 1zm12-1zm1 1zm3 0zm1 1zm1-1zm1-1zm2 2zm3-2zm18 2zm0-1zm2-1zm1 0zm8 0zm4 0zm1 2zm2 0zm2-1zm0 0zm6 1zm5-2zm5 1zm1 0zm5-1zm5 0zm4 2zm17-2zm-9 3zm-1 1zm-15-1zm-7 1zm-8-1zm-8 1zm-6-1zm-7 0zm-3 1zm-3 1zm0 0zm-1-1zm-2-1zm-5 2zm-4 0zm-1-1zm-12 1zm0-1zm-1 1zm-4-2zm-3 2zm-4-2zm-19 1zm-3 1zm-12 2zm5-1zm5 1zm0-1zm16 0zm2 2zm0-2zm10 1zm8 0zm1 0zm1 0zm1 1zm1 0zm2 0zm2 0zm3-1zm4 0zm0-1zm3 1zm3 0zm1 0zm7 0zm5 1zm9-1zm1 1zm5 0zm3-2zm3 1zm1-1zm3 2zm0-2zm3 0zm12 2zm9 1zm-30 2zm0 0zm-9-2zm0 0zm-3 0zm-2 1zm-7 0zm-5 0zm-3-1zm-2 0zm-4 2zm-4-2zm-2 2zm-2 0zm-2-2zm-3 1zm-10-1zm-1 2zm-1-2zm-6 2zm-8 0zm-1-1zm-1-1zm-8 1zm-2 0zm0-1zm-10 1zm-1 1zm-4 1zm15 1zm31 0zm8-1zm0 1zm5-1zm1 2zm1 0zm1 0zm6-1zm0 0zm10 1zm0-2zm2 2zm1 0zm5-2zm8 2zm0-2zm0 1zm4 0zm3 0zm1 1zm2 0zm2 0zm-7 1zm-1 0zm-5 1zm-7-1zm-3 1zm0 0zm-8 1zm0-1zm-4-1zm-17 2zm-3 0zm-8 0zm-11 0zm0-2zm-1 2zm-7 0zm-2 0zm-5 0zm-6-1zm-4 3zm2-1zm1 1zm6-1zm12 0zm1 0zm0 2zm11 0zm4 0zm1 0zm3-1zm2-1zm0 1zm5 1zm11 0zm2-1zm3-1zm4 1zm3 1zm14 0zm1-2zm23 1zm-24 3zm-2-1zm-3 0zm-2 0zm0 0zm-1 1zm-2 1zm-9 0zm-4 0zm0-2zm-9 0zm-19 1zm-10 0zm-7 1zm-4-1zm-6 1zm1 2zm1 1zm15-2zm2 0zm0 2zm13-2zm6 2zm2 0zm6-2zm1 2zm6-1zm19 1zm26 1zm-1 0zm-4 2zm-22-1zm-2-1zm-7 0zm-3 0zm0 1zm-4-1zm0 1zm0 1zm-6-1zm-11 1zm-9 0zm0-1zm0 0zm-1-1zm-4 0zm-2 0zm-1 1zm-1 1zm-1-2zm-5 2zm-2-1zm-8-1zm5 4zm2 0zm5 0zm2 1zm4-2zm20 2zm4-2zm5 2zm6-1zm29 1zm-16 2zm-1 1zm-5-1zm-8-1zm-29 0zm18 4zm0 0zm4 1zm11-1z" stroke="#d3d3d3" stroke-width="2.5" stroke-linecap="round"/><path transform="scale(0.5)" d="M891 1178zm5 0zm-129 6zm1-1zm129-1zm8 1zm-20 3zm-4-1zm-114 0zm-3 2zm154 4zm-15 0zm-11 5zm-16 1zm-102 2zm-4-2zm-11 0zm-2 5zm129 0zm10 3zm-19-2zm-106 1zm-4 0zm93 2zm25 0zm28 2zm-27 2zm-105 1zm-18-1zm-8 3zm118-1zm27 5zm-76-2zm-68 5zm39 0zm82 0zm2-2zm13 0zm25 4zm-34-1zm0 2zm-10 0zm-55-2zm-43 2zm-10 2zm7-1zm101 2zm35-2zm-18 5zm-10 0zm-71-2zm-15 0zm-14 0zm-6 1zm-1 3zm145-1zm20 0zm-50 5zm-69 0zm-46 2zm29 1zm66-2zm10 0zm3 1zm56 3zm-49 0zm-18 1zm-47-1zm-22-1zm-1 1zm-33-1zm-9 1zm8 3zm5 0zm51 1zm64-2zm8 0zm1 0zm8 2zm-22 1zm-82 0zm-3 2zm-12 1zm25 1zm28 1zm6 0zm5 0zm20 0zm22-2zm5 0zm9 5zm-78-1zm-41 2zm4 0zm0 0zm56 1zm55 0zm9-1zm0 3zm-20 0zm-75 2zm-12 0zm-15-1zm-5 0zm-12-1zm7 3zm43 2zm1-2zm36 1zm7 0zm4 1zm16-1zm32 3zm-23 0zm-9 1zm-110-1zm12 4zm62-1zm2-1zm77 4zm-13 1zm-20-1zm-8 1zm-7-2zm-19 1zm-19-1zm-5 0zm-6 2zm-34-1zm0 2zm1 2zm49-2zm9 0zm23 2zm-4 3zm-36-1zm-7 0zm-40-1zm0 0zm-8 3zm3 0zm1 0zm27 1zm54 1zm31 0zm14-2zm-5 5zm-2-2zm-21 1zm-37 0zm-28-1zm-41 3zm3 0zm15 1zm39 1zm2 0zm15-1zm38 1zm-22 3zm-20-2zm-1 0zm-4 2zm-52-2zm-5 1zm12 2zm19 2zm20-1zm4 2zm-5 2zm-3-2zm-14 2zm-12-2zm5 3zm44 1zm1 1zm48 1zm-37 0zm-11 0zm-5 0zm-22 1zm-32 4zm37-1zm26 0zm8-1zm9 1zm7 2zm-7 1zm-22-1zm-31 1zm-17 3zm5 1zm2 0zm19-1zm10-1zm2 0zm15 1zm8-1zm9 3zm-20 0zm-33 2zm20 2z" stroke="#b9b95c" stroke-width="2.5" stroke-linecap="round"/><path transform="scale(0.5)" d="M908 1169zm-4 2zm-3 2zm-15 17zm10 0zm30-1zm-8 2zm-42 0zm-106 3zm113 1zm33 1zm-155 3zm139 2zm39 2zm-90 4zm29 0zm-116 6zm9 1zm58 3zm-71 0zm29 3zm40-2zm51 1zm-88 2zm-25 1zm-4 2zm121 5zm-4-1zm-8-1zm-90 4zm153 2zm-7 1zm-43 1zm-77-1zm-4-1zm-30 4zm10 0zm12-1zm77 1zm57-1zm-100 3zm-59 1zm23 3zm37 1zm72 2zm0 0zm-8 1zm-91-2zm-32 1zm107 4zm59 3zm-53-2zm-26 0zm-14 1zm-10 0zm-68 0zm23 3zm27 1zm80 0zm2-2zm1 1zm-12 4zm-11 0zm-60-2zm-19 1zm-8 0zm13 3zm2 1zm27-1zm29 0zm27 3zm-39 1zm-6-1zm-9 3zm11-1zm24 0zm58 0zm-42 3zm-63 2zm-2-2zm53 7zm-12 1zm-73-1zm19 3zm77 1zm30-1zm11 1zm-16 1zm-79 0zm-44 3zm77 1zm10 0zm-71 4zm-13-2zm-2 1zm40 2zm37 0zm-29 5zm-25 1zm60 1zm-44 3zm28 3zm12-1zm-29 4zm21 2zm-31 4zm12 4zm4 0zm4-2z" stroke="#e28f86" stroke-width="2.5" stroke-linecap="round"/><path transform="scale(0.5)" d="M897 1172zm-131 2zm125 4zm8-2zm4 1zm-29 11zm8 7zm3 0zm-129 2zm18 11zm87 3zm-107-2zm25 3zm8 2zm92 1zm-91 1zm-33 0zm34 5zm-10 2zm109 2zm-10 3zm-86-1zm-34 1zm28 5zm-12 2zm46 5zm-24-1zm-18 0zm-2 2zm-1 0zm-10 1zm32 1zm21 0zm11 3zm-30-1zm0 1zm-28 1zm15 2zm7-1zm-23 5zm17 3zm16-2zm-27 3zm-8 5zm21-1zm52-1zm28 2zm-23 3zm-9-1zm-63 2zm11 2zm19-2zm0 0zm82 0zm1 3zm-1 0zm-104 5zm4-2zm33 1zm37-1zm31 3zm-27 0zm-6 1zm-66 0zm10 4zm20-2zm3 3zm0 0zm-26 1zm-14 3zm55-1zm31 0zm6 4zm-12 1zm-30-1zm-11 1zm-7 0zm13 2zm34 1zm5-1zm14 1zm-7 3zm-42-1zm-43-1zm76 4zm4 1zm1-2zm-11 5zm-8-1zm-42 3zm12-1zm3 0zm51 2zm-1 2zm-13 0zm-16 3zm-8 2z" stroke="#a2dda2" stroke-width="2.5" stroke-linecap="round"/><path transform="scale(0.5)" d="M902 1169zm7 2zm-2 4zm-8 2zm15 3zm-22-1zm-16 3zm6 2zm20-1zm22 2zm-160 5zm123-1zm9 0zm-17 3zm-110 1zm-9-1zm-4 4zm5 6zm175 1zm-3 2zm-25-2zm-1 0zm-19 1zm-116 2zm79 1zm40 4zm-2 0zm-8-2zm-35 1zm-1 1zm-67 0zm-6 0zm0 0zm0-2zm-10 4zm9-1zm4 0zm3 0zm71 2zm24-1zm58 3zm-146 3zm39-1zm2 2zm55-2zm5 2zm37-2zm0 1zm14 2zm-136 2zm-12-2zm-7 2zm8 1zm0 0zm130 4zm-7 1zm-3-2zm-129 1zm-12-1zm-1 0zm-7 4zm43 1zm83 0zm27-1zm21-1zm-65 5zm-80-1zm-7 3zm23 1zm133 1zm-59 0zm-54 2zm-41 2zm39 1zm31 0zm47-2zm34 2zm-32 2zm-106 1zm-10-2zm-19 0zm37 3zm8 1zm1 0zm1 1zm38-1zm30-1zm11 0zm10 4zm-44 0zm0-1zm-36 0zm-15 2zm-24 0zm-16 3zm25-1zm9-1zm3 0zm26 1zm-28 5zm123 5zm-24-1zm-29 0zm-3-1zm-6 2zm-43-1zm-35-1zm-5 4zm70-1zm3 0zm3 1zm21 1zm27-2zm-16 3zm-8 2zm-11 0zm-42-2zm-1 0zm-44 2zm12 2zm44 0zm1 0zm31-1zm11 0zm24 2zm3 2zm-16 0zm-12 1zm-11-1zm-29 0zm-10 0zm-54-1zm20 4zm5 1zm2-2zm21 0zm1 1zm8 0zm24-1zm5 0zm52 5zm-57-1zm-29 0zm-44 1zm34 1zm10 0zm27 0zm24 0zm3 2zm26 2zm-20 1zm-12-2zm-12 0zm-7 2zm-7-2zm-20 0zm-27 2zm-9 0zm-12 1zm12 1zm41 1zm17-1zm8 1zm17 0zm12-1zm-11 3zm-49 0zm2 2zm32 0zm26 2zm-27 3zm-1-2zm-35 1zm-32 2zm30 2zm24-1zm7-1zm17 2zm1-2zm7 5zm-40 0zm0-2zm-36 0zm-3 0zm60 7z" stroke="#c9a74b" stroke-width="2.5" stroke-linecap="round"/><path transform="scale(0.5)" d="M901 1171zm3 0zm1-1zm13 8zm-13 3zm-12-1zm13 3zm2-1zm-2 5zm-17 0zm3 1zm18 0zm16 4zm-2-1zm-16 2zm-5 2zm13-1zm15 0zm-8 3zm-17 0zm-6 0zm-122 0zm-19 2zm158 2zm8 0zm8 3zm-29 0zm-21 0zm-123 3zm140 1zm36 2zm-172 1zm148 1zm7 1zm3 1zm-22 1zm-64 0zm-9 4zm48 1zm29-1zm19 0zm13 1zm4-2zm1 0zm-27 4zm-6 0zm-1-1zm-27 2zm15 3zm4-2zm17 0zm4 0zm20 2zm-19 1zm-1 2zm-9-1zm-2 1zm-6-2zm-6 0zm-9 2zm9 1zm4 2zm9-2zm28 3zm-24 2zm-9 0zm-1 3zm11-2zm21 3zm-3 2zm-27-2zm0 5zm28-1zm4-1zm1 0zm-40 3zm-8 4zm5-1zm20 3zm-15 1zm-1 1zm-34-2zm-67 3zm36 0zm67 2zm1 0zm8-2zm2 3zm-5 1zm-14 0zm-77 4zm93-2zm2 3zm-25 2zm-35 0zm51 3zm12 0zm1-1zm2 1zm12-1zm-12 3zm-11 0zm-11 0zm-65-1zm22 4zm44 1zm24 1zm-27 2zm-42-1zm57 3zm-60 4zm-44 2zm105 1zm4 0zm-112 6zm85 0zm-15 3zm15 3zm1 1zm-59 2zm52 5zm-16 2zm2 6z" stroke="#ffff00" stroke-width="2.5" stroke-linecap="round"/><line x1="371.2" y1="575.3" x2="371.2" y2="665.5" stroke="#000" stroke-width="1.0"/><line x1="370.7" y1="665.5" x2="480.8" y2="665.5" stroke="#000" stroke-width="1.0"/><line x1="367.9" y1="579" x2="371.2" y2="579" stroke="#000" stroke-width="0.9"/><text x="364" y="582" font-size="8.5" text-anchor="end" fill="#222">8</text><line x1="367.9" y1="602.6" x2="371.2" y2="602.6" stroke="#000" stroke-width="0.9"/><text x="364" y="605.6" font-size="8.5" text-anchor="end" fill="#222">4</text><line x1="367.9" y1="626.2" x2="371.2" y2="626.2" stroke="#000" stroke-width="0.9"/><text x="364" y="629.2" font-size="8.5" text-anchor="end" fill="#222">0</text><line x1="367.9" y1="649.8" x2="371.2" y2="649.8" stroke="#000" stroke-width="0.9"/><text x="364" y="652.8" font-size="8.5" text-anchor="end" fill="#222" textLength="10.2" lengthAdjust="spacingAndGlyphs">−4</text><line x1="398.5" y1="665.5" x2="398.5" y2="668.3" stroke="#000" stroke-width="0.9"/><text x="398.3" y="677.6" font-size="8.5" text-anchor="middle" fill="#222" textLength="11" lengthAdjust="spacingAndGlyphs">−5</text><line x1="426.4" y1="665.5" x2="426.4" y2="668.3" stroke="#000" stroke-width="0.9"/><text x="426.2" y="677.6" font-size="8.5" text-anchor="middle" fill="#222">0</text><line x1="454.2" y1="665.5" x2="454.2" y2="668.3" stroke="#000" stroke-width="0.9"/><text x="454.1" y="677.6" font-size="8.5" text-anchor="middle" fill="#222">5</text><text x="425.5" y="689.8" font-size="10.1" text-anchor="middle" fill="#222" textLength="49.5" lengthAdjust="spacingAndGlyphs">UMAP_1</text><text x="346.8" y="620.2" font-size="13.0" text-anchor="middle" fill="#222" transform="rotate(-90 346.8 620.2)" textLength="41" lengthAdjust="spacingAndGlyphs">UMAP_2</text><text x="108.6" y="568.5" font-size="12.8" text-anchor="middle" font-weight="bold" textLength="80.2" lengthAdjust="spacingAndGlyphs">Stem Score</text><text x="264.2" y="568.5" font-size="12.8" text-anchor="middle" font-weight="bold" textLength="73.5" lengthAdjust="spacingAndGlyphs">TRS Score</text><text x="417.2" y="554.1" font-size="12.8" text-anchor="middle" font-weight="bold" textLength="93.5" lengthAdjust="spacingAndGlyphs">Stem Score +</text><text x="417.4" y="569" font-size="12.8" text-anchor="middle" font-weight="bold" textLength="73.5" lengthAdjust="spacingAndGlyphs">TRS Score</text><rect x="538.1" y="656.5" width="11" height="9.1" fill="#d3d3d3"/><rect x="538.1" y="647.4" width="11" height="9.1" fill="#ccd4cc"/><rect x="538.1" y="638.4" width="11" height="9.1" fill="#bad8ba"/><rect x="538.1" y="629.3" width="11" height="9.1" fill="#a2dda2"/><rect x="538.1" y="620.2" width="11" height="9.1" fill="#87e387"/><rect x="538.1" y="611.2" width="11" height="9.1" fill="#6be96b"/><rect x="538.1" y="602.1" width="11" height="9.1" fill="#4fef4f"/><rect x="538.1" y="593.1" width="11" height="9.1" fill="#34f434"/><rect x="538.1" y="584" width="11" height="9.1" fill="#1afa1a"/><rect x="538.1" y="575" width="11" height="9.1" fill="#00ff00"/><rect x="549.1" y="656.5" width="11" height="9.1" fill="#d4cccc"/><rect x="549.1" y="647.4" width="11" height="9.1" fill="#cecec6"/><rect x="549.1" y="638.4" width="11" height="9.1" fill="#bed3b6"/><rect x="549.1" y="629.3" width="11" height="9.1" fill="#a8da9f"/><rect x="549.1" y="620.2" width="11" height="9.1" fill="#8fe286"/><rect x="549.1" y="611.2" width="11" height="9.1" fill="#75eb6d"/><rect x="549.1" y="602.1" width="11" height="9.1" fill="#5cf454"/><rect x="549.1" y="593.1" width="11" height="9.1" fill="#44fc3c"/><rect x="549.1" y="584" width="11" height="9.1" fill="#2dff25"/><rect x="549.1" y="575" width="11" height="9.1" fill="#16ff0e"/><rect x="560" y="656.5" width="11" height="9.1" fill="#d8baba"/><rect x="560" y="647.4" width="11" height="9.1" fill="#d3beb6"/><rect x="560" y="638.4" width="11" height="9.1" fill="#c5c5a7"/><rect x="560" y="629.3" width="11" height="9.1" fill="#b1ce93"/><rect x="560" y="620.2" width="11" height="9.1" fill="#9ad97d"/><rect x="560" y="611.2" width="11" height="9.1" fill="#84e466"/><rect x="560" y="602.1" width="11" height="9.1" fill="#6def50"/><rect x="560" y="593.1" width="11" height="9.1" fill="#58fb3a"/><rect x="560" y="584" width="11" height="9.1" fill="#44ff26"/><rect x="560" y="575" width="11" height="9.1" fill="#30ff12"/><rect x="571" y="656.5" width="11" height="9.1" fill="#dda2a2"/><rect x="571" y="647.4" width="11" height="9.1" fill="#daa89f"/><rect x="571" y="638.4" width="11" height="9.1" fill="#ceb193"/><rect x="571" y="629.3" width="11" height="9.1" fill="#bdbd81"/><rect x="571" y="620.2" width="11" height="9.1" fill="#a9ca6e"/><rect x="571" y="611.2" width="11" height="9.1" fill="#95d859"/><rect x="571" y="602.1" width="11" height="9.1" fill="#81e646"/><rect x="571" y="593.1" width="11" height="9.1" fill="#6ff434"/><rect x="571" y="584" width="11" height="9.1" fill="#5dff22"/><rect x="571" y="575" width="11" height="9.1" fill="#4cff11"/><rect x="581.9" y="656.5" width="11" height="9.1" fill="#e38787"/><rect x="581.9" y="647.4" width="11" height="9.1" fill="#e28f86"/><rect x="581.9" y="638.4" width="11" height="9.1" fill="#d99a7d"/><rect x="581.9" y="629.3" width="11" height="9.1" fill="#caa96e"/><rect x="581.9" y="620.2" width="11" height="9.1" fill="#b9b95c"/><rect x="581.9" y="611.2" width="11" height="9.1" fill="#a7c94b"/><rect x="581.9" y="602.1" width="11" height="9.1" fill="#96da3a"/><rect x="581.9" y="593.1" width="11" height="9.1" fill="#87eb2b"/><rect x="581.9" y="584" width="11" height="9.1" fill="#78fc1c"/><rect x="581.9" y="575" width="11" height="9.1" fill="#6aff0d"/><rect x="592.9" y="656.5" width="11" height="9.1" fill="#e96b6b"/><rect x="592.9" y="647.4" width="11" height="9.1" fill="#eb756d"/><rect x="592.9" y="638.4" width="11" height="9.1" fill="#e48466"/><rect x="592.9" y="629.3" width="11" height="9.1" fill="#d89559"/><rect x="592.9" y="620.2" width="11" height="9.1" fill="#c9a74b"/><rect x="592.9" y="611.2" width="11" height="9.1" fill="#baba3c"/><rect x="592.9" y="602.1" width="11" height="9.1" fill="#acce2e"/><rect x="592.9" y="593.1" width="11" height="9.1" fill="#9fe121"/><rect x="592.9" y="584" width="11" height="9.1" fill="#93f515"/><rect x="592.9" y="575" width="11" height="9.1" fill="#87ff09"/><rect x="603.8" y="656.5" width="11" height="9.1" fill="#ef4f4f"/><rect x="603.8" y="647.4" width="11" height="9.1" fill="#f45c54"/><rect x="603.8" y="638.4" width="11" height="9.1" fill="#ef6d50"/><rect x="603.8" y="629.3" width="11" height="9.1" fill="#e68146"/><rect x="603.8" y="620.2" width="11" height="9.1" fill="#da963a"/><rect x="603.8" y="611.2" width="11" height="9.1" fill="#ceac2e"/><rect x="603.8" y="602.1" width="11" height="9.1" fill="#c3c323"/><rect x="603.8" y="593.1" width="11" height="9.1" fill="#b8d918"/><rect x="603.8" y="584" width="11" height="9.1" fill="#aeef0f"/><rect x="603.8" y="575" width="11" height="9.1" fill="#a5ff06"/><rect x="614.8" y="656.5" width="11" height="9.1" fill="#f43434"/><rect x="614.8" y="647.4" width="11" height="9.1" fill="#fc443c"/><rect x="614.8" y="638.4" width="11" height="9.1" fill="#fb583a"/><rect x="614.8" y="629.3" width="11" height="9.1" fill="#f46f34"/><rect x="614.8" y="620.2" width="11" height="9.1" fill="#eb872b"/><rect x="614.8" y="611.2" width="11" height="9.1" fill="#e19f21"/><rect x="614.8" y="602.1" width="11" height="9.1" fill="#d9b818"/><rect x="614.8" y="593.1" width="11" height="9.1" fill="#d1d111"/><rect x="614.8" y="584" width="11" height="9.1" fill="#caea09"/><rect x="614.8" y="575" width="11" height="9.1" fill="#c3ff03"/><rect x="625.7" y="656.5" width="11" height="9.1" fill="#fa1a1a"/><rect x="625.7" y="647.4" width="11" height="9.1" fill="#ff2d25"/><rect x="625.7" y="638.4" width="11" height="9.1" fill="#ff4426"/><rect x="625.7" y="629.3" width="11" height="9.1" fill="#ff5d22"/><rect x="625.7" y="620.2" width="11" height="9.1" fill="#fc781c"/><rect x="625.7" y="611.2" width="11" height="9.1" fill="#f59315"/><rect x="625.7" y="602.1" width="11" height="9.1" fill="#efae0f"/><rect x="625.7" y="593.1" width="11" height="9.1" fill="#eaca09"/><rect x="625.7" y="584" width="11" height="9.1" fill="#e5e505"/><rect x="625.7" y="575" width="11" height="9.1" fill="#e1ff01"/><rect x="636.6" y="656.5" width="11" height="9.1" fill="#ff0000"/><rect x="636.6" y="647.4" width="11" height="9.1" fill="#ff160e"/><rect x="636.6" y="638.4" width="11" height="9.1" fill="#ff3012"/><rect x="636.6" y="629.3" width="11" height="9.1" fill="#ff4c11"/><rect x="636.6" y="620.2" width="11" height="9.1" fill="#ff6a0d"/><rect x="636.6" y="611.2" width="11" height="9.1" fill="#ff8709"/><rect x="636.6" y="602.1" width="11" height="9.1" fill="#ffa506"/><rect x="636.6" y="593.1" width="11" height="9.1" fill="#ffc303"/><rect x="636.6" y="584" width="11" height="9.1" fill="#ffe101"/><rect x="636.6" y="575" width="11" height="9.1" fill="#ffff00"/><line x1="538.1" y1="575" x2="538.1" y2="665.5" stroke="#000" stroke-width="1.0"/><line x1="537.6" y1="665.5" x2="647.6" y2="665.5" stroke="#000" stroke-width="1.0"/><line x1="554.5" y1="665.5" x2="554.5" y2="668.3" stroke="#000" stroke-width="0.9"/><text x="554.5" y="677.6" font-size="8.5" text-anchor="middle" fill="#222">2</text><line x1="576.4" y1="665.5" x2="576.4" y2="668.3" stroke="#000" stroke-width="0.9"/><text x="576.4" y="677.6" font-size="8.5" text-anchor="middle" fill="#222">4</text><line x1="598.3" y1="665.5" x2="598.3" y2="668.3" stroke="#000" stroke-width="0.9"/><text x="598.3" y="677.6" font-size="8.5" text-anchor="middle" fill="#222">6</text><line x1="620.2" y1="665.5" x2="620.2" y2="668.3" stroke="#000" stroke-width="0.9"/><text x="620.2" y="677.6" font-size="8.5" text-anchor="middle" fill="#222">8</text><line x1="642.1" y1="665.5" x2="642.1" y2="668.3" stroke="#000" stroke-width="0.9"/><text x="642.1" y="677.6" font-size="8.5" text-anchor="middle" fill="#222" textLength="9.8" lengthAdjust="spacingAndGlyphs">10</text><line x1="534.8" y1="579.5" x2="538.1" y2="579.5" stroke="#000" stroke-width="0.9"/><text x="531.5" y="582.5" font-size="8.5" text-anchor="end" fill="#222" textLength="20" lengthAdjust="spacingAndGlyphs">10.0</text><line x1="534.8" y1="602.1" x2="538.1" y2="602.1" stroke="#000" stroke-width="0.9"/><text x="531.5" y="605.1" font-size="8.5" text-anchor="end" fill="#222" textLength="14.3" lengthAdjust="spacingAndGlyphs">7.5</text><line x1="534.8" y1="624.8" x2="538.1" y2="624.8" stroke="#000" stroke-width="0.9"/><text x="531.5" y="627.8" font-size="8.5" text-anchor="end" fill="#222" textLength="14.3" lengthAdjust="spacingAndGlyphs">5.0</text><line x1="534.8" y1="647.4" x2="538.1" y2="647.4" stroke="#000" stroke-width="0.9"/><text x="531.5" y="650.4" font-size="8.5" text-anchor="end" fill="#222" textLength="14.3" lengthAdjust="spacingAndGlyphs">2.5</text><text x="592.3" y="689.8" font-size="10.1" text-anchor="middle" fill="#222" textLength="42.5" lengthAdjust="spacingAndGlyphs">Scoring</text><text x="504.6" y="623.2" font-size="13.0" text-anchor="middle" fill="#222" transform="rotate(-90 504.6 623.2)" textLength="101.5" lengthAdjust="spacingAndGlyphs">scPagwas TRS Score</text><text x="592.3" y="568.5" font-size="12.8" text-anchor="middle" font-weight="bold" textLength="126.5" lengthAdjust="spacingAndGlyphs">Color threshold: 0</text><text x="1.3" y="184.8" font-size="14.2" font-weight="bold" font-family="'Liberation Serif', serif">D</text><text x="16.4" y="189.8" font-size="6.9" stroke="#222" stroke-width="0.1" fill="#222" textLength="55.2" lengthAdjust="spacingAndGlyphs">Stem score distribution</text><rect x="28" y="212" width="203" height="112.8" fill="#dcdcdc"/><rect x="26" y="257.3" width="2" height="67.5" fill="#dcdcdc"/><rect x="231" y="266.4" width="1.8" height="58.4" fill="#dcdcdc"/><path d="M28 212V324.8M30.1 212V324.8M32.1 212V324.8M34.1 212V324.8M36.2 212V324.8M38.2 212V324.8M40.3 212V324.8M42.3 212V324.8M44.4 212V324.8M46.4 212V324.8M48.5 212V324.8M50.5 212V324.8M52.6 212V324.8M54.6 212V324.8M56.7 212V324.8M58.7 212V324.8M60.8 212V324.8M62.8 212V324.8M64.9 212V324.8M66.9 212V324.8M69 212V324.8M71 212V324.8M73.1 212V324.8M75.1 212V324.8M77.2 212V324.8M79.2 212V324.8M81.3 212V324.8M83.3 212V324.8M85.4 212V324.8M87.4 212V324.8M89.5 212V324.8M91.5 212V324.8M93.6 212V324.8M95.6 212V324.8M97.7 212V324.8M99.7 212V324.8M101.8 212V324.8M103.8 212V324.8M105.9 212V324.8M107.9 212V324.8M110 212V324.8M112 212V324.8M114.1 212V324.8M116.1 212V324.8M118.2 212V324.8M120.2 212V324.8M122.3 212V324.8M124.3 212V324.8M126.4 212V324.8M128.4 212V324.8M130.5 212V324.8M132.5 212V324.8M134.6 212V324.8M136.6 212V324.8M138.7 212V324.8M140.7 212V324.8M142.8 212V324.8M144.8 212V324.8M146.9 212V324.8M148.9 212V324.8M151 212V324.8M153.1 212V324.8M155.1 212V324.8M157.2 212V324.8M159.2 212V324.8M161.3 212V324.8M163.3 212V324.8M165.4 212V324.8M167.4 212V324.8M169.5 212V324.8M171.5 212V324.8M173.6 212V324.8M175.6 212V324.8M177.7 212V324.8M179.7 212V324.8M181.8 212V324.8M183.8 212V324.8M185.9 212V324.8M187.9 212V324.8M190 212V324.8M192 212V324.8M194.1 212V324.8M196.1 212V324.8M198.2 212V324.8M200.2 212V324.8M202.3 212V324.8M204.3 212V324.8M206.4 212V324.8M208.4 212V324.8M210.5 212V324.8M212.5 212V324.8M214.6 212V324.8M216.6 212V324.8M218.7 212V324.8M220.7 212V324.8M222.8 212V324.8M224.8 212V324.8M226.9 212V324.8M228.9 212V324.8M231 212V324.8" stroke="#f0f0f0" stroke-width="0.5"/><path d="M32.4 200.3h2.1V212h-2.1ZM38.6 200.3h2.1V212h-2.1ZM44.8 200.3h2.1V212h-2.1ZM48.8 200.3h2.1V212h-2.1ZM55 200.3h2.1V212h-2.1ZM61.2 200.3h2.1V212h-2.1ZM67.4 200.3h2.1V212h-2.1ZM73.6 200.3h2.1V212h-2.1ZM79.8 200.3h2.1V212h-2.1ZM86 200.3h2.1V212h-2.1ZM90 200.3h2.1V212h-2.1ZM96.2 200.3h2.1V212h-2.1ZM102.4 200.3h2.1V212h-2.1ZM108.6 200.3h2.1V212h-2.1ZM114.8 200.3h2.1V212h-2.1ZM118.8 200.3h2.1V212h-2.1ZM122.8 200.3h2.1V212h-2.1ZM126.8 200.3h2.1V212h-2.1ZM130.8 200.3h2.1V212h-2.1ZM134.8 200.3h2.1V212h-2.1ZM141 200.3h2.1V212h-2.1ZM145 200.3h2.1V212h-2.1ZM151.2 200.3h2.1V212h-2.1ZM157.4 200.3h2.1V212h-2.1ZM161.4 200.3h2.1V212h-2.1ZM167.6 200.3h2.1V212h-2.1ZM173.8 200.3h2.1V212h-2.1ZM180 200.3h2.1V212h-2.1ZM186.2 200.3h2.1V212h-2.1ZM190.2 200.3h2.1V212h-2.1ZM196.4 200.3h2.1V212h-2.1ZM202.6 200.3h2.1V212h-2.1ZM208.8 200.3h2.1V212h-2.1ZM212.8 200.3h2.1V212h-2.1ZM219 200.3h2.1V212h-2.1ZM225.2 200.3h2.1V212h-2.1Z" fill="#dcdcdc"/><line x1="16.7" y1="194.6" x2="16.7" y2="330.3" stroke="#555" stroke-width="0.9"/><line x1="16.2" y1="330.3" x2="242.6" y2="330.3" stroke="#555" stroke-width="0.9"/><line x1="15.1" y1="219.5" x2="16.7" y2="219.5" stroke="#555" stroke-width="0.6"/><text x="14" y="221" font-size="4.2" stroke="#444" stroke-width="0.06" text-anchor="end" fill="#444" textLength="5" lengthAdjust="spacingAndGlyphs">0.9</text><line x1="15.1" y1="254.5" x2="16.7" y2="254.5" stroke="#555" stroke-width="0.6"/><text x="14" y="256" font-size="4.2" stroke="#444" stroke-width="0.06" text-anchor="end" fill="#444" textLength="5" lengthAdjust="spacingAndGlyphs">0.6</text><line x1="15.1" y1="289.5" x2="16.7" y2="289.5" stroke="#555" stroke-width="0.6"/><text x="14" y="291" font-size="4.2" stroke="#444" stroke-width="0.06" text-anchor="end" fill="#444" textLength="5" lengthAdjust="spacingAndGlyphs">0.3</text><line x1="15.1" y1="324.5" x2="16.7" y2="324.5" stroke="#555" stroke-width="0.6"/><text x="14" y="326" font-size="4.2" stroke="#444" stroke-width="0.06" text-anchor="end" fill="#444" textLength="5" lengthAdjust="spacingAndGlyphs">0.0</text><line x1="27" y1="330.3" x2="27" y2="331.9" stroke="#555" stroke-width="0.6"/><text x="27" y="337.3" font-size="4.2" stroke="#444" stroke-width="0.06" text-anchor="middle" fill="#444" textLength="7" lengthAdjust="spacingAndGlyphs">0.00</text><line x1="78.2" y1="330.3" x2="78.2" y2="331.9" stroke="#555" stroke-width="0.6"/><text x="78.2" y="337.3" font-size="4.2" stroke="#444" stroke-width="0.06" text-anchor="middle" fill="#444" textLength="7" lengthAdjust="spacingAndGlyphs">0.25</text><line x1="129.3" y1="330.3" x2="129.3" y2="331.9" stroke="#555" stroke-width="0.6"/><text x="129.3" y="337.3" font-size="4.2" stroke="#444" stroke-width="0.06" text-anchor="middle" fill="#444" textLength="7" lengthAdjust="spacingAndGlyphs">0.50</text><line x1="180.5" y1="330.3" x2="180.5" y2="331.9" stroke="#555" stroke-width="0.6"/><text x="180.5" y="337.3" font-size="4.2" stroke="#444" stroke-width="0.06" text-anchor="middle" fill="#444" textLength="7" lengthAdjust="spacingAndGlyphs">0.75</text><line x1="231.7" y1="330.3" x2="231.7" y2="331.9" stroke="#555" stroke-width="0.6"/><text x="231.7" y="337.3" font-size="4.2" stroke="#444" stroke-width="0.06" text-anchor="middle" fill="#444" textLength="7" lengthAdjust="spacingAndGlyphs">1.00</text><text x="129.6" y="345.2" font-size="5.8" stroke="#222" stroke-width="0.09" text-anchor="middle" fill="#222" textLength="17.5" lengthAdjust="spacingAndGlyphs">Scoring</text><text x="6.4" y="263" font-size="6.0" stroke="#222" stroke-width="0.09" text-anchor="middle" fill="#222" transform="rotate(-90 6.4 263)" textLength="21" lengthAdjust="spacingAndGlyphs">Density</text><path d="M27.4 265.5 L29.1 256.2 L31.4 244.7 L34.3 230.8 L37.7 220.4 L41.2 213.5 L45.8 208.9 L50.4 207.7 L210.2 207.8 L214.5 209.1 L217.7 212.3 L220.4 217.7 L223.1 225.3 L225.8 234 L228 241.5 L230.2 251.3 L231.8 266.4" fill="none" stroke="#ff2dff" stroke-width="1.3" stroke-linejoin="round" stroke-dasharray="4.3 3.4"/><line x1="78.5" y1="193.7" x2="78.5" y2="330" stroke="#c8283c" stroke-width="1.2" stroke-dasharray="3.2 1.8"/><line x1="180.6" y1="193.7" x2="180.6" y2="330" stroke="#c8283c" stroke-width="1.2" stroke-dasharray="3.2 1.8"/><text x="47.2" y="245.7" font-size="8.0" stroke="#1a1a1a" stroke-width="0.12" text-anchor="middle" fill="#1a1a1a" textLength="16.7" lengthAdjust="spacingAndGlyphs">LStem</text><text x="48.8" y="257.2" font-size="7.9" stroke="#1a1a1a" stroke-width="0.12" text-anchor="middle" fill="#1a1a1a" textLength="26.4" lengthAdjust="spacingAndGlyphs">3367 cells</text><text x="128.6" y="245.7" font-size="8.0" stroke="#1a1a1a" stroke-width="0.12" text-anchor="middle" fill="#1a1a1a" textLength="22.3" lengthAdjust="spacingAndGlyphs">DTStem</text><text x="130.5" y="257.2" font-size="7.9" stroke="#1a1a1a" stroke-width="0.12" text-anchor="middle" fill="#1a1a1a" textLength="27.4" lengthAdjust="spacingAndGlyphs">6747 cells</text><text x="189.8" y="245.7" font-size="8.0" stroke="#1a1a1a" stroke-width="0.12" text-anchor="middle" fill="#1a1a1a" textLength="18.3" lengthAdjust="spacingAndGlyphs">HStem</text><text x="191.5" y="257.2" font-size="7.9" stroke="#1a1a1a" stroke-width="0.12" text-anchor="middle" fill="#1a1a1a" textLength="27" lengthAdjust="spacingAndGlyphs">3367 cells</text><text x="20.6" y="305.6" font-size="8.6" stroke="#c0283c" stroke-width="0.13" fill="#c0283c" textLength="54.2" lengthAdjust="spacingAndGlyphs">Score &lt; 0.249 (25%)</text><text x="185.1" y="305.6" font-size="8.6" stroke="#c0283c" stroke-width="0.13" fill="#c0283c" textLength="55" lengthAdjust="spacingAndGlyphs">Score &gt; 0.749 (75%)</text><text x="459.8" y="185.3" font-size="14.2" font-weight="bold" font-family="'Liberation Serif', serif">F</text><rect x="493" y="287.6" width="6.4" height="29.4" fill="#3a9484"/><rect x="493" y="224.7" width="6.4" height="62.9" fill="#c6c6c6"/><rect x="493" y="201.5" width="6.4" height="18.6" fill="#c8162e"/><path transform="scale(0.5)" d="M998 460zm-2 0zm-2 0zm-2 1zm-2-2zm-3 4zm0 1zm7-1zm1-1zm3 2zm-1 3zm-11 2zm1 1zm2 0zm2 0zm1 0zm4-1zm0 1zm0 0zm2 1zm-2 0zm-6 2zm-4-2zm0 0zm1 4zm1-1zm3 0zm4 0zm3 1zm-1 2zm-6 2zm-5-2zm2 5zm1 0zm1-2zm6 2zm2-1zm0 2zm-4 1zm-7 2zm2 1zm1 0zm1-1zm4 1zm0-1zm1 2zm0-2zm2 2zm1 0zm-9 1z" stroke="#c8162e" stroke-width="2.2" stroke-linecap="round"/><path transform="scale(0.5)" d="M992 572zm1 0zm6-1zm-1 2zm-1 1zm-1 0zm-2-1zm-1 1zm0-1zm-1 1zm-1 1zm-1 0z" stroke="#3a9484" stroke-width="2.2" stroke-linecap="round"/><path transform="scale(0.5)" d="M999 437zm-1-1zm-1 0zm-3 1zm-1 0zm-3 0zm-2-1zm0 1zm-1 0zm-1 3zm0-2zm1 2zm0 0zm1-1zm0-1zm0 1zm0-1zm0 0zm1 2zm0 0zm0 0zm0-1zm1 1zm0-1zm1-1zm2 0zm1 1zm0 1zm1-2zm0 2zm3 0zm1 2zm0 0zm-2-1zm-1 1zm0-1zm-1 1zm-1 0zm0 1zm-1-1zm-1 0zm-1 0zm0 0zm0 1zm0-1zm-1 1zm0-2zm-1 0zm-1 2zm0-1zm0-1zm-1 2zm0-1zm0-1zm0 1zm0-1zm-1 4zm0 1zm1-2zm0 1zm3-1zm0 0zm0 0zm0 1zm1-1zm0 1zm0 0zm1 1zm1-1zm1-1zm1 0zm1 2zm0-2zm1 1zm0 0zm0 1zm1 0zm0 0zm0-1zm0 0zm1 0zm-1 4zm0-1zm-1-1zm-1 2zm-1-2zm-3 2zm0-2zm0 0zm-1 1zm0-1zm-1 0zm-1 2zm-1-2zm0 2zm0-1zm-1 1zm0-2zm-1 2zm0 2zm0 1zm1 0zm1-1zm0 1zm0 0zm0-2zm0 2zm1-2zm0 1zm1-1zm2 2zm0 0zm0-2zm0 0zm0 1zm0 1zm1-2zm0 2zm1-1zm1 0zm0-1zm1 2zm0 0zm0-2zm1 2zm1-2zm1 2zm0 1zm-1 0zm-1 1zm0-1zm-1 2zm0-1zm-2 0zm0 0zm0 0zm0 0zm-1 1zm-1-1zm0 0zm-1-1zm-1 0zm0 1zm-1-1zm0 2zm-2-2zm-1 2zm0-1zm0 1zm0 3zm0-1zm0 0zm0 1zm0-1zm0-1zm1 1zm1 0zm1 0zm1 1zm1-1zm0 0zm1 0zm0 1zm1-2zm0 1zm0-1zm0 2zm1-1zm1 0zm0 1zm1-2zm1 1zm0-1zm0 1zm0-1zm0 1zm0 0zm1-1zm0 2zm1-1z" stroke="#c8162e" stroke-width="2.2" stroke-linecap="round"/><path transform="scale(0.5)" d="M996 406zm0-1zm-7 0zm9 3zm-3 4zm-7 1zm0 1zm1 1zm5 1zm0 0zm3-2zm0 1zm-1 3zm-5 0zm0 1zm-3 2zm2 0zm7 0zm1 4zm-1 0zm-9-1zm7 3zm1 0zm-2 2zm-2 0zm-5 4zm1 0zm5-1zm0 1zm3-1zm1 4zm-2-1zm-9 1zm1 2zm4 2zm8 1zm-2 0zm-6 0zm-3 4zm11-1z" stroke="#e8e8e8" stroke-width="2.2" stroke-linecap="round"/><path transform="scale(0.5)" d="M988 404zm10 2zm0 0zm-1-1zm0 1zm-2-1zm-1 1zm-5 1zm-2-1zm1 3zm3-1zm2 1zm0-1zm0 1zm2 1zm1 0zm2-2zm1 0zm-3 4zm0 0zm-2 1zm-2 0zm0-1zm-1 1zm-4-1zm-1 0zm0 4zm1 0zm0-1zm1-1zm1 2zm1-2zm0 2zm1-1zm1 1zm2 0zm0-2zm2 2zm1-2zm1 1zm1 1zm-1 3zm-3-1zm0 1zm0-1zm-1 1zm-1 0zm-7 3zm0-2zm0 1zm1 0zm0-1zm0 0zm1 1zm1 1zm1-2zm1 0zm2 1zm1 1zm2-1zm1 0zm0 0zm1-1zm0 0zm0 1zm0-1zm1 5zm-4-2zm-1 0zm-2 1zm0 1zm-1 0zm-3-1zm0-1zm-2 2zm2 2zm1 1zm0 0zm3-2zm1 0zm0 1zm2-1zm0 1zm0 1zm2-1zm1-1zm0 2zm0 0zm0-2zm-5 3zm-1 0zm0 2zm0 0zm0-2zm-2 2zm-2-1zm0 1zm-2 3zm2-1zm1 1zm1 0zm1-1zm1-1zm2 0zm3 1zm0-1zm1 4zm-1-1zm-1 1zm-2 1zm-2-2zm-1 1zm-1 0zm-2 1zm-2 1zm7 0zm2 0zm0 1zm3 1zm1 0z" stroke="#c8162e" stroke-width="2.2" stroke-linecap="round"/><path transform="scale(0.5)" d="M990 491zm2 3zm2 3zm0-1zm-7 1zm8 3zm-1 2zm4 2z" stroke="#c8162e" stroke-width="2.2" stroke-linecap="round"/><path d="M522.2 281.4 L522.5 281.4 L523.4 282.1 L524.4 282.8 L525.7 283.5 L527.4 284.2 L529.2 285 L530.9 285.7 L532.5 286.4 L533.8 287.1 L535.1 287.8 L536.2 288.5 L537.3 289.2 L538.1 289.9 L538.9 290.7 L539.5 291.4 L540.1 292.1 L540.6 292.8 L541 293.5 L541.4 294.2 L541.8 294.9 L542.1 295.6 L542.4 296.4 L542.5 297.1 L542.6 297.8 L542.7 298.5 L542.7 299.2 L542.8 299.9 L542.8 300.6 L542.8 301.3 L542.8 302.1 L542.8 302.8 L542.8 303.5 L542.8 304.2 L542.8 304.9 L542.8 305.6 L542.8 306.3 L542.8 307 L542.8 307.8 L542.8 308.5 L542.8 309.2 L542.8 309.9 L542.8 310.6 L542.8 311.3 L542.8 312 L542.8 312.7 L542.7 313.5 L542.2 314.2 L541.6 314.9 L540.3 315.6 L538.2 316.3 L522.2 316.3Z" fill="#8ecfc2"/><line x1="517.4" y1="281.4" x2="517.4" y2="316.1" stroke="#222" stroke-width="0.8"/><rect x="514.6" y="294.5" width="5.1" height="15.1" fill="#8ecfc2" stroke="#222" stroke-width="0.8"/><line x1="514.6" y1="301.8" x2="519.7" y2="301.8" stroke="#111" stroke-width="1.6"/><path d="M568.2 201.8 L568.4 201.8 L569 204.1 L569.5 206.5 L569.8 208.8 L570.2 211.1 L570.5 213.5 L570.8 215.8 L571.1 218.1 L571.4 220.5 L571.8 222.8 L572.1 225.1 L572.5 227.5 L573 229.8 L573.8 232.1 L574.6 234.5 L575.5 236.8 L576.4 239.1 L577.3 241.5 L577.9 243.8 L578.3 246.1 L578.6 248.5 L578.9 250.8 L579 253.1 L579.1 255.5 L579.2 257.8 L579.2 260.1 L579.2 262.4 L579.1 264.8 L579.1 267.1 L579.1 269.4 L579 271.8 L578.9 274.1 L578.8 276.4 L578.6 278.8 L577.5 281.1 L575.3 283.4 L572.4 285.8 L571 288.1 L570.3 290.4 L569.6 292.8 L569.2 295.1 L569 297.4 L568.8 299.8 L568.7 302.1 L568.6 304.4 L568.5 306.8 L568.5 309.1 L568.4 311.4 L568.4 313.8 L568.4 316.1 L568.2 316.1Z" fill="#e0e0e0"/><line x1="563.8" y1="201.8" x2="563.8" y2="316.1" stroke="#222" stroke-width="0.8"/><rect x="561.2" y="244.1" width="5.3" height="29.3" fill="#e2e2e2" stroke="#222" stroke-width="0.8"/><line x1="561.2" y1="259.1" x2="566.5" y2="259.1" stroke="#111" stroke-width="1.6"/><path d="M614.9 201.8 L627.3 201.8 L629.8 202.9 L631.5 203.9 L632.7 205 L633.6 206.1 L633.8 207.2 L633.7 208.2 L633.6 209.3 L633.5 210.4 L633.4 211.4 L633.3 212.5 L633.3 213.6 L633.2 214.7 L633 215.7 L632.9 216.8 L632.7 217.9 L632.5 218.9 L632.2 220 L632 221.1 L631.7 222.2 L631.4 223.2 L631 224.3 L630.6 225.4 L630.1 226.4 L629.5 227.5 L628.8 228.6 L628.1 229.7 L627.4 230.7 L626.6 231.8 L625.7 232.9 L624.8 233.9 L623.9 235 L623 236.1 L622.2 237.2 L621.3 238.2 L620.5 239.3 L619.6 240.4 L618.9 241.4 L618.2 242.5 L617.7 243.6 L617.3 244.7 L616.9 245.7 L616.6 246.8 L616.3 247.9 L616.1 248.9 L615.9 250 L615.8 251.1 L615.6 252.2 L615.5 253.2 L615.5 254.3 L614.9 254.3Z" fill="#d9738b"/><line x1="610.5" y1="201.8" x2="610.5" y2="252.9" stroke="#222" stroke-width="0.8"/><rect x="607.9" y="209.5" width="4.8" height="17.8" fill="#d9738b" stroke="#222" stroke-width="0.8"/><line x1="607.9" y1="217.4" x2="612.7" y2="217.4" stroke="#111" stroke-width="1.6"/><path d="M517.1 199.6V196H610.5V199.6M563.8 196V199.6" fill="none" stroke="#222" stroke-width="0.8"/><text x="540.4" y="194.4" font-size="6.2" text-anchor="middle" fill="#222" textLength="7.3" lengthAdjust="spacingAndGlyphs">***</text><text x="563.9" y="194.4" font-size="6.2" text-anchor="middle" fill="#222" textLength="7.3" lengthAdjust="spacingAndGlyphs">***</text><text x="587.2" y="194.4" font-size="6.2" text-anchor="middle" fill="#222" textLength="7.3" lengthAdjust="spacingAndGlyphs">***</text><line x1="489.4" y1="190.1" x2="489.4" y2="322.3" stroke="#222" stroke-width="0.8"/><line x1="489" y1="322.3" x2="638" y2="322.3" stroke="#222" stroke-width="0.8"/><line x1="487.1" y1="201.8" x2="489.4" y2="201.8" stroke="#222" stroke-width="0.6"/><text x="486.3" y="204.2" font-size="6.8" text-anchor="end" fill="#4d4d4d" textLength="11.6" lengthAdjust="spacingAndGlyphs">1.00</text><line x1="487.1" y1="230.4" x2="489.4" y2="230.4" stroke="#222" stroke-width="0.6"/><text x="486.3" y="232.8" font-size="6.8" text-anchor="end" fill="#4d4d4d" textLength="11.6" lengthAdjust="spacingAndGlyphs">0.75</text><line x1="487.1" y1="259" x2="489.4" y2="259" stroke="#222" stroke-width="0.6"/><text x="486.3" y="261.4" font-size="6.8" text-anchor="end" fill="#4d4d4d" textLength="11.6" lengthAdjust="spacingAndGlyphs">0.50</text><line x1="487.1" y1="287.6" x2="489.4" y2="287.6" stroke="#222" stroke-width="0.6"/><text x="486.3" y="290" font-size="6.8" text-anchor="end" fill="#4d4d4d" textLength="11.6" lengthAdjust="spacingAndGlyphs">0.25</text><line x1="487.1" y1="316.2" x2="489.4" y2="316.2" stroke="#222" stroke-width="0.6"/><text x="486.3" y="318.6" font-size="6.8" text-anchor="end" fill="#4d4d4d" textLength="11.6" lengthAdjust="spacingAndGlyphs">0.00</text><line x1="517.4" y1="322.3" x2="517.4" y2="324.6" stroke="#222" stroke-width="0.6"/><text x="520.7" y="328.6" font-size="7.0" text-anchor="end" fill="#4d4d4d" transform="rotate(-45 520.7 328.6)" textLength="29.1" lengthAdjust="spacingAndGlyphs">LowStem</text><line x1="563.8" y1="322.3" x2="563.8" y2="324.6" stroke="#222" stroke-width="0.6"/><text x="567.1" y="328.6" font-size="7.0" text-anchor="end" fill="#4d4d4d" transform="rotate(-45 567.1 328.6)" textLength="26" lengthAdjust="spacingAndGlyphs">DTStem</text><line x1="610.5" y1="322.3" x2="610.5" y2="324.6" stroke="#222" stroke-width="0.6"/><text x="613.8" y="328.6" font-size="7.0" text-anchor="end" fill="#4d4d4d" transform="rotate(-45 613.8 328.6)" textLength="31.7" lengthAdjust="spacingAndGlyphs">HighStem</text><text x="469" y="256.6" font-size="9.6" text-anchor="middle" transform="rotate(-90 469 256.6)" textLength="70" lengthAdjust="spacingAndGlyphs">CytoTRACE score</text><text x="647.9" y="241.9" font-size="6.8" fill="#222" textLength="15.9" lengthAdjust="spacingAndGlyphs">group</text><rect x="648.3" y="246.3" width="9.2" height="9.1" fill="#8ed3c6"/><rect x="649.1" y="248.3" width="7.6" height="5.1" fill="#4fae9c" stroke="#111" stroke-width="0.8"/><line x1="649.1" y1="250.9" x2="656.7" y2="250.9" stroke="#111" stroke-width="0.9"/><line x1="652.9" y1="246.7" x2="652.9" y2="248.3" stroke="#111" stroke-width="0.6"/><line x1="652.9" y1="253.4" x2="652.9" y2="255" stroke="#111" stroke-width="0.6"/><text x="661" y="252.9" font-size="5.6" fill="#222" textLength="21.4" lengthAdjust="spacingAndGlyphs">LowStem</text><rect x="648.3" y="256.9" width="9.2" height="9.1" fill="#ececec"/><rect x="649.1" y="258.9" width="7.6" height="5.1" fill="#d8d8d8" stroke="#111" stroke-width="0.8"/><line x1="649.1" y1="261.4" x2="656.7" y2="261.4" stroke="#111" stroke-width="0.9"/><line x1="652.9" y1="257.3" x2="652.9" y2="258.9" stroke="#111" stroke-width="0.6"/><line x1="652.9" y1="264" x2="652.9" y2="265.6" stroke="#111" stroke-width="0.6"/><text x="661" y="263.5" font-size="5.6" fill="#222" textLength="18.3" lengthAdjust="spacingAndGlyphs">DTStem</text><rect x="648.3" y="267.5" width="9.2" height="9.1" fill="#e48ea2"/><rect x="649.1" y="269.5" width="7.6" height="5.1" fill="#d2506e" stroke="#111" stroke-width="0.8"/><line x1="649.1" y1="272.1" x2="656.7" y2="272.1" stroke="#111" stroke-width="0.9"/><line x1="652.9" y1="267.9" x2="652.9" y2="269.5" stroke="#111" stroke-width="0.6"/><line x1="652.9" y1="274.6" x2="652.9" y2="276.2" stroke="#111" stroke-width="0.6"/><text x="661" y="274.1" font-size="5.6" fill="#222" textLength="22.3" lengthAdjust="spacingAndGlyphs">HighStem</text><text x="240.4" y="358.2" font-size="14.2" font-weight="bold" font-family="'Liberation Serif', serif">H</text><rect x="269.2" y="457.3" width="7.1" height="44.5" fill="#3a9484"/><rect x="269.2" y="407.8" width="7.1" height="49.4" fill="#c8c8c8"/><rect x="269.4" y="378.2" width="6.7" height="29.7" fill="#cdcdcd"/><path transform="scale(0.5)" d="M541 908zm9 0zm-2 1zm-9 0zm0 4zm0 1zm5-1zm2 1zm2-2zm1 2zm1 0zm1 0zm-4 2zm-2 0zm-3-1zm-1 2zm0 0zm-2-1zm-1 2zm0 2zm2-2zm1 1zm1 1zm7 0zm1-2z" stroke="#3a9484" stroke-width="2.2" stroke-linecap="round"/><path transform="scale(0.5)" d="M544 789zm-2 2zm-3 1zm1 0zm2 0zm1 2zm1-2zm1 1zm1-1zm2 1zm1-1zm3 4zm-2 1zm-2-1zm-5 0zm0 0zm-3 1zm-1-2zm0 3zm6 2zm0-1zm4 1zm1-1zm2-1zm0 2zm0 3zm-1-1zm-1 0zm0-1zm-4 1zm-2-1zm-1 1zm-1 1zm-1-1zm1 2zm5 0zm2 0zm4 3zm-1 1zm0 1zm-1 0zm0-1zm-9-1zm-4 2zm1 1zm3 2zm1-2zm0 2zm1 0zm3-1zm5 2zm-2 1zm-2 1zm0-2zm-1 1zm0 0zm0-1zm-2 1zm-4 1zm11 1z" stroke="#c8162e" stroke-width="2.2" stroke-linecap="round"/><path transform="scale(0.5)" d="M553 754zm0 1zm-1 0zm-1 0zm0-1zm0 0zm-1 1zm0-1zm0 0zm-3 1zm-3-1zm-1 0zm-3 1zm0-2zm0 2zm0 1zm0 0zm0 2zm2-1zm0 0zm0-1zm1 1zm2 0zm1-1zm1 0zm4 0zm0 0zm1 1zm0 0zm0 0zm1 1zm-1 2zm-1 1zm0-2zm-2 2zm-1-2zm-1 1zm-1-1zm0 0zm-1 2zm-2 0zm0 0zm0-2zm-2 2zm-2-1zm0 1zm0 0zm-1-1zm2 4zm2-2zm0 2zm1 0zm1 0zm2 0zm1-2zm2 2zm0 0zm0-2zm0 0zm1 0zm2 0zm1 4zm-1 0zm-3 0zm0 1zm0-2zm-1 2zm0-2zm0 1zm-1-1zm-1 1zm0 0zm-2 0zm-3 0zm-2 1zm0 0zm-1 3zm3-2zm3 0zm1 1zm0-1zm0 2zm1 0zm3 0zm1 0zm1-2zm0 1zm2 1zm-1 1zm0 1zm0-1zm-1 0zm0 0zm0 0zm-1 2zm0-2zm0 0zm-1 0zm0 1zm-2 0zm0-1zm-3 0zm-1 1zm-1 0zm-2-1zm-2 1zm0 4zm3 0zm0-2zm0 2zm1-1zm0 0zm0 1zm0-1zm1 1zm0-1zm2 1zm0-1zm1 1zm0-2zm1 2zm1-2zm1 1zm1 1zm2-2zm1 2zm-1 3zm0-1zm-1 1zm0-1zm-1-1zm0 2zm-1-2zm0 0zm-2 2zm-1-2zm0 2zm-4-1zm-3-1zm-1 4zm2 0zm0 0zm2 1zm0-1zm3 0zm3 0zm4-1zm0 1zm0 0zm0 3zm-2 1zm-1-2zm-1 0zm-3 0zm-3 1zm-1 1zm-2-2zm0 2zm0 2zm2 0zm3 1zm0-2zm1 1zm3-1zm0 0zm1 1zm0 0zm2-1zm1 0zm0 3z" stroke="#c8162e" stroke-width="2.2" stroke-linecap="round"/><path transform="scale(0.5)" d="M550 883zm-1 4zm-6 2zm1 0zm1 1zm8-2zm-14 3zm11 7zm-9 3zm1 2z" stroke="#c8162e" stroke-width="2.2" stroke-linecap="round"/><path transform="scale(0.5)" d="M539 834zm9 0zm1 0zm1 0zm0 1zm1-1zm2 1zm-1 2zm-1 0zm-6 2zm-2-1zm-4-1zm5 5zm3-2zm0 0zm4 1zm2-1zm-13 4zm0 3zm3-1zm1 0zm4 0zm1 5zm-3-1zm-3 1zm-4 1zm1 1zm1 1zm0-2zm1 0zm7 0zm4 2zm0 3zm-4 0zm-1 0zm-2-1zm0 1zm-4-2zm-4 4zm2 1zm1 0zm8 0zm1-2zm0 4zm-4 2zm1 1zm1 1zm3-2zm0 0zm-3 3zm-3 1zm-3 4zm1 0zm3 0zm2-1zm1-1zm3 0zm0 1zm1 4zm-3-1zm0 1zm-7 0zm-3 0zm1 3zm3-1zm0-1zm8 1zm1 3zm0 1zm-13-1z" stroke="#c8162e" stroke-width="2.2" stroke-linecap="round"/><path transform="scale(0.5)" d="M546 1001zm-6 3zm0 0zm1 0zm3-2zm0 0zm2 1zm3-1zm2 1zm0 1zm1-2zm0 0zm-5 3zm-1 1zm-1 0zm-2 1zm-2-2zm-1 1zm0-1zm-1 0z" stroke="#3a9484" stroke-width="2.2" stroke-linecap="round"/><path transform="scale(0.5)" d="M548 812zm4 0zm-2 2zm0 0zm-2 0zm0 0zm-1-1zm-1 1zm-1 0zm-2-1zm0 2zm0-1zm-3 1zm-1-2zm-1 2zm1 2zm1-1zm0 2zm0-2zm1 0zm0 1zm1-1zm1 2zm1-1zm1 0zm0-1zm1 2zm1-1zm1-1zm2 1zm2 0zm1 1zm0 1zm-2 0zm-1 1zm-1-1zm0 1zm-1-1zm0 2zm-1 0zm0-1zm-2 0zm-1-1zm-1 1zm-3-1zm0 1zm-1 1zm-1 0zm0-1zm1 4zm0-2zm1 0zm0 2zm0 0zm0-2zm1 2zm1-2zm1 2zm2-1zm0-1zm1 2zm0-1zm1-1zm1 2zm1-1zm0 0zm1 0zm1 0zm0 0zm-2 4zm-1-2zm0 0zm-2 1zm-1 0zm-1 0zm-1 1zm0-2zm0 1zm-2-1zm0 0zm0 1zm-2 2zm0 0zm0 1zm1-1zm0 1zm0 0zm1-1zm0 2zm2 0zm1-1zm2 1zm2-2zm0 2zm0 0zm1 0zm0 0zm0 0zm0-2zm1 0zm3 2zm-2 2zm-1 0zm-1-1zm0 1zm-1-1zm0 0zm-1 0zm-4 0zm-2 1z" stroke="#c8162e" stroke-width="2.2" stroke-linecap="round"/><path d="M300.7 444.1 L300.9 444.1 L301.2 445.3 L301.5 446.5 L301.9 447.7 L302.2 448.9 L302.6 450.1 L303 451.3 L303.3 452.5 L303.7 453.7 L304.1 454.8 L304.5 456 L304.9 457.2 L305.4 458.4 L305.9 459.6 L306.6 460.8 L307.4 462 L308.3 463.2 L309.2 464.4 L310.1 465.6 L311.1 466.8 L312 468 L313 469.2 L313.9 470.4 L314.8 471.6 L315.8 472.8 L316.7 473.9 L317.3 475.1 L317.7 476.3 L318 477.5 L318.3 478.7 L318.3 479.9 L317.9 481.1 L317.3 482.3 L316.6 483.5 L315.4 484.7 L314.1 485.9 L312.9 487.1 L311.5 488.3 L310.2 489.5 L309 490.7 L307.9 491.9 L306.8 493 L305.8 494.2 L304.8 495.4 L303.9 496.6 L303.2 497.8 L302.7 499 L302.3 500.2 L301.8 501.4 L300.9 502.6 L300.7 502.6Z" fill="#8ecfc2"/><line x1="296" y1="454" x2="296" y2="502.4" stroke="#222" stroke-width="0.8"/><rect x="293.4" y="472.5" width="5.5" height="13.1" fill="#8ecfc2" stroke="#222" stroke-width="0.8"/><line x1="293.4" y1="478.8" x2="298.9" y2="478.8" stroke="#111" stroke-width="1.6"/><path d="M352.5 381 L352.7 381 L352.8 383.4 L352.9 385.7 L352.9 388.1 L353 390.5 L353.1 392.8 L353.2 395.2 L353.3 397.6 L353.4 399.9 L353.5 402.3 L353.5 404.7 L353.7 407 L353.8 409.4 L353.9 411.8 L354.2 414.1 L354.6 416.5 L355.2 418.9 L355.8 421.2 L356.6 423.6 L357.6 426 L358.5 428.3 L359.6 430.7 L360.7 433.1 L361.7 435.4 L362.5 437.8 L363.2 440.2 L363.3 442.6 L363.1 444.9 L362.9 447.3 L362.5 449.7 L362 452 L361.3 454.4 L360.4 456.8 L359.4 459.1 L358.5 461.5 L357.7 463.9 L357 466.2 L356.3 468.6 L355.8 471 L355.3 473.3 L354.9 475.7 L354.5 478.1 L354.3 480.4 L354.1 482.8 L353.9 485.2 L353.8 487.5 L353.6 489.9 L353.4 492.3 L353.1 494.6 L352.8 497 L352.5 497Z" fill="#e0e0e0"/><line x1="348" y1="406" x2="348" y2="486.6" stroke="#222" stroke-width="0.8"/><rect x="345.4" y="437" width="5.5" height="20.7" fill="#e2e2e2" stroke="#222" stroke-width="0.8"/><line x1="345.4" y1="447" x2="350.9" y2="447" stroke="#111" stroke-width="1.6"/><path d="M405.3 377.1 L405.5 377.1 L406.4 378.9 L407.2 380.7 L407.9 382.6 L408.7 384.4 L409.3 386.2 L409.7 388 L409.7 389.9 L409.3 391.7 L408.8 393.5 L408.2 395.3 L407.5 397.1 L406.8 399 L406.2 400.8 L406.1 402.6 L406.2 404.4 L406.4 406.3 L406.6 408.1 L406.9 409.9 L407.3 411.7 L407.8 413.5 L408.5 415.4 L409.3 417.2 L410.2 419 L411.3 420.8 L412.5 422.7 L414.2 424.5 L416.7 426.3 L420 428.1 L423.8 430 L427 431.8 L428.7 433.6 L426.7 435.4 L423.5 437.2 L419.8 439.1 L416.8 440.9 L414.5 442.7 L412.6 444.5 L411.2 446.4 L410.2 448.2 L409.5 450 L408.9 451.8 L408.2 453.6 L407.6 455.5 L407.1 457.3 L406.7 459.1 L406.3 460.9 L406 462.8 L405.7 464.6 L405.5 466.4 L405.3 466.4Z" fill="#d9738b"/><line x1="400.6" y1="409.4" x2="400.6" y2="452.5" stroke="#222" stroke-width="0.8"/><rect x="397.4" y="425.2" width="6.3" height="11.5" fill="#d9738b" stroke="#222" stroke-width="0.8"/><line x1="397.4" y1="431.7" x2="403.7" y2="431.7" stroke="#111" stroke-width="1.6"/><path d="M296 374.9V371.3H400.6V374.9M348 371.3V374.9" fill="none" stroke="#222" stroke-width="0.8"/><text x="322.3" y="369.3" font-size="6.2" text-anchor="middle" fill="#222" textLength="7.3" lengthAdjust="spacingAndGlyphs">***</text><text x="348" y="369.3" font-size="6.2" text-anchor="middle" fill="#222" textLength="7.3" lengthAdjust="spacingAndGlyphs">***</text><text x="374.3" y="369.3" font-size="6.2" text-anchor="middle" fill="#222" textLength="7.3" lengthAdjust="spacingAndGlyphs">***</text><line x1="264.8" y1="365" x2="264.8" y2="508" stroke="#222" stroke-width="0.8"/><line x1="264.4" y1="508" x2="432" y2="508" stroke="#222" stroke-width="0.8"/><line x1="262.5" y1="374.9" x2="264.8" y2="374.9" stroke="#222" stroke-width="0.6"/><text x="260.2" y="377.3" font-size="6.8" text-anchor="end" fill="#4d4d4d" textLength="8.6" lengthAdjust="spacingAndGlyphs">0.8</text><line x1="262.5" y1="407.8" x2="264.8" y2="407.8" stroke="#222" stroke-width="0.6"/><text x="260.2" y="410.2" font-size="6.8" text-anchor="end" fill="#4d4d4d" textLength="8.6" lengthAdjust="spacingAndGlyphs">0.6</text><line x1="262.5" y1="440.8" x2="264.8" y2="440.8" stroke="#222" stroke-width="0.6"/><text x="260.2" y="443.2" font-size="6.8" text-anchor="end" fill="#4d4d4d" textLength="8.6" lengthAdjust="spacingAndGlyphs">0.4</text><line x1="262.5" y1="473.7" x2="264.8" y2="473.7" stroke="#222" stroke-width="0.6"/><text x="260.2" y="476.1" font-size="6.8" text-anchor="end" fill="#4d4d4d" textLength="8.6" lengthAdjust="spacingAndGlyphs">0.2</text><line x1="262.5" y1="506.7" x2="264.8" y2="506.7" stroke="#222" stroke-width="0.6"/><text x="260.2" y="509.1" font-size="6.8" text-anchor="end" fill="#4d4d4d" textLength="8.6" lengthAdjust="spacingAndGlyphs">0.0</text><line x1="296" y1="508" x2="296" y2="510.3" stroke="#222" stroke-width="0.6"/><text x="298.8" y="515.6" font-size="7.2" text-anchor="end" fill="#4d4d4d" transform="rotate(-45 298.8 515.6)" textLength="32" lengthAdjust="spacingAndGlyphs">LowStem</text><line x1="348" y1="508" x2="348" y2="510.3" stroke="#222" stroke-width="0.6"/><text x="350.8" y="515.6" font-size="7.2" text-anchor="end" fill="#4d4d4d" transform="rotate(-45 350.8 515.6)" textLength="28" lengthAdjust="spacingAndGlyphs">DTStem</text><line x1="400.6" y1="508" x2="400.6" y2="510.3" stroke="#222" stroke-width="0.6"/><text x="403.4" y="515.6" font-size="7.2" text-anchor="end" fill="#4d4d4d" transform="rotate(-45 403.4 515.6)" textLength="34" lengthAdjust="spacingAndGlyphs">HighStem</text><text x="248.2" y="437.4" font-size="9.6" text-anchor="middle" transform="rotate(-90 248.2 437.4)" textLength="44.2" lengthAdjust="spacingAndGlyphs">TRS score</text><text x="442.1" y="421.1" font-size="7.0" fill="#222" textLength="17.6" lengthAdjust="spacingAndGlyphs">group</text><rect x="442.5" y="425.9" width="10.4" height="9.9" fill="#8ed3c6"/><rect x="443.3" y="428.1" width="8.8" height="5.5" fill="#4fae9c" stroke="#111" stroke-width="0.8"/><line x1="443.3" y1="430.8" x2="452.1" y2="430.8" stroke="#111" stroke-width="0.9"/><line x1="447.7" y1="426.3" x2="447.7" y2="428.1" stroke="#111" stroke-width="0.6"/><line x1="447.7" y1="433.6" x2="447.7" y2="435.4" stroke="#111" stroke-width="0.6"/><text x="456.8" y="433" font-size="6.1" fill="#222" textLength="22.9" lengthAdjust="spacingAndGlyphs">LowStem</text><rect x="442.5" y="437" width="10.4" height="9.9" fill="#ececec"/><rect x="443.3" y="439.2" width="8.8" height="5.5" fill="#d8d8d8" stroke="#111" stroke-width="0.8"/><line x1="443.3" y1="441.9" x2="452.1" y2="441.9" stroke="#111" stroke-width="0.9"/><line x1="447.7" y1="437.4" x2="447.7" y2="439.2" stroke="#111" stroke-width="0.6"/><line x1="447.7" y1="444.7" x2="447.7" y2="446.5" stroke="#111" stroke-width="0.6"/><text x="456.8" y="444.1" font-size="6.1" fill="#222" textLength="20.2" lengthAdjust="spacingAndGlyphs">DTStem</text><rect x="442.5" y="448.1" width="10.4" height="9.9" fill="#e48ea2"/><rect x="443.3" y="450.3" width="8.8" height="5.5" fill="#d2506e" stroke="#111" stroke-width="0.8"/><line x1="443.3" y1="453.1" x2="452.1" y2="453.1" stroke="#111" stroke-width="0.9"/><line x1="447.7" y1="448.5" x2="447.7" y2="450.3" stroke="#111" stroke-width="0.6"/><line x1="447.7" y1="455.8" x2="447.7" y2="457.6" stroke="#111" stroke-width="0.6"/><text x="456.8" y="455.2" font-size="6.1" fill="#222" textLength="24.5" lengthAdjust="spacingAndGlyphs">HighStem</text><text x="462.3" y="358.2" font-size="14.2" font-weight="bold" font-family="'Liberation Serif', serif">I</text><path d="M509.8 383V514M526.3 383V514M542.8 383V514M559.3 383V514M575.8 383V514M592.3 383V514M608.8 383V514M625.3 383V514M641.8 383V514M503 512.3H647M503 496.4H647M503 480.5H647M503 464.7H647M503 448.8H647M503 432.9H647M503 417H647M503 401.2H647M503 385.3H647" stroke="#ececec" stroke-width="0.5"/><path d="M509.8 383V514M542.8 383V514M575.8 383V514M608.8 383V514M641.8 383V514M503 512.3H647M503 480.5H647M503 448.8H647M503 417H647M503 385.3H647" stroke="#e2e2e2" stroke-width="0.7"/><path d="M509.8 485.3 L529.6 471 L549.4 452.8 L562.6 439.3 L575.8 428.2 L589 424.2 L602.2 424.5 L622 424.5 L641.8 424.5 L641.8 451.2 L628.6 453.6 L608.8 457.5 L589 466.3 L575.8 473.4 L556 484 L536.2 494.5 L523 501.5 L509.8 506.6Z" fill="#000"/><path d="M549.4 450.4 L562.6 439.3 L575.8 429.7 L589 422.6 L602.2 417.8 L615.4 413.1 L628.6 407.5 L641.8 404.3 L641.8 393.2 L628.6 394.8 L615.4 398.8 L602.2 402.8 L589 408.3 L575.8 417 L562.6 429.7 L549.4 442.4Z" fill="#000" fill-opacity="0.75"/><path transform="scale(0.5)" d="M1258 775zm18-1zm7 1zm-27 2zm-37 5zm29-2zm23 1zm3 0zm1-1zm8 0zm-8 5zm-1 0zm-29 0zm7 2zm14 0zm13 4zm-10-2zm-7 2zm-12-2zm-33 0zm4 3zm12 1zm0 1zm0-2zm4 2zm10-1zm7 1zm2 0zm9-2zm1 2zm2-1zm1-1zm9 0zm4 0zm0 3zm0 0zm-2 0zm-24 2zm-36 3zm12-2zm19 1zm3 0zm7-1zm1 0zm21 5zm-15-2zm-7 0zm-2 2zm-2 0zm-6-1zm-14-1zm-6 1zm-4 0zm14 4zm24-1zm15 2zm-16 2zm-14 0zm-1-2zm-22 1zm-17 0zm-2-1zm-8 1zm-6-1zm-9 0zm-4 1zm-18 4zm13-1zm35 0zm28 0zm3-1zm6 2zm31 0zm-33 3zm-11-2zm-14 2zm-6 0zm-26 0zm-2-1zm-13 0zm30 2zm1 2zm13-1zm16 0zm6-1zm10 1zm10 1zm7-1zm11 0zm-28 4zm-12 0zm-9-1zm-7 1zm0-1zm-4-1zm-12 2zm-6-1zm-2 1zm-3-1zm-22-1zm0 3zm13 2zm13 0zm13-2zm5 0zm1 2zm15-2zm9 0zm9 2zm5 2zm-11 0zm-17-1zm-13 1zm-9-1zm-1 1zm-7 0zm-5 0zm-1 1zm0-1zm-31 0zm-10 3zm9 1zm0-2zm22 1zm22-1zm7 2zm4 0zm66-1zm-36 4zm-12-2zm-27 2zm-17-2zm-18 0zm-7 0zm-10 4zm12 0zm0 1zm3-2zm21 2zm12-2zm8 2zm15-2zm21 1zm-62 3zm-46 3zm8-1zm4 1zm12 0zm5-1zm10 0zm2 0zm20 2zm5-2zm19 2zm-48 2zm-14 0zm-13 0zm-12 2zm20 0zm40 4zm-10-1zm-9 1zm-16 1zm28 2zm-19 3zm-6-1zm-22 2zm0-1zm-18 3zm28 0zm1-1zm8 1zm20 0zm65-1zm19 1zm10 2zm-94 0zm-19 2zm-21 0zm2 1zm25 1zm29-1zm68 0zm10 5zm-3 0zm-75-2zm-1 0zm-32 2zm-21-2zm-4 1zm-3-1zm-19 3zm17 1zm5 0zm6-1zm30 0zm100 0zm5 3zm-4 2zm-3-2zm-18 1zm-80-1zm-8 1zm-28 0zm-12 1zm30 1zm20 1zm23 0zm35 0zm3 1zm23-1zm8 0zm10-1zm-1 3zm-6 1zm-1-1zm-1 2zm-1 0zm-101 0zm-7 0zm-27-2zm-7 5zm5-2zm35 1zm36 0zm9-1zm8 2zm20 0zm2 0zm9-1zm1-1zm12 2zm6-2zm1 4zm-38 0zm-72 0zm70 3zm6 0zm4 0zm3 0zm15-1zm17 0zm-31 5zm-8-1zm-1-1zm-5 0zm-5 0zm-3 1zm-22-1zm-59 1zm-45 0zm-19 1zm27 1zm17 2zm88-1zm9 0zm21 1zm28-1zm-13 2zm-5 0zm-5 2zm-29-2zm-8 2zm-28 0zm-12-1zm-6 1zm-42-1zm-37-1zm36 3zm35 0zm7 2zm35 0zm43 0zm4-2zm5 1zm21 0zm-18 2zm-12 1zm-25 0zm-11-1zm-9 0zm-84 1zm-32 1zm50 2zm18 1zm17-2zm12 1zm13 0zm19-1zm10 0zm31 2zm0 0zm8-1zm1-1zm16 3zm-12 1zm-10-1zm-27 0zm-9 1zm-18 1zm-8-2zm-1 1zm-18-1zm-4 0zm-28 0zm-32 1zm-4-1zm-8 1zm-3 4zm30 0zm9 0zm14-1zm29 0zm13-1zm13 2zm33-1zm7 0zm-12 3zm-10-1zm-26 1zm-16-1zm-2 1zm-19-1zm-16 2zm-6 0zm-46 1zm6 1zm15-1zm94 2zm15-2zm4 0zm1 0zm1 0zm17 3zm-43 2zm-10-2zm-4 1zm-20 1zm-31 0zm-24-2zm-21 0zm-12 3zm14 1zm11 1zm16 0zm4-1zm16 0zm4 0zm29-1zm3 1zm14 0zm10-1zm0 2zm30-1zm6 0zm20 3zm-17-1zm-42 1zm-40-1zm-29 2zm-62 0zm-7 3zm17 0zm21 0zm64 0zm13-1zm28-1zm9 2zm-21 1zm-32 1zm-20 1zm-2-2zm-17 2zm-9 0zm-1-2zm-9 1zm-11 0zm-3-1zm-3 1zm5 3zm20 1zm50-1zm20 1zm21 0zm8 0zm56 2zm-89 0zm-34 0zm-10 1zm-32 0zm-7 0zm-3-2zm-59 1zm46 2zm67 2zm2 0zm7-1zm34 0zm8 1zm12-1zm14-1zm-18 5zm-26-1zm-20 0zm-25 0zm-14 0zm0-1zm-23 0zm-44 1zm15 3zm52-1zm10 0zm30 0zm13 0zm65 4zm-29-1zm-28 2zm-5 0zm0-1zm-46-1zm-10 0zm-1 0zm-2 0zm-10 1zm0 1zm-31 0zm-8-2zm-12 1zm42 3zm26 1zm7 0zm32 1zm-22 1zm-4-1zm-7 0zm-18 1zm-4 1zm-1-2zm-5 1zm-8 0zm-7-1zm-16 4zm0 1zm38-2zm3 0zm6 2zm4-2zm46 0zm-35 5zm-17-2zm-8 1zm-4-1zm-6 2zm0-2zm-5 0zm-3 2zm-7 0zm-15-2zm-20 1zm-12-1zm-6 1zm5 3zm19-1zm4 1zm55 0zm1 1zm13-1zm1-1zm11 1zm29 1zm4 3zm-35-2zm-20 2zm-17-2zm-2 2zm-23-2zm0 0zm-9 2zm-3 0zm-8 0zm-2 0zm-1-1zm-18 1zm12 3zm7 0zm2-2zm16 0zm5 2zm5-1zm2 0zm2 1zm91 0zm-57 2zm-8 0zm-28-1zm-2 0zm-5 2zm-21 0zm-8 0zm-1 0zm-6 0zm19 2zm1-1zm12 0zm9 2zm17-2zm10 2zm-32 3zm-16 0zm-1 0zm-1-2zm-29 5zm5 0zm28 0zm0-2zm3 0zm70 2zm-89 1zm-4 1zm-12-1zm1 3zm27 0zm32 2zm-31 2zm-4 1zm-19-2zm-6 2zm21 1zm22 2zm4-2zm36 0zm36 4zm-64-1zm-19 2zm-16-2zm-5 2zm-5-2zm2 4zm7-1zm3 1zm10 0zm34 3zm-12-1zm-8 1zm-10 1zm-37 0zm6 2zm10 0zm-16 11zm12 0z" stroke="#000" stroke-width="6" stroke-linecap="round" stroke-opacity="0.42"/><path transform="scale(0.5)" d="M1271 774zm6 0zm-23 8zm15 0zm-3 3zm0 0zm-25 6zm-33 2zm16 1zm7-1zm17 0zm8-1zm16 0zm4 0zm1 2zm0 2zm-2 0zm0 1zm-3-1zm-4 0zm-9 0zm-47 4zm5 0zm49-1zm14 1zm2-2zm-1 3zm-2 1zm-5-1zm-62 1zm-9 0zm13 3zm13 1zm6-2zm11 0zm17 2zm3 0zm0-2zm16 5zm-2-1zm-3 0zm-4 1zm-6-2zm-20 2zm-8-2zm0 2zm-2-2zm-6 0zm-3 2zm-15-1zm-2-1zm-7 2zm-17 0zm-12 1zm4 1zm15 1zm2-1zm15-1zm2 0zm5 2zm19-1zm6 1zm2 0zm6-2zm9 0zm13 2zm2 0zm0-1zm-7 3zm-2 0zm-12-1zm-1 0zm-17 0zm-22 2zm-6-1zm-7-1zm-5 2zm-3-2zm-8 1zm-6 2zm22 1zm10 0zm1 0zm4-1zm6 2zm13-2zm0 1zm5-1zm7 1zm5 0zm8 1zm1 0zm3-1zm6-1zm-4 5zm-15-1zm-22-1zm-28 0zm-24 0zm-19 5zm4 0zm5-2zm25 0zm12 2zm7-2zm0 0zm9 0zm7 2zm15-1zm5-1zm2 4zm-18 1zm-3-1zm-6 1zm-51-2zm35 4zm35-1zm13 3zm-12 1zm-2 0zm-1-1zm0 1zm-2 0zm0 1zm-14-2zm0 0zm-10 0zm-17 1zm-13-1zm-11 0zm-19 3zm2 2zm1-1zm35 1zm9-1zm5 0zm7-1zm3 0zm34 0zm-53 5zm-7 0zm-6-1zm-4 0zm-8 0zm-6-1zm-6 2zm-17 2zm10-1zm21 0zm21 0zm7 2zm6-1zm21-1zm-42 4zm-1-1zm-12 0zm-7 1zm-47 4zm5-1zm27-1zm16 2zm9-1zm101 3zm-25 1zm-97 0zm-40 0zm57 1zm6 1zm78 0zm-87 2zm-45 4zm32-1zm1 2zm89-1zm16-1zm1 1zm-8 4zm-52-2zm-18 1zm-9 0zm-24 1zm-2-2zm-15 2zm5 2zm4 0zm44-1zm36 1zm26 1zm24 0zm5-1zm-7 2zm-5 2zm-4 0zm-137 0zm57 3zm46 0zm52-1zm2 2zm-15 2zm-18 0zm-143 3zm24 0zm116-1zm19-1zm12 2zm-34 1zm-11 2zm-17-1zm-11 1zm-16-1zm-39-1zm-32 2zm10 2zm78 0zm22 1zm12 0zm2-1zm6 0zm12 1zm2-2zm7 1zm5 1zm6 2zm-11-1zm-1 0zm-1 0zm-1 1zm-35 0zm-72-1zm-4 0zm-8 2zm-31 0zm76 2zm5-1zm85 0zm-85 3zm-51 0zm-8 2zm-5-1zm-5 1zm-4 1zm0 2zm12 0zm40-2zm3 2zm8 0zm9-1zm8 1zm7-1zm33-1zm3 0zm5 0zm3 0zm2 2zm0 1zm-10 2zm-4 0zm-15 0zm-18-1zm-21-1zm-9 2zm-22 0zm-27 0zm-17 0zm91 2zm8-1zm2 0zm9 0zm6 2zm9-1zm4 0zm8 0zm10-1zm2 3zm-39 1zm-9-1zm-42 2zm-23-2zm-38 5zm54-1zm8-1zm8 1zm5 0zm11 0zm29 1zm12-1zm-11 4zm-6 0zm-11-2zm-5 1zm-10 0zm-19 1zm-51-2zm-15 2zm-9-1zm0 0zm-18 0zm3 4zm43-1zm39 1zm4-1zm9 1zm21 0zm19 0zm13-1zm14 0zm15 0zm-26 2zm-10 0zm-2 1zm-8-1zm-1 2zm-16-1zm-1-1zm-2 0zm-16 1zm0 1zm-21-1zm-1 0zm-23 1zm-14 0zm-41-2zm10 5zm32-1zm6 0zm33-1zm7 2zm6-2zm2 0zm30 1zm47 0zm-12 4zm-20 0zm-1-1zm-6 0zm-57-1zm-67 2zm-4-2zm-2 2zm-2-2zm-13 1zm-2 1zm10 1zm14 0zm19 0zm0 0zm32 2zm15-2zm3 1zm8 0zm18 1zm17-2zm11 0zm9 0zm2 0zm40 3zm-66 2zm-16-2zm-3 0zm-9 0zm-8 2zm-10-1zm-42 1zm-27 0zm-11-2zm-11 0zm25 5zm6 0zm3-1zm5 1zm29 0zm9-2zm12 0zm4 2zm37-1zm9 0zm32-1zm-34 3zm-35 0zm-20 1zm-13-1zm-9 0zm-8 0zm-7 2zm-21 1zm2 2zm42-2zm18 0zm8 0zm5 0zm20 2zm17 0zm7 0zm-96 2zm-3-1zm-40 2zm-13 0zm5 2zm73 1zm24-2zm7 0zm7 0zm3 1zm30-1zm-8 3zm-2 0zm-27 2zm-7-1zm-12 1zm-6 0zm-5-1zm-31-1zm-10 1zm-76 3zm45-1zm5 0zm12 1zm10 1zm1 0zm3-2zm7 2zm10 0zm12-2zm2 1zm2 0zm7 0zm49 3zm-51-1zm0 2zm-58-2zm-39 3zm15 1zm10 0zm9 1zm26 0zm5 0zm0-1zm11 1zm11-2zm10 0zm6 1zm1 0zm10-1zm27 3zm-26 2zm-15-2zm-17 1zm-17-1zm-18 2zm-33-1zm14 4zm1-2zm10 2zm7 0zm6 0zm24-1zm49 0zm-14 4zm-9-2zm-39 1zm-12-1zm-10 2zm-13-2zm-2 2zm-32 3zm6-2zm8 0zm7 0zm1 2zm5-2zm7 2zm0-2zm11 1zm10 1zm16-2zm9 0zm5 1zm31 1zm-14 3zm-10-2zm-10 1zm-28-1zm-6 2zm-5 0zm-5-2zm-5 2zm-14 0zm-3-1zm-19 1zm-9 1zm7 1zm9 1zm15-2zm14 1zm4 0zm6 0zm12-1zm10 2zm6-1zm4 1zm27-2zm6 1zm-28 3zm-3-1zm-20 1zm-2-1zm0 2zm-45-2zm-5 2zm-8 1zm19 0zm2 1zm4 0zm28-1zm2 0zm43 0zm-54 5zm-25-1zm-7 0zm-6 0zm-4-1zm23 4zm19 4zm-17-1zm-3 0zm-13 1zm-7 3zm3-2zm17 0zm35 2zm32 1zm-11 1zm-37-1zm-22 0zm-10 2zm-2-2zm-2 1zm-1 0zm-13 2zm43 2zm49-1zm13-1zm-98 3zm-1 2zm10 2zm9 1zm54-2zm-74 3zm-6 4zm11 6z" stroke="#000" stroke-width="6" stroke-linecap="round" stroke-opacity="0.42"/><path transform="scale(0.5)" d="M1260 781zm10-1zm6 3zm-10 0zm-11 2zm20 6zm-19-2zm-44 0zm45 5zm11-2zm7 1zm0-1zm-5 3zm0 2zm-8 0zm-10-1zm-11 1zm-3-2zm-21 3zm41 1zm2 1zm6-2zm2 2zm1 0zm0 0zm6 0zm3 1zm-3 0zm0 1zm-3-1zm-9 2zm-7-2zm-8 1zm-33 0zm-11-1zm-10 4zm9 0zm19-1zm18 1zm6-1zm9 2zm6-2zm7 2zm3-1zm3 0zm4 1zm0 1zm-5 2zm-2-1zm-5-1zm-21 2zm-1 0zm-21-1zm-4 0zm-51 4zm42-1zm11-1zm1 1zm2-1zm0 2zm12 0zm1-2zm18 2zm2 0zm5-1zm5 0zm7-1zm3 2zm-9 2zm0 0zm0 1zm-9-1zm-6 0zm-15-1zm-8 2zm-12-1zm-6 0zm-5-1zm-1 1zm-8 0zm-3 2zm9 1zm4 0zm6 1zm11 0zm15 0zm11-2zm7 2zm13-2zm5 3zm-6 1zm-9 0zm-1-1zm-24 1zm0 1zm-39-1zm5 2zm1 0zm3 1zm9-1zm30 0zm16 0zm2 0zm7 1zm3 4zm-18-1zm-2 0zm-10-1zm-5 0zm-26 2zm-5 0zm-5-1zm-5 1zm-3-1zm-9 1zm-3-1zm-12 0zm-4 3zm19 0zm11-1zm14 2zm2-1zm35 2zm-12 0zm-40 0zm-1 2zm-12-1zm-26 1zm-3 1zm7 0zm2 0zm9 0zm8 1zm1 0zm1 0zm4 1zm47-1zm-13 3zm-8-1zm-13 0zm-19 1zm-14 3zm27-1zm21 2zm-30 2zm-8 1zm-11 0zm0 1zm15 2zm15 3zm-39-1zm-20 0zm-15 1zm-10 3zm17-1zm34 0zm8-1zm32 2zm70-2zm-4 3zm-27 0zm-52 0zm-36 2zm-15-1zm-23 4zm152-1zm6 2zm-13 1zm-4 1zm-57 0zm-3-1zm-39 0zm-1 0zm-37 2zm1 1zm3-1zm114 1zm15 0zm6 3zm-41 0zm-39-1zm-51 2zm-4 1zm12 1zm21 0zm55 1zm3-1zm23 0zm33-1zm-19 5zm-39-1zm-23 0zm-3 0zm-18 0zm-5 0zm-26 2zm103 0zm14 0zm3 0zm19 3zm-21 0zm-19 0zm-19 2zm-42 0zm-59 0zm103 1zm42 2zm21-2zm-15 4zm0-1zm-27 1zm-3-1zm-2 2zm-14-2zm-5 2zm-14-1zm-21 0zm-36-1zm-11 2zm-36 0zm-19-2zm25 5zm30 0zm9 0zm39-2zm5 2zm75 0zm21 1zm-30 2zm-5-1zm-11 1zm-27-2zm-8 2zm-7 0zm-123 1zm40 1zm8 1zm8-1zm47-1zm13 1zm3 1zm44-2zm5 1zm6 1zm20-1zm8 0zm-10 2zm-22 2zm-8-2zm-6 2zm-2-1zm-2 0zm-30 0zm-1 1zm-37 0zm-10 3zm57-1zm16 0zm6 1zm7-2zm2 0zm1 0zm9 2zm6-1zm17 1zm13 2zm-16-1zm-8 0zm-5 2zm-18 0zm-16-2zm-67 2zm-89 1zm26 2zm44-2zm36 1zm45-1zm8 2zm0-2zm6 0zm1 2zm16-1zm8 3zm-11 1zm-1-2zm-43 1zm-5-1zm-1 2zm-3 0zm-24 0zm-22-2zm-42 1zm52 2zm31 1zm18 1zm7 0zm0-2zm0 0zm10 1zm15 0zm0 2zm-24 0zm-14 2zm-7 0zm-20-2zm-2 2zm-71-1zm-6-1zm-18 0zm19 4zm10 0zm22-1zm23 1zm4-1zm15 1zm6-1zm4 0zm1 0zm10 2zm1 0zm6-2zm0 0zm37 1zm54 4zm-59-2zm-3 1zm-2-1zm-1 1zm-11 0zm-6 0zm-7-1zm-11 2zm-11 0zm-14-2zm-64 1zm-38-1zm79 4zm10-1zm3 2zm31-2zm5 1zm7 1zm54 1zm-37 2zm-14-2zm-9 1zm-15 1zm-5 0zm-9 0zm-3 0zm-4-2zm-7 2zm-11 0zm-1-2zm-12 2zm-1-2zm-21 0zm-6 3zm17 2zm49-1zm5 1zm1-2zm14 1zm33-1zm12 0zm25 4zm-6-1zm-66 1zm-15 1zm-18-2zm-13 1zm-31-1zm-17 0zm-3 2zm-15-2zm-12 0zm-4 2zm32 3zm37 0zm3 0zm5 0zm19-2zm3 1zm23 1zm5-2zm8 1zm4-1zm71 2zm-84 3zm-16-2zm-7 0zm-4 1zm-11-1zm-5 0zm-13 2zm-29 3zm26-2zm17 0zm110 4zm-72 1zm-4 0zm0-1zm-16-1zm-3 1zm-2-1zm-63 0zm-19 0zm-26 1zm44 4zm11 0zm4-2zm24 1zm4-1zm21 0zm76 0zm-38 3zm-40 1zm-16 1zm-4-1zm-24-1zm-1 0zm-8 0zm-7 0zm-4 2zm-23 0zm-4 2zm6 1zm8-1zm8 0zm10-1zm9 1zm36 0zm3-1zm6 2zm5-2zm48 4zm-41 0zm-10 0zm-13-1zm-12 2zm-21 0zm-6-1zm-2 0zm-8-1zm-25 0zm-5 0zm-17 5zm37-2zm12 1zm4 0zm2 1zm52-1zm24 0zm15 4zm-30-2zm-21 0zm-12 2zm-5-1zm-6 0zm0 1zm-12-2zm-25 2zm-8-2zm-12 2zm-8 0zm-9-2zm10 3zm14 2zm0 0zm2-2zm10 2zm4 0zm25-1zm32 1zm55-1zm-93 2zm-6 1zm-14 0zm-3-1zm-9 2zm-2-2zm-2 0zm-5 0zm-1 0zm-1 0zm-4 0zm-3 0zm-5 2zm-8-2zm2 5zm16 0zm0-2zm9 2zm10-1zm6 0zm2 1zm16-1zm22 1zm-16 2zm-36-1zm-19 1zm-9 1zm1 1zm3 1zm35-1zm8 2zm1 0zm15-2zm7 2zm-8 1zm-17 2zm-34-2zm-6 2zm-9-2zm9 4zm8 1zm10-2zm21 1zm10-1zm53 1zm-21 3zm-23-1zm-4 2zm-33-1zm-14-1zm-4 2zm-12 3zm9-1zm11 0zm5-1zm8 2zm23-1zm-26 2zm-25 0zm4 4zm3-1zm13 1zm21 0zm8-1zm0 0zm-11 5zm-33-2zm-2 0zm40 13zm-22-1zm-16 1zm-5-1zm-5 1zm2 4zm4 4z" stroke="#000" stroke-width="6" stroke-linecap="round" stroke-opacity="0.42"/><path transform="scale(0.5)" d="M1243 780zm35 0zm-5 3zm-4 1zm-6 3zm9-1zm4 2zm-2 1zm-40 4zm3 1zm3-1zm27 1zm3 0zm10 3zm-13-1zm-7 1zm0-1zm-9 1zm-4-2zm-5 0zm-18 2zm-15-1zm35 4zm2-2zm14 1zm6-1zm4 2zm11 0zm1-1zm-12 4zm0-1zm-3 1zm0 0zm-12-2zm-7 0zm-9 0zm-3 1zm-3 1zm-1 0zm-8 0zm-7 0zm-29 0zm19 3zm21 0zm18-1zm3 1zm7 0zm9-1zm6 0zm10 0zm2-1zm-39 5zm-3 0zm-15 0zm-13 0zm0-2zm-19 0zm-34 2zm62 1zm3 2zm39-1zm4 0zm7 1zm4-2zm1 2zm2-1zm-22 3zm-9-1zm-19 0zm-4 2zm-8 0zm-7-2zm-20 0zm-9 2zm-7-2zm5 4zm6-1zm3 0zm22 0zm5 0zm12 2zm6-2zm19 2zm2 0zm18-2zm2 2zm-3 3zm-12-1zm-9 0zm-16 0zm-15 1zm-9 0zm0 0zm-8-1zm-19-1zm-7 1zm-12-1zm-10 1zm14 4zm4-1zm10-1zm3 0zm35 0zm19 1zm11 2zm-58 1zm-12-1zm-1 2zm-1 0zm-9 0zm-1-2zm-3 0zm-8 2zm24 1zm82 3zm-5 0zm-45 2zm-1 0zm-11-1zm-33 0zm-6 1zm-25 3zm22-2zm18 1zm6-1zm14 1zm3 1zm5-1zm39 0zm-42 2zm-12 2zm-1-2zm-12 0zm-2 0zm-34 3zm7 1zm5 1zm12-1zm14 1zm14 3zm-22 0zm-43 3zm6-1zm18 1zm44 0zm45-2zm-48 4zm-21 1zm-24 0zm-13-1zm9 2zm18 0zm11 0zm10 0zm86 0zm8 5zm-18 0zm-31-1zm-46 1zm-23-2zm-10 0zm-9 1zm-4 0zm2 3zm23-1zm44 2zm50-1zm8 0zm-38 3zm-56-1zm-60 1zm16 3zm20-1zm0 2zm45-2zm60 1zm16 0zm-19 4zm-2 0zm-68-2zm-37 1zm-23 3zm87 1zm44 0zm0 0zm10 0zm6 0zm15-2zm0 1zm-13 4zm-10-2zm-107 2zm-16-2zm0 0zm-36 0zm71 4zm23 0zm54-1zm12 2zm8 0zm2-1zm0 2zm0 2zm-33-2zm-2 0zm-7 0zm-26 0zm-11 2zm-14-2zm58 5zm6-1zm3 0zm39 1zm-20 1zm-6 0zm-11 2zm-13-1zm-2 1zm-4-2zm-32 0zm-4 2zm-41-2zm-35 2zm-33 2zm87-1zm34 1zm14 0zm8 0zm1 1zm11-1zm37-1zm8 5zm-2-2zm-2 1zm-12 1zm-9 0zm-19 0zm-9-2zm-21 1zm-4 1zm-3-2zm-21 1zm-16 0zm-28-1zm-27 1zm7 2zm76 1zm16-1zm17 0zm13 1zm7-1zm15 2zm3-1zm6 0zm7 0zm-12 2zm-13 1zm-3 1zm-4 0zm-16-1zm-26 1zm-4-2zm-95 2zm-18 3zm7-1zm33 0zm9 0zm18-1zm12 2zm3 0zm9 0zm3-1zm7 0zm41 0zm1-1zm13 2zm13-1zm16 0zm1 1zm-6 1zm-3 2zm-9-1zm-20-1zm-16 2zm0-1zm-3 0zm-17-1zm-2 1zm-17 0zm-100 0zm-3 4zm28 0zm20-1zm4 0zm16 1zm12-1zm34-1zm15 0zm0 1zm10 0zm7 0zm27 1zm-33 3zm-118-1zm9 4zm36-1zm43 0zm23 0zm2-1zm3 2zm1-1zm41-1zm9 0zm-19 5zm0 0zm-10-1zm-9-1zm-8 1zm-2 1zm-5 0zm-1-1zm-32 1zm0-2zm-8 1zm-37-1zm-9 0zm0 1zm-5-1zm-3 0zm-29 0zm-13 2zm-3 3zm3-1zm21 0zm24 0zm26 0zm8-1zm33 2zm2-1zm35 1zm17 1zm-17 2zm0-1zm-10-1zm-29 0zm-21 0zm-12 2zm-5-2zm0 0zm-60 1zm12 3zm5-1zm11 1zm24 1zm30 0zm19-2zm14 0zm15 0zm4 1zm-1 3zm-3 0zm-24-1zm-15 2zm-12-1zm0 0zm-9 0zm-14-1zm-7 1zm-12 1zm-4-1zm-12 0zm-9-1zm18 4zm19 0zm11 1zm5-2zm2 0zm0 2zm16 0zm26-2zm42 1zm-40 2zm-10 1zm-24 1zm-18-2zm-9 2zm-10 0zm-3-1zm-24 1zm-34 3zm28-2zm15 2zm12-2zm23 2zm8-2zm-6 3zm-5 2zm-8-1zm-1 1zm-35-2zm-7 3zm19 0zm2 1zm1 0zm8 0zm7 0zm7-1zm9 2zm2 0zm3 0zm13-1zm29-1zm29 1zm-127 3zm-14 1zm-4-2zm-32 3zm22 2zm30-2zm11 2zm13-2zm6 2zm7 0zm25 0zm2-2zm14 0zm19 0zm20 1zm-53 2zm-15 1zm-28 1zm-34 0zm-36-1zm17 4zm0 0zm1-1zm2 1zm18 0zm6-1zm31-1zm2 1zm9 1zm9-1zm79 3zm-56 1zm-68 0zm-5-2zm-53 1zm-7 3zm25-1zm15 2zm4-2zm4 2zm11 0zm9-1zm3 0zm10-1zm24 0zm36 5zm-65-2zm-1 1zm-5 0zm-37 1zm-4 0zm-5-1zm-15 1zm-8-1zm-9 1zm-1 2zm48 1zm0-2zm14 2zm3-2zm28 1zm73-1zm-90 5zm-11 0zm-4-2zm-1 1zm-11 1zm-21-1zm-4-1zm-24 5zm30-2zm9 2zm11 0zm1-1zm27 0zm1-1zm-34 5zm-27-1zm-8 0zm-1 1zm-1 0zm-1 2zm1-1zm7 0zm5 2zm26-2zm2 0zm5 0zm46 0zm10 3zm-27 2zm-22-1zm-23 1zm-14-2zm-4 0zm-18 5zm23-1zm5 1zm9-2zm45 1zm27 0zm2 0zm0-1zm17 3zm-47 2zm-10-1zm-30-1zm-22 0zm-4 1zm-5 0zm18 4zm29 0zm6 0zm23-2zm-48 3zm-20 2zm-16 2zm21 1zm9 0zm33 3zm-33 0zm-14-2zm-4 2zm-7-2zm-2 0zm0 4zm4 0zm13 1zm-4 3zm-10 3zm20 0zm67 6zm-90 2zm-6 0zm0 1zm3 1zm5 0z" stroke="#000" stroke-width="6" stroke-linecap="round" stroke-opacity="0.42"/><path transform="scale(0.5)" d="M1266 774zm-1 3zm-17 4zm19 1zm11-2zm-5 4zm-13 0zm-2-1zm-1 0zm0 1zm-48 4zm42-1zm3-1zm17 2zm6 0zm3-2zm-23 5zm-37 0zm-3-1zm-20 4zm42-2zm26 0zm8 0zm5 0zm4 4zm-10 1zm-5 0zm-16 0zm-41-1zm-10 0zm7 4zm6-1zm7 0zm6 0zm28 1zm9-1zm7 0zm5 4zm-20 0zm-1-1zm-6-1zm-7 2zm-3-2zm0 2zm-2-2zm-9 2zm-31 2zm14 1zm8 0zm2 0zm15-1zm5 0zm4 1zm4 0zm14-1zm3 1zm4 0zm1 0zm6 0zm2 0zm0 1zm-2 1zm-11 1zm-2-1zm-7 1zm-37-2zm-20 1zm-8 0zm5 2zm34 0zm0 2zm14-1zm15 1zm3 0zm0 0zm2 0zm19 0zm-13 1zm-19 1zm-2 0zm-6-1zm-4 2zm-16-2zm-11 1zm-30 0zm-11-1zm-6 2zm37 1zm15 1zm3 0zm11-1zm8 1zm14-1zm2 0zm8 2zm15 0zm-8 2zm-22 0zm-6 1zm-8-2zm-1 0zm-11 1zm-15-1zm-1 1zm-22-1zm-23 5zm28 0zm8-1zm5 1zm12 0zm1-1zm12 0zm12 1zm10-2zm-1 4zm-6-1zm-2 2zm-25 0zm-6-1zm-9 0zm-13 1zm-49 1zm50 2zm7 0zm5-1zm6 0zm2 0zm4-1zm1 1zm7 1zm6-1zm4 1zm36 1zm-36 0zm-6 1zm-16 0zm-5 0zm-1-1zm-5 2zm-23-2zm-15 0zm-41 0zm54 3zm3 2zm1-1zm6 0zm17-1zm1 0zm3 2zm0 1zm-19 1zm-4-1zm-19 1zm-16 3zm3 1zm8-1zm32-1zm23 4zm-53 1zm-11-2zm-19 4zm14 0zm13 1zm21-2zm102 1zm-79 3zm-27 1zm-20 0zm-10-1zm-5-1zm-25 3zm33 0zm4 0zm5 0zm17 2zm19 0zm87 1zm-88 0zm-5 0zm-9 1zm-30 4zm3 0zm31-2zm84 1zm6-1zm9 0zm-8 3zm-117 2zm-3-1zm-1 1zm-24-2zm4 4zm47 1zm5-2zm5 1zm56-1zm28 1zm-121 3zm-6 0zm-21-1zm5 3zm6 2zm10 0zm2-2zm12 0zm86 2zm22-2zm-130 4zm69 2zm12 2zm19-2zm9 1zm4 0zm17 1zm17 3zm-11 0zm-29 0zm-4-1zm-29-1zm0 2zm-24-1zm-46-1zm-8 2zm-9-2zm-5 5zm10 0zm98 0zm44-2zm8 2zm1 0zm-54 1zm-9 1zm-7-1zm-17 2zm-24 0zm-50 0zm-11 1zm21 2zm25 0zm45 0zm34-1zm16 0zm12 1zm5-1zm1 0zm11 2zm-25 2zm0-1zm-5 0zm-1 0zm-1 1zm0 0zm-8-1zm-54 1zm-85 0zm29 2zm9 1zm66-1zm19-1zm34 2zm10 0zm-29 2zm-8 1zm-3-1zm-65 1zm-71 0zm42 1zm33 1zm33-1zm1 1zm41 0zm8 0zm11-1zm24 0zm2 0zm-28 4zm-37 0zm-2 0zm-54-1zm-39 4zm19-1zm1 2zm15-1zm9-1zm12 0zm17 1zm14 0zm8-1zm43 1zm0 1zm13-1zm4 3zm-36-1zm-46 2zm-24-2zm-2 2zm-10 0zm-14-2zm-16 1zm-5 1zm-27-2zm-24 0zm-10 3zm60 1zm15 1zm15-2zm8 2zm14 0zm0-2zm12 2zm30-2zm8 1zm-2 2zm-2 1zm-11 1zm-38 0zm-9-2zm-19 2zm-3 0zm-20 0zm-49-1zm0 3zm1 1zm58-1zm30 0zm4-1zm33 2zm19 0zm38 1zm-44 0zm-13 0zm-9 0zm-13 0zm-5 0zm-16 0zm-21 1zm-25 1zm-50 0zm57 2zm26 0zm3-1zm11 1zm4 1zm5 0zm13-1zm2 1zm21 0zm1 0zm13-1zm30-1zm0 0zm1 1zm-33 4zm-16-1zm-11 1zm-12-2zm-10 1zm-17 1zm-6-1zm-3 1zm-4-2zm-5 0zm-18 1zm-1-1zm-21 2zm-16-1zm33 4zm2-2zm17 2zm17 0zm11-1zm5 0zm5-1zm1 1zm5 0zm15 0zm8 0zm4-1zm2 3zm-10 2zm-26-1zm-20 1zm-5-2zm-14 0zm-1 0zm-1 2zm-5-1zm-13 1zm-14 0zm-2-1zm-3 2zm22 0zm3 2zm1 0zm2 0zm4-2zm23 0zm9 0zm16 0zm2 1zm2-1zm25 3zm-22 2zm-4 0zm-8 0zm-9-2zm-1 2zm-11-2zm-8 2zm-27-2zm-29 2zm-24 1zm18 0zm15 0zm34 0zm15 0zm4 0zm8 0zm18 1zm17-1zm8 1zm-2 3zm-31-1zm-20 1zm-4 1zm-11 0zm-11-1zm-22 0zm-10-1zm-13 1zm-7 0zm10 4zm13-2zm6 0zm19 0zm8 1zm7 1zm5-2zm20 1zm52 1zm-27 2zm-49 1zm-11-1zm-46 1zm20 2zm0 0zm12-1zm13 0zm2 1zm5 1zm3-2zm8 2zm33 3zm-5 0zm-19-1zm-13 0zm-6 1zm-12-1zm-23-1zm-6 1zm-3 0zm-15 0zm-28-1zm13 5zm18-1zm26 0zm25-1zm42 0zm-14 4zm-44 0zm-16-1zm-3 2zm-7 0zm-28-2zm-4 2zm-3 3zm33 0zm42-1zm3-1zm10 0zm12 0zm-6 3zm-48 1zm-16 1zm-29-1zm-1 0zm-12 1zm-3 2zm2 0zm3 0zm15-1zm1 1zm34-1zm9 0zm2 0zm8 2zm15 0zm4-1zm19-1zm-38 5zm-16 0zm-3-2zm-15 1zm-1 0zm-3 0zm-10 1zm-19-2zm-3 4zm4-1zm17 2zm48 0zm30-2zm24 2zm-41 1zm-41 0zm-3 1zm-6 0zm-28 4zm10-1zm6 1zm59 2zm-24 1zm-14 0zm-3 0zm-11 0zm-18-1zm-9 1zm-4-2zm3 4zm16 1zm59-1zm17 3zm-48-1zm-23 0zm-20 3zm3 0zm1 2zm14-2zm34 2zm15 0zm17-2zm-75 5zm-5 0zm1 2zm49 0zm-53 6zm18 1zm19-2zm-29 3zm3 3z" stroke="#000" stroke-width="6" stroke-linecap="round" stroke-opacity="0.42"/><path transform="scale(0.5)" d="M1260 775zm17-1zm6 6zm-22 5zm-23 1zm34 2zm6-1zm-10 3zm-36 4zm6-1zm3-1zm19 1zm5-1zm10 0zm3 0zm5 3zm-11 1zm-25 1zm0 0zm-27 2zm37 1zm1-2zm8 2zm6-1zm1-1zm4 1zm-19 2zm-13 0zm-1 1zm-69 3zm7 1zm27-2zm12 2zm0-1zm3 0zm34 1zm5 0zm10 0zm2 3zm-10-2zm-8 2zm-8-2zm-31 1zm-19 1zm-6-1zm-8 0zm-7 4zm5-2zm55 1zm5 0zm8 0zm1 1zm22 2zm-12-1zm-8 1zm-4-1zm-3 1zm-1-1zm-2 2zm-3-2zm-5 1zm-3 0zm-4 1zm-17-1zm-23-1zm-12 5zm13 0zm7 0zm3-1zm1 1zm0 0zm13-1zm6 0zm4 1zm4-1zm2 0zm0 1zm19-2zm0 0zm6 2zm0-2zm1 0zm6 0zm15 2zm6 3zm-6-1zm-20 0zm-1 0zm-13-1zm-17 0zm-33 2zm-9-1zm-18-1zm-17 2zm14 1zm9 2zm5 0zm7-2zm6 1zm7 1zm19-2zm5 1zm2 1zm3-1zm1 1zm14 0zm5-1zm20 3zm-9-1zm-26 1zm-2 0zm-14 0zm-3 1zm-11 0zm-5 0zm-5 0zm-31-2zm11 4zm6-1zm16 0zm6 2zm1-2zm14 1zm6 1zm3 0zm5-1zm30 0zm6 2zm-33 0zm-4 0zm-21 2zm-3-1zm-12 1zm0-1zm-5 1zm-11 0zm-12-2zm-21 3zm8 0zm23 1zm0-1zm24 1zm21 1zm5-1zm4-1zm19 1zm-36 4zm-4-1zm-21 0zm-5 0zm-29 3zm34 4zm-3-1zm-10 0zm-4 1zm-16-2zm-3 2zm-13 0zm18 3zm22-1zm2-1zm4 1zm8 4zm-11 0zm-31-2zm-19 5zm5-2zm37 1zm3 1zm24-1zm64 0zm-78 4zm-3 0zm-2-1zm-31 0zm-36 0zm18 4zm8-2zm31 2zm6-2zm78 4zm-10-1zm-63 2zm-29-1zm-14 1zm-2 0zm-8-2zm-5 2zm19 1zm28 2zm51-2zm49 1zm-21 2zm-1 1zm-56-1zm-61 4zm27-1zm101 2zm7-2zm1 4zm-5 1zm-2-2zm-1 0zm-16 0zm-65 0zm-3 1zm-25-1zm-32 2zm15 1zm8 0zm117 0zm16 1zm4 1zm3-2zm2 0zm-5 5zm-128-2zm54 5zm1 0zm19-1zm57-1zm0 4zm-1-1zm-5 1zm-6 0zm-3 1zm0-1zm-78-1zm-49 0zm-3 0zm59 3zm9 1zm6-1zm38 2zm22-1zm0 2zm-19 1zm-5 1zm-11 0zm-8-1zm-13 1zm-10-2zm-12 1zm-69-1zm-8 1zm-4-1zm-8 2zm6 1zm118 1zm5-1zm7 2zm16-2zm13 2zm8-2zm8 0zm-16 4zm-14 1zm-19 0zm-2-2zm-4 1zm-4 0zm-8 1zm-2 0zm-4 0zm0-2zm-7 0zm-77 0zm-29 0zm23 5zm82-2zm6 1zm28-1zm41 2zm6 1zm-16 2zm-4 0zm-4-1zm-39-1zm-5 2zm-7-1zm-2-1zm-10 0zm-10 1zm-13 1zm-18-2zm-23 2zm-4 0zm-6 0zm29 3zm11-2zm48 2zm25-2zm7 0zm10 5zm-7 0zm-14-2zm-2 1zm0 1zm-4-1zm-37 0zm-5 0zm-2 0zm-23-1zm-3 1zm-62-1zm-7 1zm-7 1zm85 3zm18 0zm9 0zm30-2zm35 3zm-26 2zm-12-1zm-10 0zm-6 1zm-7 0zm-21-1zm-3-1zm-4 2zm-36-1zm-2-1zm-9 2zm-35 0zm33 2zm58-1zm2 0zm13 0zm2 0zm4 0zm1 2zm15-2zm19 0zm27 3zm-23 0zm-14 0zm-19 2zm-8-2zm-31 0zm-9 2zm-4 0zm-4-1zm-2-1zm-7 2zm0-1zm-2 0zm-36 1zm-12-1zm-21 0zm7 3zm8 1zm20 0zm20-2zm46 0zm7 0zm7 2zm1 0zm10-1zm2 0zm0 0zm25-1zm38 2zm-31 3zm-2-1zm-44 1zm-8-1zm-4 1zm-1-2zm-11 2zm-19 0zm-7-1zm-25 0zm-5 1zm-16 0zm-7-2zm-6 1zm7 4zm9-2zm32 0zm20 2zm6-1zm21 1zm20-2zm24 0zm31 1zm-39 2zm-15 0zm-5 0zm-16 2zm-18-2zm-5 2zm-13 0zm-11-2zm0 0zm-17 0zm-33 2zm-19-2zm41 4zm18 1zm45-2zm7 2zm106 0zm-38 1zm-127 0zm-19 1zm-5 0zm-7-1zm-15 2zm-27 3zm31 0zm14-2zm6 2zm8-1zm11 0zm5 0zm10 1zm11-2zm20 0zm11 0zm7 0zm5 0zm16 0zm1 0zm7 3zm-46 0zm-7 0zm-1 1zm-2 0zm-35-1zm-4 2zm-11-2zm-1 1zm-11-1zm-4 2zm-7 0zm-2-1zm0 1zm-1 0zm-28 3zm28-2zm1 1zm30 1zm1 0zm14 0zm12-2zm3 2zm5 0zm30 0zm12-2zm3 1zm-11 4zm-27-1zm-22 1zm-5 0zm-13 0zm-40 0zm-28-1zm59 2zm2 2zm18 0zm1 0zm36-2zm2 2zm21 0zm-33 3zm-23 0zm-2-1zm-24 0zm-22 0zm-21-1zm26 5zm1-2zm26 1zm13 0zm2-1zm1 0zm44 5zm-95 0zm-2-1zm-25 1zm-9 1zm5 0zm14 0zm10 2zm5 0zm4-1zm8 0zm11 0zm1 1zm14 0zm7-1zm30 1zm-16 2zm-27-1zm-21 0zm-4 0zm-17 1zm-1 0zm-3 0zm-13-1zm31 3zm12 0zm26 2zm18-1zm7 3zm-13 0zm-44-1zm-32 1zm-9 0zm2 2zm8 0zm9 2zm1-1zm31 1zm10-2zm41 5zm-43 0zm-22 0zm-30-1zm-1 1zm-11-2zm2 3zm10 1zm4 0zm4 1zm8-1zm3-1zm3 0zm0 1zm24 1zm7 0zm34 0zm-58 1zm-14 1zm-20 0zm-5-1zm66 4zm-3 3zm-37 1zm-25-1zm21 3zm5 0zm28 1zm9-2zm-34 14zm16-2zm-32 5zm-13-1zm-2 8zm23 0z" stroke="#000" stroke-width="6" stroke-linecap="round" stroke-opacity="0.42"/><path transform="scale(0.5)" d="M1269 774zm9 0zm0 2zm-4 6zm4-1zm-58 4zm12 2zm14 1zm30 0zm-14 2zm-6-1zm-8 2zm-18 3zm15-2zm4 2zm3 0zm15-2zm6 2zm2-2zm5 0zm3 5zm-9-1zm-8 1zm-2-2zm-2 0zm-8 1zm-3-1zm-18 0zm-30 2zm44 3zm1-2zm7 0zm6 1zm8 0zm1-1zm0 0zm5 0zm3 2zm-34 1zm-14 2zm-2 0zm-40-1zm22 3zm24 0zm41 1zm8 1zm-14 1zm-10-1zm-2 2zm-1-1zm-4 0zm-5-1zm-5 2zm0-1zm-5 0zm-7-1zm-6 2zm-4 0zm-4 0zm0-1zm-2 0zm-27 0zm-11-1zm31 5zm20-2zm7 1zm6 0zm2 0zm6 1zm1-1zm2 1zm9-2zm9 2zm3 0zm5 1zm-18 1zm-15 0zm-11-1zm-6 0zm-31 2zm-11-2zm-10 1zm-7 1zm42 2zm10 0zm18-1zm38 3zm-19 2zm-13-2zm-5 1zm-6 1zm-13 0zm-40-1zm-21 0zm27 4zm9-1zm6-1zm4 0zm1 2zm8-1zm5 1zm0-1zm9 0zm1 1zm13 0zm15-1zm12 1zm-15 2zm-44 1zm-12 0zm-8 0zm-4-2zm-5 0zm-1 3zm13 0zm11 1zm3 0zm3-1zm0 2zm5-1zm57 2zm-35 1zm-23-1zm-25 2zm-23-2zm-40 4zm15 0zm47-1zm13 1zm1-1zm0 0zm61 0zm-101 8zm4-2zm1 1zm3 0zm4-1zm87 0zm-99 5zm-7 2zm44 1zm81 2zm-102 1zm-37 3zm20-2zm8 2zm9 0zm3-1zm3-1zm61 0zm24 3zm-79 1zm-1-1zm-11 2zm-1-1zm-11 0zm-14 0zm-18-1zm-1 4zm13-1zm11 1zm31 1zm1-1zm76-1zm5 4zm-16 1zm-5 0zm-79-2zm-15 1zm-18-1zm-8 1zm102 4zm35-1zm13-1zm4 2zm-1 3zm-7-2zm-18 1zm-90 1zm-51-1zm-5 4zm5-1zm11-1zm7 1zm9 0zm9-1zm20 0zm19 0zm17 1zm43 1zm2-1zm30 4zm-22-2zm-28 2zm-10-1zm-78 3zm80 0zm40 0zm1 1zm17 2zm-5 1zm-20-1zm-6 0zm-24 1zm-23-1zm-26-1zm-15 1zm-8 1zm-1-1zm-17 0zm-28 4zm70 0zm2 0zm30-2zm15 0zm3 0zm27 0zm7 1zm5 1zm14 1zm-18 0zm-3 2zm-4-1zm-21 0zm-1-1zm-17 0zm-14 2zm0-1zm-10 1zm-36-2zm-22 4zm2 0zm74-1zm25 1zm16 1zm5-2zm-6 5zm-6-2zm-8 1zm-4 1zm-9-1zm-1 1zm-10-2zm-53 2zm-17-2zm-39 2zm0 2zm46-1zm23 1zm19-1zm12 2zm20 0zm20 0zm24 0zm1 0zm9-2zm2 1zm-9 2zm-14 2zm-5 0zm-12-2zm-4 2zm-72 0zm-44-1zm-16 2zm9 1zm8 0zm4-1zm41 1zm11 1zm11-2zm20 0zm1 2zm1-1zm0 0zm66 1zm-18 3zm-14-1zm-6-1zm-7 0zm-10 2zm-2-2zm-15 1zm-4 0zm-39-1zm-54 2zm19 2zm71 1zm8 0zm22 3zm-8-1zm-26 0zm-16-1zm-5 0zm-8 0zm-33 2zm-66-2zm35 4zm11 0zm48-1zm1 1zm30-1zm10 1zm8 1zm12-1zm7 0zm15 0zm10 0zm16-1zm-22 4zm-29 1zm-5-2zm-12 1zm-10-1zm-3 1zm0 1zm-124 3zm34-1zm41-1zm20 1zm1 0zm8 0zm25 1zm2-1zm8 0zm6-1zm52 5zm-8-1zm-38 0zm-42 0zm-8-1zm-2 2zm-19-1zm-11-1zm-25 1zm-4-1zm-27 5zm17-2zm18 1zm11 0zm11 0zm12-1zm10 1zm5 1zm17 0zm2 0zm13-1zm14 2zm-9 2zm-1-2zm-15 0zm-16 1zm-14 0zm-18 1zm-6 0zm-40 0zm-7 1zm52 0zm7 2zm9-2zm5 0zm0 1zm2 0zm10-1zm27 1zm59 0zm-29 3zm-8 0zm-40 1zm-6-2zm-2 2zm-12-2zm-6 2zm-9 0zm-4-2zm-9 2zm-15-1zm-4 1zm-13-1zm-26 0zm5 4zm4 0zm11-1zm24 0zm29 1zm0-1zm7-1zm3 0zm27 0zm52 1zm47-1zm-152 3zm-2 2zm-34-1zm-1 1zm-4-1zm-12-1zm-11 3zm10 2zm1-2zm6 0zm1 0zm6 1zm1 1zm37 0zm3 0zm8-1zm1-1zm14 2zm5 0zm2 0zm2-1zm10 1zm23-2zm-73 3zm-4 2zm-3-1zm-11-1zm-1 2zm-14-2zm-10 1zm-14 1zm-20 1zm2 2zm8-1zm56 1zm1-1zm16 0zm15 1zm9-2zm12 2zm6-2zm0 2zm24-1zm2-1zm2 0zm5 3zm-48 0zm-41 1zm-8 1zm-7-1zm-1-1zm-2 1zm-1-1zm-13 0zm-4 1zm-6 0zm-2 1zm-17-1zm0 1zm-7-1zm52 3zm8 1zm2-1zm23 1zm26-1zm-44 3zm-9 1zm-14 0zm-14 0zm-3 0zm0-1zm-3 1zm-17-2zm-8 4zm21 1zm25 0zm0-2zm2 2zm0 0zm13-1zm12 0zm1 1zm6 0zm33-2zm-50 3zm-2 1zm-1-1zm-6 1zm-57-1zm0 0zm-6 0zm-4 2zm8 1zm9 0zm12 2zm4-1zm8-1zm37 0zm34 4zm-2-1zm-58 2zm-13 0zm-24 0zm-23 1zm13 2zm33-1zm75 3zm-1 1zm-32-2zm-20 2zm-3-2zm-46 1zm-11 1zm-1-1zm-3-1zm-3 0zm6 3zm16 0zm23 1zm9 1zm1 0zm37 0zm65 1zm-93 2zm-37 0zm-22 2zm4 1zm4-1zm2 0zm36 1zm31-2zm-14 4zm-8-1zm-23 1zm-13 1zm-5-2zm-18 1zm37 2zm39 5zm-34-2zm-4 0zm-2 0zm-21 2zm0-1zm-19 0zm6 4zm10 0zm17 0zm21 3zm-34 0zm-10-1zm-2 3zm16 1zm26 0zm-33 3zm-1 0zm-14-1zm29 6zm-23-1z" stroke="#000" stroke-width="6" stroke-linecap="round" stroke-opacity="0.42"/><path transform="scale(0.5)" d="M1263 774zm13 0zm0 0zm-5 5zm0-1zm-24 4zm30 3zm-2-2zm-45 0zm-37 4zm40 1zm11-1zm4 0zm0 1zm6-1zm14 0zm11 2zm-2 0zm-7 1zm-1-1zm-31 3zm8 1zm8-1zm11 2zm17 2zm-10-1zm-11 0zm-5 2zm-21-1zm-56 2zm66 1zm0-1zm2 2zm5-1zm1 0zm6-1zm19 1zm1-1zm1 2zm-8 2zm-5 0zm-2 0zm-14 1zm-4 0zm0-1zm-13 1zm-5 0zm-3 0zm-1 0zm-19 3zm3-2zm3 1zm16-1zm10 0zm31 0zm0 4zm-12 1zm0 0zm-3 0zm-10 0zm-11-1zm-11 1zm-1-1zm-1-1zm-38 3zm0 2zm4-2zm36 2zm2 0zm22-2zm15 0zm-3 4zm-13 1zm-21-1zm-17-1zm-4 0zm-29 1zm-7 1zm0 3zm6-1zm12 1zm4-2zm0 2zm6 0zm24-1zm14 1zm19-1zm9 0zm9 3zm-15-1zm-2 0zm-4 2zm-5 0zm-22 0zm-8-2zm-13 0zm-24 1zm-7 2zm3 2zm21-1zm4 1zm3-1zm3 0zm1 1zm7-2zm11 0zm4 1zm11 0zm19 1zm16 0zm6 0zm-23 1zm0 0zm-11 2zm-22-2zm-1 2zm-3-1zm-19-1zm-31 1zm-11 4zm18 0zm21-2zm18 0zm7 2zm31-2zm-10 3zm-6 0zm-7 0zm-11 1zm-4 0zm-8-1zm-6 2zm-7-2zm-3 0zm0 2zm-3-2zm-59 5zm26-2zm14 1zm16-1zm4 0zm3 2zm5-1zm14-1zm18 2zm3-2zm-38 4zm0 0zm0 1zm-3-1zm-3 0zm-15-1zm-14 1zm-23 0zm15 4zm0-2zm7 2zm37 2zm-58 4zm24-1zm3-1zm4 0zm18 1zm72-1zm21 0zm-2 4zm-2 1zm-72 0zm-32-2zm-7 1zm-22 1zm22 2zm3 1zm4 0zm1-2zm18 3zm-61 5zm46 0zm0 0zm21 0zm76-1zm-7 3zm-3 0zm-5 0zm-114 1zm-5-2zm96 5zm36-1zm4 1zm6 0zm-5 1zm-17 0zm-10 1zm-105-1zm-31 5zm21 0zm75-1zm54-1zm20 1zm-12 4zm-24-1zm-4 1zm-3 0zm-17-2zm-11 1zm-33 1zm-7 0zm-61 0zm-13-1zm25 4zm42 0zm91-1zm1 1zm13-2zm7 2zm7 1zm-11 1zm-19 0zm-54 1zm-84-1zm-3 0zm8 3zm2-1zm3 0zm9 1zm35 0zm44 0zm33-1zm3 1zm7 1zm15 0zm10 2zm-10 0zm-4 1zm-13-2zm-67 2zm-22 0zm29 1zm1 1zm2-1zm57 1zm4-1zm0 4zm-20 0zm-28 0zm0 0zm-1 0zm-15 0zm-2-1zm-16 2zm-13-2zm-58 2zm-10-2zm73 3zm48 1zm13-1zm21 1zm3-1zm17 2zm5 0zm4-2zm-10 4zm-2 0zm-15 1zm-20-1zm-2-1zm-1 2zm-31-2zm-4 1zm-11-1zm-19 0zm-43 1zm-2-1zm-10 2zm27 2zm7 1zm45 0zm3 0zm20-1zm4 1zm27-2zm8 1zm9 3zm-11 0zm-8 1zm-28 0zm-5-1zm-31-1zm-41 2zm-11-2zm-18 5zm68-2zm8 2zm8 0zm39-2zm26 2zm-90 2zm-60-1zm43 3zm15 0zm3 0zm8 0zm13 1zm4 1zm12-2zm10 0zm1 2zm35 0zm15 1zm-23 2zm-1-1zm-6 0zm-10 1zm-18 0zm-20-2zm-18 1zm-6 0zm-18 0zm-1 1zm-16 0zm-5 0zm-9-1zm0 1zm-2-1zm-6 0zm42 4zm5-1zm2 1zm0 0zm31-2zm4 1zm28 1zm1-1zm6 1zm12 0zm17 0zm-48 1zm-6 2zm0-1zm-7 1zm-18 0zm-14-1zm-16 1zm-24-1zm-12 0zm-31-1zm-15 0zm26 3zm37 0zm10 1zm10 1zm5 0zm15-2zm15 1zm15 0zm1 0zm38 0zm26-1zm-25 5zm-41 0zm-4-2zm-10 0zm-12 2zm-64-1zm-30-1zm-14 2zm63 3zm29-2zm6 1zm8 0zm14 1zm3 0zm1 0zm16-1zm41-1zm-26 3zm-17 0zm-1 2zm-5 0zm-9 0zm-3 0zm-8-1zm-8 1zm-9-2zm-7 2zm-5-1zm-15 0zm-15 1zm-17-1zm-24-1zm-45 4zm51-1zm12 2zm12 0zm46-2zm0 1zm1 0zm12 0zm5 0zm7 1zm21-2zm5 0zm6 5zm-14-1zm-10 1zm-2-1zm-7-1zm-9 1zm-8 1zm-9-1zm-13-1zm-28 0zm-16 1zm-17 4zm19-2zm42 0zm8 1zm10 1zm30-2zm28 2zm7 0zm-46 3zm-22-2zm-1 1zm-8-1zm-16 2zm-3-1zm-5 0zm-8 0zm-7-1zm-3 0zm0 1zm-7 1zm-19-1zm0 1zm-13 0zm-23 3zm39-2zm11 0zm27 2zm19 0zm1 0zm7 0zm8 0zm12 0zm1-2zm-47 3zm0 1zm0 0zm-31-1zm0 1zm-19 0zm-4 1zm10 2zm2-1zm3 2zm24 0zm9-2zm6 2zm14-1zm8 0zm-2 4zm-16-1zm-10 0zm-28-1zm-4 2zm-3-1zm-5 1zm11 1zm1 0zm35 2zm18-2zm18 0zm-32 5zm-6-2zm-1 0zm-27 0zm-12 0zm-4 2zm-1-1zm-16 1zm-23-2zm-2 1zm-4 1zm4 3zm16-2zm1 0zm26 2zm6 0zm1-2zm17 2zm107 1zm-90 0zm-44 0zm-11 1zm-13 0zm6 4zm4-2zm4 1zm25-1zm12 2zm35 0zm7 3zm-13-2zm-23 1zm-10 1zm-31-1zm-16-1zm-8 0zm13 4zm24-1zm34 1zm3-1zm2 5zm-3 0zm-4-2zm-14 0zm-15 0zm-27 0zm-20 0zm-1 0zm11 5zm5-1zm1 1zm34-1zm55 2zm-65 2zm-6-1zm-7 0zm-34 1zm22 2zm27-1zm25 0zm9 2zm-36 1zm-36 5zm11 0zm1 0zm17-2zm-33 5zm11 2zm46 1zm-63 6zm15 0zm4 0zm4-1zm6-1zm-27 5zm5 7zm4 0z" stroke="#000" stroke-width="6" stroke-linecap="round" stroke-opacity="0.42"/><line x1="509.8" y1="490.1" x2="641.8" y2="424.2" stroke="#0000ff" stroke-width="1.5"/><path d="M507.8 379.2V372.8H514V379.2M514 379.2V366.8H520.1V379.2M520.1 379.2V366.2H526.3V379.2M526.3 379.2V366.2H532.5V379.2M532.5 379.2V366.8H538.6V379.2M538.6 379.2V366.2H544.8V379.2M544.8 379.2V366.2H551V379.2M551 379.2V366.8H557.1V379.2M557.1 379.2V366.2H563.3V379.2M563.3 379.2V366.2H569.5V379.2M569.5 379.2V366.8H575.6V379.2M575.6 379.2V366.2H581.8V379.2M581.8 379.2V366.2H588V379.2M588 379.2V366.8H594.2V379.2M594.2 379.2V366.2H600.3V379.2M600.3 379.2V366.2H606.5V379.2M606.5 379.2V366.8H612.7V379.2M612.7 379.2V366.2H618.8V379.2M618.8 379.2V366.2H625V379.2M625 379.2V366.8H631.2V379.2M631.2 379.2V366.2H637.3V379.2M637.3 379.2V372.8H643.5V379.2" fill="#4fb47f" stroke="#1f3f2a" stroke-width="0.45"/><text x="505.5" y="367.5" font-size="2.6" text-anchor="end" fill="#333">600</text><text x="505.5" y="370.5" font-size="2.6" text-anchor="end" fill="#333">400</text><text x="505.5" y="373.5" font-size="2.6" text-anchor="end" fill="#333">200</text><text x="505.5" y="376.5" font-size="2.6" text-anchor="end" fill="#333">100</text><text x="505.5" y="379.5" font-size="2.6" text-anchor="end" fill="#333">0</text><path d="M651.7 385.8H652.3V389.7H651.7M651.7 389.7H652.6V393.6H651.7M651.7 393.6H653.3V397.5H651.7M651.7 397.5H654.3V401.4H651.7M651.7 401.4H655V405.3H651.7M651.7 405.3H655V409.2H651.7M651.7 409.2H654.2V413.1H651.7M651.7 413.1H653.2V416.9H651.7M651.7 416.9H652.6V420.8H651.7M651.7 420.8H652.4V424.7H651.7M651.7 424.7H652.9V428.6H651.7M651.7 428.6H654.7V432.5H651.7M651.7 432.5H658.6V436.4H651.7M651.7 436.4H663.7V440.3H651.7M651.7 440.3H666.3V444.2H651.7M651.7 444.2H666V448.1H651.7M651.7 448.1H662.3V452H651.7M651.7 452H658.8V455.9H651.7M651.7 455.9H657.5V459.8H651.7M651.7 459.8H657.7V463.7H651.7M651.7 463.7H658.3V467.6H651.7M651.7 467.6H658.6V471.5H651.7M651.7 471.5H658.4V475.3H651.7M651.7 475.3H657.6V479.2H651.7M651.7 479.2H656.5V483.1H651.7M651.7 483.1H655.3V487H651.7M651.7 487H654.2V490.9H651.7M651.7 490.9H653.4V494.8H651.7M651.7 494.8H652.8V498.7H651.7M651.7 498.7H652.5V502.6H651.7" fill="#e2731d" stroke="#3a1a00" stroke-width="0.4"/><line x1="651.7" y1="383" x2="651.7" y2="510" stroke="#ddd" stroke-width="0.4"/><text x="499.5" y="386.3" font-size="3.2" text-anchor="end" fill="#444" textLength="4.4" lengthAdjust="spacingAndGlyphs">0.8</text><line x1="500.2" y1="385.3" x2="502" y2="385.3" stroke="#888" stroke-width="0.4"/><text x="499.5" y="418" font-size="3.2" text-anchor="end" fill="#444" textLength="4.4" lengthAdjust="spacingAndGlyphs">0.6</text><line x1="500.2" y1="417" x2="502" y2="417" stroke="#888" stroke-width="0.4"/><text x="499.5" y="449.8" font-size="3.2" text-anchor="end" fill="#444" textLength="4.4" lengthAdjust="spacingAndGlyphs">0.4</text><line x1="500.2" y1="448.8" x2="502" y2="448.8" stroke="#888" stroke-width="0.4"/><text x="499.5" y="481.5" font-size="3.2" text-anchor="end" fill="#444" textLength="4.4" lengthAdjust="spacingAndGlyphs">0.2</text><line x1="500.2" y1="480.5" x2="502" y2="480.5" stroke="#888" stroke-width="0.4"/><text x="499.5" y="513.3" font-size="3.2" text-anchor="end" fill="#444" textLength="4.4" lengthAdjust="spacingAndGlyphs">0.0</text><line x1="500.2" y1="512.3" x2="502" y2="512.3" stroke="#888" stroke-width="0.4"/><text x="509.8" y="521.2" font-size="3.2" text-anchor="middle" fill="#444" textLength="5.8" lengthAdjust="spacingAndGlyphs">0.00</text><text x="542.8" y="521.2" font-size="3.2" text-anchor="middle" fill="#444" textLength="5.8" lengthAdjust="spacingAndGlyphs">0.25</text><text x="575.8" y="521.2" font-size="3.2" text-anchor="middle" fill="#444" textLength="5.8" lengthAdjust="spacingAndGlyphs">0.50</text><text x="608.8" y="521.2" font-size="3.2" text-anchor="middle" fill="#444" textLength="5.8" lengthAdjust="spacingAndGlyphs">0.75</text><text x="641.8" y="521.2" font-size="3.2" text-anchor="middle" fill="#444" textLength="5.8" lengthAdjust="spacingAndGlyphs">1.00</text><text x="651.5" y="516.9" font-size="3.0" text-anchor="middle" fill="#444">0</text><text x="658.7" y="516.9" font-size="3.0" text-anchor="middle" fill="#444">500</text><text x="664.6" y="516.9" font-size="3.0" text-anchor="middle" fill="#444">1000</text><text x="577.2" y="526.6" font-size="4.9" text-anchor="middle" font-weight="bold" textLength="25" lengthAdjust="spacingAndGlyphs">Stem Score</text><text x="490.6" y="447" font-size="5.0" text-anchor="middle" font-weight="bold" transform="rotate(-90 490.6 447)" textLength="19" lengthAdjust="spacingAndGlyphs">TRS Score</text><text x="501" y="361" font-size="4.8">t</text><text x="503" y="362.3" font-size="2.7" textLength="10.5" lengthAdjust="spacingAndGlyphs">Student</text><text x="514.2" y="361" font-size="4.8" textLength="54" lengthAdjust="spacingAndGlyphs">(13481) = 173.97, p = 0.00,</text><text x="569.6" y="361" font-size="4.8">r</text><text x="569.4" y="358.3" font-size="3.0">^</text><text x="572.6" y="362.3" font-size="2.7" textLength="12.5" lengthAdjust="spacingAndGlyphs">Pearson</text><text x="586.3" y="361" font-size="4.8" textLength="19.5" lengthAdjust="spacingAndGlyphs">= 0.83, CI</text><text x="606.2" y="362.3" font-size="2.7" textLength="6.5" lengthAdjust="spacingAndGlyphs">95%</text><text x="613.8" y="361" font-size="4.8" textLength="22.8" lengthAdjust="spacingAndGlyphs">[0.83, 0.84],</text><text x="637.6" y="361" font-size="4.8">n</text><text x="640.3" y="362.3" font-size="2.7" textLength="7" lengthAdjust="spacingAndGlyphs">pairs</text><text x="648.6" y="361" font-size="4.8" textLength="18.8" lengthAdjust="spacingAndGlyphs">= 13,483</text><text x="569.5" y="534" font-size="3.8" textLength="5.5" lengthAdjust="spacingAndGlyphs">log</text><text x="575" y="535" font-size="2.4">e</text><text x="577" y="534" font-size="3.8" textLength="5" lengthAdjust="spacingAndGlyphs">(BF</text><text x="582" y="535" font-size="2.4">01</text><text x="585" y="534" font-size="3.8" textLength="7" lengthAdjust="spacingAndGlyphs">) = -</text><text x="593" y="532" font-size="2.0" textLength="9" lengthAdjust="spacingAndGlyphs">posterior</text><text x="593" y="535.6" font-size="2.0" textLength="9" lengthAdjust="spacingAndGlyphs">Pearson</text><text x="603" y="534" font-size="3.8" textLength="17" lengthAdjust="spacingAndGlyphs"> = 0.83, CI</text><text x="620" y="535" font-size="2.2">ETI</text><text x="625" y="534" font-size="3.8" textLength="27" lengthAdjust="spacingAndGlyphs"> [0.83, 0.84], r</text><text x="652" y="535" font-size="2.2">Cauchy</text><text x="659.5" y="534" font-size="3.8" textLength="8" lengthAdjust="spacingAndGlyphs"> = 1.41</text></svg></body></html>
